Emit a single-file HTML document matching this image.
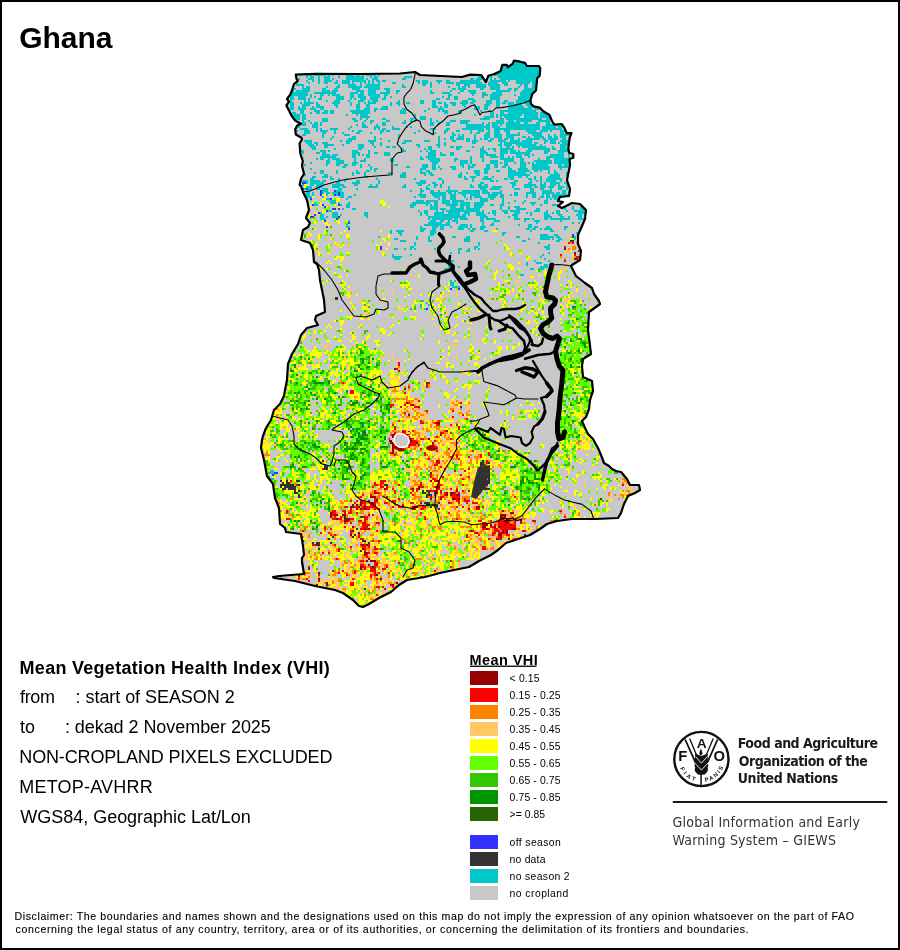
<!DOCTYPE html>
<html><head><meta charset="utf-8"><title>Ghana - Mean VHI</title>
<style>
html,body{margin:0;padding:0;background:#fff;}
body{width:900px;height:950px;overflow:hidden;position:relative;}
svg{display:block;position:absolute;left:0;top:0;}
</style></head>
<body>
<svg width="900" height="950" viewBox="0 0 900 950">
<defs>
<path id="motto" d="M678.1 759 A23.3 23.3 0 0 0 724.7 759"/>
</defs>
<rect x="0" y="0" width="900" height="950" fill="#fff"/>
<clipPath id="gclip"><path d="M295.8 74.5 L316 73.8 L360 74 L400 73.5 L415 72 L420 75 L462 77 L470 74.6 L481 75 L485.9 82 L488.3 75.8 L494.4 74 L500.6 70.9 L502.4 64.8 L506.7 64.8 L507.9 67.2 L512.8 63.6 L514 60.5 L520 61.7 L525 62.9 L526.8 66 L533.6 66 L539 66 L540.3 68.4 L539.7 75.8 L537.2 78.2 L536.6 84.3 L536 90.5 L532.3 94 L530.5 100.2 L531 103.9 L533.6 106.3 L539.7 107.6 L543.3 111.2 L549.5 115 L552 121 L554.4 124.7 L561.7 124 L564.7 128.3 L566.6 133.2 L571.5 133.2 L569.6 138 L568.4 148 L569 152.8 L573.3 154 L573.3 157.7 L569.6 159 L570 165 L567 180 L570 189 L569 196 L560 197 L558 201 L563 202 L558 206 L562 208 L572 203 L580 204 L586 210 L585 219 L582 226 L578 235 L578 244 L581 251 L580 260 L572 265 L571 266 L576 276 L585 283 L592 288 L594 294 L599 301 L600 304 L596 307 L589 312 L588 330 L589 338 L591 354 L583 359 L582 366 L583 377 L592 381 L593 391 L590 400 L589 409 L586 417 L582 421 L585 428 L588 434 L593 439 L598 448 L601 455 L604 463 L609 466 L612 469 L616 471 L621 472 L627 479 L630 485 L639 485 L640 490 L635 493 L628 496 L624 504 L621 513 L618 518 L596 519 L572 519 L557 521 L547 524 L540 529 L530 535 L518 539 L506 543 L498 550 L491 555 L479 561 L469 567 L454 570 L440 573 L425 577 L407 580 L399 585 L391 592 L379 598 L369 604 L363 607 L359 606 L353 600 L343 593 L335 590 L315 586 L295 581 L274 578 L273 577 L279 576 L291 575 L304 574 L303 568 L302 562 L302 558 L304 555 L303 546 L301 534 L286 532 L285 528 L280 524 L279 508 L275 498 L273 484 L267 476 L264 460 L261 448 L262 440 L263 436 L266 428 L271 420 L274 410 L280 404 L284 396 L285 390 L287 380 L288 364 L292 354 L298 344 L301 335 L307 328 L318 325 L315 320 L316 316 L325 312 L324 300 L322 290 L320 280 L319 270 L317 264 L314 262 L313 250 L310 243 L301 240 L303 230 L308 227 L310 223 L306 218 L309 210 L307 200 L303 192 L301 186 L299.6 185 L301 178.7 L304 173.7 L302 166 L302.8 161 L300.3 153.5 L299.6 143.3 L302 139.5 L301.5 137.7 L295.8 134.5 L295.2 129.4 L297 125.7 L300.9 123.8 L295.2 120.6 L291.4 115.5 L289 110.5 L286.4 105.4 L289 101.6 L287 99 L290.2 94.7 L292 90.3 L294 84 L297.7 80.8 L296.5 78.9 Z"/></clipPath>
<path d="M295.8 74.5 L316 73.8 L360 74 L400 73.5 L415 72 L420 75 L462 77 L470 74.6 L481 75 L485.9 82 L488.3 75.8 L494.4 74 L500.6 70.9 L502.4 64.8 L506.7 64.8 L507.9 67.2 L512.8 63.6 L514 60.5 L520 61.7 L525 62.9 L526.8 66 L533.6 66 L539 66 L540.3 68.4 L539.7 75.8 L537.2 78.2 L536.6 84.3 L536 90.5 L532.3 94 L530.5 100.2 L531 103.9 L533.6 106.3 L539.7 107.6 L543.3 111.2 L549.5 115 L552 121 L554.4 124.7 L561.7 124 L564.7 128.3 L566.6 133.2 L571.5 133.2 L569.6 138 L568.4 148 L569 152.8 L573.3 154 L573.3 157.7 L569.6 159 L570 165 L567 180 L570 189 L569 196 L560 197 L558 201 L563 202 L558 206 L562 208 L572 203 L580 204 L586 210 L585 219 L582 226 L578 235 L578 244 L581 251 L580 260 L572 265 L571 266 L576 276 L585 283 L592 288 L594 294 L599 301 L600 304 L596 307 L589 312 L588 330 L589 338 L591 354 L583 359 L582 366 L583 377 L592 381 L593 391 L590 400 L589 409 L586 417 L582 421 L585 428 L588 434 L593 439 L598 448 L601 455 L604 463 L609 466 L612 469 L616 471 L621 472 L627 479 L630 485 L639 485 L640 490 L635 493 L628 496 L624 504 L621 513 L618 518 L596 519 L572 519 L557 521 L547 524 L540 529 L530 535 L518 539 L506 543 L498 550 L491 555 L479 561 L469 567 L454 570 L440 573 L425 577 L407 580 L399 585 L391 592 L379 598 L369 604 L363 607 L359 606 L353 600 L343 593 L335 590 L315 586 L295 581 L274 578 L273 577 L279 576 L291 575 L304 574 L303 568 L302 562 L302 558 L304 555 L303 546 L301 534 L286 532 L285 528 L280 524 L279 508 L275 498 L273 484 L267 476 L264 460 L261 448 L262 440 L263 436 L266 428 L271 420 L274 410 L280 404 L284 396 L285 390 L287 380 L288 364 L292 354 L298 344 L301 335 L307 328 L318 325 L315 320 L316 316 L325 312 L324 300 L322 290 L320 280 L319 270 L317 264 L314 262 L313 250 L310 243 L301 240 L303 230 L308 227 L310 223 L306 218 L309 210 L307 200 L303 192 L301 186 L299.6 185 L301 178.7 L304 173.7 L302 166 L302.8 161 L300.3 153.5 L299.6 143.3 L302 139.5 L301.5 137.7 L295.8 134.5 L295.2 129.4 L297 125.7 L300.9 123.8 L295.2 120.6 L291.4 115.5 L289 110.5 L286.4 105.4 L289 101.6 L287 99 L290.2 94.7 L292 90.3 L294 84 L297.7 80.8 L296.5 78.9 Z" fill="#c8c8c8"/>
<defs>
<pattern id="p1" patternUnits="userSpaceOnUse" width="64" height="64">
<rect width="64" height="64" fill="#c8c8c8"/>
<path fill="#00c8c8" d="M34 2h2v2h-2zM30 4h2v2h-2zM14 6h2v2h-2zM14 8h2v2h-2zM20 12h8v2h-8zM18 14h4v2h-4zM0 16h2v2h-2zM32 16h4v2h-4zM62 16h2v2h-2zM8 18h4v2h-4zM34 18h4v2h-4zM18 20h2v2h-2zM36 20h4v2h-4zM44 20h4v2h-4zM54 20h2v2h-2zM18 22h4v2h-4zM44 22h4v2h-4zM0 24h6v2h-6zM46 24h2v2h-2zM54 24h4v2h-4zM0 26h6v2h-6zM6 30h4v2h-4zM6 32h4v2h-4zM10 36h4v2h-4zM36 36h4v2h-4zM22 38h4v2h-4zM36 38h4v2h-4zM46 38h6v2h-6zM46 40h6v2h-6zM54 40h4v2h-4zM46 42h4v2h-4zM54 42h2v2h-2zM4 44h4v2h-4zM18 44h4v2h-4zM44 44h2v2h-2zM16 46h6v2h-6zM44 46h2v2h-2zM16 48h6v2h-6zM44 48h4v2h-4zM30 50h2v2h-2zM56 50h2v2h-2zM30 52h2v2h-2zM58 52h2v2h-2zM26 54h4v2h-4zM58 54h2v2h-2zM10 56h4v2h-4zM20 56h2v2h-2zM26 56h2v2h-2zM30 56h2v2h-2zM50 56h2v2h-2zM56 56h2v2h-2zM0 58h2v2h-2zM10 58h2v2h-2zM18 58h4v2h-4zM48 58h10v2h-10zM0 60h4v2h-4zM10 60h2v2h-2zM22 62h2v2h-2zM26 62h2v2h-2z"/>
</pattern>
<pattern id="p2" patternUnits="userSpaceOnUse" width="64" height="64">
<rect width="64" height="64" fill="#c8c8c8"/>
<path fill="#00c8c8" d="M2 0h4v2h-4zM8 0h10v2h-10zM28 0h2v2h-2zM54 0h2v2h-2zM58 0h4v2h-4zM2 2h4v2h-4zM10 2h6v2h-6zM32 2h2v2h-2zM38 2h4v2h-4zM60 2h4v2h-4zM8 4h2v2h-2zM12 4h2v2h-2zM22 4h2v2h-2zM36 4h4v2h-4zM50 4h2v2h-2zM60 4h2v2h-2zM12 6h4v2h-4zM24 6h6v2h-6zM12 8h4v2h-4zM32 8h4v2h-4zM54 8h2v2h-2zM6 10h2v2h-2zM28 10h8v2h-8zM54 10h2v2h-2zM60 10h2v2h-2zM4 12h4v2h-4zM18 12h4v2h-4zM26 12h6v2h-6zM48 12h8v2h-8zM26 14h4v2h-4zM50 14h4v2h-4zM60 14h2v2h-2zM22 16h2v2h-2zM38 16h6v2h-6zM52 16h2v2h-2zM60 16h2v2h-2zM2 18h4v2h-4zM8 18h6v2h-6zM38 18h6v2h-6zM54 18h2v2h-2zM8 20h4v2h-4zM38 20h4v2h-4zM10 22h2v2h-2zM34 22h2v2h-2zM48 22h2v2h-2zM4 24h4v2h-4zM10 24h8v2h-8zM48 24h4v2h-4zM56 24h2v2h-2zM12 26h4v2h-4zM42 26h2v2h-2zM46 26h16v2h-16zM12 28h2v2h-2zM22 28h2v2h-2zM46 28h8v2h-8zM18 30h2v2h-2zM22 30h2v2h-2zM44 30h2v2h-2zM52 30h2v2h-2zM6 32h2v2h-2zM16 32h4v2h-4zM22 32h2v2h-2zM40 32h6v2h-6zM16 34h4v2h-4zM34 34h4v2h-4zM14 36h6v2h-6zM28 36h2v2h-2zM32 36h10v2h-10zM48 36h2v2h-2zM2 38h6v2h-6zM12 38h8v2h-8zM36 38h6v2h-6zM4 40h4v2h-4zM14 40h4v2h-4zM16 42h2v2h-2zM36 42h2v2h-2zM42 42h4v2h-4zM32 44h2v2h-2zM36 44h6v2h-6zM44 44h4v2h-4zM58 44h2v2h-2zM10 46h4v2h-4zM32 46h2v2h-2zM40 46h2v2h-2zM46 46h4v2h-4zM10 48h4v2h-4zM56 48h4v2h-4zM26 50h2v2h-2zM54 50h4v2h-4zM36 52h6v2h-6zM0 54h2v2h-2zM32 54h10v2h-10zM48 54h4v2h-4zM56 54h2v2h-2zM62 54h2v2h-2zM34 56h4v2h-4zM44 56h2v2h-2zM50 56h4v2h-4zM62 56h2v2h-2zM42 58h2v2h-2zM50 58h2v2h-2zM36 60h2v2h-2zM42 60h4v2h-4zM56 60h2v2h-2zM8 62h2v2h-2zM30 62h2v2h-2zM42 62h6v2h-6zM54 62h6v2h-6z"/>
</pattern>
<pattern id="p3" patternUnits="userSpaceOnUse" width="64" height="64">
<rect width="64" height="64" fill="#c8c8c8"/>
<path fill="#00c8c8" d="M0 0h2v2h-2zM14 0h10v2h-10zM30 0h8v2h-8zM50 0h4v2h-4zM62 0h2v2h-2zM0 2h8v2h-8zM14 2h2v2h-2zM20 2h4v2h-4zM30 2h2v2h-2zM34 2h8v2h-8zM48 2h8v2h-8zM2 4h4v2h-4zM14 4h2v2h-2zM20 4h4v2h-4zM28 4h4v2h-4zM34 4h8v2h-8zM48 4h8v2h-8zM2 6h2v2h-2zM26 6h2v2h-2zM34 6h2v2h-2zM46 6h4v2h-4zM54 6h2v2h-2zM2 8h2v2h-2zM12 8h2v2h-2zM26 8h2v2h-2zM32 8h4v2h-4zM10 10h2v2h-2zM26 10h2v2h-2zM32 10h4v2h-4zM24 12h6v2h-6zM40 12h6v2h-6zM54 12h2v2h-2zM2 14h6v2h-6zM24 14h4v2h-4zM54 14h2v2h-2zM58 14h4v2h-4zM4 16h10v2h-10zM52 16h6v2h-6zM60 16h2v2h-2zM4 18h4v2h-4zM24 18h2v2h-2zM34 18h2v2h-2zM44 18h4v2h-4zM54 18h6v2h-6zM14 20h2v2h-2zM32 20h4v2h-4zM40 20h2v2h-2zM44 20h4v2h-4zM56 20h4v2h-4zM6 22h2v2h-2zM32 22h6v2h-6zM46 22h2v2h-2zM2 24h4v2h-4zM32 24h8v2h-8zM60 24h4v2h-4zM2 26h2v2h-2zM12 26h6v2h-6zM32 26h4v2h-4zM38 26h10v2h-10zM10 28h6v2h-6zM32 28h4v2h-4zM42 28h8v2h-8zM2 30h2v2h-2zM12 30h8v2h-8zM34 30h2v2h-2zM60 30h2v2h-2zM6 32h4v2h-4zM16 32h8v2h-8zM34 32h2v2h-2zM6 34h4v2h-4zM16 34h8v2h-8zM32 34h6v2h-6zM52 34h4v2h-4zM6 36h2v2h-2zM16 36h4v2h-4zM24 36h4v2h-4zM32 36h4v2h-4zM42 36h4v2h-4zM52 36h2v2h-2zM22 38h4v2h-4zM42 38h4v2h-4zM52 38h2v2h-2zM42 40h4v2h-4zM52 40h4v2h-4zM0 42h4v2h-4zM16 42h2v2h-2zM26 42h10v2h-10zM42 42h4v2h-4zM50 42h2v2h-2zM56 42h4v2h-4zM62 42h2v2h-2zM0 44h4v2h-4zM16 44h2v2h-2zM26 44h12v2h-12zM42 44h2v2h-2zM56 44h8v2h-8zM4 46h4v2h-4zM28 46h16v2h-16zM58 46h6v2h-6zM2 48h6v2h-6zM10 48h2v2h-2zM20 48h8v2h-8zM32 48h8v2h-8zM42 48h4v2h-4zM54 48h2v2h-2zM60 48h4v2h-4zM10 50h4v2h-4zM18 50h2v2h-2zM24 50h2v2h-2zM36 50h2v2h-2zM42 50h4v2h-4zM48 50h2v2h-2zM18 52h2v2h-2zM24 52h2v2h-2zM42 52h4v2h-4zM48 52h2v2h-2zM2 54h6v2h-6zM16 54h4v2h-4zM32 54h4v2h-4zM2 56h6v2h-6zM12 56h12v2h-12zM30 56h4v2h-4zM36 56h4v2h-4zM0 58h2v2h-2zM12 58h8v2h-8zM22 58h4v2h-4zM30 58h10v2h-10zM44 58h10v2h-10zM62 58h2v2h-2zM0 60h2v2h-2zM18 60h4v2h-4zM32 60h6v2h-6zM42 60h10v2h-10zM62 60h2v2h-2zM18 62h4v2h-4zM30 62h10v2h-10zM50 62h4v2h-4z"/>
</pattern>
<pattern id="p4" patternUnits="userSpaceOnUse" width="64" height="64">
<rect width="64" height="64" fill="#c8c8c8"/>
<path fill="#00c8c8" d="M8 0h10v2h-10zM20 0h2v2h-2zM34 0h8v2h-8zM44 0h8v2h-8zM60 0h2v2h-2zM8 2h4v2h-4zM40 2h10v2h-10zM60 2h2v2h-2zM4 4h2v2h-2zM32 4h2v2h-2zM40 4h8v2h-8zM4 6h4v2h-4zM10 6h2v2h-2zM14 6h2v2h-2zM32 6h8v2h-8zM42 6h4v2h-4zM0 8h6v2h-6zM10 8h6v2h-6zM32 8h8v2h-8zM0 10h6v2h-6zM8 10h8v2h-8zM18 10h6v2h-6zM32 10h4v2h-4zM48 10h4v2h-4zM4 12h12v2h-12zM20 12h2v2h-2zM32 12h4v2h-4zM46 12h6v2h-6zM60 12h4v2h-4zM4 14h8v2h-8zM32 14h2v2h-2zM42 14h4v2h-4zM50 14h4v2h-4zM62 14h2v2h-2zM0 16h12v2h-12zM16 16h2v2h-2zM24 16h6v2h-6zM42 16h2v2h-2zM50 16h4v2h-4zM56 16h2v2h-2zM62 16h2v2h-2zM0 18h10v2h-10zM14 18h4v2h-4zM24 18h10v2h-10zM40 18h4v2h-4zM50 18h2v2h-2zM62 18h2v2h-2zM2 20h8v2h-8zM18 20h6v2h-6zM26 20h12v2h-12zM40 20h4v2h-4zM46 20h4v2h-4zM0 22h6v2h-6zM8 22h2v2h-2zM16 22h8v2h-8zM32 22h6v2h-6zM42 22h2v2h-2zM46 22h6v2h-6zM2 24h4v2h-4zM14 24h4v2h-4zM22 24h4v2h-4zM32 24h4v2h-4zM44 24h8v2h-8zM2 26h8v2h-8zM16 26h2v2h-2zM22 26h6v2h-6zM44 26h8v2h-8zM0 28h10v2h-10zM22 28h6v2h-6zM34 28h4v2h-4zM42 28h10v2h-10zM58 28h6v2h-6zM0 30h4v2h-4zM8 30h2v2h-2zM24 30h2v2h-2zM34 30h6v2h-6zM44 30h12v2h-12zM0 32h2v2h-2zM12 32h8v2h-8zM34 32h2v2h-2zM46 32h10v2h-10zM58 32h2v2h-2zM0 34h2v2h-2zM10 34h10v2h-10zM22 34h4v2h-4zM48 34h6v2h-6zM62 34h2v2h-2zM12 36h4v2h-4zM20 36h4v2h-4zM38 36h6v2h-6zM48 36h4v2h-4zM2 38h4v2h-4zM14 38h2v2h-2zM20 38h6v2h-6zM30 38h2v2h-2zM38 38h6v2h-6zM48 38h4v2h-4zM54 38h4v2h-4zM60 38h2v2h-2zM20 40h6v2h-6zM28 40h4v2h-4zM36 40h6v2h-6zM48 40h4v2h-4zM60 40h4v2h-4zM4 42h4v2h-4zM14 42h2v2h-2zM22 42h8v2h-8zM36 42h4v2h-4zM48 42h6v2h-6zM56 42h2v2h-2zM60 42h4v2h-4zM14 44h4v2h-4zM22 44h6v2h-6zM36 44h4v2h-4zM54 44h6v2h-6zM2 46h2v2h-2zM16 46h10v2h-10zM54 46h2v2h-2zM6 48h4v2h-4zM14 48h10v2h-10zM28 48h2v2h-2zM36 48h4v2h-4zM44 48h2v2h-2zM60 48h2v2h-2zM2 50h6v2h-6zM14 50h6v2h-6zM26 50h4v2h-4zM34 50h10v2h-10zM60 50h2v2h-2zM2 52h4v2h-4zM16 52h6v2h-6zM28 52h2v2h-2zM34 52h10v2h-10zM60 52h2v2h-2zM0 54h4v2h-4zM16 54h14v2h-14zM32 54h2v2h-2zM38 54h10v2h-10zM60 54h4v2h-4zM0 56h4v2h-4zM20 56h14v2h-14zM38 56h6v2h-6zM46 56h2v2h-2zM52 56h2v2h-2zM0 58h2v2h-2zM20 58h2v2h-2zM24 58h10v2h-10zM36 58h6v2h-6zM46 58h4v2h-4zM54 58h2v2h-2zM58 58h4v2h-4zM2 60h6v2h-6zM12 60h6v2h-6zM24 60h2v2h-2zM28 60h4v2h-4zM38 60h2v2h-2zM46 60h4v2h-4zM56 60h6v2h-6zM2 62h16v2h-16zM34 62h6v2h-6zM56 62h6v2h-6z"/>
</pattern>
<pattern id="p5" patternUnits="userSpaceOnUse" width="64" height="64">
<rect width="64" height="64" fill="#c8c8c8"/>
<path fill="#00c8c8" d="M0 0h6v2h-6zM10 0h2v2h-2zM14 0h26v2h-26zM46 0h18v2h-18zM0 2h6v2h-6zM10 2h2v2h-2zM16 2h16v2h-16zM34 2h6v2h-6zM48 2h16v2h-16zM2 4h6v2h-6zM14 4h10v2h-10zM26 4h6v2h-6zM36 4h2v2h-2zM50 4h10v2h-10zM2 6h6v2h-6zM12 6h4v2h-4zM20 6h4v2h-4zM42 6h2v2h-2zM54 6h6v2h-6zM0 8h8v2h-8zM12 8h4v2h-4zM32 8h8v2h-8zM42 8h4v2h-4zM50 8h14v2h-14zM0 10h10v2h-10zM12 10h2v2h-2zM18 10h2v2h-2zM26 10h20v2h-20zM50 10h6v2h-6zM58 10h6v2h-6zM0 12h10v2h-10zM18 12h2v2h-2zM26 12h10v2h-10zM42 12h2v2h-2zM50 12h2v2h-2zM54 12h4v2h-4zM62 12h2v2h-2zM0 14h10v2h-10zM12 14h2v2h-2zM26 14h10v2h-10zM52 14h6v2h-6zM62 14h2v2h-2zM4 16h12v2h-12zM22 16h10v2h-10zM50 16h2v2h-2zM54 16h10v2h-10zM0 18h2v2h-2zM6 18h4v2h-4zM22 18h12v2h-12zM52 18h2v2h-2zM56 18h2v2h-2zM0 20h2v2h-2zM16 20h4v2h-4zM28 20h6v2h-6zM44 20h4v2h-4zM54 20h4v2h-4zM62 20h2v2h-2zM0 22h4v2h-4zM6 22h2v2h-2zM16 22h4v2h-4zM28 22h4v2h-4zM46 22h2v2h-2zM50 22h8v2h-8zM62 22h2v2h-2zM0 24h18v2h-18zM46 24h10v2h-10zM62 24h2v2h-2zM4 26h12v2h-12zM20 26h2v2h-2zM38 26h16v2h-16zM56 26h4v2h-4zM0 28h2v2h-2zM4 28h6v2h-6zM30 28h4v2h-4zM38 28h14v2h-14zM56 28h4v2h-4zM0 30h2v2h-2zM8 30h2v2h-2zM26 30h2v2h-2zM42 30h10v2h-10zM56 30h2v2h-2zM62 30h2v2h-2zM0 32h2v2h-2zM22 32h18v2h-18zM42 32h8v2h-8zM56 32h8v2h-8zM2 34h2v2h-2zM10 34h2v2h-2zM20 34h2v2h-2zM24 34h16v2h-16zM42 34h8v2h-8zM52 34h2v2h-2zM56 34h4v2h-4zM10 36h6v2h-6zM20 36h16v2h-16zM46 36h4v2h-4zM56 36h4v2h-4zM10 38h6v2h-6zM20 38h18v2h-18zM46 38h4v2h-4zM54 38h4v2h-4zM60 38h2v2h-2zM6 40h6v2h-6zM20 40h18v2h-18zM60 40h4v2h-4zM0 42h4v2h-4zM6 42h6v2h-6zM22 42h4v2h-4zM30 42h8v2h-8zM42 42h2v2h-2zM60 42h4v2h-4zM0 44h8v2h-8zM10 44h4v2h-4zM18 44h2v2h-2zM32 44h6v2h-6zM42 44h4v2h-4zM48 44h4v2h-4zM60 44h4v2h-4zM0 46h8v2h-8zM10 46h4v2h-4zM30 46h2v2h-2zM36 46h16v2h-16zM60 46h4v2h-4zM0 48h2v2h-2zM6 48h8v2h-8zM16 48h2v2h-2zM22 48h2v2h-2zM36 48h14v2h-14zM60 48h4v2h-4zM0 50h2v2h-2zM8 50h4v2h-4zM16 50h4v2h-4zM22 50h2v2h-2zM36 50h12v2h-12zM56 50h4v2h-4zM62 50h2v2h-2zM16 52h2v2h-2zM22 52h2v2h-2zM28 52h2v2h-2zM38 52h12v2h-12zM54 52h10v2h-10zM14 54h4v2h-4zM22 54h4v2h-4zM34 54h2v2h-2zM40 54h2v2h-2zM46 54h2v2h-2zM52 54h12v2h-12zM4 56h4v2h-4zM14 56h6v2h-6zM40 56h8v2h-8zM54 56h4v2h-4zM60 56h4v2h-4zM32 58h4v2h-4zM40 58h12v2h-12zM54 58h2v2h-2zM60 58h4v2h-4zM0 60h2v2h-2zM12 60h2v2h-2zM22 60h18v2h-18zM42 60h8v2h-8zM54 60h2v2h-2zM60 60h4v2h-4zM0 62h4v2h-4zM8 62h6v2h-6zM20 62h24v2h-24zM46 62h4v2h-4zM54 62h10v2h-10z"/>
</pattern>
<pattern id="p6" patternUnits="userSpaceOnUse" width="64" height="64">
<rect width="64" height="64" fill="#c8c8c8"/>
<path fill="#00c8c8" d="M0 0h4v2h-4zM6 0h2v2h-2zM10 0h26v2h-26zM38 0h12v2h-12zM56 0h6v2h-6zM2 2h6v2h-6zM14 2h4v2h-4zM24 2h12v2h-12zM40 2h12v2h-12zM56 2h6v2h-6zM2 4h6v2h-6zM16 4h2v2h-2zM24 4h6v2h-6zM38 4h14v2h-14zM58 4h4v2h-4zM2 6h6v2h-6zM18 6h2v2h-2zM24 6h6v2h-6zM36 6h18v2h-18zM58 6h4v2h-4zM6 8h2v2h-2zM10 8h4v2h-4zM16 8h6v2h-6zM24 8h8v2h-8zM36 8h18v2h-18zM58 8h4v2h-4zM6 10h2v2h-2zM14 10h6v2h-6zM30 10h4v2h-4zM36 10h4v2h-4zM42 10h2v2h-2zM46 10h8v2h-8zM56 10h4v2h-4zM10 12h10v2h-10zM30 12h14v2h-14zM50 12h8v2h-8zM4 14h16v2h-16zM22 14h4v2h-4zM28 14h16v2h-16zM46 14h2v2h-2zM52 14h2v2h-2zM56 14h8v2h-8zM0 16h24v2h-24zM28 16h8v2h-8zM52 16h2v2h-2zM56 16h8v2h-8zM0 18h8v2h-8zM10 18h24v2h-24zM40 18h2v2h-2zM52 18h2v2h-2zM58 18h6v2h-6zM0 20h8v2h-8zM16 20h16v2h-16zM40 20h4v2h-4zM50 20h14v2h-14zM2 22h6v2h-6zM14 22h4v2h-4zM20 22h18v2h-18zM50 22h10v2h-10zM2 24h2v2h-2zM8 24h10v2h-10zM24 24h4v2h-4zM30 24h10v2h-10zM46 24h14v2h-14zM0 26h2v2h-2zM6 26h4v2h-4zM12 26h8v2h-8zM24 26h4v2h-4zM36 26h4v2h-4zM48 26h8v2h-8zM0 28h10v2h-10zM16 28h4v2h-4zM22 28h6v2h-6zM30 28h8v2h-8zM44 28h12v2h-12zM60 28h4v2h-4zM0 30h12v2h-12zM20 30h14v2h-14zM38 30h26v2h-26zM8 32h4v2h-4zM18 32h6v2h-6zM26 32h8v2h-8zM38 32h22v2h-22zM4 34h10v2h-10zM16 34h4v2h-4zM22 34h2v2h-2zM26 34h6v2h-6zM34 34h2v2h-2zM40 34h18v2h-18zM4 36h10v2h-10zM22 36h4v2h-4zM34 36h4v2h-4zM42 36h4v2h-4zM48 36h2v2h-2zM52 36h6v2h-6zM0 38h2v2h-2zM4 38h10v2h-10zM22 38h4v2h-4zM34 38h6v2h-6zM42 38h14v2h-14zM60 38h4v2h-4zM0 40h16v2h-16zM18 40h4v2h-4zM28 40h4v2h-4zM34 40h6v2h-6zM42 40h8v2h-8zM60 40h4v2h-4zM0 42h22v2h-22zM28 42h6v2h-6zM38 42h10v2h-10zM60 42h4v2h-4zM0 44h14v2h-14zM20 44h2v2h-2zM28 44h8v2h-8zM42 44h4v2h-4zM54 44h4v2h-4zM62 44h2v2h-2zM0 46h18v2h-18zM30 46h18v2h-18zM54 46h6v2h-6zM0 48h4v2h-4zM8 48h2v2h-2zM14 48h2v2h-2zM20 48h2v2h-2zM30 48h18v2h-18zM0 50h4v2h-4zM16 50h6v2h-6zM30 50h12v2h-12zM46 50h4v2h-4zM4 52h4v2h-4zM14 52h10v2h-10zM28 52h14v2h-14zM46 52h4v2h-4zM6 54h2v2h-2zM10 54h8v2h-8zM24 54h8v2h-8zM38 54h6v2h-6zM46 54h4v2h-4zM56 54h6v2h-6zM6 56h2v2h-2zM10 56h12v2h-12zM24 56h4v2h-4zM42 56h4v2h-4zM48 56h2v2h-2zM56 56h6v2h-6zM12 58h16v2h-16zM34 58h2v2h-2zM40 58h6v2h-6zM56 58h2v2h-2zM60 58h4v2h-4zM0 60h8v2h-8zM12 60h18v2h-18zM32 60h4v2h-4zM38 60h4v2h-4zM44 60h10v2h-10zM56 60h2v2h-2zM62 60h2v2h-2zM0 62h10v2h-10zM14 62h30v2h-30zM46 62h4v2h-4zM52 62h2v2h-2zM62 62h2v2h-2z"/>
</pattern>
<pattern id="p7" patternUnits="userSpaceOnUse" width="64" height="64">
<rect width="64" height="64" fill="#c8c8c8"/>
<path fill="#00c8c8" d="M2 0h2v2h-2zM6 0h6v2h-6zM16 0h12v2h-12zM30 0h10v2h-10zM46 0h16v2h-16zM14 2h10v2h-10zM30 2h12v2h-12zM46 2h16v2h-16zM6 4h2v2h-2zM14 4h14v2h-14zM32 4h10v2h-10zM46 4h6v2h-6zM54 4h4v2h-4zM60 4h2v2h-2zM0 6h8v2h-8zM10 6h8v2h-8zM20 6h10v2h-10zM32 6h4v2h-4zM38 6h2v2h-2zM46 6h18v2h-18zM0 8h2v2h-2zM12 8h4v2h-4zM22 8h18v2h-18zM46 8h8v2h-8zM58 8h6v2h-6zM0 10h2v2h-2zM6 10h4v2h-4zM12 10h20v2h-20zM34 10h4v2h-4zM42 10h4v2h-4zM50 10h4v2h-4zM58 10h6v2h-6zM0 12h2v2h-2zM4 12h44v2h-44zM50 12h4v2h-4zM62 12h2v2h-2zM8 14h8v2h-8zM18 14h36v2h-36zM8 16h8v2h-8zM18 16h12v2h-12zM32 16h22v2h-22zM56 16h6v2h-6zM0 18h16v2h-16zM18 18h8v2h-8zM28 18h2v2h-2zM32 18h2v2h-2zM42 18h8v2h-8zM52 18h2v2h-2zM58 18h2v2h-2zM62 18h2v2h-2zM0 20h26v2h-26zM28 20h8v2h-8zM42 20h18v2h-18zM0 22h20v2h-20zM22 22h42v2h-42zM0 24h20v2h-20zM24 24h4v2h-4zM32 24h20v2h-20zM56 24h8v2h-8zM0 26h4v2h-4zM6 26h4v2h-4zM12 26h16v2h-16zM32 26h6v2h-6zM40 26h6v2h-6zM48 26h4v2h-4zM56 26h8v2h-8zM0 28h28v2h-28zM32 28h20v2h-20zM56 28h8v2h-8zM0 30h26v2h-26zM30 30h34v2h-34zM0 32h8v2h-8zM10 32h16v2h-16zM30 32h8v2h-8zM42 32h4v2h-4zM48 32h4v2h-4zM54 32h10v2h-10zM0 34h6v2h-6zM10 34h4v2h-4zM16 34h12v2h-12zM34 34h4v2h-4zM42 34h10v2h-10zM56 34h4v2h-4zM0 36h8v2h-8zM18 36h14v2h-14zM34 36h4v2h-4zM40 36h4v2h-4zM48 36h2v2h-2zM52 36h12v2h-12zM20 38h2v2h-2zM24 38h12v2h-12zM44 38h2v2h-2zM48 38h8v2h-8zM58 38h6v2h-6zM2 40h2v2h-2zM10 40h12v2h-12zM28 40h2v2h-2zM32 40h6v2h-6zM46 40h10v2h-10zM58 40h6v2h-6zM2 42h4v2h-4zM10 42h12v2h-12zM24 42h4v2h-4zM32 42h6v2h-6zM46 42h4v2h-4zM58 42h6v2h-6zM8 44h12v2h-12zM22 44h14v2h-14zM44 44h6v2h-6zM54 44h2v2h-2zM58 44h4v2h-4zM0 46h6v2h-6zM8 46h8v2h-8zM20 46h4v2h-4zM28 46h4v2h-4zM38 46h2v2h-2zM46 46h16v2h-16zM0 48h4v2h-4zM6 48h18v2h-18zM28 48h6v2h-6zM38 48h4v2h-4zM46 48h18v2h-18zM0 50h2v2h-2zM6 50h20v2h-20zM38 50h26v2h-26zM0 52h4v2h-4zM6 52h14v2h-14zM22 52h4v2h-4zM38 52h6v2h-6zM46 52h10v2h-10zM60 52h4v2h-4zM0 54h2v2h-2zM4 54h6v2h-6zM14 54h6v2h-6zM26 54h8v2h-8zM38 54h4v2h-4zM46 54h10v2h-10zM60 54h4v2h-4zM4 56h6v2h-6zM16 56h4v2h-4zM26 56h14v2h-14zM48 56h16v2h-16zM6 58h4v2h-4zM16 58h2v2h-2zM24 58h4v2h-4zM34 58h4v2h-4zM44 58h20v2h-20zM0 60h10v2h-10zM16 60h12v2h-12zM34 60h4v2h-4zM44 60h6v2h-6zM52 60h12v2h-12zM0 62h4v2h-4zM6 62h6v2h-6zM18 62h10v2h-10zM30 62h10v2h-10zM44 62h20v2h-20z"/>
</pattern>
<pattern id="p8" patternUnits="userSpaceOnUse" width="64" height="64">
<rect width="64" height="64" fill="#c8c8c8"/>
<path fill="#00c8c8" d="M0 0h50v2h-50zM52 0h12v2h-12zM0 2h10v2h-10zM14 2h20v2h-20zM38 2h26v2h-26zM0 4h6v2h-6zM10 4h22v2h-22zM40 4h24v2h-24zM0 6h2v2h-2zM10 6h4v2h-4zM20 6h12v2h-12zM34 6h8v2h-8zM44 6h4v2h-4zM52 6h12v2h-12zM4 8h10v2h-10zM24 8h8v2h-8zM34 8h12v2h-12zM52 8h12v2h-12zM4 10h6v2h-6zM12 10h20v2h-20zM38 10h8v2h-8zM48 10h14v2h-14zM2 12h8v2h-8zM16 12h12v2h-12zM30 12h4v2h-4zM38 12h24v2h-24zM0 14h8v2h-8zM16 14h12v2h-12zM30 14h4v2h-4zM38 14h8v2h-8zM50 14h6v2h-6zM58 14h6v2h-6zM0 16h12v2h-12zM18 16h8v2h-8zM30 16h6v2h-6zM38 16h8v2h-8zM48 16h8v2h-8zM60 16h4v2h-4zM0 18h42v2h-42zM44 18h2v2h-2zM48 18h6v2h-6zM58 18h2v2h-2zM0 20h8v2h-8zM10 20h22v2h-22zM36 20h6v2h-6zM46 20h14v2h-14zM0 22h42v2h-42zM44 22h20v2h-20zM0 24h2v2h-2zM4 24h36v2h-36zM48 24h16v2h-16zM0 26h10v2h-10zM16 26h22v2h-22zM40 26h4v2h-4zM48 26h16v2h-16zM0 28h10v2h-10zM14 28h2v2h-2zM20 28h8v2h-8zM30 28h14v2h-14zM48 28h16v2h-16zM0 30h8v2h-8zM12 30h4v2h-4zM22 30h14v2h-14zM38 30h6v2h-6zM48 30h2v2h-2zM54 30h10v2h-10zM0 32h4v2h-4zM6 32h2v2h-2zM12 32h4v2h-4zM20 32h26v2h-26zM54 32h10v2h-10zM0 34h4v2h-4zM6 34h2v2h-2zM12 34h12v2h-12zM26 34h20v2h-20zM52 34h12v2h-12zM0 36h4v2h-4zM6 36h18v2h-18zM28 36h36v2h-36zM0 38h10v2h-10zM12 38h12v2h-12zM28 38h32v2h-32zM62 38h2v2h-2zM0 40h10v2h-10zM14 40h10v2h-10zM30 40h2v2h-2zM34 40h20v2h-20zM60 40h4v2h-4zM0 42h2v2h-2zM6 42h6v2h-6zM16 42h2v2h-2zM20 42h6v2h-6zM30 42h26v2h-26zM58 42h6v2h-6zM0 44h2v2h-2zM6 44h12v2h-12zM20 44h6v2h-6zM30 44h34v2h-34zM0 46h24v2h-24zM30 46h34v2h-34zM0 48h26v2h-26zM28 48h28v2h-28zM60 48h4v2h-4zM0 50h10v2h-10zM12 50h14v2h-14zM28 50h16v2h-16zM46 50h18v2h-18zM0 52h8v2h-8zM12 52h14v2h-14zM28 52h14v2h-14zM46 52h8v2h-8zM56 52h8v2h-8zM0 54h30v2h-30zM34 54h22v2h-22zM58 54h6v2h-6zM0 56h2v2h-2zM4 56h14v2h-14zM20 56h6v2h-6zM34 56h22v2h-22zM60 56h4v2h-4zM0 58h2v2h-2zM12 58h4v2h-4zM20 58h6v2h-6zM30 58h26v2h-26zM58 58h6v2h-6zM0 60h2v2h-2zM8 60h14v2h-14zM24 60h2v2h-2zM28 60h18v2h-18zM50 60h4v2h-4zM58 60h6v2h-6zM0 62h20v2h-20zM24 62h28v2h-28zM58 62h6v2h-6z"/>
</pattern>
<pattern id="p9" patternUnits="userSpaceOnUse" width="64" height="64">
<rect width="64" height="64" fill="#c8c8c8"/>
<path fill="#00c8c8" d="M0 0h64v2h-64zM0 2h64v2h-64zM0 4h64v2h-64zM0 6h44v2h-44zM46 6h18v2h-18zM0 8h30v2h-30zM32 8h32v2h-32zM0 10h64v2h-64zM0 12h36v2h-36zM38 12h26v2h-26zM0 14h64v2h-64zM0 16h64v2h-64zM0 18h18v2h-18zM20 18h44v2h-44zM0 20h10v2h-10zM12 20h4v2h-4zM20 20h44v2h-44zM0 22h8v2h-8zM12 22h4v2h-4zM20 22h44v2h-44zM0 24h8v2h-8zM12 24h52v2h-52zM0 26h8v2h-8zM10 26h54v2h-54zM0 28h60v2h-60zM0 30h64v2h-64zM0 32h64v2h-64zM0 34h64v2h-64zM0 36h20v2h-20zM22 36h42v2h-42zM0 38h18v2h-18zM24 38h4v2h-4zM30 38h34v2h-34zM0 40h16v2h-16zM22 40h8v2h-8zM32 40h32v2h-32zM0 42h8v2h-8zM12 42h4v2h-4zM18 42h20v2h-20zM42 42h18v2h-18zM62 42h2v2h-2zM0 44h38v2h-38zM40 44h24v2h-24zM0 46h64v2h-64zM0 48h28v2h-28zM30 48h34v2h-34zM2 50h62v2h-62zM0 52h2v2h-2zM6 52h58v2h-58zM0 54h2v2h-2zM6 54h46v2h-46zM54 54h10v2h-10zM0 56h2v2h-2zM4 56h60v2h-60zM0 58h64v2h-64zM0 60h64v2h-64zM0 62h34v2h-34zM36 62h28v2h-28z"/>
</pattern>
<pattern id="pUK" patternUnits="userSpaceOnUse" width="64" height="64">
<rect width="64" height="64" fill="#c8c8c8"/>
<path fill="#323232" d="M0 0h6v2h-6zM8 0h2v2h-2zM12 0h4v2h-4zM20 0h10v2h-10zM34 0h4v2h-4zM40 0h4v2h-4zM48 0h6v2h-6zM56 0h8v2h-8zM0 2h2v2h-2zM4 2h6v2h-6zM12 2h2v2h-2zM18 2h2v2h-2zM24 2h4v2h-4zM32 2h4v2h-4zM40 2h4v2h-4zM48 2h6v2h-6zM56 2h8v2h-8zM2 4h10v2h-10zM16 4h6v2h-6zM26 4h2v2h-2zM30 4h6v2h-6zM40 4h6v2h-6zM52 4h12v2h-12zM0 6h8v2h-8zM10 6h4v2h-4zM16 6h8v2h-8zM26 6h2v2h-2zM30 6h26v2h-26zM58 6h6v2h-6zM2 8h4v2h-4zM14 8h8v2h-8zM24 8h18v2h-18zM46 8h6v2h-6zM58 8h4v2h-4zM0 10h22v2h-22zM28 10h16v2h-16zM52 10h6v2h-6zM60 10h4v2h-4zM0 12h34v2h-34zM36 12h22v2h-22zM60 12h4v2h-4zM0 14h32v2h-32zM34 14h30v2h-30zM0 16h6v2h-6zM8 16h2v2h-2zM12 16h22v2h-22zM40 16h8v2h-8zM50 16h14v2h-14zM0 18h10v2h-10zM12 18h18v2h-18zM32 18h18v2h-18zM54 18h10v2h-10zM0 20h4v2h-4zM8 20h8v2h-8zM18 20h4v2h-4zM24 20h8v2h-8zM34 20h6v2h-6zM42 20h18v2h-18zM0 22h4v2h-4zM6 22h4v2h-4zM12 22h10v2h-10zM24 22h40v2h-40zM0 24h8v2h-8zM10 24h12v2h-12zM26 24h4v2h-4zM32 24h12v2h-12zM46 24h18v2h-18zM0 26h8v2h-8zM10 26h22v2h-22zM34 26h4v2h-4zM40 26h18v2h-18zM60 26h4v2h-4zM0 28h14v2h-14zM18 28h6v2h-6zM26 28h12v2h-12zM40 28h12v2h-12zM54 28h10v2h-10zM0 30h14v2h-14zM16 30h8v2h-8zM26 30h6v2h-6zM40 30h4v2h-4zM46 30h6v2h-6zM54 30h10v2h-10zM0 32h4v2h-4zM6 32h6v2h-6zM18 32h2v2h-2zM22 32h24v2h-24zM50 32h14v2h-14zM2 34h6v2h-6zM10 34h4v2h-4zM18 34h28v2h-28zM54 34h10v2h-10zM2 36h14v2h-14zM18 36h6v2h-6zM30 36h4v2h-4zM36 36h4v2h-4zM44 36h20v2h-20zM0 38h14v2h-14zM18 38h6v2h-6zM26 38h12v2h-12zM42 38h2v2h-2zM46 38h10v2h-10zM58 38h6v2h-6zM0 40h14v2h-14zM16 40h30v2h-30zM48 40h8v2h-8zM58 40h4v2h-4zM0 42h4v2h-4zM6 42h6v2h-6zM16 42h4v2h-4zM22 42h4v2h-4zM30 42h10v2h-10zM44 42h20v2h-20zM0 44h2v2h-2zM6 44h6v2h-6zM14 44h6v2h-6zM22 44h6v2h-6zM32 44h32v2h-32zM0 46h12v2h-12zM14 46h16v2h-16zM34 46h30v2h-30zM0 48h12v2h-12zM18 48h2v2h-2zM24 48h16v2h-16zM42 48h4v2h-4zM48 48h2v2h-2zM54 48h2v2h-2zM60 48h4v2h-4zM0 50h12v2h-12zM14 50h6v2h-6zM24 50h4v2h-4zM32 50h18v2h-18zM52 50h4v2h-4zM62 50h2v2h-2zM0 52h28v2h-28zM32 52h16v2h-16zM50 52h14v2h-14zM2 54h26v2h-26zM32 54h10v2h-10zM46 54h2v2h-2zM50 54h14v2h-14zM0 56h22v2h-22zM26 56h2v2h-2zM30 56h2v2h-2zM34 56h8v2h-8zM46 56h18v2h-18zM0 58h2v2h-2zM4 58h42v2h-42zM48 58h6v2h-6zM58 58h6v2h-6zM0 60h2v2h-2zM4 60h22v2h-22zM28 60h4v2h-4zM34 60h20v2h-20zM56 60h8v2h-8zM0 62h14v2h-14zM20 62h10v2h-10zM34 62h30v2h-30z"/>
<path fill="#ffc864" d="M10 0h2v2h-2zM16 0h4v2h-4zM30 0h2v2h-2zM38 0h2v2h-2zM44 0h4v2h-4zM2 2h2v2h-2zM10 2h2v2h-2zM14 2h4v2h-4zM20 2h4v2h-4zM28 2h2v2h-2zM36 2h4v2h-4zM46 2h2v2h-2zM54 2h2v2h-2zM14 4h2v2h-2zM22 4h4v2h-4zM28 4h2v2h-2zM38 4h2v2h-2zM50 4h2v2h-2zM8 6h2v2h-2zM56 6h2v2h-2zM0 8h2v2h-2zM6 8h2v2h-2zM12 8h2v2h-2zM22 8h2v2h-2zM56 8h2v2h-2zM26 10h2v2h-2zM46 10h2v2h-2zM50 10h2v2h-2zM6 16h2v2h-2zM10 16h2v2h-2zM36 16h2v2h-2zM48 16h2v2h-2zM10 18h2v2h-2zM30 18h2v2h-2zM52 18h2v2h-2zM6 20h2v2h-2zM16 20h2v2h-2zM62 20h2v2h-2zM22 22h2v2h-2zM24 24h2v2h-2zM30 24h2v2h-2zM44 24h2v2h-2zM32 26h2v2h-2zM14 28h4v2h-4zM24 28h2v2h-2zM52 28h2v2h-2zM24 30h2v2h-2zM36 30h4v2h-4zM52 30h2v2h-2zM12 32h2v2h-2zM16 32h2v2h-2zM46 32h4v2h-4zM0 34h2v2h-2zM14 34h4v2h-4zM52 34h2v2h-2zM0 36h2v2h-2zM24 36h4v2h-4zM56 38h2v2h-2zM46 40h2v2h-2zM56 40h2v2h-2zM62 40h2v2h-2zM4 42h2v2h-2zM12 42h2v2h-2zM26 42h2v2h-2zM40 42h4v2h-4zM2 44h4v2h-4zM28 44h4v2h-4zM32 46h2v2h-2zM12 48h2v2h-2zM16 48h2v2h-2zM46 48h2v2h-2zM52 48h2v2h-2zM12 50h2v2h-2zM28 50h2v2h-2zM56 50h6v2h-6zM48 52h2v2h-2zM0 54h2v2h-2zM30 54h2v2h-2zM42 54h4v2h-4zM32 56h2v2h-2zM46 58h2v2h-2zM54 58h4v2h-4zM2 60h2v2h-2zM30 62h2v2h-2z"/>
<path fill="#ff8200" d="M32 0h2v2h-2zM54 0h2v2h-2zM30 2h2v2h-2zM44 2h2v2h-2zM36 4h2v2h-2zM46 4h4v2h-4zM24 6h2v2h-2zM8 8h4v2h-4zM52 8h4v2h-4zM62 8h2v2h-2zM22 10h4v2h-4zM48 10h2v2h-2zM38 16h2v2h-2zM50 18h2v2h-2zM4 20h2v2h-2zM22 20h2v2h-2zM32 20h2v2h-2zM40 20h2v2h-2zM60 20h2v2h-2zM4 22h2v2h-2zM22 24h2v2h-2zM38 26h2v2h-2zM58 26h2v2h-2zM38 28h2v2h-2zM14 30h2v2h-2zM4 32h2v2h-2zM14 32h2v2h-2zM28 36h2v2h-2zM24 38h2v2h-2zM38 38h2v2h-2zM44 38h2v2h-2zM28 42h2v2h-2zM30 46h2v2h-2zM14 48h2v2h-2zM50 48h2v2h-2zM56 48h2v2h-2zM50 50h2v2h-2zM48 54h2v2h-2zM42 56h4v2h-4zM2 58h2v2h-2zM26 60h2v2h-2zM32 60h2v2h-2zM14 62h6v2h-6zM32 62h2v2h-2z"/>
</pattern>
<pattern id="pUR" patternUnits="userSpaceOnUse" width="64" height="64">
<rect width="64" height="64" fill="#c8c8c8"/>
<path fill="#960000" d="M0 0h2v2h-2zM10 0h10v2h-10zM24 0h10v2h-10zM36 0h4v2h-4zM42 0h14v2h-14zM58 0h6v2h-6zM0 2h2v2h-2zM4 2h4v2h-4zM14 2h6v2h-6zM24 2h14v2h-14zM40 2h6v2h-6zM54 2h10v2h-10zM0 4h2v2h-2zM14 4h2v2h-2zM20 4h10v2h-10zM32 4h6v2h-6zM40 4h6v2h-6zM48 4h2v2h-2zM58 4h6v2h-6zM0 6h2v2h-2zM12 6h2v2h-2zM18 6h8v2h-8zM32 6h6v2h-6zM42 6h2v2h-2zM46 6h2v2h-2zM56 6h8v2h-8zM0 8h4v2h-4zM6 8h8v2h-8zM22 8h4v2h-4zM34 8h4v2h-4zM40 8h4v2h-4zM48 8h2v2h-2zM56 8h6v2h-6zM0 10h10v2h-10zM20 10h4v2h-4zM28 10h4v2h-4zM34 10h2v2h-2zM38 10h6v2h-6zM52 10h2v2h-2zM56 10h6v2h-6zM0 12h2v2h-2zM8 12h8v2h-8zM18 12h4v2h-4zM28 12h4v2h-4zM38 12h4v2h-4zM44 12h4v2h-4zM50 12h2v2h-2zM56 12h4v2h-4zM2 14h16v2h-16zM24 14h6v2h-6zM32 14h6v2h-6zM40 14h4v2h-4zM46 14h6v2h-6zM58 14h4v2h-4zM2 16h18v2h-18zM24 16h4v2h-4zM32 16h2v2h-2zM36 16h8v2h-8zM46 16h8v2h-8zM58 16h6v2h-6zM0 18h2v2h-2zM4 18h10v2h-10zM16 18h4v2h-4zM24 18h6v2h-6zM32 18h2v2h-2zM50 18h14v2h-14zM4 20h4v2h-4zM18 20h16v2h-16zM38 20h2v2h-2zM42 20h2v2h-2zM46 20h8v2h-8zM58 20h2v2h-2zM62 20h2v2h-2zM12 22h14v2h-14zM28 22h4v2h-4zM34 22h2v2h-2zM42 22h2v2h-2zM46 22h10v2h-10zM58 22h2v2h-2zM14 24h12v2h-12zM28 24h22v2h-22zM54 24h2v2h-2zM58 24h4v2h-4zM4 26h2v2h-2zM14 26h4v2h-4zM20 26h4v2h-4zM28 26h6v2h-6zM36 26h4v2h-4zM42 26h12v2h-12zM62 26h2v2h-2zM0 28h2v2h-2zM4 28h2v2h-2zM12 28h10v2h-10zM24 28h10v2h-10zM38 28h4v2h-4zM44 28h6v2h-6zM54 28h6v2h-6zM0 30h4v2h-4zM6 30h28v2h-28zM36 30h6v2h-6zM44 30h4v2h-4zM60 30h2v2h-2zM0 32h2v2h-2zM8 32h4v2h-4zM14 32h8v2h-8zM30 32h2v2h-2zM38 32h8v2h-8zM50 32h2v2h-2zM58 32h6v2h-6zM0 34h4v2h-4zM14 34h8v2h-8zM28 34h2v2h-2zM34 34h8v2h-8zM58 34h6v2h-6zM0 36h2v2h-2zM14 36h8v2h-8zM26 36h2v2h-2zM34 36h8v2h-8zM50 36h4v2h-4zM56 36h8v2h-8zM4 38h6v2h-6zM14 38h8v2h-8zM26 38h4v2h-4zM32 38h6v2h-6zM40 38h6v2h-6zM56 38h6v2h-6zM0 40h4v2h-4zM6 40h2v2h-2zM10 40h2v2h-2zM18 40h4v2h-4zM26 40h2v2h-2zM40 40h4v2h-4zM54 40h2v2h-2zM58 40h6v2h-6zM2 42h2v2h-2zM10 42h6v2h-6zM20 42h6v2h-6zM30 42h20v2h-20zM52 42h4v2h-4zM60 42h2v2h-2zM6 44h6v2h-6zM24 44h20v2h-20zM46 44h2v2h-2zM50 44h6v2h-6zM58 44h4v2h-4zM4 46h4v2h-4zM20 46h4v2h-4zM30 46h18v2h-18zM50 46h8v2h-8zM0 48h2v2h-2zM6 48h2v2h-2zM18 48h6v2h-6zM30 48h2v2h-2zM34 48h6v2h-6zM50 48h8v2h-8zM8 50h2v2h-2zM16 50h8v2h-8zM28 50h4v2h-4zM36 50h8v2h-8zM48 50h6v2h-6zM58 50h4v2h-4zM0 52h6v2h-6zM8 52h4v2h-4zM16 52h12v2h-12zM30 52h6v2h-6zM38 52h14v2h-14zM58 52h6v2h-6zM0 54h4v2h-4zM16 54h4v2h-4zM24 54h8v2h-8zM36 54h6v2h-6zM48 54h4v2h-4zM54 54h6v2h-6zM4 56h4v2h-4zM12 56h6v2h-6zM24 56h2v2h-2zM28 56h4v2h-4zM38 56h2v2h-2zM58 56h4v2h-4zM6 58h4v2h-4zM12 58h4v2h-4zM20 58h2v2h-2zM44 58h10v2h-10zM60 58h4v2h-4zM8 60h2v2h-2zM14 60h8v2h-8zM28 60h2v2h-2zM34 60h2v2h-2zM38 60h4v2h-4zM44 60h6v2h-6zM54 60h2v2h-2zM0 62h2v2h-2zM8 62h6v2h-6zM16 62h4v2h-4zM32 62h8v2h-8zM42 62h8v2h-8zM52 62h4v2h-4zM62 62h2v2h-2z"/>
<path fill="#ff0000" d="M2 0h8v2h-8zM20 0h2v2h-2zM34 0h2v2h-2zM40 0h2v2h-2zM56 0h2v2h-2zM2 2h2v2h-2zM8 2h2v2h-2zM20 2h2v2h-2zM38 2h2v2h-2zM46 2h8v2h-8zM2 4h4v2h-4zM30 4h2v2h-2zM38 4h2v2h-2zM46 4h2v2h-2zM50 4h4v2h-4zM56 4h2v2h-2zM4 6h2v2h-2zM26 6h2v2h-2zM38 6h4v2h-4zM44 6h2v2h-2zM48 6h8v2h-8zM4 8h2v2h-2zM18 8h4v2h-4zM28 8h6v2h-6zM38 8h2v2h-2zM44 8h2v2h-2zM50 8h6v2h-6zM62 8h2v2h-2zM10 10h6v2h-6zM18 10h2v2h-2zM32 10h2v2h-2zM36 10h2v2h-2zM48 10h4v2h-4zM54 10h2v2h-2zM62 10h2v2h-2zM2 12h2v2h-2zM6 12h2v2h-2zM22 12h2v2h-2zM32 12h6v2h-6zM42 12h2v2h-2zM48 12h2v2h-2zM52 12h2v2h-2zM60 12h4v2h-4zM0 14h2v2h-2zM18 14h6v2h-6zM38 14h2v2h-2zM44 14h2v2h-2zM62 14h2v2h-2zM0 16h2v2h-2zM22 16h2v2h-2zM34 16h2v2h-2zM54 16h2v2h-2zM2 18h2v2h-2zM14 18h2v2h-2zM20 18h4v2h-4zM34 18h10v2h-10zM46 18h4v2h-4zM0 20h2v2h-2zM8 20h10v2h-10zM34 20h2v2h-2zM40 20h2v2h-2zM44 20h2v2h-2zM54 20h4v2h-4zM60 20h2v2h-2zM0 22h2v2h-2zM4 22h2v2h-2zM32 22h2v2h-2zM36 22h2v2h-2zM40 22h2v2h-2zM44 22h2v2h-2zM56 22h2v2h-2zM60 22h4v2h-4zM4 24h4v2h-4zM10 24h4v2h-4zM50 24h4v2h-4zM56 24h2v2h-2zM62 24h2v2h-2zM0 26h4v2h-4zM8 26h6v2h-6zM18 26h2v2h-2zM24 26h4v2h-4zM34 26h2v2h-2zM40 26h2v2h-2zM54 26h2v2h-2zM2 28h2v2h-2zM6 28h6v2h-6zM34 28h4v2h-4zM42 28h2v2h-2zM60 28h2v2h-2zM4 30h2v2h-2zM34 30h2v2h-2zM42 30h2v2h-2zM58 30h2v2h-2zM2 32h2v2h-2zM12 32h2v2h-2zM22 32h8v2h-8zM32 32h6v2h-6zM4 34h10v2h-10zM24 34h2v2h-2zM30 34h4v2h-4zM44 34h4v2h-4zM50 34h8v2h-8zM2 36h4v2h-4zM8 36h2v2h-2zM12 36h2v2h-2zM28 36h2v2h-2zM46 36h4v2h-4zM54 36h2v2h-2zM0 38h4v2h-4zM10 38h4v2h-4zM24 38h2v2h-2zM30 38h2v2h-2zM38 38h2v2h-2zM50 38h6v2h-6zM62 38h2v2h-2zM4 40h2v2h-2zM8 40h2v2h-2zM12 40h6v2h-6zM22 40h4v2h-4zM28 40h6v2h-6zM36 40h4v2h-4zM52 40h2v2h-2zM56 40h2v2h-2zM0 42h2v2h-2zM8 42h2v2h-2zM16 42h4v2h-4zM26 42h4v2h-4zM50 42h2v2h-2zM56 42h4v2h-4zM62 42h2v2h-2zM2 44h2v2h-2zM12 44h2v2h-2zM16 44h8v2h-8zM44 44h2v2h-2zM48 44h2v2h-2zM56 44h2v2h-2zM0 46h4v2h-4zM18 46h2v2h-2zM24 46h6v2h-6zM48 46h2v2h-2zM60 46h4v2h-4zM4 48h2v2h-2zM10 48h2v2h-2zM16 48h2v2h-2zM24 48h2v2h-2zM28 48h2v2h-2zM32 48h2v2h-2zM40 48h6v2h-6zM48 48h2v2h-2zM58 48h6v2h-6zM0 50h8v2h-8zM10 50h6v2h-6zM26 50h2v2h-2zM32 50h2v2h-2zM44 50h4v2h-4zM54 50h4v2h-4zM62 50h2v2h-2zM12 52h4v2h-4zM36 52h2v2h-2zM56 52h2v2h-2zM4 54h2v2h-2zM10 54h6v2h-6zM20 54h4v2h-4zM34 54h2v2h-2zM44 54h4v2h-4zM52 54h2v2h-2zM60 54h4v2h-4zM2 56h2v2h-2zM20 56h2v2h-2zM26 56h2v2h-2zM40 56h14v2h-14zM62 56h2v2h-2zM0 58h2v2h-2zM30 58h6v2h-6zM38 58h6v2h-6zM54 58h2v2h-2zM58 58h2v2h-2zM0 60h2v2h-2zM10 60h4v2h-4zM22 60h6v2h-6zM32 60h2v2h-2zM36 60h2v2h-2zM42 60h2v2h-2zM50 60h4v2h-4zM60 60h4v2h-4zM14 62h2v2h-2zM20 62h2v2h-2zM24 62h8v2h-8zM40 62h2v2h-2zM50 62h2v2h-2zM58 62h4v2h-4z"/>
<path fill="#ff8200" d="M22 0h2v2h-2zM22 2h2v2h-2zM6 4h2v2h-2zM54 4h2v2h-2zM2 6h2v2h-2zM28 6h4v2h-4zM26 8h2v2h-2zM24 10h4v2h-4zM4 12h2v2h-2zM24 12h4v2h-4zM54 12h2v2h-2zM52 14h4v2h-4zM20 16h2v2h-2zM44 16h2v2h-2zM56 16h2v2h-2zM44 18h2v2h-2zM2 20h2v2h-2zM2 22h2v2h-2zM6 22h6v2h-6zM26 22h2v2h-2zM38 22h2v2h-2zM0 24h4v2h-4zM8 24h2v2h-2zM26 24h2v2h-2zM6 26h2v2h-2zM56 26h2v2h-2zM4 32h4v2h-4zM22 34h2v2h-2zM42 34h2v2h-2zM48 34h2v2h-2zM6 36h2v2h-2zM10 36h2v2h-2zM22 36h4v2h-4zM30 36h4v2h-4zM42 36h4v2h-4zM22 38h2v2h-2zM46 38h4v2h-4zM50 40h2v2h-2zM4 42h4v2h-4zM0 44h2v2h-2zM4 44h2v2h-2zM14 44h2v2h-2zM62 44h2v2h-2zM12 46h6v2h-6zM2 48h2v2h-2zM12 48h4v2h-4zM26 48h2v2h-2zM46 48h2v2h-2zM24 50h2v2h-2zM34 50h2v2h-2zM54 52h2v2h-2zM32 54h2v2h-2zM42 54h2v2h-2zM22 56h2v2h-2zM34 56h4v2h-4zM22 58h8v2h-8zM36 58h2v2h-2zM56 58h2v2h-2zM30 60h2v2h-2zM56 60h4v2h-4zM2 62h4v2h-4zM22 62h2v2h-2zM56 62h2v2h-2z"/>
</pattern>
<pattern id="pa" patternUnits="userSpaceOnUse" width="64" height="64">
<rect width="64" height="64" fill="#c8c8c8"/>
<path fill="#64ff00" d="M14 0h2v2h-2zM40 6h2v2h-2zM56 6h2v2h-2zM20 10h2v2h-2zM36 10h4v2h-4zM8 12h2v2h-2zM20 12h2v2h-2zM38 12h2v2h-2zM60 12h2v2h-2zM16 14h2v2h-2zM20 16h2v2h-2zM38 18h2v2h-2zM36 20h2v2h-2zM62 20h2v2h-2zM2 24h2v2h-2zM8 24h2v2h-2zM22 30h2v2h-2zM58 30h2v2h-2zM24 32h2v2h-2zM60 32h2v2h-2zM62 34h2v2h-2zM24 36h2v2h-2zM30 36h2v2h-2zM44 36h2v2h-2zM12 42h2v2h-2zM0 44h2v2h-2zM12 44h2v2h-2zM20 44h2v2h-2zM28 46h2v2h-2zM4 48h2v2h-2zM34 48h2v2h-2zM52 48h2v2h-2zM22 50h2v2h-2zM28 50h2v2h-2zM48 50h2v2h-2zM10 52h2v2h-2zM20 52h2v2h-2zM32 52h2v2h-2zM56 54h2v2h-2zM56 56h2v2h-2zM6 58h4v2h-4zM20 60h2v2h-2zM0 62h2v2h-2zM20 62h4v2h-4zM26 62h4v2h-4z"/>
<path fill="#ffc864" d="M50 4h2v2h-2zM22 10h2v2h-2zM18 16h2v2h-2zM26 18h2v2h-2zM8 22h2v2h-2zM0 34h2v2h-2zM8 34h2v2h-2zM60 34h2v2h-2zM8 36h2v2h-2zM62 36h2v2h-2zM8 38h2v2h-2zM30 38h2v2h-2zM30 44h2v2h-2zM32 48h2v2h-2zM16 50h2v2h-2zM14 52h4v2h-4zM28 52h4v2h-4zM10 58h2v2h-2zM60 58h4v2h-4zM0 60h2v2h-2zM6 60h2v2h-2zM32 60h2v2h-2z"/>
<path fill="#ffff00" d="M16 0h8v2h-8zM14 2h4v2h-4zM20 2h4v2h-4zM8 4h2v2h-2zM20 4h2v2h-2zM40 4h2v2h-2zM6 6h2v2h-2zM38 6h2v2h-2zM20 8h2v2h-2zM60 8h4v2h-4zM0 10h2v2h-2zM60 10h4v2h-4zM0 12h2v2h-2zM6 12h2v2h-2zM62 12h2v2h-2zM4 14h2v2h-2zM20 14h2v2h-2zM38 14h2v2h-2zM16 16h2v2h-2zM34 18h4v2h-4zM34 20h2v2h-2zM54 20h2v2h-2zM6 22h2v2h-2zM36 22h2v2h-2zM54 22h2v2h-2zM6 24h2v2h-2zM0 26h4v2h-4zM0 28h2v2h-2zM20 30h2v2h-2zM60 30h2v2h-2zM26 32h2v2h-2zM62 32h2v2h-2zM46 36h2v2h-2zM24 38h2v2h-2zM36 38h2v2h-2zM44 38h6v2h-6zM20 40h2v2h-2zM0 42h2v2h-2zM26 42h4v2h-4zM52 42h4v2h-4zM62 42h2v2h-2zM4 44h2v2h-2zM26 44h4v2h-4zM62 44h2v2h-2zM2 46h4v2h-4zM30 46h2v2h-2zM62 46h2v2h-2zM14 50h2v2h-2zM32 50h2v2h-2zM18 52h2v2h-2zM22 52h2v2h-2zM34 52h2v2h-2zM56 52h2v2h-2zM20 54h2v2h-2zM30 54h2v2h-2zM58 54h2v2h-2zM58 56h4v2h-4zM8 60h2v2h-2zM26 60h6v2h-6zM62 60h2v2h-2zM30 62h2v2h-2zM62 62h2v2h-2z"/>
</pattern>
<pattern id="pb" patternUnits="userSpaceOnUse" width="64" height="64">
<rect width="64" height="64" fill="#c8c8c8"/>
<path fill="#64ff00" d="M24 0h2v2h-2zM32 0h4v2h-4zM40 0h4v2h-4zM48 0h2v2h-2zM56 0h2v2h-2zM34 2h6v2h-6zM60 2h4v2h-4zM28 4h4v2h-4zM34 4h2v2h-2zM60 4h2v2h-2zM22 6h2v2h-2zM28 6h2v2h-2zM42 6h2v2h-2zM46 6h2v2h-2zM60 6h4v2h-4zM54 8h2v2h-2zM60 8h2v2h-2zM0 10h2v2h-2zM16 10h2v2h-2zM52 10h4v2h-4zM62 10h2v2h-2zM22 12h2v2h-2zM62 12h2v2h-2zM4 14h2v2h-2zM28 14h2v2h-2zM42 14h2v2h-2zM54 14h2v2h-2zM4 16h2v2h-2zM6 18h2v2h-2zM14 18h4v2h-4zM32 20h2v2h-2zM42 20h2v2h-2zM54 20h2v2h-2zM60 20h2v2h-2zM32 22h6v2h-6zM62 22h2v2h-2zM32 24h4v2h-4zM18 26h2v2h-2zM22 26h2v2h-2zM14 28h2v2h-2zM60 28h2v2h-2zM0 30h2v2h-2zM8 30h2v2h-2zM24 30h2v2h-2zM48 30h2v2h-2zM56 30h2v2h-2zM6 32h2v2h-2zM22 32h2v2h-2zM32 32h2v2h-2zM42 32h2v2h-2zM24 34h2v2h-2zM32 34h2v2h-2zM46 34h4v2h-4zM24 36h2v2h-2zM30 38h2v2h-2zM6 40h2v2h-2zM36 40h2v2h-2zM50 40h2v2h-2zM54 40h2v2h-2zM0 42h2v2h-2zM4 42h4v2h-4zM32 42h6v2h-6zM40 42h4v2h-4zM60 42h2v2h-2zM0 44h2v2h-2zM22 44h2v2h-2zM32 44h4v2h-4zM42 44h4v2h-4zM58 44h2v2h-2zM12 46h2v2h-2zM46 46h2v2h-2zM30 48h2v2h-2zM56 48h2v2h-2zM10 50h2v2h-2zM22 50h2v2h-2zM58 50h2v2h-2zM24 52h2v2h-2zM6 54h2v2h-2zM14 54h2v2h-2zM46 54h2v2h-2zM50 54h2v2h-2zM56 54h2v2h-2zM6 56h2v2h-2zM14 56h2v2h-2zM38 56h2v2h-2zM48 56h2v2h-2zM0 60h2v2h-2zM26 60h4v2h-4zM44 60h2v2h-2zM56 60h2v2h-2zM10 62h2v2h-2zM26 62h2v2h-2zM30 62h2v2h-2z"/>
<path fill="#ffc864" d="M18 0h2v2h-2zM20 2h2v2h-2zM44 2h2v2h-2zM38 4h2v2h-2zM42 4h6v2h-6zM30 6h2v2h-2zM0 8h2v2h-2zM34 12h2v2h-2zM18 18h2v2h-2zM58 18h2v2h-2zM4 24h4v2h-4zM4 26h4v2h-4zM6 30h2v2h-2zM40 32h2v2h-2zM22 34h2v2h-2zM26 34h4v2h-4zM34 38h6v2h-6zM62 38h2v2h-2zM26 40h2v2h-2zM60 40h2v2h-2zM12 42h2v2h-2zM46 42h2v2h-2zM50 42h10v2h-10zM38 44h4v2h-4zM46 44h2v2h-2zM50 44h6v2h-6zM38 46h4v2h-4zM46 48h2v2h-2zM24 50h2v2h-2zM46 50h2v2h-2zM56 50h2v2h-2zM48 52h4v2h-4zM20 54h2v2h-2zM28 54h2v2h-2zM20 56h2v2h-2zM44 56h4v2h-4zM62 56h2v2h-2zM42 58h4v2h-4zM62 58h2v2h-2zM32 62h2v2h-2zM46 62h2v2h-2z"/>
<path fill="#ffff00" d="M8 0h2v2h-2zM14 0h2v2h-2zM22 0h2v2h-2zM38 0h2v2h-2zM60 0h4v2h-4zM24 2h2v2h-2zM30 2h4v2h-4zM40 2h4v2h-4zM32 4h2v2h-2zM56 4h2v2h-2zM62 4h2v2h-2zM10 6h2v2h-2zM24 6h4v2h-4zM52 6h8v2h-8zM20 8h4v2h-4zM44 8h4v2h-4zM52 8h2v2h-2zM56 8h4v2h-4zM4 10h2v2h-2zM20 10h2v2h-2zM28 10h2v2h-2zM58 10h2v2h-2zM0 12h2v2h-2zM20 12h2v2h-2zM28 12h4v2h-4zM52 12h2v2h-2zM58 12h2v2h-2zM24 14h2v2h-2zM32 14h2v2h-2zM48 14h2v2h-2zM14 16h2v2h-2zM32 16h4v2h-4zM46 16h4v2h-4zM26 18h2v2h-2zM32 18h4v2h-4zM46 18h2v2h-2zM6 20h4v2h-4zM18 20h4v2h-4zM34 20h6v2h-6zM46 20h2v2h-2zM46 22h2v2h-2zM22 24h2v2h-2zM24 26h2v2h-2zM50 26h4v2h-4zM58 26h2v2h-2zM16 28h10v2h-10zM50 28h4v2h-4zM58 28h2v2h-2zM18 30h2v2h-2zM22 30h2v2h-2zM28 30h2v2h-2zM38 30h2v2h-2zM50 30h2v2h-2zM58 30h2v2h-2zM0 32h2v2h-2zM8 32h2v2h-2zM24 32h2v2h-2zM30 32h2v2h-2zM46 32h6v2h-6zM0 34h2v2h-2zM6 34h4v2h-4zM28 36h4v2h-4zM42 36h2v2h-2zM58 36h2v2h-2zM4 38h2v2h-2zM26 38h4v2h-4zM56 38h2v2h-2zM4 40h2v2h-2zM28 40h2v2h-2zM34 40h2v2h-2zM38 40h2v2h-2zM52 40h2v2h-2zM56 40h2v2h-2zM38 42h2v2h-2zM30 44h2v2h-2zM56 44h2v2h-2zM10 46h2v2h-2zM30 46h4v2h-4zM42 46h4v2h-4zM56 46h2v2h-2zM10 48h4v2h-4zM28 48h2v2h-2zM48 48h2v2h-2zM54 48h2v2h-2zM12 50h2v2h-2zM28 50h2v2h-2zM42 50h4v2h-4zM50 50h2v2h-2zM54 50h2v2h-2zM60 50h2v2h-2zM8 52h4v2h-4zM42 52h6v2h-6zM58 52h4v2h-4zM8 54h2v2h-2zM24 54h4v2h-4zM30 54h2v2h-2zM48 54h2v2h-2zM58 54h2v2h-2zM16 56h2v2h-2zM24 56h2v2h-2zM30 56h2v2h-2zM50 56h2v2h-2zM58 56h2v2h-2zM50 58h2v2h-2zM30 60h4v2h-4zM40 60h4v2h-4zM58 60h2v2h-2zM22 62h2v2h-2zM40 62h4v2h-4zM48 62h2v2h-2zM60 62h4v2h-4z"/>
<path fill="#32c800" d="M16 0h2v2h-2zM56 2h2v2h-2zM36 4h2v2h-2zM40 4h2v2h-2zM36 6h2v2h-2zM44 6h2v2h-2zM62 8h2v2h-2zM18 10h2v2h-2zM44 10h4v2h-4zM32 12h2v2h-2zM44 12h2v2h-2zM26 14h2v2h-2zM60 18h2v2h-2zM38 24h4v2h-4zM16 26h2v2h-2zM20 26h2v2h-2zM30 30h4v2h-4zM40 30h2v2h-2zM34 32h2v2h-2zM44 32h2v2h-2zM10 34h2v2h-2zM20 36h4v2h-4zM56 36h2v2h-2zM6 38h2v2h-2zM22 38h2v2h-2zM10 42h2v2h-2zM44 42h2v2h-2zM48 42h2v2h-2zM36 44h2v2h-2zM48 44h2v2h-2zM44 48h2v2h-2zM30 50h2v2h-2zM48 50h2v2h-2zM22 52h2v2h-2zM26 52h2v2h-2zM30 52h2v2h-2zM56 52h2v2h-2zM22 54h2v2h-2zM44 54h2v2h-2zM18 56h2v2h-2zM22 56h2v2h-2zM60 56h2v2h-2zM40 58h2v2h-2zM56 58h2v2h-2zM20 60h2v2h-2zM62 60h2v2h-2zM8 62h2v2h-2zM24 62h2v2h-2zM28 62h2v2h-2zM34 62h2v2h-2z"/>
</pattern>
<pattern id="pd" patternUnits="userSpaceOnUse" width="64" height="64">
<rect width="64" height="64" fill="#c8c8c8"/>
<path fill="#64ff00" d="M4 0h2v2h-2zM54 0h2v2h-2zM4 2h2v2h-2zM32 2h4v2h-4zM56 2h2v2h-2zM2 4h4v2h-4zM8 4h2v2h-2zM14 4h2v2h-2zM18 4h2v2h-2zM42 4h2v2h-2zM46 4h2v2h-2zM54 4h2v2h-2zM58 4h2v2h-2zM4 6h2v2h-2zM10 6h2v2h-2zM42 6h2v2h-2zM52 6h2v2h-2zM56 6h2v2h-2zM60 6h2v2h-2zM10 8h4v2h-4zM34 8h2v2h-2zM38 8h2v2h-2zM48 8h4v2h-4zM60 8h4v2h-4zM10 10h2v2h-2zM30 10h2v2h-2zM38 10h2v2h-2zM48 10h2v2h-2zM60 10h2v2h-2zM34 12h2v2h-2zM40 12h2v2h-2zM44 12h2v2h-2zM52 12h4v2h-4zM0 14h2v2h-2zM12 14h2v2h-2zM52 14h4v2h-4zM58 14h2v2h-2zM62 14h2v2h-2zM0 16h2v2h-2zM10 16h2v2h-2zM14 16h2v2h-2zM18 16h2v2h-2zM38 16h2v2h-2zM42 16h2v2h-2zM50 16h2v2h-2zM8 18h2v2h-2zM12 18h2v2h-2zM18 18h2v2h-2zM22 18h2v2h-2zM26 18h2v2h-2zM38 18h2v2h-2zM46 18h2v2h-2zM54 18h2v2h-2zM2 20h4v2h-4zM8 20h2v2h-2zM14 20h2v2h-2zM18 20h2v2h-2zM26 20h4v2h-4zM44 20h2v2h-2zM4 22h2v2h-2zM14 22h2v2h-2zM26 22h2v2h-2zM58 22h2v2h-2zM0 24h2v2h-2zM6 24h2v2h-2zM12 24h2v2h-2zM28 24h2v2h-2zM38 24h6v2h-6zM62 24h2v2h-2zM8 26h4v2h-4zM22 26h2v2h-2zM32 26h2v2h-2zM42 26h2v2h-2zM46 26h2v2h-2zM10 28h2v2h-2zM18 28h2v2h-2zM24 28h2v2h-2zM30 28h4v2h-4zM44 28h4v2h-4zM0 30h2v2h-2zM4 30h2v2h-2zM20 30h2v2h-2zM24 30h2v2h-2zM36 30h4v2h-4zM42 30h2v2h-2zM46 30h4v2h-4zM8 32h2v2h-2zM12 32h2v2h-2zM20 32h6v2h-6zM46 32h2v2h-2zM52 32h6v2h-6zM60 32h4v2h-4zM6 34h2v2h-2zM26 34h2v2h-2zM32 34h4v2h-4zM46 34h2v2h-2zM52 34h2v2h-2zM18 36h4v2h-4zM36 36h4v2h-4zM42 36h2v2h-2zM48 36h2v2h-2zM56 36h2v2h-2zM18 38h2v2h-2zM24 38h4v2h-4zM40 38h4v2h-4zM50 38h2v2h-2zM10 40h2v2h-2zM16 40h2v2h-2zM28 40h2v2h-2zM40 40h4v2h-4zM48 40h4v2h-4zM0 42h2v2h-2zM6 42h2v2h-2zM12 42h2v2h-2zM18 42h4v2h-4zM24 42h2v2h-2zM36 42h2v2h-2zM56 42h2v2h-2zM10 44h2v2h-2zM14 44h2v2h-2zM18 44h4v2h-4zM46 44h4v2h-4zM52 44h2v2h-2zM58 44h2v2h-2zM2 46h2v2h-2zM16 46h2v2h-2zM26 46h2v2h-2zM36 46h2v2h-2zM44 46h2v2h-2zM26 48h2v2h-2zM46 48h2v2h-2zM58 48h2v2h-2zM26 50h2v2h-2zM34 50h2v2h-2zM44 50h2v2h-2zM58 50h2v2h-2zM18 52h2v2h-2zM4 54h2v2h-2zM8 54h2v2h-2zM22 54h2v2h-2zM50 54h2v2h-2zM8 56h2v2h-2zM14 56h2v2h-2zM50 56h4v2h-4zM0 58h2v2h-2zM42 58h2v2h-2zM46 58h2v2h-2zM50 58h2v2h-2zM54 58h4v2h-4zM62 58h2v2h-2zM2 60h2v2h-2zM16 60h2v2h-2zM22 60h2v2h-2zM36 60h4v2h-4zM52 60h4v2h-4zM62 60h2v2h-2zM0 62h2v2h-2zM6 62h2v2h-2zM16 62h2v2h-2zM36 62h2v2h-2zM42 62h2v2h-2zM50 62h2v2h-2z"/>
<path fill="#ffc864" d="M28 0h2v2h-2zM52 0h2v2h-2zM26 4h2v2h-2zM6 6h2v2h-2zM2 8h4v2h-4zM8 8h2v2h-2zM14 8h2v2h-2zM56 8h2v2h-2zM2 10h2v2h-2zM34 10h2v2h-2zM42 10h2v2h-2zM50 10h2v2h-2zM18 12h2v2h-2zM58 12h2v2h-2zM44 18h2v2h-2zM56 18h4v2h-4zM6 22h2v2h-2zM34 24h2v2h-2zM44 24h4v2h-4zM34 26h2v2h-2zM62 26h2v2h-2zM34 28h4v2h-4zM60 28h2v2h-2zM8 30h2v2h-2zM32 30h4v2h-4zM30 32h4v2h-4zM48 32h2v2h-2zM54 34h2v2h-2zM24 36h2v2h-2zM50 36h2v2h-2zM28 38h2v2h-2zM36 44h2v2h-2zM54 44h4v2h-4zM0 46h2v2h-2zM62 46h2v2h-2zM40 52h2v2h-2zM2 54h2v2h-2zM24 54h2v2h-2zM40 54h2v2h-2zM52 58h2v2h-2zM20 60h2v2h-2zM44 62h2v2h-2z"/>
<path fill="#ffff00" d="M16 0h2v2h-2zM26 0h2v2h-2zM30 0h2v2h-2zM36 0h4v2h-4zM6 2h2v2h-2zM16 2h4v2h-4zM28 2h4v2h-4zM36 2h2v2h-2zM22 4h2v2h-2zM30 4h2v2h-2zM40 4h2v2h-2zM44 4h2v2h-2zM52 4h2v2h-2zM56 4h2v2h-2zM12 6h4v2h-4zM18 6h6v2h-6zM30 6h2v2h-2zM46 6h6v2h-6zM62 6h2v2h-2zM28 8h6v2h-6zM52 8h2v2h-2zM0 10h2v2h-2zM12 10h2v2h-2zM44 10h2v2h-2zM52 10h4v2h-4zM0 12h4v2h-4zM10 12h4v2h-4zM30 12h2v2h-2zM38 12h2v2h-2zM2 14h2v2h-2zM10 14h2v2h-2zM16 14h2v2h-2zM20 14h2v2h-2zM36 14h6v2h-6zM60 14h2v2h-2zM2 16h4v2h-4zM16 16h2v2h-2zM40 16h2v2h-2zM60 16h4v2h-4zM2 18h4v2h-4zM10 18h2v2h-2zM14 18h4v2h-4zM40 18h4v2h-4zM48 18h4v2h-4zM62 18h2v2h-2zM30 20h2v2h-2zM42 20h2v2h-2zM54 20h6v2h-6zM62 20h2v2h-2zM2 22h2v2h-2zM28 22h2v2h-2zM36 22h2v2h-2zM42 22h2v2h-2zM56 22h2v2h-2zM62 22h2v2h-2zM2 24h4v2h-4zM14 24h2v2h-2zM24 24h2v2h-2zM56 24h6v2h-6zM2 26h6v2h-6zM12 26h10v2h-10zM24 26h2v2h-2zM38 26h4v2h-4zM4 28h2v2h-2zM12 28h2v2h-2zM20 28h2v2h-2zM42 28h2v2h-2zM48 28h2v2h-2zM6 30h2v2h-2zM16 30h4v2h-4zM22 30h2v2h-2zM26 30h4v2h-4zM54 30h2v2h-2zM0 32h2v2h-2zM4 32h4v2h-4zM16 32h4v2h-4zM36 32h2v2h-2zM58 32h2v2h-2zM0 34h2v2h-2zM8 34h6v2h-6zM36 34h4v2h-4zM42 34h2v2h-2zM58 34h6v2h-6zM12 36h6v2h-6zM28 36h4v2h-4zM40 36h2v2h-2zM46 36h2v2h-2zM54 36h2v2h-2zM58 36h6v2h-6zM8 38h4v2h-4zM14 38h4v2h-4zM20 38h4v2h-4zM44 38h6v2h-6zM52 38h2v2h-2zM2 40h4v2h-4zM8 40h2v2h-2zM18 40h8v2h-8zM44 40h4v2h-4zM4 42h2v2h-2zM22 42h2v2h-2zM26 42h6v2h-6zM34 42h2v2h-2zM40 42h16v2h-16zM62 42h2v2h-2zM0 44h6v2h-6zM8 44h2v2h-2zM12 44h2v2h-2zM16 44h2v2h-2zM26 44h4v2h-4zM40 44h2v2h-2zM50 44h2v2h-2zM60 44h4v2h-4zM10 46h6v2h-6zM40 46h4v2h-4zM50 46h4v2h-4zM58 46h2v2h-2zM10 48h4v2h-4zM36 48h2v2h-2zM42 48h4v2h-4zM12 50h2v2h-2zM16 50h2v2h-2zM20 50h2v2h-2zM28 50h4v2h-4zM42 50h2v2h-2zM46 50h4v2h-4zM54 50h4v2h-4zM60 50h2v2h-2zM10 52h8v2h-8zM26 52h10v2h-10zM42 52h2v2h-2zM50 52h2v2h-2zM54 52h8v2h-8zM10 54h2v2h-2zM14 54h8v2h-8zM30 54h2v2h-2zM58 54h2v2h-2zM16 56h2v2h-2zM22 56h4v2h-4zM56 56h2v2h-2zM24 58h2v2h-2zM30 58h4v2h-4zM40 58h2v2h-2zM48 58h2v2h-2zM58 58h2v2h-2zM0 60h2v2h-2zM4 60h8v2h-8zM32 60h2v2h-2zM42 60h2v2h-2zM46 60h6v2h-6zM56 60h4v2h-4zM2 62h4v2h-4zM8 62h4v2h-4zM38 62h4v2h-4zM48 62h2v2h-2zM54 62h4v2h-4z"/>
<path fill="#32c800" d="M0 0h4v2h-4zM6 0h2v2h-2zM2 2h2v2h-2zM24 2h4v2h-4zM52 2h4v2h-4zM6 4h2v2h-2zM12 4h2v2h-2zM16 4h2v2h-2zM24 4h2v2h-2zM8 6h2v2h-2zM44 6h2v2h-2zM54 6h2v2h-2zM58 6h2v2h-2zM0 8h2v2h-2zM6 8h2v2h-2zM36 8h2v2h-2zM40 8h2v2h-2zM54 8h2v2h-2zM58 8h2v2h-2zM8 10h2v2h-2zM14 10h2v2h-2zM26 10h4v2h-4zM32 10h2v2h-2zM36 10h2v2h-2zM40 10h2v2h-2zM56 10h4v2h-4zM36 12h2v2h-2zM4 14h2v2h-2zM18 14h2v2h-2zM56 14h2v2h-2zM6 16h4v2h-4zM12 16h2v2h-2zM20 16h2v2h-2zM44 16h2v2h-2zM52 16h8v2h-8zM6 18h2v2h-2zM20 18h2v2h-2zM28 18h6v2h-6zM6 20h2v2h-2zM16 20h2v2h-2zM20 20h2v2h-2zM44 22h2v2h-2zM10 24h2v2h-2zM16 24h2v2h-2zM26 24h2v2h-2zM36 24h2v2h-2zM0 26h2v2h-2zM26 26h2v2h-2zM36 26h2v2h-2zM44 26h2v2h-2zM60 26h2v2h-2zM0 28h2v2h-2zM8 28h2v2h-2zM22 28h2v2h-2zM38 28h4v2h-4zM54 28h2v2h-2zM62 28h2v2h-2zM30 30h2v2h-2zM62 30h2v2h-2zM10 32h2v2h-2zM34 32h2v2h-2zM24 34h2v2h-2zM28 34h4v2h-4zM48 34h4v2h-4zM56 34h2v2h-2zM26 36h2v2h-2zM38 38h2v2h-2zM54 38h4v2h-4zM0 40h2v2h-2zM52 40h4v2h-4zM2 42h2v2h-2zM14 42h4v2h-4zM38 44h2v2h-2zM56 46h2v2h-2zM0 48h2v2h-2zM34 48h2v2h-2zM48 48h2v2h-2zM56 48h2v2h-2zM62 48h2v2h-2zM20 52h2v2h-2zM28 54h2v2h-2zM34 54h2v2h-2zM30 56h2v2h-2zM42 56h2v2h-2zM26 58h2v2h-2zM44 58h2v2h-2zM24 60h4v2h-4zM40 60h2v2h-2zM44 60h2v2h-2zM46 62h2v2h-2zM52 62h2v2h-2z"/>
</pattern>
<pattern id="pe" patternUnits="userSpaceOnUse" width="64" height="64">
<rect width="64" height="64" fill="#c8c8c8"/>
<path fill="#009600" d="M50 2h2v2h-2zM22 4h2v2h-2zM52 4h2v2h-2zM26 6h2v2h-2zM14 8h2v2h-2zM38 8h2v2h-2zM42 8h2v2h-2zM54 8h2v2h-2zM48 10h2v2h-2zM58 10h2v2h-2zM18 12h2v2h-2zM22 12h2v2h-2zM4 14h2v2h-2zM60 14h2v2h-2zM22 16h2v2h-2zM30 16h2v2h-2zM36 16h2v2h-2zM56 16h2v2h-2zM0 18h4v2h-4zM24 18h2v2h-2zM32 18h6v2h-6zM46 18h4v2h-4zM62 18h2v2h-2zM18 20h2v2h-2zM30 20h4v2h-4zM42 20h2v2h-2zM14 28h2v2h-2zM44 36h2v2h-2zM60 36h2v2h-2zM4 38h2v2h-2zM52 38h2v2h-2zM4 40h2v2h-2zM38 44h2v2h-2zM56 44h2v2h-2zM38 46h2v2h-2zM2 50h2v2h-2zM14 50h2v2h-2zM34 50h4v2h-4zM0 52h2v2h-2zM54 52h2v2h-2zM40 54h2v2h-2zM60 56h2v2h-2zM6 60h2v2h-2zM24 60h2v2h-2zM40 62h2v2h-2z"/>
<path fill="#64ff00" d="M14 0h6v2h-6zM24 0h2v2h-2zM32 0h6v2h-6zM42 0h2v2h-2zM52 0h4v2h-4zM2 2h2v2h-2zM14 2h6v2h-6zM24 2h2v2h-2zM28 2h2v2h-2zM34 2h14v2h-14zM2 4h2v2h-2zM8 4h2v2h-2zM12 4h2v2h-2zM28 4h2v2h-2zM34 4h12v2h-12zM54 4h2v2h-2zM62 4h2v2h-2zM2 6h2v2h-2zM14 6h2v2h-2zM22 6h2v2h-2zM32 6h2v2h-2zM36 6h6v2h-6zM46 6h2v2h-2zM52 6h10v2h-10zM0 8h4v2h-4zM10 8h2v2h-2zM24 8h2v2h-2zM30 8h2v2h-2zM36 8h2v2h-2zM46 8h2v2h-2zM52 8h2v2h-2zM2 10h2v2h-2zM14 10h2v2h-2zM24 10h4v2h-4zM32 10h6v2h-6zM52 10h2v2h-2zM60 10h4v2h-4zM2 12h6v2h-6zM26 12h4v2h-4zM32 12h2v2h-2zM36 12h4v2h-4zM46 12h2v2h-2zM50 12h2v2h-2zM0 14h2v2h-2zM8 14h2v2h-2zM12 14h2v2h-2zM16 14h4v2h-4zM30 14h6v2h-6zM40 14h2v2h-2zM48 14h4v2h-4zM58 14h2v2h-2zM8 16h2v2h-2zM14 16h2v2h-2zM20 16h2v2h-2zM24 16h2v2h-2zM32 16h2v2h-2zM44 16h10v2h-10zM4 18h8v2h-8zM14 18h2v2h-2zM26 18h4v2h-4zM44 18h2v2h-2zM52 18h6v2h-6zM0 20h2v2h-2zM8 20h6v2h-6zM16 20h2v2h-2zM26 20h4v2h-4zM58 20h2v2h-2zM62 20h2v2h-2zM8 22h4v2h-4zM16 22h2v2h-2zM28 22h2v2h-2zM34 22h2v2h-2zM38 22h2v2h-2zM42 22h2v2h-2zM54 22h4v2h-4zM62 22h2v2h-2zM6 24h2v2h-2zM14 24h2v2h-2zM18 24h2v2h-2zM34 24h2v2h-2zM44 24h4v2h-4zM56 24h2v2h-2zM0 26h2v2h-2zM8 26h2v2h-2zM18 26h2v2h-2zM22 26h2v2h-2zM28 26h2v2h-2zM34 26h2v2h-2zM40 26h4v2h-4zM48 26h2v2h-2zM8 28h4v2h-4zM16 28h6v2h-6zM28 28h10v2h-10zM44 28h2v2h-2zM48 28h2v2h-2zM12 30h4v2h-4zM18 30h4v2h-4zM30 30h2v2h-2zM36 30h2v2h-2zM40 30h10v2h-10zM58 30h2v2h-2zM4 32h2v2h-2zM12 32h2v2h-2zM16 32h2v2h-2zM20 32h2v2h-2zM32 32h2v2h-2zM40 32h6v2h-6zM48 32h2v2h-2zM52 32h2v2h-2zM56 32h4v2h-4zM62 32h2v2h-2zM0 34h2v2h-2zM8 34h6v2h-6zM28 34h4v2h-4zM34 34h2v2h-2zM42 34h2v2h-2zM48 34h2v2h-2zM52 34h4v2h-4zM58 34h2v2h-2zM62 34h2v2h-2zM0 36h2v2h-2zM4 36h4v2h-4zM10 36h10v2h-10zM26 36h8v2h-8zM36 36h4v2h-4zM42 36h2v2h-2zM46 36h4v2h-4zM52 36h2v2h-2zM58 36h2v2h-2zM14 38h4v2h-4zM26 38h2v2h-2zM36 38h4v2h-4zM42 38h2v2h-2zM56 38h2v2h-2zM2 40h2v2h-2zM18 40h2v2h-2zM22 40h2v2h-2zM26 40h2v2h-2zM36 40h2v2h-2zM40 40h2v2h-2zM52 40h2v2h-2zM56 40h2v2h-2zM4 42h4v2h-4zM12 42h4v2h-4zM18 42h8v2h-8zM40 42h2v2h-2zM46 42h6v2h-6zM16 44h2v2h-2zM22 44h6v2h-6zM34 44h2v2h-2zM52 44h2v2h-2zM0 46h8v2h-8zM24 46h2v2h-2zM32 46h4v2h-4zM44 46h4v2h-4zM50 46h4v2h-4zM58 46h4v2h-4zM6 48h10v2h-10zM22 48h4v2h-4zM28 48h2v2h-2zM40 48h2v2h-2zM50 48h4v2h-4zM56 48h6v2h-6zM0 50h2v2h-2zM4 50h2v2h-2zM10 50h2v2h-2zM16 50h2v2h-2zM22 50h2v2h-2zM30 50h4v2h-4zM42 50h2v2h-2zM46 50h4v2h-4zM52 50h4v2h-4zM4 52h2v2h-2zM8 52h2v2h-2zM14 52h2v2h-2zM20 52h2v2h-2zM26 52h2v2h-2zM32 52h2v2h-2zM36 52h6v2h-6zM44 52h2v2h-2zM48 52h2v2h-2zM56 52h4v2h-4zM62 52h2v2h-2zM0 54h4v2h-4zM8 54h6v2h-6zM16 54h2v2h-2zM20 54h2v2h-2zM24 54h2v2h-2zM34 54h2v2h-2zM38 54h2v2h-2zM46 54h2v2h-2zM52 54h6v2h-6zM6 56h2v2h-2zM14 56h4v2h-4zM28 56h4v2h-4zM38 56h2v2h-2zM46 56h2v2h-2zM52 56h2v2h-2zM62 56h2v2h-2zM10 58h4v2h-4zM20 58h2v2h-2zM24 58h2v2h-2zM30 58h4v2h-4zM38 58h2v2h-2zM42 58h8v2h-8zM52 58h2v2h-2zM56 58h6v2h-6zM10 60h2v2h-2zM32 60h2v2h-2zM40 60h8v2h-8zM52 60h2v2h-2zM60 60h2v2h-2zM4 62h6v2h-6zM22 62h2v2h-2zM30 62h2v2h-2zM36 62h2v2h-2zM42 62h4v2h-4z"/>
<path fill="#ffc864" d="M8 0h4v2h-4zM8 2h2v2h-2zM12 2h2v2h-2zM48 4h4v2h-4zM24 6h2v2h-2zM56 8h4v2h-4zM42 10h4v2h-4zM20 12h2v2h-2zM42 12h2v2h-2zM22 14h2v2h-2zM38 14h2v2h-2zM62 14h2v2h-2zM20 18h2v2h-2zM30 18h2v2h-2zM20 20h6v2h-6zM46 20h4v2h-4zM12 22h2v2h-2zM22 22h4v2h-4zM30 22h4v2h-4zM30 24h2v2h-2zM12 26h2v2h-2zM32 26h2v2h-2zM26 28h2v2h-2zM34 32h2v2h-2zM2 36h2v2h-2zM50 36h2v2h-2zM8 38h6v2h-6zM46 38h2v2h-2zM50 38h2v2h-2zM8 40h4v2h-4zM50 40h2v2h-2zM8 42h2v2h-2zM14 44h2v2h-2zM40 44h6v2h-6zM36 46h2v2h-2zM40 46h4v2h-4zM36 48h2v2h-2zM20 50h2v2h-2zM42 54h4v2h-4zM12 56h2v2h-2zM40 56h4v2h-4zM4 60h2v2h-2zM18 60h2v2h-2zM10 62h2v2h-2zM20 62h2v2h-2zM28 62h2v2h-2zM50 62h2v2h-2z"/>
<path fill="#ffff00" d="M2 0h2v2h-2zM22 0h2v2h-2zM48 0h2v2h-2zM56 0h2v2h-2zM0 2h2v2h-2zM26 2h2v2h-2zM30 2h4v2h-4zM54 2h4v2h-4zM60 2h4v2h-4zM0 4h2v2h-2zM14 4h6v2h-6zM26 4h2v2h-2zM32 4h2v2h-2zM56 4h6v2h-6zM4 6h2v2h-2zM16 6h2v2h-2zM20 6h2v2h-2zM62 6h2v2h-2zM4 8h2v2h-2zM20 8h2v2h-2zM62 8h2v2h-2zM0 10h2v2h-2zM4 10h4v2h-4zM10 10h4v2h-4zM28 10h4v2h-4zM38 10h2v2h-2zM0 12h2v2h-2zM12 12h6v2h-6zM34 12h2v2h-2zM52 12h4v2h-4zM2 14h2v2h-2zM14 14h2v2h-2zM44 14h4v2h-4zM6 16h2v2h-2zM26 16h2v2h-2zM42 16h2v2h-2zM12 18h2v2h-2zM4 20h2v2h-2zM36 20h2v2h-2zM54 20h2v2h-2zM0 22h6v2h-6zM26 22h2v2h-2zM36 22h2v2h-2zM58 22h4v2h-4zM0 24h6v2h-6zM8 24h4v2h-4zM20 24h2v2h-2zM36 24h8v2h-8zM52 24h4v2h-4zM58 24h6v2h-6zM4 26h4v2h-4zM10 26h2v2h-2zM16 26h2v2h-2zM20 26h2v2h-2zM36 26h4v2h-4zM50 26h14v2h-14zM0 28h8v2h-8zM22 28h2v2h-2zM38 28h4v2h-4zM50 28h8v2h-8zM62 28h2v2h-2zM0 30h4v2h-4zM6 30h4v2h-4zM16 30h2v2h-2zM22 30h2v2h-2zM32 30h4v2h-4zM38 30h2v2h-2zM50 30h8v2h-8zM60 30h4v2h-4zM0 32h4v2h-4zM6 32h6v2h-6zM14 32h2v2h-2zM26 32h4v2h-4zM38 32h2v2h-2zM50 32h2v2h-2zM54 32h2v2h-2zM6 34h2v2h-2zM14 34h4v2h-4zM26 34h2v2h-2zM32 34h2v2h-2zM46 34h2v2h-2zM0 38h2v2h-2zM18 38h4v2h-4zM28 38h6v2h-6zM58 38h2v2h-2zM62 38h2v2h-2zM0 40h2v2h-2zM14 40h4v2h-4zM24 40h2v2h-2zM28 40h6v2h-6zM38 40h2v2h-2zM46 40h4v2h-4zM54 40h2v2h-2zM2 42h2v2h-2zM28 42h12v2h-12zM4 44h10v2h-10zM28 44h6v2h-6zM48 44h4v2h-4zM8 46h4v2h-4zM2 48h4v2h-4zM16 48h4v2h-4zM38 48h2v2h-2zM42 48h8v2h-8zM54 48h2v2h-2zM6 50h2v2h-2zM12 50h2v2h-2zM38 50h4v2h-4zM44 50h2v2h-2zM62 50h2v2h-2zM10 52h4v2h-4zM22 52h2v2h-2zM28 52h2v2h-2zM34 52h2v2h-2zM50 52h2v2h-2zM4 54h2v2h-2zM22 54h2v2h-2zM26 54h4v2h-4zM48 54h4v2h-4zM0 56h2v2h-2zM8 56h2v2h-2zM22 56h4v2h-4zM48 56h4v2h-4zM54 56h2v2h-2zM0 58h2v2h-2zM8 58h2v2h-2zM14 58h4v2h-4zM22 58h2v2h-2zM28 58h2v2h-2zM34 58h4v2h-4zM50 58h2v2h-2zM54 58h2v2h-2zM62 58h2v2h-2zM8 60h2v2h-2zM12 60h4v2h-4zM30 60h2v2h-2zM36 60h2v2h-2zM48 60h2v2h-2zM54 60h6v2h-6zM62 60h2v2h-2zM12 62h2v2h-2zM46 62h4v2h-4zM54 62h6v2h-6z"/>
<path fill="#32c800" d="M12 0h2v2h-2zM26 0h6v2h-6zM38 0h4v2h-4zM44 0h2v2h-2zM50 0h2v2h-2zM58 0h2v2h-2zM10 2h2v2h-2zM20 2h4v2h-4zM48 2h2v2h-2zM58 2h2v2h-2zM10 4h2v2h-2zM20 4h2v2h-2zM24 4h2v2h-2zM46 4h2v2h-2zM0 6h2v2h-2zM8 6h6v2h-6zM34 6h2v2h-2zM42 6h4v2h-4zM48 6h4v2h-4zM6 8h4v2h-4zM12 8h2v2h-2zM16 8h2v2h-2zM26 8h2v2h-2zM32 8h4v2h-4zM40 8h2v2h-2zM44 8h2v2h-2zM48 8h4v2h-4zM60 8h2v2h-2zM8 10h2v2h-2zM40 10h2v2h-2zM46 10h2v2h-2zM50 10h2v2h-2zM54 10h4v2h-4zM8 12h4v2h-4zM24 12h2v2h-2zM30 12h2v2h-2zM40 12h2v2h-2zM44 12h2v2h-2zM48 12h2v2h-2zM60 12h4v2h-4zM6 14h2v2h-2zM10 14h2v2h-2zM20 14h2v2h-2zM36 14h2v2h-2zM42 14h2v2h-2zM56 14h2v2h-2zM2 16h4v2h-4zM10 16h4v2h-4zM34 16h2v2h-2zM58 16h4v2h-4zM22 18h2v2h-2zM38 18h2v2h-2zM50 18h2v2h-2zM58 18h4v2h-4zM14 20h2v2h-2zM34 20h2v2h-2zM38 20h2v2h-2zM44 20h2v2h-2zM60 20h2v2h-2zM14 22h2v2h-2zM40 22h2v2h-2zM44 22h4v2h-4zM12 24h2v2h-2zM16 24h2v2h-2zM22 24h4v2h-4zM28 24h2v2h-2zM32 24h2v2h-2zM48 24h2v2h-2zM2 26h2v2h-2zM14 26h2v2h-2zM24 26h4v2h-4zM30 26h2v2h-2zM44 26h4v2h-4zM12 28h2v2h-2zM46 28h2v2h-2zM58 28h4v2h-4zM24 30h6v2h-6zM18 32h2v2h-2zM30 32h2v2h-2zM36 32h2v2h-2zM18 34h2v2h-2zM38 34h4v2h-4zM50 34h2v2h-2zM8 36h2v2h-2zM34 36h2v2h-2zM40 36h2v2h-2zM62 36h2v2h-2zM2 38h2v2h-2zM6 38h2v2h-2zM34 38h2v2h-2zM40 38h2v2h-2zM44 38h2v2h-2zM48 38h2v2h-2zM60 38h2v2h-2zM6 40h2v2h-2zM12 40h2v2h-2zM20 40h2v2h-2zM34 40h2v2h-2zM42 40h4v2h-4zM58 40h2v2h-2zM10 42h2v2h-2zM16 42h2v2h-2zM26 42h2v2h-2zM42 42h4v2h-4zM56 42h4v2h-4zM20 44h2v2h-2zM36 44h2v2h-2zM46 44h2v2h-2zM58 44h2v2h-2zM62 44h2v2h-2zM12 46h6v2h-6zM20 46h4v2h-4zM26 46h6v2h-6zM48 46h2v2h-2zM54 46h4v2h-4zM62 46h2v2h-2zM0 48h2v2h-2zM20 48h2v2h-2zM30 48h2v2h-2zM34 48h2v2h-2zM62 48h2v2h-2zM8 50h2v2h-2zM18 50h2v2h-2zM56 50h6v2h-6zM2 52h2v2h-2zM6 52h2v2h-2zM16 52h4v2h-4zM30 52h2v2h-2zM46 52h2v2h-2zM52 52h2v2h-2zM60 52h2v2h-2zM6 54h2v2h-2zM30 54h4v2h-4zM36 54h2v2h-2zM10 56h2v2h-2zM20 56h2v2h-2zM26 56h2v2h-2zM32 56h6v2h-6zM44 56h2v2h-2zM56 56h2v2h-2zM4 58h4v2h-4zM18 58h2v2h-2zM26 58h2v2h-2zM40 58h2v2h-2zM20 60h4v2h-4zM26 60h4v2h-4zM34 60h2v2h-2zM50 60h2v2h-2zM18 62h2v2h-2zM24 62h4v2h-4zM34 62h2v2h-2zM38 62h2v2h-2zM52 62h2v2h-2zM60 62h2v2h-2z"/>
</pattern>
<pattern id="pf" patternUnits="userSpaceOnUse" width="64" height="64">
<rect width="64" height="64" fill="#c8c8c8"/>
<path fill="#009600" d="M24 0h6v2h-6zM40 0h6v2h-6zM16 2h2v2h-2zM26 2h2v2h-2zM46 2h2v2h-2zM10 4h2v2h-2zM14 4h4v2h-4zM32 4h2v2h-2zM40 4h4v2h-4zM2 6h2v2h-2zM8 6h8v2h-8zM30 6h4v2h-4zM54 6h4v2h-4zM0 8h6v2h-6zM12 8h2v2h-2zM30 8h2v2h-2zM34 8h2v2h-2zM54 8h6v2h-6zM30 10h4v2h-4zM36 10h2v2h-2zM42 10h2v2h-2zM18 12h2v2h-2zM26 12h6v2h-6zM36 12h2v2h-2zM42 12h2v2h-2zM58 12h2v2h-2zM20 14h2v2h-2zM24 14h4v2h-4zM36 14h2v2h-2zM42 14h2v2h-2zM58 14h2v2h-2zM18 16h2v2h-2zM32 16h4v2h-4zM40 16h2v2h-2zM52 16h4v2h-4zM4 18h2v2h-2zM10 18h2v2h-2zM24 18h2v2h-2zM28 18h2v2h-2zM48 18h2v2h-2zM54 18h2v2h-2zM2 20h4v2h-4zM8 20h2v2h-2zM26 20h4v2h-4zM52 20h2v2h-2zM2 22h2v2h-2zM6 22h2v2h-2zM12 22h4v2h-4zM26 22h2v2h-2zM60 22h2v2h-2zM2 24h6v2h-6zM36 24h2v2h-2zM44 24h2v2h-2zM50 24h2v2h-2zM4 26h2v2h-2zM22 26h2v2h-2zM38 26h2v2h-2zM42 26h4v2h-4zM50 26h4v2h-4zM60 26h2v2h-2zM6 28h2v2h-2zM10 28h2v2h-2zM22 28h2v2h-2zM34 28h2v2h-2zM40 28h2v2h-2zM52 28h2v2h-2zM62 28h2v2h-2zM10 30h2v2h-2zM14 30h2v2h-2zM22 30h6v2h-6zM40 30h2v2h-2zM6 32h6v2h-6zM16 32h2v2h-2zM40 32h4v2h-4zM54 32h2v2h-2zM58 32h2v2h-2zM4 34h8v2h-8zM16 34h6v2h-6zM24 34h2v2h-2zM38 34h2v2h-2zM8 36h2v2h-2zM26 36h2v2h-2zM30 36h2v2h-2zM48 36h2v2h-2zM54 36h2v2h-2zM26 38h2v2h-2zM40 38h4v2h-4zM16 40h2v2h-2zM26 40h6v2h-6zM34 40h2v2h-2zM42 40h2v2h-2zM8 42h2v2h-2zM42 42h2v2h-2zM48 42h2v2h-2zM62 42h2v2h-2zM28 44h2v2h-2zM32 44h4v2h-4zM58 44h2v2h-2zM2 46h2v2h-2zM24 46h8v2h-8zM36 46h2v2h-2zM46 46h4v2h-4zM60 46h2v2h-2zM6 48h2v2h-2zM18 48h4v2h-4zM28 48h2v2h-2zM38 48h4v2h-4zM58 48h4v2h-4zM6 50h2v2h-2zM12 50h2v2h-2zM16 50h2v2h-2zM20 50h4v2h-4zM28 50h2v2h-2zM34 50h2v2h-2zM38 50h4v2h-4zM0 52h2v2h-2zM8 52h4v2h-4zM14 52h4v2h-4zM20 52h2v2h-2zM30 52h4v2h-4zM38 52h2v2h-2zM46 52h6v2h-6zM58 52h4v2h-4zM0 54h2v2h-2zM36 54h2v2h-2zM46 54h2v2h-2zM50 54h4v2h-4zM56 54h2v2h-2zM10 56h2v2h-2zM14 56h2v2h-2zM8 58h4v2h-4zM24 58h4v2h-4zM40 58h2v2h-2zM48 58h2v2h-2zM8 60h6v2h-6zM24 60h2v2h-2zM30 60h2v2h-2zM40 60h2v2h-2zM56 60h4v2h-4zM0 62h4v2h-4zM8 62h2v2h-2zM16 62h4v2h-4zM26 62h2v2h-2zM30 62h2v2h-2zM58 62h6v2h-6z"/>
<path fill="#64ff00" d="M4 0h2v2h-2zM12 0h4v2h-4zM22 0h2v2h-2zM46 0h6v2h-6zM56 0h2v2h-2zM62 0h2v2h-2zM0 2h4v2h-4zM6 2h6v2h-6zM18 2h4v2h-4zM30 2h4v2h-4zM54 2h2v2h-2zM60 2h4v2h-4zM0 4h2v2h-2zM18 4h12v2h-12zM34 4h4v2h-4zM44 4h2v2h-2zM50 4h4v2h-4zM60 4h4v2h-4zM26 6h4v2h-4zM36 6h2v2h-2zM44 6h4v2h-4zM52 6h2v2h-2zM60 6h2v2h-2zM10 8h2v2h-2zM16 8h2v2h-2zM38 8h10v2h-10zM50 8h4v2h-4zM2 10h6v2h-6zM38 10h4v2h-4zM46 10h4v2h-4zM52 10h2v2h-2zM10 12h2v2h-2zM20 12h4v2h-4zM38 12h4v2h-4zM46 12h4v2h-4zM56 12h2v2h-2zM2 14h6v2h-6zM12 14h2v2h-2zM38 14h2v2h-2zM46 14h2v2h-2zM50 14h4v2h-4zM56 14h2v2h-2zM60 14h2v2h-2zM0 16h8v2h-8zM14 16h4v2h-4zM44 16h4v2h-4zM0 18h4v2h-4zM6 18h2v2h-2zM16 18h6v2h-6zM30 18h4v2h-4zM40 18h2v2h-2zM56 18h2v2h-2zM62 18h2v2h-2zM12 20h2v2h-2zM16 20h6v2h-6zM32 20h2v2h-2zM38 20h2v2h-2zM42 20h4v2h-4zM20 22h2v2h-2zM32 22h4v2h-4zM38 22h2v2h-2zM44 22h6v2h-6zM8 24h2v2h-2zM32 24h4v2h-4zM62 24h2v2h-2zM0 26h4v2h-4zM8 26h14v2h-14zM26 26h10v2h-10zM62 26h2v2h-2zM2 28h2v2h-2zM16 28h6v2h-6zM26 28h8v2h-8zM44 28h6v2h-6zM16 30h6v2h-6zM30 30h4v2h-4zM44 30h6v2h-6zM2 32h2v2h-2zM26 32h2v2h-2zM32 32h6v2h-6zM44 32h6v2h-6zM14 34h2v2h-2zM26 34h4v2h-4zM34 34h2v2h-2zM42 34h12v2h-12zM56 34h6v2h-6zM4 36h2v2h-2zM10 36h10v2h-10zM22 36h2v2h-2zM32 36h2v2h-2zM40 36h6v2h-6zM52 36h2v2h-2zM58 36h4v2h-4zM2 38h4v2h-4zM10 38h4v2h-4zM18 38h6v2h-6zM30 38h10v2h-10zM54 38h2v2h-2zM60 38h4v2h-4zM2 40h6v2h-6zM10 40h4v2h-4zM22 40h4v2h-4zM36 40h4v2h-4zM46 40h2v2h-2zM52 40h4v2h-4zM2 42h6v2h-6zM22 42h4v2h-4zM30 42h2v2h-2zM36 42h4v2h-4zM44 42h4v2h-4zM50 42h4v2h-4zM58 42h2v2h-2zM0 44h2v2h-2zM4 44h2v2h-2zM10 44h2v2h-2zM30 44h2v2h-2zM42 44h2v2h-2zM46 44h2v2h-2zM10 46h8v2h-8zM38 46h8v2h-8zM2 48h2v2h-2zM32 48h2v2h-2zM44 48h2v2h-2zM56 48h2v2h-2zM0 50h2v2h-2zM36 50h2v2h-2zM44 50h4v2h-4zM58 50h6v2h-6zM26 52h4v2h-4zM34 52h4v2h-4zM52 52h2v2h-2zM62 52h2v2h-2zM12 54h2v2h-2zM18 54h8v2h-8zM32 54h4v2h-4zM40 54h2v2h-2zM58 54h6v2h-6zM0 56h2v2h-2zM6 56h2v2h-2zM20 56h4v2h-4zM34 56h2v2h-2zM38 56h6v2h-6zM50 56h6v2h-6zM58 56h2v2h-2zM6 58h2v2h-2zM12 58h12v2h-12zM42 58h6v2h-6zM14 60h2v2h-2zM22 60h2v2h-2zM32 60h2v2h-2zM42 60h2v2h-2zM48 60h4v2h-4zM54 60h2v2h-2zM60 60h4v2h-4zM14 62h2v2h-2zM42 62h4v2h-4zM48 62h2v2h-2z"/>
<path fill="#ffff00" d="M28 2h2v2h-2zM42 2h2v2h-2zM0 6h2v2h-2zM40 6h2v2h-2zM26 10h2v2h-2zM0 12h2v2h-2zM32 12h2v2h-2zM18 14h2v2h-2zM32 14h4v2h-4zM24 16h4v2h-4zM34 18h4v2h-4zM50 18h4v2h-4zM50 20h2v2h-2zM52 22h8v2h-8zM12 24h2v2h-2zM38 24h2v2h-2zM42 24h2v2h-2zM24 26h2v2h-2zM36 26h2v2h-2zM24 28h2v2h-2zM36 28h2v2h-2zM58 28h2v2h-2zM12 30h2v2h-2zM12 32h2v2h-2zM22 32h4v2h-4zM56 32h2v2h-2zM2 34h2v2h-2zM0 36h4v2h-4zM24 44h4v2h-4zM48 44h2v2h-2zM58 46h2v2h-2zM30 50h2v2h-2zM6 52h2v2h-2zM44 52h2v2h-2zM56 52h2v2h-2zM44 54h2v2h-2zM54 54h2v2h-2zM28 58h2v2h-2zM38 58h2v2h-2zM28 60h2v2h-2zM10 62h2v2h-2zM24 62h2v2h-2zM40 62h2v2h-2z"/>
<path fill="#32c800" d="M0 0h4v2h-4zM6 0h4v2h-4zM16 0h6v2h-6zM30 0h4v2h-4zM52 0h4v2h-4zM58 0h4v2h-4zM12 2h4v2h-4zM22 2h4v2h-4zM34 2h2v2h-2zM40 2h2v2h-2zM44 2h2v2h-2zM48 2h2v2h-2zM52 2h2v2h-2zM56 2h4v2h-4zM2 4h2v2h-2zM8 4h2v2h-2zM12 4h2v2h-2zM30 4h2v2h-2zM38 4h2v2h-2zM46 4h4v2h-4zM54 4h6v2h-6zM16 6h2v2h-2zM24 6h2v2h-2zM34 6h2v2h-2zM38 6h2v2h-2zM42 6h2v2h-2zM48 6h4v2h-4zM58 6h2v2h-2zM62 6h2v2h-2zM6 8h4v2h-4zM14 8h2v2h-2zM24 8h6v2h-6zM32 8h2v2h-2zM36 8h2v2h-2zM48 8h2v2h-2zM8 10h12v2h-12zM28 10h2v2h-2zM34 10h2v2h-2zM44 10h2v2h-2zM50 10h2v2h-2zM54 10h6v2h-6zM2 12h8v2h-8zM12 12h6v2h-6zM24 12h2v2h-2zM34 12h2v2h-2zM44 12h2v2h-2zM50 12h6v2h-6zM0 14h2v2h-2zM8 14h4v2h-4zM14 14h4v2h-4zM22 14h2v2h-2zM28 14h4v2h-4zM40 14h2v2h-2zM44 14h2v2h-2zM54 14h2v2h-2zM8 16h6v2h-6zM20 16h4v2h-4zM28 16h4v2h-4zM36 16h4v2h-4zM42 16h2v2h-2zM48 16h4v2h-4zM56 16h6v2h-6zM8 18h2v2h-2zM12 18h2v2h-2zM22 18h2v2h-2zM26 18h2v2h-2zM38 18h2v2h-2zM42 18h6v2h-6zM58 18h4v2h-4zM0 20h2v2h-2zM6 20h2v2h-2zM10 20h2v2h-2zM22 20h4v2h-4zM30 20h2v2h-2zM34 20h4v2h-4zM40 20h2v2h-2zM46 20h4v2h-4zM54 20h10v2h-10zM0 22h2v2h-2zM4 22h2v2h-2zM8 22h4v2h-4zM16 22h4v2h-4zM22 22h4v2h-4zM36 22h2v2h-2zM40 22h4v2h-4zM50 22h2v2h-2zM0 24h2v2h-2zM10 24h2v2h-2zM14 24h18v2h-18zM40 24h2v2h-2zM46 24h4v2h-4zM52 24h10v2h-10zM46 26h4v2h-4zM54 26h6v2h-6zM0 28h2v2h-2zM4 28h2v2h-2zM8 28h2v2h-2zM12 28h4v2h-4zM38 28h2v2h-2zM42 28h2v2h-2zM50 28h2v2h-2zM54 28h4v2h-4zM0 30h2v2h-2zM6 30h4v2h-4zM28 30h2v2h-2zM42 30h2v2h-2zM50 30h6v2h-6zM62 30h2v2h-2zM4 32h2v2h-2zM14 32h2v2h-2zM18 32h4v2h-4zM28 32h2v2h-2zM38 32h2v2h-2zM50 32h4v2h-4zM60 32h4v2h-4zM12 34h2v2h-2zM22 34h2v2h-2zM36 34h2v2h-2zM40 34h2v2h-2zM54 34h2v2h-2zM62 34h2v2h-2zM6 36h2v2h-2zM20 36h2v2h-2zM24 36h2v2h-2zM28 36h2v2h-2zM34 36h6v2h-6zM46 36h2v2h-2zM50 36h2v2h-2zM56 36h2v2h-2zM62 36h2v2h-2zM0 38h2v2h-2zM6 38h4v2h-4zM14 38h4v2h-4zM24 38h2v2h-2zM28 38h2v2h-2zM44 38h10v2h-10zM56 38h2v2h-2zM8 40h2v2h-2zM14 40h2v2h-2zM18 40h2v2h-2zM32 40h2v2h-2zM40 40h2v2h-2zM48 40h4v2h-4zM60 40h2v2h-2zM10 42h10v2h-10zM26 42h4v2h-4zM32 42h4v2h-4zM40 42h2v2h-2zM60 42h2v2h-2zM2 44h2v2h-2zM6 44h4v2h-4zM12 44h8v2h-8zM22 44h2v2h-2zM36 44h6v2h-6zM44 44h2v2h-2zM50 44h2v2h-2zM56 44h2v2h-2zM60 44h4v2h-4zM0 46h2v2h-2zM4 46h6v2h-6zM18 46h2v2h-2zM32 46h4v2h-4zM56 46h2v2h-2zM62 46h2v2h-2zM0 48h2v2h-2zM8 48h4v2h-4zM14 48h4v2h-4zM22 48h6v2h-6zM30 48h2v2h-2zM34 48h4v2h-4zM42 48h2v2h-2zM46 48h8v2h-8zM62 48h2v2h-2zM8 50h4v2h-4zM14 50h2v2h-2zM18 50h2v2h-2zM24 50h4v2h-4zM32 50h2v2h-2zM42 50h2v2h-2zM48 50h10v2h-10zM12 52h2v2h-2zM18 52h2v2h-2zM24 52h2v2h-2zM40 52h2v2h-2zM54 52h2v2h-2zM4 54h8v2h-8zM14 54h4v2h-4zM38 54h2v2h-2zM42 54h2v2h-2zM48 54h2v2h-2zM8 56h2v2h-2zM16 56h4v2h-4zM24 56h2v2h-2zM32 56h2v2h-2zM36 56h2v2h-2zM44 56h6v2h-6zM56 56h2v2h-2zM60 56h4v2h-4zM0 58h2v2h-2zM4 58h2v2h-2zM30 58h8v2h-8zM50 58h10v2h-10zM62 58h2v2h-2zM4 60h4v2h-4zM16 60h6v2h-6zM26 60h2v2h-2zM44 60h4v2h-4zM52 60h2v2h-2zM4 62h4v2h-4zM12 62h2v2h-2zM20 62h4v2h-4zM28 62h2v2h-2zM46 62h2v2h-2zM50 62h2v2h-2zM54 62h4v2h-4z"/>
</pattern>
<pattern id="pg" patternUnits="userSpaceOnUse" width="64" height="64">
<rect width="64" height="64" fill="#c8c8c8"/>
<path fill="#009600" d="M44 0h2v2h-2zM0 12h2v2h-2zM24 16h2v2h-2zM46 20h6v2h-6zM4 22h2v2h-2zM16 28h4v2h-4zM28 44h2v2h-2zM28 46h2v2h-2zM60 50h4v2h-4zM22 52h2v2h-2zM0 62h2v2h-2zM34 62h2v2h-2z"/>
<path fill="#64ff00" d="M0 0h4v2h-4zM12 0h2v2h-2zM16 0h2v2h-2zM22 0h2v2h-2zM42 0h2v2h-2zM52 0h4v2h-4zM36 2h2v2h-2zM52 2h2v2h-2zM60 2h4v2h-4zM16 4h2v2h-2zM36 4h4v2h-4zM48 4h12v2h-12zM22 6h2v2h-2zM26 6h2v2h-2zM36 6h2v2h-2zM52 6h8v2h-8zM0 8h2v2h-2zM12 8h2v2h-2zM30 8h2v2h-2zM34 8h2v2h-2zM40 8h2v2h-2zM52 8h6v2h-6zM12 10h6v2h-6zM34 10h2v2h-2zM54 10h4v2h-4zM6 12h2v2h-2zM10 12h8v2h-8zM24 12h8v2h-8zM34 12h2v2h-2zM40 12h2v2h-2zM14 14h2v2h-2zM28 14h6v2h-6zM0 16h2v2h-2zM6 16h2v2h-2zM12 16h2v2h-2zM22 16h2v2h-2zM28 16h6v2h-6zM46 16h4v2h-4zM52 16h6v2h-6zM0 18h8v2h-8zM14 18h2v2h-2zM26 18h2v2h-2zM40 18h2v2h-2zM46 18h4v2h-4zM54 18h2v2h-2zM58 18h6v2h-6zM0 20h10v2h-10zM16 20h6v2h-6zM24 20h8v2h-8zM60 20h4v2h-4zM6 22h4v2h-4zM20 22h2v2h-2zM24 22h8v2h-8zM50 22h6v2h-6zM62 22h2v2h-2zM14 24h4v2h-4zM26 24h4v2h-4zM36 24h2v2h-2zM56 24h2v2h-2zM60 24h4v2h-4zM0 26h2v2h-2zM8 26h2v2h-2zM12 26h2v2h-2zM26 26h4v2h-4zM40 26h2v2h-2zM48 26h2v2h-2zM54 26h2v2h-2zM60 26h4v2h-4zM0 28h2v2h-2zM6 28h6v2h-6zM26 28h2v2h-2zM40 28h2v2h-2zM48 28h4v2h-4zM58 28h2v2h-2zM62 28h2v2h-2zM4 30h4v2h-4zM32 30h2v2h-2zM36 30h2v2h-2zM48 30h4v2h-4zM56 30h4v2h-4zM4 32h4v2h-4zM16 32h2v2h-2zM30 32h4v2h-4zM36 32h2v2h-2zM58 32h2v2h-2zM0 34h6v2h-6zM12 34h6v2h-6zM36 34h2v2h-2zM40 34h4v2h-4zM50 34h2v2h-2zM2 36h8v2h-8zM12 36h4v2h-4zM20 36h6v2h-6zM34 36h6v2h-6zM50 36h6v2h-6zM58 36h2v2h-2zM0 38h4v2h-4zM18 38h8v2h-8zM46 38h14v2h-14zM0 40h2v2h-2zM28 40h2v2h-2zM44 40h6v2h-6zM52 40h2v2h-2zM0 42h4v2h-4zM18 42h6v2h-6zM28 42h2v2h-2zM42 42h6v2h-6zM54 42h2v2h-2zM62 42h2v2h-2zM0 44h4v2h-4zM14 44h2v2h-2zM20 44h2v2h-2zM40 44h2v2h-2zM52 44h4v2h-4zM0 46h2v2h-2zM14 46h2v2h-2zM20 46h2v2h-2zM26 46h2v2h-2zM30 46h6v2h-6zM38 46h4v2h-4zM50 46h8v2h-8zM0 48h4v2h-4zM22 48h2v2h-2zM34 48h8v2h-8zM0 50h6v2h-6zM18 50h2v2h-2zM40 50h4v2h-4zM0 52h2v2h-2zM4 52h4v2h-4zM32 52h2v2h-2zM42 52h2v2h-2zM48 52h2v2h-2zM0 54h2v2h-2zM6 54h6v2h-6zM32 54h2v2h-2zM42 54h2v2h-2zM48 54h12v2h-12zM62 54h2v2h-2zM0 56h10v2h-10zM18 56h2v2h-2zM30 56h4v2h-4zM40 56h4v2h-4zM50 56h4v2h-4zM58 56h2v2h-2zM62 56h2v2h-2zM0 58h4v2h-4zM6 58h2v2h-2zM18 58h2v2h-2zM28 58h4v2h-4zM38 58h2v2h-2zM50 58h2v2h-2zM54 58h2v2h-2zM0 60h4v2h-4zM6 60h4v2h-4zM12 60h2v2h-2zM28 60h4v2h-4zM36 60h2v2h-2zM40 60h2v2h-2zM52 60h8v2h-8zM62 60h2v2h-2zM4 62h2v2h-2zM8 62h2v2h-2zM12 62h6v2h-6zM54 62h4v2h-4z"/>
<path fill="#ffff00" d="M62 0h2v2h-2zM0 2h2v2h-2zM12 2h4v2h-4zM20 2h4v2h-4zM42 2h2v2h-2zM46 2h4v2h-4zM0 4h2v2h-2zM20 4h2v2h-2zM42 4h2v2h-2zM62 6h2v2h-2zM28 8h2v2h-2zM58 8h4v2h-4zM20 10h2v2h-2zM28 10h2v2h-2zM40 10h2v2h-2zM52 10h2v2h-2zM36 12h2v2h-2zM0 14h2v2h-2zM12 14h2v2h-2zM60 14h4v2h-4zM2 16h4v2h-4zM8 16h2v2h-2zM16 16h4v2h-4zM26 16h2v2h-2zM34 16h2v2h-2zM38 16h2v2h-2zM18 18h4v2h-4zM38 18h2v2h-2zM22 20h2v2h-2zM52 20h4v2h-4zM0 22h4v2h-4zM22 22h2v2h-2zM42 22h2v2h-2zM42 24h2v2h-2zM52 24h2v2h-2zM16 26h2v2h-2zM36 26h2v2h-2zM42 26h2v2h-2zM52 26h2v2h-2zM2 28h2v2h-2zM36 28h2v2h-2zM2 30h2v2h-2zM18 30h2v2h-2zM24 30h4v2h-4zM54 30h2v2h-2zM0 32h2v2h-2zM18 32h2v2h-2zM24 32h4v2h-4zM18 34h2v2h-2zM24 34h2v2h-2zM62 34h2v2h-2zM16 36h4v2h-4zM6 38h6v2h-6zM26 38h2v2h-2zM2 40h2v2h-2zM18 40h2v2h-2zM24 40h2v2h-2zM32 42h2v2h-2zM52 42h2v2h-2zM4 44h2v2h-2zM30 44h2v2h-2zM38 44h2v2h-2zM50 44h2v2h-2zM4 46h2v2h-2zM18 46h2v2h-2zM24 46h2v2h-2zM58 46h4v2h-4zM20 50h2v2h-2zM14 52h4v2h-4zM20 52h2v2h-2zM50 52h2v2h-2zM44 54h2v2h-2zM60 54h2v2h-2zM34 56h2v2h-2zM44 56h4v2h-4zM14 58h2v2h-2zM42 58h2v2h-2zM52 58h2v2h-2zM34 60h2v2h-2zM50 60h2v2h-2zM32 62h2v2h-2zM58 62h6v2h-6z"/>
<path fill="#32c800" d="M14 0h2v2h-2zM56 0h2v2h-2zM60 0h2v2h-2zM6 2h4v2h-4zM44 2h2v2h-2zM54 2h4v2h-4zM8 4h2v2h-2zM14 4h2v2h-2zM18 4h2v2h-2zM0 6h4v2h-4zM10 6h4v2h-4zM18 6h4v2h-4zM42 6h2v2h-2zM60 6h2v2h-2zM26 8h2v2h-2zM0 10h2v2h-2zM18 10h2v2h-2zM26 10h2v2h-2zM30 10h4v2h-4zM42 10h2v2h-2zM48 10h2v2h-2zM62 10h2v2h-2zM18 12h2v2h-2zM22 12h2v2h-2zM32 12h2v2h-2zM42 12h2v2h-2zM6 14h2v2h-2zM24 14h2v2h-2zM34 14h4v2h-4zM14 16h2v2h-2zM36 16h2v2h-2zM60 16h4v2h-4zM8 18h2v2h-2zM16 18h2v2h-2zM22 18h4v2h-4zM36 18h2v2h-2zM42 18h2v2h-2zM50 18h4v2h-4zM38 20h4v2h-4zM38 22h4v2h-4zM8 24h2v2h-2zM38 24h4v2h-4zM54 24h2v2h-2zM18 26h2v2h-2zM38 26h2v2h-2zM44 26h4v2h-4zM50 26h2v2h-2zM56 26h2v2h-2zM4 28h2v2h-2zM12 28h4v2h-4zM24 28h2v2h-2zM38 28h2v2h-2zM42 28h6v2h-6zM52 28h6v2h-6zM0 30h2v2h-2zM8 30h2v2h-2zM16 30h2v2h-2zM38 30h2v2h-2zM2 32h2v2h-2zM38 32h2v2h-2zM38 34h2v2h-2zM52 34h2v2h-2zM10 36h2v2h-2zM48 36h2v2h-2zM56 36h2v2h-2zM60 36h4v2h-4zM4 38h2v2h-2zM16 38h2v2h-2zM4 40h2v2h-2zM20 40h4v2h-4zM26 40h2v2h-2zM42 40h2v2h-2zM24 42h4v2h-4zM30 42h2v2h-2zM40 42h2v2h-2zM56 42h2v2h-2zM6 44h2v2h-2zM18 44h2v2h-2zM26 44h2v2h-2zM32 44h4v2h-4zM42 44h4v2h-4zM56 44h8v2h-8zM62 46h2v2h-2zM4 48h2v2h-2zM8 48h2v2h-2zM24 48h6v2h-6zM54 48h2v2h-2zM24 50h4v2h-4zM8 52h2v2h-2zM18 52h2v2h-2zM60 52h4v2h-4zM4 54h2v2h-2zM16 54h2v2h-2zM10 56h2v2h-2zM16 56h2v2h-2zM28 56h2v2h-2zM60 56h2v2h-2zM12 58h2v2h-2zM16 58h2v2h-2zM32 58h2v2h-2zM40 58h2v2h-2zM44 58h6v2h-6zM58 58h2v2h-2zM4 60h2v2h-2zM14 60h4v2h-4zM38 60h2v2h-2zM48 60h2v2h-2zM2 62h2v2h-2zM40 62h2v2h-2z"/>
</pattern>
<pattern id="ph" patternUnits="userSpaceOnUse" width="64" height="64">
<rect width="64" height="64" fill="#c8c8c8"/>
<path fill="#009600" d="M0 0h4v2h-4zM18 0h2v2h-2zM22 0h4v2h-4zM28 0h4v2h-4zM34 0h4v2h-4zM42 0h10v2h-10zM56 0h2v2h-2zM60 0h4v2h-4zM0 2h4v2h-4zM8 2h4v2h-4zM14 2h6v2h-6zM24 2h2v2h-2zM30 2h4v2h-4zM42 2h4v2h-4zM48 2h2v2h-2zM58 2h4v2h-4zM0 4h2v2h-2zM8 4h2v2h-2zM12 4h6v2h-6zM22 4h2v2h-2zM30 4h4v2h-4zM48 4h2v2h-2zM52 4h4v2h-4zM62 4h2v2h-2zM0 6h2v2h-2zM4 6h6v2h-6zM16 6h4v2h-4zM22 6h2v2h-2zM28 6h6v2h-6zM38 6h4v2h-4zM46 6h4v2h-4zM52 6h10v2h-10zM0 8h12v2h-12zM20 8h4v2h-4zM28 8h4v2h-4zM36 8h8v2h-8zM48 8h10v2h-10zM0 10h2v2h-2zM4 10h4v2h-4zM12 10h2v2h-2zM18 10h6v2h-6zM28 10h2v2h-2zM40 10h18v2h-18zM60 10h2v2h-2zM10 12h2v2h-2zM18 12h2v2h-2zM22 12h4v2h-4zM28 12h2v2h-2zM34 12h6v2h-6zM42 12h2v2h-2zM48 12h4v2h-4zM54 12h4v2h-4zM60 12h4v2h-4zM4 14h2v2h-2zM12 14h6v2h-6zM20 14h2v2h-2zM28 14h8v2h-8zM38 14h6v2h-6zM50 14h2v2h-2zM54 14h2v2h-2zM58 14h2v2h-2zM62 14h2v2h-2zM2 16h10v2h-10zM14 16h2v2h-2zM20 16h2v2h-2zM24 16h4v2h-4zM32 16h4v2h-4zM38 16h2v2h-2zM44 16h16v2h-16zM62 16h2v2h-2zM0 18h4v2h-4zM10 18h6v2h-6zM20 18h4v2h-4zM34 18h2v2h-2zM44 18h6v2h-6zM58 18h6v2h-6zM10 20h2v2h-2zM20 20h4v2h-4zM34 20h4v2h-4zM40 20h2v2h-2zM44 20h6v2h-6zM52 20h12v2h-12zM0 22h2v2h-2zM10 22h2v2h-2zM26 22h2v2h-2zM30 22h4v2h-4zM36 22h2v2h-2zM44 22h4v2h-4zM50 22h2v2h-2zM56 22h4v2h-4zM0 24h2v2h-2zM16 24h2v2h-2zM34 24h4v2h-4zM42 24h2v2h-2zM48 24h2v2h-2zM52 24h2v2h-2zM62 24h2v2h-2zM0 26h2v2h-2zM4 26h2v2h-2zM10 26h2v2h-2zM18 26h2v2h-2zM54 26h2v2h-2zM58 26h6v2h-6zM0 28h6v2h-6zM8 28h8v2h-8zM18 28h2v2h-2zM36 28h2v2h-2zM54 28h2v2h-2zM60 28h4v2h-4zM12 30h6v2h-6zM20 30h6v2h-6zM38 30h2v2h-2zM48 30h2v2h-2zM56 30h2v2h-2zM60 30h4v2h-4zM4 32h6v2h-6zM22 32h10v2h-10zM34 32h2v2h-2zM38 32h6v2h-6zM46 32h2v2h-2zM50 32h2v2h-2zM54 32h2v2h-2zM60 32h4v2h-4zM10 34h4v2h-4zM20 34h2v2h-2zM24 34h2v2h-2zM28 34h4v2h-4zM44 34h2v2h-2zM48 34h2v2h-2zM58 34h4v2h-4zM0 36h2v2h-2zM20 36h2v2h-2zM24 36h2v2h-2zM46 36h2v2h-2zM60 36h2v2h-2zM10 38h2v2h-2zM24 38h2v2h-2zM44 38h4v2h-4zM56 38h6v2h-6zM6 40h6v2h-6zM16 40h2v2h-2zM20 40h4v2h-4zM26 40h2v2h-2zM42 40h2v2h-2zM46 40h4v2h-4zM58 40h4v2h-4zM6 42h6v2h-6zM14 42h2v2h-2zM20 42h2v2h-2zM26 42h2v2h-2zM44 42h2v2h-2zM2 44h2v2h-2zM14 44h2v2h-2zM26 44h4v2h-4zM32 44h2v2h-2zM36 44h4v2h-4zM42 44h2v2h-2zM60 44h4v2h-4zM0 46h2v2h-2zM10 46h2v2h-2zM14 46h2v2h-2zM42 46h4v2h-4zM60 46h4v2h-4zM2 48h8v2h-8zM12 48h10v2h-10zM24 48h2v2h-2zM28 48h2v2h-2zM32 48h4v2h-4zM42 48h2v2h-2zM0 50h2v2h-2zM4 50h2v2h-2zM12 50h2v2h-2zM16 50h4v2h-4zM22 50h4v2h-4zM42 50h6v2h-6zM52 50h4v2h-4zM58 50h6v2h-6zM0 52h14v2h-14zM18 52h2v2h-2zM24 52h4v2h-4zM34 52h2v2h-2zM38 52h6v2h-6zM54 52h2v2h-2zM8 54h2v2h-2zM12 54h4v2h-4zM36 54h6v2h-6zM44 54h4v2h-4zM54 54h6v2h-6zM8 56h4v2h-4zM14 56h4v2h-4zM26 56h2v2h-2zM36 56h6v2h-6zM52 56h2v2h-2zM56 56h2v2h-2zM62 56h2v2h-2zM10 58h4v2h-4zM18 58h6v2h-6zM28 58h2v2h-2zM34 58h6v2h-6zM42 58h4v2h-4zM48 58h2v2h-2zM54 58h8v2h-8zM10 60h8v2h-8zM22 60h2v2h-2zM26 60h2v2h-2zM34 60h2v2h-2zM46 60h4v2h-4zM56 60h6v2h-6zM0 62h2v2h-2zM6 62h8v2h-8zM32 62h2v2h-2zM46 62h2v2h-2zM50 62h4v2h-4zM56 62h4v2h-4zM62 62h2v2h-2z"/>
<path fill="#64ff00" d="M6 0h2v2h-2zM38 0h2v2h-2zM4 2h2v2h-2zM38 2h4v2h-4zM6 4h2v2h-2zM20 4h2v2h-2zM24 4h4v2h-4zM36 4h2v2h-2zM44 4h2v2h-2zM12 6h2v2h-2zM20 6h2v2h-2zM36 6h2v2h-2zM44 6h2v2h-2zM24 8h2v2h-2zM14 10h4v2h-4zM14 12h4v2h-4zM6 14h4v2h-4zM36 14h2v2h-2zM44 14h4v2h-4zM56 14h2v2h-2zM28 18h2v2h-2zM8 20h2v2h-2zM18 20h2v2h-2zM28 20h4v2h-4zM4 22h4v2h-4zM52 22h2v2h-2zM62 22h2v2h-2zM6 24h4v2h-4zM12 24h2v2h-2zM20 24h2v2h-2zM26 24h2v2h-2zM30 24h2v2h-2zM38 24h2v2h-2zM6 26h2v2h-2zM14 26h2v2h-2zM20 26h4v2h-4zM26 26h2v2h-2zM30 26h4v2h-4zM48 26h4v2h-4zM56 26h2v2h-2zM16 28h2v2h-2zM26 28h6v2h-6zM40 28h2v2h-2zM56 28h4v2h-4zM28 30h6v2h-6zM14 32h2v2h-2zM32 32h2v2h-2zM14 34h2v2h-2zM36 34h2v2h-2zM52 34h2v2h-2zM4 36h2v2h-2zM10 36h10v2h-10zM40 36h4v2h-4zM54 36h2v2h-2zM14 38h2v2h-2zM28 38h4v2h-4zM34 38h4v2h-4zM40 38h4v2h-4zM50 38h2v2h-2zM54 38h2v2h-2zM0 40h2v2h-2zM12 40h2v2h-2zM32 40h10v2h-10zM52 40h2v2h-2zM0 42h2v2h-2zM34 42h8v2h-8zM52 42h4v2h-4zM60 42h2v2h-2zM16 44h2v2h-2zM58 44h2v2h-2zM16 46h2v2h-2zM22 46h2v2h-2zM26 46h2v2h-2zM56 46h2v2h-2zM50 48h8v2h-8zM36 50h4v2h-4zM48 50h4v2h-4zM56 50h2v2h-2zM48 52h6v2h-6zM62 52h2v2h-2zM2 54h2v2h-2zM22 54h2v2h-2zM50 54h2v2h-2zM60 54h4v2h-4zM2 56h6v2h-6zM20 56h4v2h-4zM30 56h4v2h-4zM50 56h2v2h-2zM2 58h6v2h-6zM50 58h2v2h-2zM62 58h2v2h-2zM0 60h6v2h-6zM24 60h2v2h-2zM32 60h2v2h-2zM52 60h2v2h-2zM4 62h2v2h-2zM22 62h6v2h-6zM38 62h6v2h-6zM48 62h2v2h-2z"/>
<path fill="#286400" d="M10 0h8v2h-8zM26 0h2v2h-2zM32 0h2v2h-2zM58 0h2v2h-2zM26 2h4v2h-4zM62 2h2v2h-2zM2 4h2v2h-2zM40 4h2v2h-2zM2 6h2v2h-2zM2 10h2v2h-2zM30 10h8v2h-8zM2 12h4v2h-4zM20 12h2v2h-2zM26 12h2v2h-2zM30 12h4v2h-4zM44 12h2v2h-2zM52 12h2v2h-2zM58 12h2v2h-2zM10 14h2v2h-2zM18 14h2v2h-2zM26 14h2v2h-2zM52 14h2v2h-2zM60 14h2v2h-2zM12 16h2v2h-2zM16 16h4v2h-4zM40 16h2v2h-2zM60 16h2v2h-2zM16 18h4v2h-4zM24 18h2v2h-2zM52 18h6v2h-6zM38 20h2v2h-2zM24 22h2v2h-2zM34 22h2v2h-2zM44 24h4v2h-4zM58 24h2v2h-2zM44 26h4v2h-4zM52 26h2v2h-2zM44 28h4v2h-4zM18 30h2v2h-2zM36 30h2v2h-2zM44 30h4v2h-4zM50 30h2v2h-2zM58 30h2v2h-2zM10 32h4v2h-4zM56 32h4v2h-4zM8 34h2v2h-2zM22 34h2v2h-2zM48 36h2v2h-2zM58 36h2v2h-2zM24 40h2v2h-2zM44 40h2v2h-2zM22 42h4v2h-4zM30 42h2v2h-2zM46 42h4v2h-4zM54 44h2v2h-2zM2 46h4v2h-4zM28 46h8v2h-8zM22 48h2v2h-2zM30 48h2v2h-2zM44 48h2v2h-2zM2 50h2v2h-2zM28 52h2v2h-2zM42 54h2v2h-2zM42 56h6v2h-6zM8 58h2v2h-2zM40 58h2v2h-2zM46 58h2v2h-2zM8 60h2v2h-2zM18 60h4v2h-4zM28 60h2v2h-2zM14 62h6v2h-6z"/>
<path fill="#32c800" d="M4 0h2v2h-2zM8 0h2v2h-2zM40 0h2v2h-2zM52 0h4v2h-4zM12 2h2v2h-2zM20 2h4v2h-4zM34 2h4v2h-4zM46 2h2v2h-2zM52 2h6v2h-6zM4 4h2v2h-2zM10 4h2v2h-2zM18 4h2v2h-2zM28 4h2v2h-2zM34 4h2v2h-2zM38 4h2v2h-2zM42 4h2v2h-2zM46 4h2v2h-2zM50 4h2v2h-2zM56 4h6v2h-6zM10 6h2v2h-2zM14 6h2v2h-2zM24 6h4v2h-4zM34 6h2v2h-2zM42 6h2v2h-2zM50 6h2v2h-2zM62 6h2v2h-2zM12 8h8v2h-8zM26 8h2v2h-2zM32 8h4v2h-4zM46 8h2v2h-2zM58 8h6v2h-6zM8 10h4v2h-4zM24 10h4v2h-4zM58 10h2v2h-2zM62 10h2v2h-2zM0 12h2v2h-2zM6 12h4v2h-4zM12 12h2v2h-2zM40 12h2v2h-2zM22 14h4v2h-4zM48 14h2v2h-2zM0 16h2v2h-2zM22 16h2v2h-2zM28 16h4v2h-4zM36 16h2v2h-2zM42 16h2v2h-2zM4 18h6v2h-6zM32 18h2v2h-2zM36 18h8v2h-8zM50 18h2v2h-2zM0 20h8v2h-8zM12 20h6v2h-6zM32 20h2v2h-2zM42 20h2v2h-2zM50 20h2v2h-2zM2 22h2v2h-2zM8 22h2v2h-2zM12 22h10v2h-10zM28 22h2v2h-2zM38 22h6v2h-6zM48 22h2v2h-2zM54 22h2v2h-2zM60 22h2v2h-2zM2 24h4v2h-4zM10 24h2v2h-2zM14 24h2v2h-2zM18 24h2v2h-2zM22 24h4v2h-4zM28 24h2v2h-2zM40 24h2v2h-2zM50 24h2v2h-2zM54 24h4v2h-4zM60 24h2v2h-2zM2 26h2v2h-2zM8 26h2v2h-2zM12 26h2v2h-2zM16 26h2v2h-2zM28 26h2v2h-2zM34 26h2v2h-2zM6 28h2v2h-2zM20 28h4v2h-4zM32 28h4v2h-4zM38 28h2v2h-2zM48 28h6v2h-6zM0 30h12v2h-12zM26 30h2v2h-2zM34 30h2v2h-2zM52 30h4v2h-4zM0 32h4v2h-4zM16 32h6v2h-6zM36 32h2v2h-2zM44 32h2v2h-2zM48 32h2v2h-2zM52 32h2v2h-2zM0 34h6v2h-6zM16 34h4v2h-4zM26 34h2v2h-2zM32 34h4v2h-4zM38 34h6v2h-6zM46 34h2v2h-2zM50 34h2v2h-2zM54 34h4v2h-4zM62 34h2v2h-2zM2 36h2v2h-2zM8 36h2v2h-2zM22 36h2v2h-2zM26 36h14v2h-14zM44 36h2v2h-2zM50 36h4v2h-4zM56 36h2v2h-2zM62 36h2v2h-2zM0 38h2v2h-2zM8 38h2v2h-2zM12 38h2v2h-2zM16 38h8v2h-8zM26 38h2v2h-2zM32 38h2v2h-2zM38 38h2v2h-2zM48 38h2v2h-2zM52 38h2v2h-2zM62 38h2v2h-2zM2 40h2v2h-2zM14 40h2v2h-2zM18 40h2v2h-2zM28 40h4v2h-4zM54 40h4v2h-4zM62 40h2v2h-2zM2 42h4v2h-4zM12 42h2v2h-2zM16 42h4v2h-4zM28 42h2v2h-2zM42 42h2v2h-2zM56 42h4v2h-4zM62 42h2v2h-2zM0 44h2v2h-2zM4 44h10v2h-10zM18 44h2v2h-2zM22 44h4v2h-4zM34 44h2v2h-2zM40 44h2v2h-2zM44 44h2v2h-2zM48 44h6v2h-6zM56 44h2v2h-2zM6 46h4v2h-4zM12 46h2v2h-2zM18 46h2v2h-2zM24 46h2v2h-2zM36 46h2v2h-2zM40 46h2v2h-2zM48 46h4v2h-4zM54 46h2v2h-2zM58 46h2v2h-2zM0 48h2v2h-2zM10 48h2v2h-2zM26 48h2v2h-2zM48 48h2v2h-2zM58 48h6v2h-6zM6 50h6v2h-6zM14 50h2v2h-2zM20 50h2v2h-2zM26 50h10v2h-10zM40 50h2v2h-2zM14 52h4v2h-4zM22 52h2v2h-2zM30 52h2v2h-2zM36 52h2v2h-2zM44 52h4v2h-4zM56 52h6v2h-6zM0 54h2v2h-2zM4 54h4v2h-4zM16 54h2v2h-2zM20 54h2v2h-2zM24 54h8v2h-8zM48 54h2v2h-2zM52 54h2v2h-2zM0 56h2v2h-2zM12 56h2v2h-2zM18 56h2v2h-2zM24 56h2v2h-2zM28 56h2v2h-2zM48 56h2v2h-2zM58 56h4v2h-4zM0 58h2v2h-2zM14 58h4v2h-4zM24 58h4v2h-4zM30 58h4v2h-4zM52 58h2v2h-2zM6 60h2v2h-2zM30 60h2v2h-2zM36 60h10v2h-10zM50 60h2v2h-2zM54 60h2v2h-2zM62 60h2v2h-2zM2 62h2v2h-2zM20 62h2v2h-2zM28 62h4v2h-4zM34 62h4v2h-4zM44 62h2v2h-2zM54 62h2v2h-2zM60 62h2v2h-2z"/>
</pattern>
<pattern id="pj" patternUnits="userSpaceOnUse" width="64" height="64">
<rect width="64" height="64" fill="#c8c8c8"/>
<path fill="#009600" d="M32 2h2v2h-2zM26 4h2v2h-2zM10 6h2v2h-2zM14 6h2v2h-2zM40 6h2v2h-2zM40 8h2v2h-2zM62 8h2v2h-2zM2 18h4v2h-4zM24 20h2v2h-2zM58 20h2v2h-2zM6 22h4v2h-4zM38 22h2v2h-2zM8 24h2v2h-2zM22 24h2v2h-2zM8 26h2v2h-2zM22 26h2v2h-2zM52 26h2v2h-2zM2 30h2v2h-2zM44 32h2v2h-2zM56 32h2v2h-2zM20 34h2v2h-2zM48 34h2v2h-2zM8 36h2v2h-2zM20 36h4v2h-4zM4 38h4v2h-4zM58 38h2v2h-2zM6 40h2v2h-2zM32 40h4v2h-4zM34 42h4v2h-4zM32 44h2v2h-2zM44 44h2v2h-2zM58 44h2v2h-2zM2 46h2v2h-2zM24 46h2v2h-2zM58 46h2v2h-2zM14 48h2v2h-2zM38 48h2v2h-2zM4 50h2v2h-2zM40 50h2v2h-2zM44 50h6v2h-6zM4 52h2v2h-2zM22 52h2v2h-2zM62 52h2v2h-2zM38 54h2v2h-2zM10 60h2v2h-2z"/>
<path fill="#64ff00" d="M2 0h12v2h-12zM16 0h2v2h-2zM22 0h2v2h-2zM26 0h4v2h-4zM32 0h8v2h-8zM44 0h6v2h-6zM56 0h6v2h-6zM12 2h2v2h-2zM20 2h4v2h-4zM34 2h6v2h-6zM44 2h4v2h-4zM56 2h2v2h-2zM0 4h6v2h-6zM12 4h4v2h-4zM18 4h8v2h-8zM34 4h2v2h-2zM38 4h2v2h-2zM42 4h8v2h-8zM56 4h2v2h-2zM62 4h2v2h-2zM4 6h4v2h-4zM18 6h10v2h-10zM50 6h12v2h-12zM0 8h14v2h-14zM22 8h6v2h-6zM30 8h6v2h-6zM52 8h8v2h-8zM4 10h2v2h-2zM10 10h10v2h-10zM24 10h4v2h-4zM38 10h2v2h-2zM42 10h4v2h-4zM48 10h4v2h-4zM56 10h4v2h-4zM6 12h2v2h-2zM10 12h6v2h-6zM18 12h4v2h-4zM26 12h2v2h-2zM38 12h2v2h-2zM42 12h2v2h-2zM48 12h4v2h-4zM56 12h2v2h-2zM10 14h14v2h-14zM26 14h2v2h-2zM34 14h2v2h-2zM48 14h4v2h-4zM8 16h10v2h-10zM22 16h4v2h-4zM32 16h4v2h-4zM42 16h8v2h-8zM56 16h6v2h-6zM8 18h6v2h-6zM16 18h8v2h-8zM32 18h4v2h-4zM40 18h6v2h-6zM48 18h6v2h-6zM60 18h4v2h-4zM10 20h6v2h-6zM18 20h6v2h-6zM28 20h24v2h-24zM62 20h2v2h-2zM0 22h4v2h-4zM12 22h2v2h-2zM18 22h8v2h-8zM28 22h4v2h-4zM34 22h2v2h-2zM40 22h10v2h-10zM52 22h2v2h-2zM60 22h4v2h-4zM0 24h6v2h-6zM12 24h8v2h-8zM28 24h2v2h-2zM32 24h6v2h-6zM54 24h6v2h-6zM62 24h2v2h-2zM0 26h8v2h-8zM12 26h6v2h-6zM32 26h6v2h-6zM44 26h2v2h-2zM48 26h4v2h-4zM56 26h8v2h-8zM0 28h2v2h-2zM6 28h8v2h-8zM22 28h4v2h-4zM34 28h2v2h-2zM38 28h4v2h-4zM44 28h2v2h-2zM52 28h2v2h-2zM58 28h6v2h-6zM8 30h8v2h-8zM22 30h4v2h-4zM32 30h8v2h-8zM44 30h2v2h-2zM60 30h2v2h-2zM0 32h2v2h-2zM12 32h4v2h-4zM22 32h4v2h-4zM28 32h2v2h-2zM32 32h8v2h-8zM50 32h4v2h-4zM60 32h2v2h-2zM0 34h4v2h-4zM12 34h4v2h-4zM32 34h4v2h-4zM38 34h4v2h-4zM44 34h2v2h-2zM50 34h2v2h-2zM54 34h6v2h-6zM0 36h6v2h-6zM12 36h4v2h-4zM32 36h20v2h-20zM54 36h4v2h-4zM60 36h4v2h-4zM0 38h4v2h-4zM16 38h6v2h-6zM28 38h2v2h-2zM32 38h2v2h-2zM36 38h4v2h-4zM42 38h4v2h-4zM48 38h4v2h-4zM54 38h2v2h-2zM62 38h2v2h-2zM2 40h2v2h-2zM16 40h6v2h-6zM28 40h2v2h-2zM40 40h4v2h-4zM48 40h6v2h-6zM60 40h4v2h-4zM0 42h2v2h-2zM10 42h4v2h-4zM16 42h14v2h-14zM40 42h4v2h-4zM46 42h2v2h-2zM52 42h8v2h-8zM62 42h2v2h-2zM10 44h4v2h-4zM18 44h4v2h-4zM24 44h2v2h-2zM28 44h2v2h-2zM34 44h10v2h-10zM46 44h4v2h-4zM54 44h4v2h-4zM62 44h2v2h-2zM6 46h2v2h-2zM12 46h2v2h-2zM16 46h6v2h-6zM36 46h10v2h-10zM48 46h2v2h-2zM52 46h6v2h-6zM62 46h2v2h-2zM0 48h2v2h-2zM18 48h2v2h-2zM32 48h4v2h-4zM42 48h12v2h-12zM62 48h2v2h-2zM0 50h2v2h-2zM18 50h4v2h-4zM24 50h4v2h-4zM36 50h2v2h-2zM52 50h4v2h-4zM8 52h4v2h-4zM16 52h6v2h-6zM30 52h4v2h-4zM36 52h2v2h-2zM52 52h4v2h-4zM58 52h2v2h-2zM2 54h2v2h-2zM8 54h2v2h-2zM12 54h2v2h-2zM18 54h2v2h-2zM26 54h2v2h-2zM54 54h4v2h-4zM2 56h4v2h-4zM10 56h2v2h-2zM18 56h2v2h-2zM24 56h4v2h-4zM36 56h2v2h-2zM44 56h8v2h-8zM54 56h8v2h-8zM4 58h6v2h-6zM18 58h6v2h-6zM30 58h2v2h-2zM36 58h2v2h-2zM52 58h4v2h-4zM2 60h6v2h-6zM14 60h2v2h-2zM18 60h4v2h-4zM30 60h2v2h-2zM36 60h2v2h-2zM46 60h6v2h-6zM54 60h10v2h-10zM4 62h12v2h-12zM20 62h2v2h-2zM32 62h2v2h-2zM36 62h2v2h-2zM44 62h6v2h-6zM58 62h6v2h-6z"/>
<path fill="#ffff00" d="M20 0h2v2h-2zM40 0h4v2h-4zM50 0h2v2h-2zM62 0h2v2h-2zM0 2h2v2h-2zM26 2h6v2h-6zM40 2h4v2h-4zM50 2h4v2h-4zM62 2h2v2h-2zM8 4h4v2h-4zM16 4h2v2h-2zM28 4h2v2h-2zM32 4h2v2h-2zM58 4h2v2h-2zM0 6h4v2h-4zM12 6h2v2h-2zM16 6h2v2h-2zM36 6h4v2h-4zM42 6h2v2h-2zM62 6h2v2h-2zM14 8h2v2h-2zM28 8h2v2h-2zM36 8h2v2h-2zM42 8h2v2h-2zM50 8h2v2h-2zM20 10h4v2h-4zM28 10h2v2h-2zM34 10h2v2h-2zM40 10h2v2h-2zM46 10h2v2h-2zM8 12h2v2h-2zM22 12h4v2h-4zM30 12h2v2h-2zM46 12h2v2h-2zM2 14h2v2h-2zM32 14h2v2h-2zM2 16h2v2h-2zM26 16h2v2h-2zM6 18h2v2h-2zM24 18h2v2h-2zM2 20h2v2h-2zM56 22h4v2h-4zM10 24h2v2h-2zM24 24h2v2h-2zM38 24h2v2h-2zM42 24h2v2h-2zM52 24h2v2h-2zM20 26h2v2h-2zM24 26h2v2h-2zM4 28h2v2h-2zM18 28h2v2h-2zM50 28h2v2h-2zM4 30h2v2h-2zM18 30h2v2h-2zM40 30h2v2h-2zM50 30h4v2h-4zM56 30h2v2h-2zM62 30h2v2h-2zM20 32h2v2h-2zM30 32h2v2h-2zM42 32h2v2h-2zM30 34h2v2h-2zM46 34h2v2h-2zM62 34h2v2h-2zM6 36h2v2h-2zM18 36h2v2h-2zM24 36h2v2h-2zM30 36h2v2h-2zM8 38h4v2h-4zM22 38h2v2h-2zM30 38h2v2h-2zM40 38h2v2h-2zM60 38h2v2h-2zM8 40h2v2h-2zM24 40h2v2h-2zM36 40h2v2h-2zM46 40h2v2h-2zM54 40h2v2h-2zM4 42h6v2h-6zM32 42h2v2h-2zM0 44h4v2h-4zM8 44h2v2h-2zM22 44h2v2h-2zM26 44h2v2h-2zM50 44h2v2h-2zM60 44h2v2h-2zM4 46h2v2h-2zM26 46h8v2h-8zM2 48h4v2h-4zM12 48h2v2h-2zM24 48h2v2h-2zM56 48h6v2h-6zM2 50h2v2h-2zM6 50h2v2h-2zM14 50h2v2h-2zM30 50h4v2h-4zM42 50h2v2h-2zM50 50h2v2h-2zM58 50h6v2h-6zM2 52h2v2h-2zM6 52h2v2h-2zM14 52h2v2h-2zM24 52h2v2h-2zM38 52h4v2h-4zM44 52h8v2h-8zM60 52h2v2h-2zM14 54h4v2h-4zM24 54h2v2h-2zM40 54h2v2h-2zM44 54h4v2h-4zM60 54h2v2h-2zM14 56h4v2h-4zM32 56h2v2h-2zM38 56h2v2h-2zM42 56h2v2h-2zM0 58h4v2h-4zM14 58h2v2h-2zM34 58h2v2h-2zM46 58h4v2h-4zM62 58h2v2h-2zM0 60h2v2h-2zM28 60h2v2h-2zM34 60h2v2h-2zM0 62h2v2h-2zM28 62h2v2h-2zM38 62h4v2h-4z"/>
<path fill="#32c800" d="M0 0h2v2h-2zM14 0h2v2h-2zM18 0h2v2h-2zM24 0h2v2h-2zM30 0h2v2h-2zM6 2h6v2h-6zM14 2h4v2h-4zM24 2h2v2h-2zM54 2h2v2h-2zM58 2h2v2h-2zM6 4h2v2h-2zM30 4h2v2h-2zM36 4h2v2h-2zM40 4h2v2h-2zM50 4h6v2h-6zM60 4h2v2h-2zM8 6h2v2h-2zM32 6h4v2h-4zM16 8h6v2h-6zM38 8h2v2h-2zM60 8h2v2h-2zM6 10h4v2h-4zM30 10h4v2h-4zM36 10h2v2h-2zM52 10h4v2h-4zM0 12h2v2h-2zM16 12h2v2h-2zM28 12h2v2h-2zM34 12h4v2h-4zM40 12h2v2h-2zM44 12h2v2h-2zM54 12h2v2h-2zM0 14h2v2h-2zM24 14h2v2h-2zM28 14h2v2h-2zM36 14h2v2h-2zM40 14h8v2h-8zM56 14h2v2h-2zM60 14h2v2h-2zM0 16h2v2h-2zM18 16h4v2h-4zM30 16h2v2h-2zM36 16h2v2h-2zM40 16h2v2h-2zM50 16h4v2h-4zM62 16h2v2h-2zM0 18h2v2h-2zM14 18h2v2h-2zM26 18h6v2h-6zM46 18h2v2h-2zM58 18h2v2h-2zM4 20h6v2h-6zM16 20h2v2h-2zM26 20h2v2h-2zM52 20h2v2h-2zM60 20h2v2h-2zM4 22h2v2h-2zM10 22h2v2h-2zM14 22h4v2h-4zM26 22h2v2h-2zM32 22h2v2h-2zM36 22h2v2h-2zM54 22h2v2h-2zM6 24h2v2h-2zM20 24h2v2h-2zM26 24h2v2h-2zM30 24h2v2h-2zM40 24h2v2h-2zM44 24h6v2h-6zM10 26h2v2h-2zM18 26h2v2h-2zM26 26h6v2h-6zM38 26h6v2h-6zM2 28h2v2h-2zM14 28h4v2h-4zM20 28h2v2h-2zM26 28h8v2h-8zM42 28h2v2h-2zM0 30h2v2h-2zM6 30h2v2h-2zM16 30h2v2h-2zM26 30h6v2h-6zM42 30h2v2h-2zM54 30h2v2h-2zM58 30h2v2h-2zM2 32h4v2h-4zM10 32h2v2h-2zM16 32h4v2h-4zM26 32h2v2h-2zM40 32h2v2h-2zM46 32h4v2h-4zM54 32h2v2h-2zM58 32h2v2h-2zM62 32h2v2h-2zM10 34h2v2h-2zM22 34h4v2h-4zM36 34h2v2h-2zM42 34h2v2h-2zM52 34h2v2h-2zM60 34h2v2h-2zM10 36h2v2h-2zM16 36h2v2h-2zM52 36h2v2h-2zM58 36h2v2h-2zM14 38h2v2h-2zM24 38h2v2h-2zM34 38h2v2h-2zM46 38h2v2h-2zM52 38h2v2h-2zM56 38h2v2h-2zM0 40h2v2h-2zM4 40h2v2h-2zM10 40h2v2h-2zM22 40h2v2h-2zM26 40h2v2h-2zM30 40h2v2h-2zM44 40h2v2h-2zM56 40h4v2h-4zM2 42h2v2h-2zM14 42h2v2h-2zM38 42h2v2h-2zM44 42h2v2h-2zM48 42h4v2h-4zM60 42h2v2h-2zM14 44h2v2h-2zM30 44h2v2h-2zM52 44h2v2h-2zM0 46h2v2h-2zM8 46h4v2h-4zM14 46h2v2h-2zM22 46h2v2h-2zM50 46h2v2h-2zM60 46h2v2h-2zM6 48h6v2h-6zM16 48h2v2h-2zM20 48h4v2h-4zM36 48h2v2h-2zM40 48h2v2h-2zM54 48h2v2h-2zM8 50h6v2h-6zM16 50h2v2h-2zM22 50h2v2h-2zM34 50h2v2h-2zM38 50h2v2h-2zM56 50h2v2h-2zM0 52h2v2h-2zM12 52h2v2h-2zM26 52h2v2h-2zM42 52h2v2h-2zM56 52h2v2h-2zM4 54h4v2h-4zM10 54h2v2h-2zM36 54h2v2h-2zM42 54h2v2h-2zM48 54h6v2h-6zM58 54h2v2h-2zM0 56h2v2h-2zM6 56h4v2h-4zM12 56h2v2h-2zM52 56h2v2h-2zM16 58h2v2h-2zM32 58h2v2h-2zM44 58h2v2h-2zM50 58h2v2h-2zM56 58h6v2h-6zM8 60h2v2h-2zM16 60h2v2h-2zM32 60h2v2h-2zM52 60h2v2h-2zM2 62h2v2h-2zM16 62h4v2h-4zM26 62h2v2h-2zM30 62h2v2h-2zM34 62h2v2h-2zM42 62h2v2h-2zM50 62h4v2h-4z"/>
</pattern>
<pattern id="pk" patternUnits="userSpaceOnUse" width="64" height="64">
<rect width="64" height="64" fill="#c8c8c8"/>
<path fill="#64ff00" d="M20 0h4v2h-4zM44 0h2v2h-2zM54 0h2v2h-2zM8 2h2v2h-2zM18 2h4v2h-4zM32 2h2v2h-2zM36 2h2v2h-2zM10 4h2v2h-2zM20 4h4v2h-4zM0 6h2v2h-2zM4 6h2v2h-2zM10 6h2v2h-2zM20 6h2v2h-2zM40 6h2v2h-2zM36 8h2v2h-2zM46 8h2v2h-2zM50 8h2v2h-2zM0 10h2v2h-2zM4 10h4v2h-4zM16 10h2v2h-2zM26 10h2v2h-2zM14 12h2v2h-2zM32 12h2v2h-2zM36 12h2v2h-2zM44 12h4v2h-4zM2 14h2v2h-2zM26 14h2v2h-2zM48 14h2v2h-2zM60 14h2v2h-2zM38 16h2v2h-2zM0 18h2v2h-2zM36 18h2v2h-2zM44 18h2v2h-2zM18 20h2v2h-2zM36 20h2v2h-2zM42 20h2v2h-2zM50 20h2v2h-2zM60 20h2v2h-2zM32 24h2v2h-2zM48 24h2v2h-2zM58 24h2v2h-2zM20 26h2v2h-2zM34 26h2v2h-2zM52 26h6v2h-6zM4 28h2v2h-2zM8 28h4v2h-4zM18 28h2v2h-2zM52 28h2v2h-2zM8 30h2v2h-2zM22 30h2v2h-2zM36 32h2v2h-2zM48 32h2v2h-2zM6 34h2v2h-2zM36 34h2v2h-2zM40 34h2v2h-2zM44 34h2v2h-2zM62 34h2v2h-2zM8 36h2v2h-2zM18 38h2v2h-2zM40 38h4v2h-4zM0 40h2v2h-2zM20 40h2v2h-2zM12 42h2v2h-2zM52 42h2v2h-2zM36 44h2v2h-2zM42 44h2v2h-2zM20 46h2v2h-2zM36 46h2v2h-2zM10 48h2v2h-2zM30 48h6v2h-6zM0 50h2v2h-2zM36 50h2v2h-2zM54 50h2v2h-2zM0 52h2v2h-2zM8 52h2v2h-2zM34 52h2v2h-2zM48 52h2v2h-2zM4 54h2v2h-2zM46 54h2v2h-2zM62 54h2v2h-2zM4 56h2v2h-2zM12 56h2v2h-2zM46 56h2v2h-2zM10 58h6v2h-6zM34 58h2v2h-2zM44 58h2v2h-2zM0 60h2v2h-2zM6 60h2v2h-2zM14 60h2v2h-2zM2 62h4v2h-4zM14 62h2v2h-2zM18 62h2v2h-2zM26 62h2v2h-2zM50 62h2v2h-2zM56 62h2v2h-2zM62 62h2v2h-2z"/>
<path fill="#ff8200" d="M34 0h2v2h-2zM48 0h4v2h-4zM56 0h2v2h-2zM10 2h4v2h-4zM48 2h4v2h-4zM54 2h2v2h-2zM46 4h2v2h-2zM56 4h2v2h-2zM62 6h2v2h-2zM10 8h2v2h-2zM26 8h4v2h-4zM48 8h2v2h-2zM60 8h4v2h-4zM18 10h2v2h-2zM28 10h2v2h-2zM42 10h2v2h-2zM48 10h6v2h-6zM60 10h2v2h-2zM6 12h2v2h-2zM16 12h2v2h-2zM22 12h2v2h-2zM40 12h2v2h-2zM48 12h2v2h-2zM62 12h2v2h-2zM14 14h2v2h-2zM28 14h2v2h-2zM36 14h2v2h-2zM44 14h2v2h-2zM14 16h2v2h-2zM48 16h2v2h-2zM42 18h2v2h-2zM50 18h2v2h-2zM62 18h2v2h-2zM14 20h2v2h-2zM44 20h2v2h-2zM48 20h2v2h-2zM10 22h2v2h-2zM34 22h2v2h-2zM38 22h2v2h-2zM52 22h2v2h-2zM20 24h2v2h-2zM34 24h6v2h-6zM60 24h4v2h-4zM54 28h2v2h-2zM10 30h2v2h-2zM24 30h2v2h-2zM8 32h2v2h-2zM12 32h2v2h-2zM18 32h2v2h-2zM44 32h4v2h-4zM0 34h2v2h-2zM34 34h2v2h-2zM38 34h2v2h-2zM38 36h2v2h-2zM52 36h2v2h-2zM62 36h2v2h-2zM22 40h2v2h-2zM42 40h2v2h-2zM20 42h2v2h-2zM32 44h2v2h-2zM48 44h2v2h-2zM10 46h2v2h-2zM22 46h2v2h-2zM32 46h2v2h-2zM22 48h2v2h-2zM36 48h2v2h-2zM44 48h2v2h-2zM22 50h2v2h-2zM34 50h2v2h-2zM46 50h4v2h-4zM32 52h2v2h-2zM36 52h4v2h-4zM46 52h2v2h-2zM52 52h4v2h-4zM16 54h2v2h-2zM28 54h2v2h-2zM48 54h2v2h-2zM52 54h2v2h-2zM16 56h2v2h-2zM36 56h2v2h-2zM62 56h2v2h-2zM0 58h2v2h-2zM36 58h2v2h-2zM42 58h2v2h-2zM50 58h2v2h-2zM62 58h2v2h-2zM20 60h4v2h-4zM26 60h2v2h-2zM40 60h2v2h-2zM52 60h2v2h-2zM56 60h2v2h-2zM60 60h2v2h-2zM12 62h2v2h-2zM52 62h2v2h-2zM58 62h2v2h-2z"/>
<path fill="#ff0000" d="M28 0h2v2h-2zM36 0h2v2h-2zM52 0h2v2h-2zM58 0h2v2h-2zM56 2h4v2h-4zM48 4h4v2h-4zM30 6h2v2h-2zM38 6h2v2h-2zM46 6h6v2h-6zM14 8h2v2h-2zM20 8h2v2h-2zM38 8h4v2h-4zM20 10h2v2h-2zM38 10h4v2h-4zM62 10h2v2h-2zM38 12h2v2h-2zM42 12h2v2h-2zM0 14h2v2h-2zM38 14h2v2h-2zM46 14h2v2h-2zM26 16h6v2h-6zM36 16h2v2h-2zM46 16h2v2h-2zM14 18h4v2h-4zM28 18h4v2h-4zM48 18h2v2h-2zM2 20h2v2h-2zM16 20h2v2h-2zM0 22h6v2h-6zM36 22h2v2h-2zM48 22h4v2h-4zM12 24h2v2h-2zM18 24h2v2h-2zM58 26h4v2h-4zM18 30h2v2h-2zM4 32h2v2h-2zM10 32h2v2h-2zM34 32h2v2h-2zM40 36h2v2h-2zM0 38h2v2h-2zM2 40h2v2h-2zM16 40h4v2h-4zM8 46h2v2h-2zM12 50h2v2h-2zM32 50h2v2h-2zM52 50h2v2h-2zM14 54h2v2h-2zM30 54h2v2h-2zM6 56h2v2h-2zM14 56h2v2h-2zM2 58h6v2h-6zM38 58h4v2h-4zM60 58h2v2h-2zM4 60h2v2h-2zM10 60h2v2h-2zM36 60h4v2h-4zM58 60h2v2h-2zM62 60h2v2h-2zM20 62h4v2h-4zM36 62h2v2h-2zM44 62h4v2h-4z"/>
<path fill="#ffff00" d="M2 0h2v2h-2zM30 0h2v2h-2zM22 2h2v2h-2zM28 2h2v2h-2zM0 4h2v2h-2zM12 4h2v2h-2zM32 4h2v2h-2zM58 4h2v2h-2zM28 6h2v2h-2zM36 6h2v2h-2zM56 6h2v2h-2zM60 6h2v2h-2zM0 8h4v2h-4zM22 8h2v2h-2zM2 10h2v2h-2zM10 10h2v2h-2zM22 10h2v2h-2zM0 12h2v2h-2zM4 12h2v2h-2zM54 12h2v2h-2zM4 14h2v2h-2zM54 14h2v2h-2zM0 16h4v2h-4zM12 16h2v2h-2zM40 16h2v2h-2zM44 16h2v2h-2zM62 16h2v2h-2zM2 18h2v2h-2zM18 18h4v2h-4zM34 18h2v2h-2zM0 20h2v2h-2zM8 20h2v2h-2zM20 20h4v2h-4zM38 20h2v2h-2zM52 20h2v2h-2zM8 22h2v2h-2zM12 22h2v2h-2zM32 22h2v2h-2zM44 22h2v2h-2zM60 22h2v2h-2zM2 24h6v2h-6zM10 24h2v2h-2zM4 26h4v2h-4zM10 26h4v2h-4zM32 26h2v2h-2zM16 28h2v2h-2zM32 28h6v2h-6zM56 28h2v2h-2zM20 30h2v2h-2zM26 30h2v2h-2zM54 30h2v2h-2zM58 30h2v2h-2zM2 32h2v2h-2zM26 32h4v2h-4zM32 32h2v2h-2zM38 32h2v2h-2zM56 32h2v2h-2zM2 34h4v2h-4zM8 34h2v2h-2zM14 34h2v2h-2zM28 34h2v2h-2zM42 34h2v2h-2zM46 34h2v2h-2zM50 34h2v2h-2zM6 36h2v2h-2zM18 36h2v2h-2zM44 36h2v2h-2zM50 36h2v2h-2zM12 38h2v2h-2zM16 38h2v2h-2zM26 38h2v2h-2zM44 38h4v2h-4zM24 40h2v2h-2zM40 40h2v2h-2zM46 40h2v2h-2zM34 42h4v2h-4zM40 42h2v2h-2zM50 42h2v2h-2zM4 44h2v2h-2zM10 44h6v2h-6zM18 44h2v2h-2zM34 44h2v2h-2zM54 44h2v2h-2zM58 44h4v2h-4zM18 46h2v2h-2zM30 46h2v2h-2zM34 46h2v2h-2zM38 46h4v2h-4zM48 46h2v2h-2zM56 46h2v2h-2zM0 48h2v2h-2zM12 48h2v2h-2zM16 48h2v2h-2zM20 48h2v2h-2zM50 48h2v2h-2zM54 48h2v2h-2zM58 48h6v2h-6zM4 50h4v2h-4zM38 50h6v2h-6zM62 50h2v2h-2zM10 52h2v2h-2zM30 52h2v2h-2zM62 52h2v2h-2zM22 54h2v2h-2zM26 54h2v2h-2zM58 54h2v2h-2zM22 56h2v2h-2zM40 56h2v2h-2zM22 58h2v2h-2zM48 58h2v2h-2zM2 60h2v2h-2zM8 60h2v2h-2zM12 60h2v2h-2zM28 60h2v2h-2zM44 60h8v2h-8zM0 62h2v2h-2zM8 62h2v2h-2zM16 62h2v2h-2zM24 62h2v2h-2zM48 62h2v2h-2zM60 62h2v2h-2z"/>
<path fill="#323232" d="M0 0h2v2h-2zM4 0h16v2h-16zM24 0h4v2h-4zM32 0h2v2h-2zM38 0h2v2h-2zM42 0h2v2h-2zM60 0h4v2h-4zM0 2h8v2h-8zM14 2h4v2h-4zM24 2h4v2h-4zM30 2h2v2h-2zM34 2h2v2h-2zM38 2h8v2h-8zM60 2h2v2h-2zM2 4h8v2h-8zM14 4h6v2h-6zM24 4h8v2h-8zM34 4h12v2h-12zM2 6h2v2h-2zM6 6h4v2h-4zM12 6h2v2h-2zM16 6h4v2h-4zM24 6h4v2h-4zM32 6h4v2h-4zM42 6h4v2h-4zM52 6h2v2h-2zM58 6h2v2h-2zM4 8h2v2h-2zM16 8h4v2h-4zM24 8h2v2h-2zM34 8h2v2h-2zM42 8h4v2h-4zM52 8h2v2h-2zM58 8h2v2h-2zM8 10h2v2h-2zM14 10h2v2h-2zM24 10h2v2h-2zM34 10h4v2h-4zM44 10h4v2h-4zM54 10h6v2h-6zM2 12h2v2h-2zM18 12h4v2h-4zM24 12h6v2h-6zM34 12h2v2h-2zM50 12h4v2h-4zM56 12h6v2h-6zM16 14h8v2h-8zM32 14h4v2h-4zM40 14h4v2h-4zM50 14h4v2h-4zM62 14h2v2h-2zM4 16h2v2h-2zM16 16h6v2h-6zM32 16h4v2h-4zM42 16h2v2h-2zM4 18h4v2h-4zM10 18h4v2h-4zM32 18h2v2h-2zM38 18h4v2h-4zM46 18h2v2h-2zM56 18h4v2h-4zM4 20h4v2h-4zM10 20h4v2h-4zM30 20h6v2h-6zM40 20h2v2h-2zM46 20h2v2h-2zM56 20h4v2h-4zM62 20h2v2h-2zM6 22h2v2h-2zM16 22h10v2h-10zM40 22h4v2h-4zM54 22h6v2h-6zM62 22h2v2h-2zM8 24h2v2h-2zM22 24h8v2h-8zM44 24h2v2h-2zM50 24h2v2h-2zM56 24h2v2h-2zM8 26h2v2h-2zM22 26h8v2h-8zM36 26h10v2h-10zM6 28h2v2h-2zM12 28h4v2h-4zM20 28h12v2h-12zM38 28h14v2h-14zM58 28h2v2h-2zM2 30h6v2h-6zM12 30h6v2h-6zM28 30h2v2h-2zM32 30h22v2h-22zM56 30h2v2h-2zM0 32h2v2h-2zM6 32h2v2h-2zM14 32h4v2h-4zM20 32h6v2h-6zM30 32h2v2h-2zM40 32h4v2h-4zM50 32h6v2h-6zM62 32h2v2h-2zM10 34h4v2h-4zM16 34h2v2h-2zM20 34h2v2h-2zM26 34h2v2h-2zM30 34h4v2h-4zM48 34h2v2h-2zM52 34h2v2h-2zM60 34h2v2h-2zM2 36h4v2h-4zM10 36h8v2h-8zM20 36h18v2h-18zM42 36h2v2h-2zM46 36h4v2h-4zM60 36h2v2h-2zM2 38h10v2h-10zM14 38h2v2h-2zM20 38h6v2h-6zM28 38h12v2h-12zM50 38h8v2h-8zM4 40h12v2h-12zM26 40h4v2h-4zM32 40h8v2h-8zM44 40h2v2h-2zM50 40h10v2h-10zM62 40h2v2h-2zM0 42h12v2h-12zM14 42h6v2h-6zM22 42h8v2h-8zM32 42h2v2h-2zM38 42h2v2h-2zM42 42h8v2h-8zM54 42h10v2h-10zM0 44h4v2h-4zM6 44h4v2h-4zM16 44h2v2h-2zM20 44h12v2h-12zM38 44h4v2h-4zM44 44h4v2h-4zM50 44h4v2h-4zM56 44h2v2h-2zM62 44h2v2h-2zM0 46h8v2h-8zM12 46h6v2h-6zM24 46h6v2h-6zM42 46h6v2h-6zM50 46h6v2h-6zM58 46h2v2h-2zM2 48h8v2h-8zM14 48h2v2h-2zM18 48h2v2h-2zM24 48h4v2h-4zM42 48h2v2h-2zM48 48h2v2h-2zM52 48h2v2h-2zM56 48h2v2h-2zM2 50h2v2h-2zM8 50h4v2h-4zM14 50h8v2h-8zM26 50h6v2h-6zM56 50h6v2h-6zM4 52h2v2h-2zM14 52h6v2h-6zM24 52h6v2h-6zM60 52h2v2h-2zM10 54h4v2h-4zM18 54h4v2h-4zM24 54h2v2h-2zM34 54h4v2h-4zM40 54h6v2h-6zM54 54h4v2h-4zM60 54h2v2h-2zM0 56h4v2h-4zM10 56h2v2h-2zM18 56h4v2h-4zM28 56h8v2h-8zM42 56h4v2h-4zM48 56h6v2h-6zM56 56h6v2h-6zM8 58h2v2h-2zM16 58h6v2h-6zM30 58h4v2h-4zM46 58h2v2h-2zM52 58h2v2h-2zM18 60h2v2h-2zM24 60h2v2h-2zM30 60h6v2h-6zM54 60h2v2h-2zM6 62h2v2h-2zM32 62h4v2h-4zM54 62h2v2h-2z"/>
</pattern>
<pattern id="pl" patternUnits="userSpaceOnUse" width="64" height="64">
<rect width="64" height="64" fill="#c8c8c8"/>
<path fill="#009600" d="M0 0h2v2h-2zM6 0h2v2h-2zM0 6h2v2h-2zM8 6h2v2h-2zM18 6h2v2h-2zM20 8h2v2h-2zM20 12h2v2h-2zM60 12h2v2h-2zM26 14h2v2h-2zM10 16h2v2h-2zM22 16h2v2h-2zM44 16h2v2h-2zM52 16h2v2h-2zM2 18h2v2h-2zM18 18h2v2h-2zM46 18h2v2h-2zM2 20h2v2h-2zM8 20h2v2h-2zM14 20h2v2h-2zM0 22h2v2h-2zM62 22h2v2h-2zM18 24h2v2h-2zM8 26h2v2h-2zM14 26h4v2h-4zM32 28h2v2h-2zM40 28h2v2h-2zM2 30h2v2h-2zM2 34h2v2h-2zM60 34h2v2h-2zM0 36h2v2h-2zM60 36h2v2h-2zM50 38h2v2h-2zM4 40h2v2h-2zM36 40h2v2h-2zM22 46h2v2h-2zM36 48h2v2h-2zM40 48h2v2h-2zM54 48h2v2h-2zM60 48h2v2h-2zM44 50h4v2h-4zM60 50h2v2h-2zM16 52h2v2h-2zM36 56h2v2h-2zM62 56h2v2h-2zM18 58h4v2h-4zM48 58h2v2h-2zM38 60h2v2h-2zM34 62h2v2h-2zM38 62h4v2h-4z"/>
<path fill="#64ff00" d="M2 0h4v2h-4zM10 0h2v2h-2zM14 0h12v2h-12zM30 0h6v2h-6zM44 0h2v2h-2zM62 0h2v2h-2zM12 2h10v2h-10zM24 2h2v2h-2zM30 2h6v2h-6zM40 2h6v2h-6zM50 2h4v2h-4zM18 4h4v2h-4zM42 4h2v2h-2zM52 4h2v2h-2zM4 6h4v2h-4zM36 6h2v2h-2zM40 6h4v2h-4zM52 6h2v2h-2zM0 8h2v2h-2zM30 8h4v2h-4zM36 8h2v2h-2zM40 8h4v2h-4zM36 10h4v2h-4zM42 10h2v2h-2zM56 10h2v2h-2zM14 12h2v2h-2zM26 12h2v2h-2zM42 12h4v2h-4zM56 12h2v2h-2zM62 12h2v2h-2zM10 14h2v2h-2zM14 14h2v2h-2zM32 14h2v2h-2zM36 14h2v2h-2zM40 14h2v2h-2zM48 14h2v2h-2zM54 14h2v2h-2zM26 16h4v2h-4zM32 16h6v2h-6zM40 16h2v2h-2zM48 16h2v2h-2zM54 16h2v2h-2zM62 16h2v2h-2zM0 18h2v2h-2zM16 18h2v2h-2zM24 18h4v2h-4zM30 18h4v2h-4zM36 18h2v2h-2zM42 18h4v2h-4zM60 18h4v2h-4zM12 20h2v2h-2zM16 20h4v2h-4zM22 20h2v2h-2zM28 20h6v2h-6zM36 20h6v2h-6zM60 20h4v2h-4zM4 22h2v2h-2zM28 22h6v2h-6zM36 22h4v2h-4zM56 22h4v2h-4zM4 24h2v2h-2zM10 24h2v2h-2zM14 24h2v2h-2zM28 24h2v2h-2zM38 24h2v2h-2zM52 24h2v2h-2zM56 24h2v2h-2zM0 26h4v2h-4zM10 26h4v2h-4zM26 26h4v2h-4zM42 26h2v2h-2zM48 26h2v2h-2zM60 26h2v2h-2zM12 28h4v2h-4zM60 28h2v2h-2zM22 30h2v2h-2zM48 30h2v2h-2zM0 32h2v2h-2zM4 32h2v2h-2zM10 32h2v2h-2zM46 32h2v2h-2zM12 34h6v2h-6zM28 34h2v2h-2zM52 34h2v2h-2zM62 34h2v2h-2zM2 36h4v2h-4zM20 36h2v2h-2zM28 36h2v2h-2zM36 36h2v2h-2zM54 36h2v2h-2zM2 38h4v2h-4zM8 38h2v2h-2zM44 38h4v2h-4zM54 38h2v2h-2zM60 38h2v2h-2zM0 40h2v2h-2zM18 40h4v2h-4zM30 40h2v2h-2zM42 40h2v2h-2zM10 42h2v2h-2zM18 42h4v2h-4zM32 42h4v2h-4zM0 44h4v2h-4zM14 44h2v2h-2zM20 44h6v2h-6zM28 44h4v2h-4zM34 44h2v2h-2zM40 44h4v2h-4zM0 46h6v2h-6zM12 46h4v2h-4zM20 46h2v2h-2zM30 46h10v2h-10zM44 46h2v2h-2zM58 46h2v2h-2zM62 46h2v2h-2zM0 48h2v2h-2zM6 48h2v2h-2zM20 48h2v2h-2zM34 48h2v2h-2zM56 48h4v2h-4zM2 50h2v2h-2zM8 50h4v2h-4zM20 50h6v2h-6zM34 50h2v2h-2zM56 50h4v2h-4zM6 52h8v2h-8zM20 52h2v2h-2zM32 52h4v2h-4zM42 52h4v2h-4zM60 52h2v2h-2zM0 54h2v2h-2zM6 54h2v2h-2zM14 54h6v2h-6zM32 54h2v2h-2zM60 54h4v2h-4zM6 56h2v2h-2zM18 56h4v2h-4zM48 56h4v2h-4zM0 58h4v2h-4zM12 58h6v2h-6zM24 58h2v2h-2zM28 58h2v2h-2zM50 58h2v2h-2zM62 58h2v2h-2zM12 60h6v2h-6zM24 60h10v2h-10zM42 60h4v2h-4zM2 62h4v2h-4zM8 62h2v2h-2zM14 62h10v2h-10zM28 62h6v2h-6zM42 62h4v2h-4z"/>
<path fill="#ffff00" d="M36 0h4v2h-4zM0 4h2v2h-2zM8 4h2v2h-2zM34 4h2v2h-2zM58 4h6v2h-6zM62 6h2v2h-2zM18 8h2v2h-2zM22 10h2v2h-2zM52 12h2v2h-2zM24 14h2v2h-2zM44 14h2v2h-2zM52 14h2v2h-2zM24 16h2v2h-2zM40 18h2v2h-2zM56 18h2v2h-2zM56 20h2v2h-2zM2 22h2v2h-2zM12 22h4v2h-4zM50 22h2v2h-2zM60 22h2v2h-2zM34 24h2v2h-2zM6 26h2v2h-2zM34 26h2v2h-2zM16 28h2v2h-2zM38 28h2v2h-2zM28 30h2v2h-2zM2 32h2v2h-2zM16 32h2v2h-2zM48 34h2v2h-2zM10 36h6v2h-6zM46 36h4v2h-4zM52 36h2v2h-2zM12 38h8v2h-8zM6 40h2v2h-2zM4 44h2v2h-2zM16 44h4v2h-4zM52 46h4v2h-4zM42 48h2v2h-2zM62 48h2v2h-2zM62 50h2v2h-2zM22 52h2v2h-2zM58 56h4v2h-4zM36 60h2v2h-2zM36 62h2v2h-2zM52 62h2v2h-2z"/>
<path fill="#32c800" d="M8 0h2v2h-2zM12 0h2v2h-2zM42 0h2v2h-2zM50 0h4v2h-4zM0 2h4v2h-4zM8 2h2v2h-2zM22 2h2v2h-2zM36 2h4v2h-4zM54 2h4v2h-4zM60 2h4v2h-4zM14 4h2v2h-2zM32 4h2v2h-2zM36 4h2v2h-2zM40 4h2v2h-2zM44 4h2v2h-2zM54 4h4v2h-4zM2 6h2v2h-2zM20 6h6v2h-6zM32 6h4v2h-4zM38 6h2v2h-2zM50 6h2v2h-2zM22 8h4v2h-4zM34 8h2v2h-2zM52 8h4v2h-4zM62 8h2v2h-2zM12 10h2v2h-2zM20 10h2v2h-2zM24 10h2v2h-2zM34 10h2v2h-2zM40 10h2v2h-2zM52 10h4v2h-4zM10 12h4v2h-4zM22 12h4v2h-4zM34 12h2v2h-2zM38 12h4v2h-4zM46 12h2v2h-2zM50 12h2v2h-2zM54 12h2v2h-2zM58 12h2v2h-2zM8 14h2v2h-2zM12 14h2v2h-2zM16 14h2v2h-2zM22 14h2v2h-2zM34 14h2v2h-2zM38 14h2v2h-2zM42 14h2v2h-2zM46 14h2v2h-2zM50 14h2v2h-2zM56 14h2v2h-2zM60 14h4v2h-4zM42 16h2v2h-2zM46 16h2v2h-2zM20 18h4v2h-4zM28 18h2v2h-2zM34 18h2v2h-2zM54 18h2v2h-2zM0 20h2v2h-2zM4 20h2v2h-2zM10 20h2v2h-2zM34 20h2v2h-2zM58 20h2v2h-2zM10 22h2v2h-2zM34 22h2v2h-2zM52 22h2v2h-2zM0 24h4v2h-4zM12 24h2v2h-2zM16 24h2v2h-2zM20 24h2v2h-2zM26 24h2v2h-2zM36 24h2v2h-2zM50 24h2v2h-2zM58 24h6v2h-6zM18 26h2v2h-2zM36 26h6v2h-6zM50 26h2v2h-2zM0 28h4v2h-4zM6 28h2v2h-2zM20 28h4v2h-4zM26 28h6v2h-6zM34 28h2v2h-2zM42 28h2v2h-2zM12 30h2v2h-2zM16 30h2v2h-2zM20 30h2v2h-2zM30 30h4v2h-4zM12 32h2v2h-2zM26 32h4v2h-4zM48 32h4v2h-4zM0 34h2v2h-2zM4 34h4v2h-4zM22 34h2v2h-2zM46 34h2v2h-2zM50 34h2v2h-2zM58 34h2v2h-2zM6 36h4v2h-4zM16 36h4v2h-4zM44 36h2v2h-2zM50 36h2v2h-2zM62 36h2v2h-2zM0 38h2v2h-2zM6 38h2v2h-2zM10 38h2v2h-2zM20 38h2v2h-2zM58 38h2v2h-2zM62 38h2v2h-2zM2 40h2v2h-2zM8 40h8v2h-8zM32 40h4v2h-4zM8 42h2v2h-2zM30 42h2v2h-2zM36 42h2v2h-2zM42 42h2v2h-2zM32 44h2v2h-2zM36 44h4v2h-4zM44 44h2v2h-2zM6 46h2v2h-2zM40 46h4v2h-4zM46 46h2v2h-2zM56 46h2v2h-2zM2 48h4v2h-4zM12 48h2v2h-2zM38 48h2v2h-2zM44 48h2v2h-2zM50 48h4v2h-4zM0 50h2v2h-2zM6 50h2v2h-2zM12 50h2v2h-2zM26 50h2v2h-2zM40 50h4v2h-4zM24 52h4v2h-4zM58 52h2v2h-2zM62 52h2v2h-2zM4 54h2v2h-2zM22 54h4v2h-4zM0 56h4v2h-4zM16 56h2v2h-2zM34 56h2v2h-2zM38 56h4v2h-4zM22 58h2v2h-2zM34 58h8v2h-8zM58 58h4v2h-4zM2 60h2v2h-2zM8 60h4v2h-4zM18 60h6v2h-6zM40 60h2v2h-2zM48 60h4v2h-4zM6 62h2v2h-2zM10 62h4v2h-4z"/>
</pattern>
<pattern id="pm" patternUnits="userSpaceOnUse" width="64" height="64">
<rect width="64" height="64" fill="#c8c8c8"/>
<path fill="#323232" d="M26 0h4v2h-4zM26 2h2v2h-2zM34 2h2v2h-2zM22 6h4v2h-4zM38 6h2v2h-2zM42 6h2v2h-2zM48 12h2v2h-2zM42 14h2v2h-2zM30 24h2v2h-2zM34 26h2v2h-2zM12 28h4v2h-4zM34 28h2v2h-2zM18 34h4v2h-4zM16 36h4v2h-4zM28 40h4v2h-4zM26 42h2v2h-2zM50 44h2v2h-2zM46 46h2v2h-2zM6 48h2v2h-2zM38 48h2v2h-2zM0 50h4v2h-4zM10 50h2v2h-2zM44 50h4v2h-4zM0 52h2v2h-2zM6 54h2v2h-2zM52 54h2v2h-2zM34 56h2v2h-2zM18 58h2v2h-2zM42 60h4v2h-4z"/>
<path fill="#ffc864" d="M0 0h2v2h-2zM16 0h6v2h-6zM30 0h2v2h-2zM44 0h2v2h-2zM62 0h2v2h-2zM2 2h2v2h-2zM22 2h2v2h-2zM44 2h2v2h-2zM6 4h2v2h-2zM24 4h2v2h-2zM36 4h2v2h-2zM48 4h4v2h-4zM56 4h2v2h-2zM8 6h2v2h-2zM16 6h2v2h-2zM52 6h4v2h-4zM4 8h2v2h-2zM10 8h2v2h-2zM18 8h2v2h-2zM32 8h4v2h-4zM2 10h2v2h-2zM6 10h2v2h-2zM14 10h2v2h-2zM22 10h2v2h-2zM28 10h2v2h-2zM36 10h2v2h-2zM12 12h2v2h-2zM24 12h2v2h-2zM58 12h4v2h-4zM16 14h4v2h-4zM22 14h2v2h-2zM28 14h2v2h-2zM50 14h2v2h-2zM58 14h2v2h-2zM0 16h2v2h-2zM24 16h2v2h-2zM28 16h2v2h-2zM32 16h2v2h-2zM56 16h4v2h-4zM16 18h2v2h-2zM24 18h2v2h-2zM40 18h2v2h-2zM54 18h2v2h-2zM58 18h4v2h-4zM4 20h6v2h-6zM14 20h4v2h-4zM22 20h4v2h-4zM42 20h4v2h-4zM62 20h2v2h-2zM22 22h4v2h-4zM34 22h2v2h-2zM40 22h4v2h-4zM54 22h2v2h-2zM0 24h2v2h-2zM14 24h2v2h-2zM24 24h2v2h-2zM34 24h2v2h-2zM40 24h2v2h-2zM46 24h4v2h-4zM52 24h2v2h-2zM6 26h2v2h-2zM18 26h2v2h-2zM38 26h2v2h-2zM42 26h2v2h-2zM46 26h2v2h-2zM60 26h2v2h-2zM0 28h4v2h-4zM6 28h2v2h-2zM20 28h2v2h-2zM26 28h2v2h-2zM36 28h4v2h-4zM42 28h2v2h-2zM46 28h2v2h-2zM54 28h2v2h-2zM58 28h2v2h-2zM6 30h2v2h-2zM10 30h2v2h-2zM26 30h2v2h-2zM32 30h2v2h-2zM36 30h2v2h-2zM46 30h2v2h-2zM50 30h8v2h-8zM46 32h4v2h-4zM52 32h4v2h-4zM62 32h2v2h-2zM8 34h2v2h-2zM26 34h2v2h-2zM42 34h2v2h-2zM48 34h2v2h-2zM0 36h2v2h-2zM52 36h2v2h-2zM56 36h2v2h-2zM2 38h2v2h-2zM14 38h2v2h-2zM38 38h2v2h-2zM48 38h2v2h-2zM58 38h2v2h-2zM6 40h2v2h-2zM24 40h2v2h-2zM34 40h4v2h-4zM46 40h4v2h-4zM52 40h2v2h-2zM4 42h2v2h-2zM44 42h2v2h-2zM62 42h2v2h-2zM28 44h4v2h-4zM42 44h2v2h-2zM60 44h4v2h-4zM10 46h2v2h-2zM52 46h2v2h-2zM62 46h2v2h-2zM2 48h4v2h-4zM14 48h2v2h-2zM24 48h2v2h-2zM52 48h2v2h-2zM56 48h2v2h-2zM4 50h2v2h-2zM12 50h2v2h-2zM20 50h2v2h-2zM28 50h2v2h-2zM56 50h4v2h-4zM62 50h2v2h-2zM10 52h2v2h-2zM26 52h2v2h-2zM34 52h2v2h-2zM46 52h2v2h-2zM58 52h2v2h-2zM16 54h2v2h-2zM24 54h2v2h-2zM58 54h2v2h-2zM10 56h8v2h-8zM28 56h4v2h-4zM52 56h2v2h-2zM62 56h2v2h-2zM0 58h2v2h-2zM20 58h4v2h-4zM28 58h2v2h-2zM38 58h6v2h-6zM62 58h2v2h-2zM4 60h2v2h-2zM8 60h2v2h-2zM24 60h2v2h-2zM28 60h2v2h-2zM62 60h2v2h-2zM8 62h2v2h-2zM26 62h2v2h-2zM40 62h6v2h-6zM50 62h2v2h-2zM58 62h2v2h-2z"/>
<path fill="#960000" d="M14 0h2v2h-2zM18 2h2v2h-2zM12 6h2v2h-2zM20 6h2v2h-2zM8 8h2v2h-2zM24 8h4v2h-4zM8 22h2v2h-2zM0 30h2v2h-2zM12 30h2v2h-2zM0 32h2v2h-2zM20 32h2v2h-2zM2 34h2v2h-2zM16 34h2v2h-2zM58 36h2v2h-2zM18 40h2v2h-2zM28 42h2v2h-2zM32 42h2v2h-2zM0 44h2v2h-2zM6 44h2v2h-2zM24 44h2v2h-2zM52 44h2v2h-2zM6 46h2v2h-2zM12 46h2v2h-2zM44 46h2v2h-2zM0 48h2v2h-2zM8 48h2v2h-2zM28 48h2v2h-2zM36 48h2v2h-2zM6 52h4v2h-4zM44 52h2v2h-2zM32 54h2v2h-2zM12 58h2v2h-2zM34 58h2v2h-2zM46 60h2v2h-2z"/>
<path fill="#ff8200" d="M2 0h4v2h-4zM24 0h2v2h-2zM52 0h2v2h-2zM24 2h2v2h-2zM46 2h4v2h-4zM16 4h2v2h-2zM20 4h2v2h-2zM26 4h6v2h-6zM6 6h2v2h-2zM10 6h2v2h-2zM18 6h2v2h-2zM30 6h2v2h-2zM44 6h2v2h-2zM48 6h4v2h-4zM56 6h2v2h-2zM20 8h4v2h-4zM44 8h2v2h-2zM48 8h4v2h-4zM56 8h4v2h-4zM0 10h2v2h-2zM10 10h4v2h-4zM20 10h2v2h-2zM26 10h2v2h-2zM32 10h2v2h-2zM60 10h2v2h-2zM30 12h4v2h-4zM38 12h2v2h-2zM46 12h2v2h-2zM30 14h4v2h-4zM38 14h4v2h-4zM56 14h2v2h-2zM2 16h2v2h-2zM16 16h4v2h-4zM34 16h6v2h-6zM36 18h2v2h-2zM10 20h2v2h-2zM30 20h2v2h-2zM0 22h2v2h-2zM14 22h2v2h-2zM18 22h2v2h-2zM30 22h2v2h-2zM36 22h2v2h-2zM46 22h4v2h-4zM28 24h2v2h-2zM32 24h2v2h-2zM0 26h2v2h-2zM20 26h2v2h-2zM40 26h2v2h-2zM44 26h2v2h-2zM48 26h2v2h-2zM58 26h2v2h-2zM4 28h2v2h-2zM24 28h2v2h-2zM32 28h2v2h-2zM40 28h2v2h-2zM44 28h2v2h-2zM34 30h2v2h-2zM60 30h2v2h-2zM10 32h2v2h-2zM26 32h2v2h-2zM34 32h2v2h-2zM40 32h2v2h-2zM6 34h2v2h-2zM10 34h2v2h-2zM30 34h4v2h-4zM38 34h4v2h-4zM44 34h2v2h-2zM54 34h4v2h-4zM2 36h2v2h-2zM14 36h2v2h-2zM26 36h2v2h-2zM38 36h2v2h-2zM42 36h4v2h-4zM30 38h6v2h-6zM50 40h2v2h-2zM6 42h2v2h-2zM38 44h2v2h-2zM44 44h2v2h-2zM8 46h2v2h-2zM14 46h2v2h-2zM22 46h2v2h-2zM48 48h4v2h-4zM54 48h2v2h-2zM30 50h2v2h-2zM54 50h2v2h-2zM2 52h2v2h-2zM14 52h2v2h-2zM24 52h2v2h-2zM30 52h4v2h-4zM52 52h2v2h-2zM60 52h4v2h-4zM2 54h2v2h-2zM18 54h2v2h-2zM30 54h2v2h-2zM36 54h2v2h-2zM46 54h6v2h-6zM56 54h2v2h-2zM62 54h2v2h-2zM26 56h2v2h-2zM32 56h2v2h-2zM56 56h2v2h-2zM10 58h2v2h-2zM14 58h2v2h-2zM30 58h2v2h-2zM20 60h2v2h-2zM26 60h2v2h-2zM30 60h6v2h-6zM50 60h4v2h-4zM32 62h2v2h-2zM48 62h2v2h-2z"/>
<path fill="#ff0000" d="M12 0h2v2h-2zM32 0h6v2h-6zM16 2h2v2h-2zM36 2h2v2h-2zM50 2h2v2h-2zM18 4h2v2h-2zM38 4h2v2h-2zM58 4h2v2h-2zM26 6h4v2h-4zM32 6h2v2h-2zM40 6h2v2h-2zM2 8h2v2h-2zM6 8h2v2h-2zM28 8h4v2h-4zM42 8h2v2h-2zM8 10h2v2h-2zM24 10h2v2h-2zM30 10h2v2h-2zM36 12h2v2h-2zM6 14h2v2h-2zM24 14h2v2h-2zM34 14h4v2h-4zM46 14h2v2h-2zM6 16h2v2h-2zM36 20h2v2h-2zM46 20h2v2h-2zM16 22h2v2h-2zM28 22h2v2h-2zM18 24h2v2h-2zM2 26h2v2h-2zM32 26h2v2h-2zM10 28h2v2h-2zM28 28h2v2h-2zM2 30h2v2h-2zM14 30h2v2h-2zM2 32h6v2h-6zM4 34h2v2h-2zM24 36h2v2h-2zM28 36h2v2h-2zM40 36h2v2h-2zM50 36h2v2h-2zM60 36h2v2h-2zM4 38h4v2h-4zM28 38h2v2h-2zM40 38h2v2h-2zM50 38h2v2h-2zM0 40h2v2h-2zM8 40h2v2h-2zM26 40h2v2h-2zM32 40h2v2h-2zM18 42h2v2h-2zM24 42h2v2h-2zM30 42h2v2h-2zM38 42h2v2h-2zM46 42h8v2h-8zM22 44h2v2h-2zM0 46h2v2h-2zM24 46h2v2h-2zM30 46h4v2h-4zM50 46h2v2h-2zM10 48h4v2h-4zM22 48h2v2h-2zM30 48h2v2h-2zM44 48h4v2h-4zM12 52h2v2h-2zM54 52h2v2h-2zM0 54h2v2h-2zM4 54h2v2h-2zM26 54h2v2h-2zM34 54h2v2h-2zM60 54h2v2h-2zM18 56h2v2h-2zM54 56h2v2h-2zM16 58h2v2h-2zM32 58h2v2h-2zM36 60h2v2h-2zM48 60h2v2h-2zM2 62h2v2h-2zM20 62h2v2h-2zM28 62h2v2h-2z"/>
<path fill="#ffff00" d="M6 0h2v2h-2zM22 0h2v2h-2zM42 0h2v2h-2zM46 0h6v2h-6zM56 0h4v2h-4zM0 2h2v2h-2zM4 2h4v2h-4zM12 2h2v2h-2zM20 2h2v2h-2zM56 2h4v2h-4zM0 4h2v2h-2zM8 4h2v2h-2zM40 4h2v2h-2zM54 4h2v2h-2zM34 6h4v2h-4zM36 8h2v2h-2zM46 8h2v2h-2zM52 8h4v2h-4zM4 10h2v2h-2zM34 10h2v2h-2zM42 10h8v2h-8zM54 10h6v2h-6zM6 12h6v2h-6zM14 12h10v2h-10zM40 12h4v2h-4zM52 12h6v2h-6zM8 14h2v2h-2zM14 14h2v2h-2zM20 14h2v2h-2zM26 14h2v2h-2zM52 14h4v2h-4zM8 16h4v2h-4zM14 16h2v2h-2zM20 16h4v2h-4zM26 16h2v2h-2zM30 16h2v2h-2zM50 16h2v2h-2zM54 16h2v2h-2zM60 16h2v2h-2zM4 18h2v2h-2zM8 18h8v2h-8zM18 18h6v2h-6zM26 18h10v2h-10zM38 18h2v2h-2zM56 18h2v2h-2zM2 20h2v2h-2zM12 20h2v2h-2zM18 20h4v2h-4zM26 20h4v2h-4zM38 20h4v2h-4zM54 20h8v2h-8zM4 22h4v2h-4zM20 22h2v2h-2zM26 22h2v2h-2zM38 22h2v2h-2zM52 22h2v2h-2zM58 22h6v2h-6zM6 24h2v2h-2zM16 24h2v2h-2zM22 24h2v2h-2zM26 24h2v2h-2zM36 24h4v2h-4zM42 24h2v2h-2zM54 24h2v2h-2zM58 24h6v2h-6zM4 26h2v2h-2zM16 26h2v2h-2zM22 26h6v2h-6zM36 26h2v2h-2zM54 26h4v2h-4zM62 26h2v2h-2zM16 28h4v2h-4zM48 28h2v2h-2zM56 28h2v2h-2zM60 28h4v2h-4zM8 30h2v2h-2zM16 30h4v2h-4zM24 30h2v2h-2zM28 30h2v2h-2zM38 30h4v2h-4zM48 30h2v2h-2zM62 30h2v2h-2zM8 32h2v2h-2zM16 32h4v2h-4zM24 32h2v2h-2zM36 32h4v2h-4zM50 32h2v2h-2zM22 34h4v2h-4zM36 34h2v2h-2zM50 34h4v2h-4zM60 34h4v2h-4zM4 36h4v2h-4zM12 36h2v2h-2zM30 36h4v2h-4zM36 36h2v2h-2zM54 36h2v2h-2zM12 38h2v2h-2zM36 38h2v2h-2zM42 38h2v2h-2zM46 38h2v2h-2zM52 38h2v2h-2zM2 40h4v2h-4zM40 40h2v2h-2zM0 42h4v2h-4zM12 42h2v2h-2zM42 42h2v2h-2zM54 42h2v2h-2zM2 44h4v2h-4zM12 44h4v2h-4zM32 44h2v2h-2zM54 44h2v2h-2zM2 46h4v2h-4zM54 46h4v2h-4zM16 48h4v2h-4zM32 48h4v2h-4zM14 50h2v2h-2zM26 50h2v2h-2zM32 50h6v2h-6zM52 50h2v2h-2zM20 52h2v2h-2zM28 52h2v2h-2zM36 52h2v2h-2zM50 52h2v2h-2zM8 54h4v2h-4zM14 54h2v2h-2zM20 54h4v2h-4zM28 54h2v2h-2zM40 54h2v2h-2zM0 56h8v2h-8zM20 56h6v2h-6zM40 56h2v2h-2zM50 56h2v2h-2zM58 56h4v2h-4zM2 58h4v2h-4zM24 58h4v2h-4zM50 58h12v2h-12zM0 60h4v2h-4zM10 60h6v2h-6zM22 60h2v2h-2zM38 60h4v2h-4zM54 60h2v2h-2zM0 62h2v2h-2zM6 62h2v2h-2zM10 62h6v2h-6zM18 62h2v2h-2zM22 62h4v2h-4zM30 62h2v2h-2zM34 62h2v2h-2zM46 62h2v2h-2zM56 62h2v2h-2z"/>
</pattern>
<pattern id="pn" patternUnits="userSpaceOnUse" width="64" height="64">
<rect width="64" height="64" fill="#c8c8c8"/>
<path fill="#ffc864" d="M4 0h4v2h-4zM32 0h2v2h-2zM60 0h2v2h-2zM4 2h4v2h-4zM36 2h4v2h-4zM54 2h2v2h-2zM60 2h2v2h-2zM4 4h2v2h-2zM18 4h2v2h-2zM38 4h2v2h-2zM6 6h2v2h-2zM18 6h2v2h-2zM24 6h4v2h-4zM42 6h2v2h-2zM58 6h6v2h-6zM56 8h2v2h-2zM8 10h2v2h-2zM20 10h2v2h-2zM42 10h4v2h-4zM58 10h2v2h-2zM38 12h2v2h-2zM48 12h8v2h-8zM58 12h6v2h-6zM10 14h2v2h-2zM46 14h10v2h-10zM62 14h2v2h-2zM0 16h4v2h-4zM12 16h2v2h-2zM30 16h4v2h-4zM42 16h4v2h-4zM48 16h2v2h-2zM54 16h2v2h-2zM14 18h2v2h-2zM42 18h4v2h-4zM54 18h6v2h-6zM18 20h4v2h-4zM44 20h2v2h-2zM48 20h4v2h-4zM54 20h4v2h-4zM8 22h2v2h-2zM18 22h8v2h-8zM44 22h6v2h-6zM58 22h2v2h-2zM6 24h6v2h-6zM18 24h4v2h-4zM36 24h2v2h-2zM44 24h2v2h-2zM52 24h2v2h-2zM56 24h2v2h-2zM2 26h2v2h-2zM6 26h6v2h-6zM30 26h2v2h-2zM2 28h2v2h-2zM8 28h2v2h-2zM20 28h2v2h-2zM30 28h4v2h-4zM36 28h6v2h-6zM50 28h4v2h-4zM28 30h8v2h-8zM40 30h4v2h-4zM50 30h4v2h-4zM60 30h4v2h-4zM0 32h4v2h-4zM18 32h2v2h-2zM34 32h14v2h-14zM58 32h6v2h-6zM2 34h4v2h-4zM10 34h2v2h-2zM28 34h2v2h-2zM36 34h2v2h-2zM42 34h2v2h-2zM48 34h2v2h-2zM30 36h4v2h-4zM48 36h6v2h-6zM14 38h4v2h-4zM24 38h4v2h-4zM34 38h8v2h-8zM52 38h4v2h-4zM14 40h4v2h-4zM24 40h4v2h-4zM52 40h4v2h-4zM46 42h2v2h-2zM52 42h6v2h-6zM18 44h6v2h-6zM10 46h4v2h-4zM34 46h2v2h-2zM14 48h4v2h-4zM24 48h2v2h-2zM30 48h2v2h-2zM2 50h2v2h-2zM10 50h2v2h-2zM14 50h4v2h-4zM32 50h6v2h-6zM52 50h4v2h-4zM6 52h6v2h-6zM18 52h2v2h-2zM32 52h2v2h-2zM44 52h2v2h-2zM52 52h2v2h-2zM60 52h2v2h-2zM6 54h4v2h-4zM18 54h4v2h-4zM26 54h2v2h-2zM44 54h2v2h-2zM58 54h2v2h-2zM16 56h2v2h-2zM26 56h2v2h-2zM44 56h2v2h-2zM54 56h2v2h-2zM22 58h6v2h-6zM52 58h2v2h-2zM56 58h2v2h-2zM52 60h4v2h-4zM14 62h4v2h-4z"/>
<path fill="#ff8200" d="M24 0h2v2h-2zM44 0h2v2h-2zM48 0h2v2h-2zM62 0h2v2h-2zM2 2h2v2h-2zM20 2h2v2h-2zM44 2h2v2h-2zM52 2h2v2h-2zM24 4h2v2h-2zM22 6h2v2h-2zM28 6h2v2h-2zM38 8h4v2h-4zM58 8h2v2h-2zM22 10h2v2h-2zM46 12h2v2h-2zM24 14h2v2h-2zM30 14h4v2h-4zM56 14h6v2h-6zM10 16h2v2h-2zM24 16h2v2h-2zM40 16h2v2h-2zM50 16h4v2h-4zM60 16h2v2h-2zM20 18h2v2h-2zM40 18h2v2h-2zM46 20h2v2h-2zM52 20h2v2h-2zM0 22h2v2h-2zM26 22h2v2h-2zM42 22h2v2h-2zM2 24h4v2h-4zM12 24h2v2h-2zM38 24h2v2h-2zM58 24h2v2h-2zM20 26h2v2h-2zM40 26h2v2h-2zM10 28h4v2h-4zM18 28h2v2h-2zM42 28h2v2h-2zM48 28h2v2h-2zM54 28h2v2h-2zM60 28h2v2h-2zM18 30h4v2h-4zM36 30h4v2h-4zM46 30h4v2h-4zM54 30h6v2h-6zM28 32h6v2h-6zM48 32h6v2h-6zM16 34h2v2h-2zM30 34h4v2h-4zM46 34h2v2h-2zM50 34h2v2h-2zM2 36h4v2h-4zM12 38h2v2h-2zM28 38h2v2h-2zM32 38h2v2h-2zM28 40h2v2h-2zM32 44h2v2h-2zM44 44h2v2h-2zM14 46h6v2h-6zM32 46h2v2h-2zM38 46h2v2h-2zM0 50h2v2h-2zM42 50h2v2h-2zM58 50h2v2h-2zM2 52h2v2h-2zM34 52h2v2h-2zM46 52h2v2h-2zM60 54h4v2h-4zM22 56h2v2h-2zM28 56h2v2h-2zM46 56h2v2h-2zM56 56h2v2h-2zM60 56h4v2h-4zM42 58h2v2h-2zM40 60h2v2h-2z"/>
<path fill="#ff0000" d="M0 0h4v2h-4zM42 0h2v2h-2zM8 2h2v2h-2zM24 2h2v2h-2zM42 2h2v2h-2zM52 4h2v2h-2zM62 4h2v2h-2zM6 8h2v2h-2zM20 8h4v2h-4zM42 8h2v2h-2zM6 10h2v2h-2zM38 10h2v2h-2zM0 14h6v2h-6zM8 14h2v2h-2zM10 18h4v2h-4zM34 18h2v2h-2zM48 18h2v2h-2zM30 20h2v2h-2zM52 22h6v2h-6zM4 26h2v2h-2zM42 26h2v2h-2zM56 26h2v2h-2zM56 28h2v2h-2zM14 30h2v2h-2zM4 32h2v2h-2zM18 34h2v2h-2zM42 36h2v2h-2zM46 36h2v2h-2zM14 42h2v2h-2zM14 44h2v2h-2zM46 44h2v2h-2zM12 48h2v2h-2zM56 50h2v2h-2zM60 50h2v2h-2zM46 54h2v2h-2zM52 54h2v2h-2zM24 56h2v2h-2zM2 58h2v2h-2zM40 58h2v2h-2zM44 62h2v2h-2zM48 62h2v2h-2zM62 62h2v2h-2z"/>
<path fill="#ffff00" d="M40 0h2v2h-2zM26 4h4v2h-4zM20 6h2v2h-2zM40 6h2v2h-2zM62 8h2v2h-2zM40 10h2v2h-2zM62 10h2v2h-2zM0 12h2v2h-2zM26 14h4v2h-4zM18 16h2v2h-2zM62 16h2v2h-2zM16 18h4v2h-4zM30 18h2v2h-2zM46 18h2v2h-2zM2 22h4v2h-4zM40 22h2v2h-2zM50 22h2v2h-2zM40 24h4v2h-4zM58 26h2v2h-2zM58 28h2v2h-2zM12 30h2v2h-2zM16 30h2v2h-2zM20 32h2v2h-2zM0 34h2v2h-2zM52 34h2v2h-2zM16 44h2v2h-2zM18 48h2v2h-2zM28 54h2v2h-2zM42 56h2v2h-2zM28 58h2v2h-2zM58 58h2v2h-2zM42 60h2v2h-2zM40 62h2v2h-2zM46 62h2v2h-2zM60 62h2v2h-2z"/>
<path fill="#323232" d="M8 0h2v2h-2zM0 2h2v2h-2zM62 2h2v2h-2zM20 4h2v2h-2zM60 8h2v2h-2zM60 10h2v2h-2zM2 12h2v2h-2zM8 16h2v2h-2zM0 18h2v2h-2zM0 20h2v2h-2zM58 20h2v2h-2zM12 22h2v2h-2zM26 32h2v2h-2zM16 36h2v2h-2zM22 36h2v2h-2zM16 42h2v2h-2zM10 48h2v2h-2zM58 48h4v2h-4zM24 50h2v2h-2zM4 52h2v2h-2zM52 56h2v2h-2zM62 60h2v2h-2zM42 62h2v2h-2z"/>
</pattern>
<pattern id="po" patternUnits="userSpaceOnUse" width="64" height="64">
<rect width="64" height="64" fill="#c8c8c8"/>
<path fill="#960000" d="M0 0h2v2h-2zM62 0h2v2h-2zM50 2h2v2h-2zM48 8h4v2h-4zM48 10h2v2h-2zM36 12h4v2h-4zM52 12h2v2h-2zM34 14h4v2h-4zM38 16h2v2h-2zM22 18h2v2h-2zM28 20h2v2h-2zM34 22h2v2h-2zM46 24h2v2h-2zM24 30h2v2h-2zM46 32h2v2h-2zM52 32h2v2h-2zM0 34h2v2h-2zM12 34h2v2h-2zM0 36h2v2h-2zM14 36h2v2h-2zM18 38h2v2h-2zM34 38h2v2h-2zM52 38h4v2h-4zM58 38h2v2h-2zM10 40h2v2h-2zM28 40h2v2h-2zM34 40h2v2h-2zM62 44h2v2h-2zM62 46h2v2h-2zM56 50h2v2h-2zM44 54h2v2h-2zM28 58h6v2h-6zM48 58h2v2h-2zM20 60h2v2h-2zM28 60h2v2h-2z"/>
<path fill="#ffc864" d="M4 0h2v2h-2zM10 0h2v2h-2zM32 0h6v2h-6zM52 0h4v2h-4zM58 0h4v2h-4zM0 2h2v2h-2zM4 2h2v2h-2zM12 2h6v2h-6zM28 2h6v2h-6zM46 2h2v2h-2zM54 2h8v2h-8zM2 4h4v2h-4zM14 4h2v2h-2zM24 4h2v2h-2zM28 4h4v2h-4zM36 4h4v2h-4zM58 4h2v2h-2zM20 6h2v2h-2zM26 6h4v2h-4zM40 6h4v2h-4zM56 6h4v2h-4zM12 8h10v2h-10zM38 8h2v2h-2zM54 8h4v2h-4zM62 8h2v2h-2zM0 10h2v2h-2zM14 10h2v2h-2zM26 10h2v2h-2zM30 10h2v2h-2zM38 10h2v2h-2zM60 10h4v2h-4zM0 12h4v2h-4zM20 12h2v2h-2zM26 12h2v2h-2zM30 12h2v2h-2zM56 12h8v2h-8zM0 14h6v2h-6zM14 14h2v2h-2zM18 14h2v2h-2zM56 14h4v2h-4zM0 16h8v2h-8zM10 16h2v2h-2zM30 16h4v2h-4zM46 16h2v2h-2zM0 18h4v2h-4zM6 18h4v2h-4zM28 18h10v2h-10zM0 20h6v2h-6zM18 20h2v2h-2zM32 20h10v2h-10zM52 20h2v2h-2zM58 20h6v2h-6zM0 22h8v2h-8zM12 22h4v2h-4zM24 22h4v2h-4zM44 22h4v2h-4zM54 22h2v2h-2zM58 22h6v2h-6zM6 24h2v2h-2zM22 24h6v2h-6zM32 24h2v2h-2zM42 24h2v2h-2zM50 24h8v2h-8zM60 24h4v2h-4zM2 26h4v2h-4zM10 26h2v2h-2zM16 26h6v2h-6zM24 26h6v2h-6zM32 26h4v2h-4zM38 26h2v2h-2zM50 26h2v2h-2zM54 26h4v2h-4zM0 28h4v2h-4zM8 28h2v2h-2zM12 28h6v2h-6zM38 28h4v2h-4zM50 28h2v2h-2zM0 30h4v2h-4zM6 30h2v2h-2zM36 30h2v2h-2zM44 30h2v2h-2zM2 32h4v2h-4zM16 32h2v2h-2zM26 32h2v2h-2zM32 32h2v2h-2zM36 32h4v2h-4zM58 32h4v2h-4zM20 34h8v2h-8zM38 34h2v2h-2zM60 34h4v2h-4zM4 36h2v2h-2zM8 36h2v2h-2zM24 36h6v2h-6zM38 36h2v2h-2zM44 36h4v2h-4zM12 38h4v2h-4zM24 38h2v2h-2zM38 38h2v2h-2zM42 38h6v2h-6zM6 40h2v2h-2zM14 40h2v2h-2zM24 40h2v2h-2zM42 40h4v2h-4zM6 42h4v2h-4zM22 42h4v2h-4zM34 42h2v2h-2zM40 42h2v2h-2zM48 42h2v2h-2zM62 42h2v2h-2zM0 44h8v2h-8zM20 44h2v2h-2zM38 44h2v2h-2zM44 44h2v2h-2zM48 44h2v2h-2zM58 44h2v2h-2zM4 46h4v2h-4zM16 46h6v2h-6zM32 46h4v2h-4zM38 46h4v2h-4zM48 46h2v2h-2zM8 48h6v2h-6zM26 48h2v2h-2zM36 48h6v2h-6zM50 48h4v2h-4zM0 50h2v2h-2zM12 50h2v2h-2zM32 50h2v2h-2zM36 50h6v2h-6zM50 50h4v2h-4zM62 50h2v2h-2zM6 52h2v2h-2zM32 52h2v2h-2zM36 52h2v2h-2zM50 52h6v2h-6zM62 52h2v2h-2zM6 54h2v2h-2zM48 54h4v2h-4zM56 54h6v2h-6zM0 56h2v2h-2zM4 56h4v2h-4zM22 56h6v2h-6zM38 56h4v2h-4zM58 56h6v2h-6zM0 58h2v2h-2zM18 58h2v2h-2zM22 58h4v2h-4zM42 58h4v2h-4zM50 58h4v2h-4zM56 58h2v2h-2zM0 60h6v2h-6zM16 60h4v2h-4zM24 60h2v2h-2zM34 60h2v2h-2zM42 60h4v2h-4zM52 60h4v2h-4zM2 62h8v2h-8zM16 62h4v2h-4zM24 62h4v2h-4zM32 62h2v2h-2zM44 62h4v2h-4zM52 62h4v2h-4zM60 62h2v2h-2z"/>
<path fill="#ff8200" d="M8 0h2v2h-2zM16 0h16v2h-16zM48 0h2v2h-2zM56 0h2v2h-2zM2 2h2v2h-2zM8 2h4v2h-4zM18 2h6v2h-6zM36 2h2v2h-2zM42 2h2v2h-2zM52 2h2v2h-2zM62 2h2v2h-2zM0 4h2v2h-2zM8 4h6v2h-6zM16 4h2v2h-2zM42 4h2v2h-2zM46 4h2v2h-2zM60 4h4v2h-4zM0 6h2v2h-2zM4 6h4v2h-4zM10 6h2v2h-2zM14 6h2v2h-2zM18 6h2v2h-2zM22 6h2v2h-2zM30 6h6v2h-6zM62 6h2v2h-2zM0 8h2v2h-2zM4 8h2v2h-2zM26 8h6v2h-6zM40 8h2v2h-2zM58 8h2v2h-2zM2 10h8v2h-8zM12 10h2v2h-2zM16 10h2v2h-2zM22 10h2v2h-2zM28 10h2v2h-2zM40 10h2v2h-2zM54 10h2v2h-2zM8 12h6v2h-6zM22 12h4v2h-4zM28 12h2v2h-2zM32 12h2v2h-2zM46 12h4v2h-4zM6 14h2v2h-2zM10 14h4v2h-4zM20 14h4v2h-4zM26 14h2v2h-2zM30 14h4v2h-4zM48 14h4v2h-4zM60 14h4v2h-4zM8 16h2v2h-2zM12 16h2v2h-2zM22 16h8v2h-8zM48 16h2v2h-2zM60 16h4v2h-4zM4 18h2v2h-2zM10 18h2v2h-2zM20 18h2v2h-2zM26 18h2v2h-2zM46 18h2v2h-2zM50 18h2v2h-2zM54 18h2v2h-2zM62 18h2v2h-2zM6 20h4v2h-4zM12 20h4v2h-4zM30 20h2v2h-2zM42 20h6v2h-6zM50 20h2v2h-2zM54 20h4v2h-4zM22 22h2v2h-2zM36 22h8v2h-8zM48 22h6v2h-6zM0 24h6v2h-6zM20 24h2v2h-2zM28 24h2v2h-2zM34 24h2v2h-2zM0 26h2v2h-2zM22 26h2v2h-2zM30 26h2v2h-2zM36 26h2v2h-2zM42 26h2v2h-2zM48 26h2v2h-2zM52 26h2v2h-2zM62 26h2v2h-2zM6 28h2v2h-2zM18 28h2v2h-2zM24 28h2v2h-2zM32 28h4v2h-4zM42 28h4v2h-4zM48 28h2v2h-2zM52 28h2v2h-2zM4 30h2v2h-2zM12 30h2v2h-2zM16 30h2v2h-2zM20 30h2v2h-2zM32 30h2v2h-2zM38 30h2v2h-2zM42 30h2v2h-2zM52 30h2v2h-2zM60 30h2v2h-2zM14 32h2v2h-2zM18 32h2v2h-2zM22 32h4v2h-4zM28 32h4v2h-4zM34 32h2v2h-2zM56 32h2v2h-2zM2 34h4v2h-4zM8 34h2v2h-2zM30 34h4v2h-4zM44 34h2v2h-2zM48 34h2v2h-2zM56 34h4v2h-4zM10 36h2v2h-2zM20 36h2v2h-2zM30 36h6v2h-6zM40 36h4v2h-4zM48 36h2v2h-2zM52 36h2v2h-2zM60 36h4v2h-4zM4 38h2v2h-2zM8 38h4v2h-4zM22 38h2v2h-2zM26 38h4v2h-4zM48 38h2v2h-2zM8 40h2v2h-2zM12 40h2v2h-2zM16 40h2v2h-2zM22 40h2v2h-2zM38 40h4v2h-4zM46 40h2v2h-2zM56 40h4v2h-4zM4 42h2v2h-2zM16 42h2v2h-2zM36 42h4v2h-4zM42 42h2v2h-2zM46 42h2v2h-2zM50 42h6v2h-6zM8 44h2v2h-2zM14 44h4v2h-4zM30 44h2v2h-2zM36 44h2v2h-2zM42 44h2v2h-2zM52 44h4v2h-4zM8 46h4v2h-4zM22 46h4v2h-4zM30 46h2v2h-2zM42 46h6v2h-6zM50 46h10v2h-10zM2 48h2v2h-2zM6 48h2v2h-2zM14 48h12v2h-12zM30 48h6v2h-6zM46 48h2v2h-2zM54 48h2v2h-2zM60 48h4v2h-4zM2 50h6v2h-6zM10 50h2v2h-2zM14 50h2v2h-2zM18 50h4v2h-4zM24 50h2v2h-2zM28 50h4v2h-4zM34 50h2v2h-2zM54 50h2v2h-2zM60 50h2v2h-2zM0 52h2v2h-2zM4 52h2v2h-2zM14 52h2v2h-2zM24 52h2v2h-2zM34 52h2v2h-2zM40 52h2v2h-2zM46 52h4v2h-4zM60 52h2v2h-2zM0 54h2v2h-2zM4 54h2v2h-2zM32 54h2v2h-2zM40 54h4v2h-4zM46 54h2v2h-2zM52 54h2v2h-2zM62 54h2v2h-2zM10 56h4v2h-4zM20 56h2v2h-2zM30 56h2v2h-2zM34 56h4v2h-4zM42 56h2v2h-2zM46 56h2v2h-2zM52 56h2v2h-2zM2 58h6v2h-6zM20 58h2v2h-2zM26 58h2v2h-2zM34 58h8v2h-8zM54 58h2v2h-2zM6 60h2v2h-2zM26 60h2v2h-2zM36 60h2v2h-2zM40 60h2v2h-2zM50 60h2v2h-2zM56 60h2v2h-2zM0 62h2v2h-2zM10 62h2v2h-2zM30 62h2v2h-2zM36 62h4v2h-4zM42 62h2v2h-2zM48 62h4v2h-4zM58 62h2v2h-2z"/>
<path fill="#ff0000" d="M40 0h2v2h-2zM50 0h2v2h-2zM24 2h2v2h-2zM38 2h2v2h-2zM20 4h2v2h-2zM8 6h2v2h-2zM12 6h2v2h-2zM46 6h4v2h-4zM2 8h2v2h-2zM8 8h2v2h-2zM32 8h2v2h-2zM46 8h2v2h-2zM10 10h2v2h-2zM34 10h4v2h-4zM50 10h4v2h-4zM6 12h2v2h-2zM34 12h2v2h-2zM44 12h2v2h-2zM54 12h2v2h-2zM8 14h2v2h-2zM52 14h4v2h-4zM34 16h4v2h-4zM40 16h2v2h-2zM50 16h4v2h-4zM24 18h2v2h-2zM38 18h2v2h-2zM44 18h2v2h-2zM56 18h2v2h-2zM20 20h2v2h-2zM26 20h2v2h-2zM16 22h2v2h-2zM30 22h4v2h-4zM38 24h2v2h-2zM44 24h2v2h-2zM12 26h2v2h-2zM44 26h4v2h-4zM20 28h2v2h-2zM46 28h2v2h-2zM56 28h2v2h-2zM60 28h2v2h-2zM10 30h2v2h-2zM14 30h2v2h-2zM48 30h4v2h-4zM10 32h4v2h-4zM40 32h2v2h-2zM50 32h2v2h-2zM54 32h2v2h-2zM6 34h2v2h-2zM10 34h2v2h-2zM42 34h2v2h-2zM54 34h2v2h-2zM6 36h2v2h-2zM12 36h2v2h-2zM18 36h2v2h-2zM36 36h2v2h-2zM54 36h2v2h-2zM6 38h2v2h-2zM16 38h2v2h-2zM20 38h2v2h-2zM36 38h2v2h-2zM50 38h2v2h-2zM56 38h2v2h-2zM60 38h4v2h-4zM0 40h6v2h-6zM20 40h2v2h-2zM26 40h2v2h-2zM32 40h2v2h-2zM52 40h4v2h-4zM2 42h2v2h-2zM10 42h2v2h-2zM14 42h2v2h-2zM20 42h2v2h-2zM28 42h2v2h-2zM32 42h2v2h-2zM56 42h2v2h-2zM10 44h2v2h-2zM26 44h2v2h-2zM56 44h2v2h-2zM60 44h2v2h-2zM28 46h2v2h-2zM60 46h2v2h-2zM56 48h4v2h-4zM16 50h2v2h-2zM8 52h4v2h-4zM16 52h6v2h-6zM2 54h2v2h-2zM10 54h2v2h-2zM18 54h2v2h-2zM24 54h6v2h-6zM36 54h4v2h-4zM50 56h2v2h-2zM8 58h2v2h-2zM14 58h2v2h-2zM30 60h2v2h-2zM38 60h2v2h-2zM48 60h2v2h-2zM20 62h4v2h-4zM28 62h2v2h-2zM40 62h2v2h-2zM56 62h2v2h-2z"/>
<path fill="#ffff00" d="M2 0h2v2h-2zM6 0h2v2h-2zM14 0h2v2h-2zM38 0h2v2h-2zM42 0h2v2h-2zM6 2h2v2h-2zM26 2h2v2h-2zM34 2h2v2h-2zM40 2h2v2h-2zM44 2h2v2h-2zM6 4h2v2h-2zM18 4h2v2h-2zM22 4h2v2h-2zM26 4h2v2h-2zM32 4h2v2h-2zM40 4h2v2h-2zM44 4h2v2h-2zM48 4h2v2h-2zM52 4h6v2h-6zM2 6h2v2h-2zM16 6h2v2h-2zM36 6h4v2h-4zM44 6h2v2h-2zM54 6h2v2h-2zM60 6h2v2h-2zM6 8h2v2h-2zM10 8h2v2h-2zM34 8h4v2h-4zM42 8h4v2h-4zM60 8h2v2h-2zM18 10h4v2h-4zM32 10h2v2h-2zM42 10h6v2h-6zM56 10h4v2h-4zM4 12h2v2h-2zM14 12h4v2h-4zM40 12h4v2h-4zM50 12h2v2h-2zM16 14h2v2h-2zM24 14h2v2h-2zM28 14h2v2h-2zM38 14h8v2h-8zM14 16h8v2h-8zM42 16h4v2h-4zM54 16h6v2h-6zM12 18h8v2h-8zM40 18h4v2h-4zM52 18h2v2h-2zM58 18h4v2h-4zM10 20h2v2h-2zM16 20h2v2h-2zM22 20h4v2h-4zM10 22h2v2h-2zM18 22h4v2h-4zM28 22h2v2h-2zM56 22h2v2h-2zM16 24h4v2h-4zM36 24h2v2h-2zM40 24h2v2h-2zM48 24h2v2h-2zM58 24h2v2h-2zM6 26h2v2h-2zM14 26h2v2h-2zM40 26h2v2h-2zM58 26h4v2h-4zM4 28h2v2h-2zM10 28h2v2h-2zM30 28h2v2h-2zM36 28h2v2h-2zM54 28h2v2h-2zM58 28h2v2h-2zM62 28h2v2h-2zM8 30h2v2h-2zM18 30h2v2h-2zM30 30h2v2h-2zM34 30h2v2h-2zM40 30h2v2h-2zM46 30h2v2h-2zM54 30h2v2h-2zM0 32h2v2h-2zM6 32h4v2h-4zM42 32h4v2h-4zM48 32h2v2h-2zM14 34h6v2h-6zM28 34h2v2h-2zM34 34h4v2h-4zM40 34h2v2h-2zM46 34h2v2h-2zM50 34h4v2h-4zM2 36h2v2h-2zM50 36h2v2h-2zM56 36h4v2h-4zM0 38h4v2h-4zM30 38h4v2h-4zM40 38h2v2h-2zM18 40h2v2h-2zM36 40h2v2h-2zM50 40h2v2h-2zM62 40h2v2h-2zM0 42h2v2h-2zM26 42h2v2h-2zM30 42h2v2h-2zM44 42h2v2h-2zM24 44h2v2h-2zM28 44h2v2h-2zM32 44h2v2h-2zM40 44h2v2h-2zM46 44h2v2h-2zM50 44h2v2h-2zM0 46h2v2h-2zM26 46h2v2h-2zM36 46h2v2h-2zM0 48h2v2h-2zM4 48h2v2h-2zM28 48h2v2h-2zM48 48h2v2h-2zM8 50h2v2h-2zM22 50h2v2h-2zM26 50h2v2h-2zM48 50h2v2h-2zM58 50h2v2h-2zM2 52h2v2h-2zM12 52h2v2h-2zM26 52h6v2h-6zM38 52h2v2h-2zM56 52h2v2h-2zM8 54h2v2h-2zM12 54h2v2h-2zM30 54h2v2h-2zM34 54h2v2h-2zM2 56h2v2h-2zM8 56h2v2h-2zM32 56h2v2h-2zM44 56h2v2h-2zM54 56h2v2h-2zM12 58h2v2h-2zM16 58h2v2h-2zM46 58h2v2h-2zM8 60h2v2h-2zM14 60h2v2h-2zM22 60h2v2h-2zM32 60h2v2h-2zM46 60h2v2h-2zM14 62h2v2h-2zM62 62h2v2h-2z"/>
</pattern>
<pattern id="pp" patternUnits="userSpaceOnUse" width="64" height="64">
<rect width="64" height="64" fill="#c8c8c8"/>
<path fill="#64ff00" d="M26 0h2v2h-2zM12 2h2v2h-2zM46 2h2v2h-2zM24 4h2v2h-2zM14 6h2v2h-2zM38 8h2v2h-2zM54 8h2v2h-2zM28 10h2v2h-2zM60 10h4v2h-4zM12 12h2v2h-2zM60 16h2v2h-2zM22 18h2v2h-2zM26 20h2v2h-2zM44 20h2v2h-2zM52 20h2v2h-2zM18 26h2v2h-2zM42 28h2v2h-2zM52 28h4v2h-4zM24 30h4v2h-4zM8 32h2v2h-2zM42 32h2v2h-2zM4 36h2v2h-2zM4 38h2v2h-2zM12 42h2v2h-2zM38 42h2v2h-2zM44 44h4v2h-4zM58 44h2v2h-2zM32 46h2v2h-2zM18 48h4v2h-4zM36 52h2v2h-2zM36 56h2v2h-2zM30 58h2v2h-2zM62 58h2v2h-2zM30 60h2v2h-2zM50 62h2v2h-2z"/>
<path fill="#00c8c8" d="M2 0h2v2h-2zM6 0h4v2h-4zM12 0h6v2h-6zM20 0h2v2h-2zM34 0h2v2h-2zM56 0h2v2h-2zM6 2h2v2h-2zM16 2h2v2h-2zM20 2h4v2h-4zM26 2h4v2h-4zM34 2h2v2h-2zM42 2h2v2h-2zM56 2h2v2h-2zM2 4h2v2h-2zM20 4h4v2h-4zM26 4h2v2h-2zM40 4h4v2h-4zM46 4h2v2h-2zM54 4h2v2h-2zM6 6h4v2h-4zM20 6h4v2h-4zM26 6h2v2h-2zM40 6h2v2h-2zM44 6h2v2h-2zM50 6h4v2h-4zM2 8h14v2h-14zM20 8h4v2h-4zM4 10h2v2h-2zM10 10h6v2h-6zM18 10h6v2h-6zM30 10h4v2h-4zM38 10h4v2h-4zM50 10h2v2h-2zM58 10h2v2h-2zM4 12h2v2h-2zM40 12h2v2h-2zM46 12h2v2h-2zM52 12h2v2h-2zM58 12h4v2h-4zM4 14h2v2h-2zM40 14h2v2h-2zM8 16h2v2h-2zM22 16h4v2h-4zM40 16h6v2h-6zM52 16h2v2h-2zM8 18h4v2h-4zM24 18h2v2h-2zM32 18h2v2h-2zM42 18h2v2h-2zM46 18h2v2h-2zM54 18h2v2h-2zM0 20h2v2h-2zM12 20h6v2h-6zM24 20h2v2h-2zM30 20h2v2h-2zM54 20h2v2h-2zM0 22h4v2h-4zM12 22h6v2h-6zM24 22h2v2h-2zM32 22h2v2h-2zM36 22h2v2h-2zM0 24h4v2h-4zM6 24h2v2h-2zM12 24h6v2h-6zM26 24h8v2h-8zM50 24h2v2h-2zM62 24h2v2h-2zM0 26h6v2h-6zM30 26h2v2h-2zM36 26h4v2h-4zM44 26h2v2h-2zM48 26h6v2h-6zM60 26h4v2h-4zM2 28h4v2h-4zM28 28h12v2h-12zM44 28h8v2h-8zM58 28h4v2h-4zM4 30h14v2h-14zM36 30h4v2h-4zM44 30h18v2h-18zM12 32h2v2h-2zM26 32h2v2h-2zM46 32h16v2h-16zM16 34h4v2h-4zM26 34h6v2h-6zM48 34h4v2h-4zM56 34h6v2h-6zM16 36h4v2h-4zM30 36h4v2h-4zM50 36h2v2h-2zM56 36h4v2h-4zM6 38h2v2h-2zM16 38h6v2h-6zM28 38h2v2h-2zM0 40h10v2h-10zM14 40h4v2h-4zM20 40h4v2h-4zM20 42h4v2h-4zM30 42h2v2h-2zM56 42h2v2h-2zM20 44h2v2h-2zM30 44h4v2h-4zM36 44h4v2h-4zM52 44h2v2h-2zM56 44h2v2h-2zM62 44h2v2h-2zM6 46h4v2h-4zM14 46h4v2h-4zM20 46h2v2h-2zM24 46h2v2h-2zM30 46h2v2h-2zM42 46h2v2h-2zM52 46h6v2h-6zM62 46h2v2h-2zM6 48h2v2h-2zM16 48h2v2h-2zM30 48h4v2h-4zM36 48h2v2h-2zM44 48h2v2h-2zM50 48h10v2h-10zM34 50h4v2h-4zM56 50h2v2h-2zM26 52h4v2h-4zM40 52h2v2h-2zM46 52h6v2h-6zM26 54h2v2h-2zM40 54h4v2h-4zM50 54h2v2h-2zM2 56h2v2h-2zM14 56h4v2h-4zM32 56h2v2h-2zM38 56h4v2h-4zM46 56h2v2h-2zM58 56h4v2h-4zM0 58h4v2h-4zM16 58h2v2h-2zM22 58h2v2h-2zM32 58h2v2h-2zM40 58h2v2h-2zM50 58h10v2h-10zM2 60h4v2h-4zM18 60h10v2h-10zM40 60h4v2h-4zM48 60h2v2h-2zM52 60h2v2h-2zM2 62h6v2h-6zM16 62h4v2h-4zM22 62h4v2h-4zM52 62h2v2h-2z"/>
<path fill="#3232ff" d="M0 0h2v2h-2zM18 0h2v2h-2zM22 0h2v2h-2zM28 0h2v2h-2zM0 2h2v2h-2zM14 2h2v2h-2zM18 2h2v2h-2zM44 4h2v2h-2zM10 6h2v2h-2zM28 6h4v2h-4zM54 6h2v2h-2zM44 8h2v2h-2zM48 8h2v2h-2zM48 10h2v2h-2zM18 12h2v2h-2zM28 12h4v2h-4zM42 12h2v2h-2zM48 12h4v2h-4zM56 12h2v2h-2zM2 14h2v2h-2zM30 14h2v2h-2zM38 14h2v2h-2zM48 14h2v2h-2zM12 16h4v2h-4zM18 16h2v2h-2zM46 16h4v2h-4zM6 18h2v2h-2zM40 18h2v2h-2zM44 18h2v2h-2zM52 18h2v2h-2zM28 20h2v2h-2zM26 22h6v2h-6zM18 24h4v2h-4zM34 24h6v2h-6zM16 26h2v2h-2zM28 26h2v2h-2zM32 26h4v2h-4zM46 26h2v2h-2zM56 26h4v2h-4zM56 28h2v2h-2zM28 30h2v2h-2zM42 30h2v2h-2zM2 32h2v2h-2zM10 32h2v2h-2zM2 34h2v2h-2zM10 34h2v2h-2zM28 36h2v2h-2zM42 36h2v2h-2zM22 38h2v2h-2zM40 38h2v2h-2zM18 40h2v2h-2zM6 42h2v2h-2zM32 42h4v2h-4zM60 42h2v2h-2zM60 44h2v2h-2zM34 46h2v2h-2zM8 48h2v2h-2zM34 48h2v2h-2zM18 50h2v2h-2zM26 50h2v2h-2zM18 52h2v2h-2zM42 52h2v2h-2zM46 54h4v2h-4zM16 60h2v2h-2zM38 60h2v2h-2zM46 60h2v2h-2zM50 60h2v2h-2zM60 60h2v2h-2zM0 62h2v2h-2zM14 62h2v2h-2zM30 62h2v2h-2zM38 62h2v2h-2zM48 62h2v2h-2z"/>
<path fill="#ffff00" d="M24 0h2v2h-2zM36 0h4v2h-4zM48 0h6v2h-6zM2 2h4v2h-4zM24 2h2v2h-2zM36 2h2v2h-2zM48 2h4v2h-4zM4 4h2v2h-2zM56 4h2v2h-2zM2 6h4v2h-4zM12 6h2v2h-2zM16 6h4v2h-4zM42 6h2v2h-2zM16 8h4v2h-4zM28 8h2v2h-2zM6 10h2v2h-2zM44 10h4v2h-4zM56 10h2v2h-2zM14 12h2v2h-2zM18 14h6v2h-6zM46 14h2v2h-2zM54 14h2v2h-2zM2 16h4v2h-4zM20 16h2v2h-2zM2 18h4v2h-4zM12 18h2v2h-2zM2 20h2v2h-2zM32 20h2v2h-2zM42 26h2v2h-2zM54 26h2v2h-2zM6 28h2v2h-2zM16 28h4v2h-4zM26 28h2v2h-2zM40 30h2v2h-2zM8 34h2v2h-2zM42 34h2v2h-2zM2 36h2v2h-2zM6 36h4v2h-4zM26 36h2v2h-2zM26 38h2v2h-2zM36 38h2v2h-2zM40 40h2v2h-2zM56 40h2v2h-2zM14 42h2v2h-2zM42 44h2v2h-2zM54 44h2v2h-2zM0 46h2v2h-2zM18 46h2v2h-2zM36 46h4v2h-4zM44 46h4v2h-4zM58 46h4v2h-4zM26 48h2v2h-2zM38 48h2v2h-2zM38 50h4v2h-4zM0 56h2v2h-2zM34 56h2v2h-2zM42 56h2v2h-2zM48 56h4v2h-4zM62 56h2v2h-2zM34 58h2v2h-2zM42 58h2v2h-2zM48 58h2v2h-2zM60 58h2v2h-2zM28 60h2v2h-2zM58 60h2v2h-2zM34 62h4v2h-4z"/>
</pattern>
<pattern id="pq" patternUnits="userSpaceOnUse" width="64" height="64">
<rect width="64" height="64" fill="#c8c8c8"/>
<path fill="#64ff00" d="M40 0h2v2h-2zM60 2h2v2h-2zM2 4h2v2h-2zM14 4h2v2h-2zM50 4h2v2h-2zM60 4h2v2h-2zM10 6h4v2h-4zM16 6h2v2h-2zM30 6h2v2h-2zM50 6h2v2h-2zM8 8h2v2h-2zM12 8h2v2h-2zM18 8h2v2h-2zM58 8h2v2h-2zM58 10h2v2h-2zM18 12h2v2h-2zM8 14h2v2h-2zM32 14h2v2h-2zM4 16h6v2h-6zM42 16h2v2h-2zM0 20h4v2h-4zM16 20h2v2h-2zM24 20h2v2h-2zM42 20h2v2h-2zM46 20h2v2h-2zM2 22h2v2h-2zM10 22h2v2h-2zM46 22h2v2h-2zM0 24h2v2h-2zM32 24h2v2h-2zM48 24h2v2h-2zM58 24h2v2h-2zM4 26h4v2h-4zM54 26h2v2h-2zM58 26h2v2h-2zM38 28h2v2h-2zM58 28h2v2h-2zM34 32h2v2h-2zM32 34h2v2h-2zM54 34h2v2h-2zM14 36h2v2h-2zM20 36h6v2h-6zM28 36h4v2h-4zM34 36h6v2h-6zM56 36h2v2h-2zM60 36h2v2h-2zM24 38h2v2h-2zM34 38h2v2h-2zM40 38h6v2h-6zM56 38h4v2h-4zM6 40h2v2h-2zM14 40h2v2h-2zM26 40h2v2h-2zM34 40h2v2h-2zM54 42h2v2h-2zM6 44h2v2h-2zM28 44h2v2h-2zM2 46h2v2h-2zM24 46h2v2h-2zM36 46h2v2h-2zM42 46h2v2h-2zM48 46h2v2h-2zM14 48h2v2h-2zM26 48h2v2h-2zM46 48h2v2h-2zM26 50h6v2h-6zM6 52h2v2h-2zM48 52h2v2h-2zM54 52h2v2h-2zM58 52h2v2h-2zM6 54h2v2h-2zM10 54h2v2h-2zM18 54h4v2h-4zM26 54h2v2h-2zM8 56h2v2h-2zM14 56h2v2h-2zM4 58h2v2h-2zM22 58h2v2h-2zM54 58h2v2h-2zM20 60h2v2h-2zM50 60h2v2h-2zM2 62h2v2h-2zM22 62h2v2h-2z"/>
<path fill="#ffc864" d="M6 0h2v2h-2zM0 2h2v2h-2zM62 2h2v2h-2zM18 4h2v2h-2zM46 4h2v2h-2zM52 4h2v2h-2zM18 6h4v2h-4zM34 6h2v2h-2zM44 6h2v2h-2zM14 8h4v2h-4zM52 8h2v2h-2zM18 10h4v2h-4zM38 12h2v2h-2zM6 14h2v2h-2zM14 14h2v2h-2zM18 14h2v2h-2zM42 14h2v2h-2zM40 18h2v2h-2zM8 20h2v2h-2zM36 20h2v2h-2zM40 20h2v2h-2zM60 20h2v2h-2zM8 22h2v2h-2zM32 26h2v2h-2zM56 26h2v2h-2zM12 28h2v2h-2zM50 28h2v2h-2zM38 30h2v2h-2zM60 30h2v2h-2zM24 32h2v2h-2zM32 32h2v2h-2zM56 32h2v2h-2zM24 34h2v2h-2zM30 34h2v2h-2zM56 34h2v2h-2zM16 36h2v2h-2zM26 36h2v2h-2zM44 36h2v2h-2zM54 36h2v2h-2zM16 38h4v2h-4zM54 38h2v2h-2zM16 40h2v2h-2zM10 44h2v2h-2zM4 46h4v2h-4zM10 46h4v2h-4zM12 52h2v2h-2zM20 52h2v2h-2zM46 52h2v2h-2zM60 52h2v2h-2zM8 54h2v2h-2zM14 54h2v2h-2zM20 58h2v2h-2zM2 60h2v2h-2zM34 60h2v2h-2zM52 60h2v2h-2zM20 62h2v2h-2z"/>
<path fill="#3232ff" d="M14 0h2v2h-2zM46 0h2v2h-2zM14 2h4v2h-4zM22 2h2v2h-2zM46 2h2v2h-2zM62 4h2v2h-2zM26 6h4v2h-4zM36 10h2v2h-2zM2 12h2v2h-2zM4 14h2v2h-2zM28 16h2v2h-2zM50 16h2v2h-2zM24 18h2v2h-2zM4 20h2v2h-2zM20 20h2v2h-2zM62 20h2v2h-2zM0 22h2v2h-2zM26 22h2v2h-2zM38 22h2v2h-2zM50 22h2v2h-2zM58 22h2v2h-2zM2 24h2v2h-2zM36 24h2v2h-2zM46 24h2v2h-2zM54 24h4v2h-4zM26 26h2v2h-2zM48 26h2v2h-2zM4 28h2v2h-2zM30 30h2v2h-2zM48 30h2v2h-2zM60 32h2v2h-2zM6 34h2v2h-2zM34 34h2v2h-2zM12 36h2v2h-2zM18 36h2v2h-2zM14 38h2v2h-2zM20 38h2v2h-2zM46 38h2v2h-2zM38 40h2v2h-2zM8 44h2v2h-2zM26 44h2v2h-2zM26 46h4v2h-4zM34 46h2v2h-2zM44 48h2v2h-2zM46 50h2v2h-2zM52 50h2v2h-2zM10 52h2v2h-2zM30 52h2v2h-2zM36 52h2v2h-2zM12 54h2v2h-2zM56 54h6v2h-6zM12 56h2v2h-2zM60 56h2v2h-2zM2 58h2v2h-2zM36 58h2v2h-2zM10 60h2v2h-2zM22 60h2v2h-2zM32 62h2v2h-2z"/>
<path fill="#ffff00" d="M0 0h4v2h-4zM16 0h4v2h-4zM34 0h2v2h-2zM48 0h4v2h-4zM12 2h2v2h-2zM18 2h4v2h-4zM34 2h2v2h-2zM42 2h4v2h-4zM50 2h4v2h-4zM58 2h2v2h-2zM0 4h2v2h-2zM10 4h4v2h-4zM16 4h2v2h-2zM34 4h2v2h-2zM44 4h2v2h-2zM48 4h2v2h-2zM58 4h2v2h-2zM0 6h2v2h-2zM14 6h2v2h-2zM46 6h4v2h-4zM58 6h2v2h-2zM62 6h2v2h-2zM10 8h2v2h-2zM20 8h2v2h-2zM30 8h4v2h-4zM50 8h2v2h-2zM0 10h2v2h-2zM32 10h2v2h-2zM50 10h4v2h-4zM62 10h2v2h-2zM0 12h2v2h-2zM32 12h4v2h-4zM58 12h2v2h-2zM62 12h2v2h-2zM38 14h2v2h-2zM52 14h4v2h-4zM58 14h4v2h-4zM40 16h2v2h-2zM52 16h2v2h-2zM2 18h14v2h-14zM22 18h2v2h-2zM28 18h2v2h-2zM42 18h2v2h-2zM10 20h6v2h-6zM18 20h2v2h-2zM22 20h2v2h-2zM44 20h2v2h-2zM58 20h2v2h-2zM4 22h2v2h-2zM12 22h2v2h-2zM18 22h2v2h-2zM36 22h2v2h-2zM44 22h2v2h-2zM52 22h2v2h-2zM4 24h2v2h-2zM24 24h8v2h-8zM50 24h4v2h-4zM2 26h2v2h-2zM28 26h4v2h-4zM46 26h2v2h-2zM50 26h2v2h-2zM2 28h2v2h-2zM30 28h4v2h-4zM44 28h6v2h-6zM56 28h2v2h-2zM4 30h4v2h-4zM36 30h2v2h-2zM56 30h4v2h-4zM6 32h4v2h-4zM48 32h2v2h-2zM54 32h2v2h-2zM58 32h2v2h-2zM58 34h6v2h-6zM46 36h2v2h-2zM58 36h2v2h-2zM12 38h2v2h-2zM22 38h2v2h-2zM26 38h4v2h-4zM36 38h4v2h-4zM60 38h2v2h-2zM22 40h4v2h-4zM36 40h2v2h-2zM42 40h4v2h-4zM48 40h2v2h-2zM56 40h2v2h-2zM4 42h8v2h-8zM24 42h4v2h-4zM42 42h4v2h-4zM48 42h2v2h-2zM4 44h2v2h-2zM24 44h2v2h-2zM36 44h2v2h-2zM42 44h6v2h-6zM54 44h6v2h-6zM0 46h2v2h-2zM8 46h2v2h-2zM38 46h2v2h-2zM44 46h4v2h-4zM62 46h2v2h-2zM0 48h2v2h-2zM20 48h4v2h-4zM34 48h4v2h-4zM4 50h2v2h-2zM14 50h2v2h-2zM20 50h2v2h-2zM34 50h8v2h-8zM60 50h2v2h-2zM4 52h2v2h-2zM8 52h2v2h-2zM26 52h4v2h-4zM56 52h2v2h-2zM22 54h4v2h-4zM28 54h4v2h-4zM40 54h4v2h-4zM2 56h2v2h-2zM10 56h2v2h-2zM18 56h12v2h-12zM56 56h4v2h-4zM8 58h8v2h-8zM18 58h2v2h-2zM24 58h4v2h-4zM34 58h2v2h-2zM56 58h2v2h-2zM12 60h8v2h-8zM24 60h2v2h-2zM32 60h2v2h-2zM58 60h4v2h-4zM0 62h2v2h-2zM12 62h8v2h-8zM58 62h4v2h-4z"/>
</pattern>
<pattern id="pr" patternUnits="userSpaceOnUse" width="64" height="64">
<rect width="64" height="64" fill="#c8c8c8"/>
<path fill="#960000" d="M0 0h2v2h-2zM8 0h2v2h-2zM16 0h2v2h-2zM24 0h2v2h-2zM30 0h2v2h-2zM36 0h2v2h-2zM50 0h2v2h-2zM8 2h2v2h-2zM16 2h2v2h-2zM24 2h6v2h-6zM44 2h2v2h-2zM52 2h6v2h-6zM2 4h2v2h-2zM8 4h2v2h-2zM22 4h6v2h-6zM30 4h4v2h-4zM36 4h2v2h-2zM50 4h4v2h-4zM56 4h2v2h-2zM10 6h2v2h-2zM50 6h6v2h-6zM58 6h2v2h-2zM62 6h2v2h-2zM30 8h2v2h-2zM38 8h2v2h-2zM50 8h2v2h-2zM58 8h2v2h-2zM8 10h2v2h-2zM30 10h2v2h-2zM38 10h2v2h-2zM58 10h2v2h-2zM10 12h2v2h-2zM28 12h4v2h-4zM42 12h2v2h-2zM56 12h2v2h-2zM62 12h2v2h-2zM12 14h2v2h-2zM18 14h4v2h-4zM24 14h4v2h-4zM36 14h4v2h-4zM46 14h2v2h-2zM50 14h2v2h-2zM0 16h4v2h-4zM8 16h4v2h-4zM18 16h2v2h-2zM22 16h2v2h-2zM30 16h4v2h-4zM40 18h2v2h-2zM54 18h2v2h-2zM58 18h2v2h-2zM62 18h2v2h-2zM8 20h2v2h-2zM12 20h2v2h-2zM20 20h2v2h-2zM26 20h2v2h-2zM40 20h2v2h-2zM52 20h4v2h-4zM58 20h2v2h-2zM8 22h4v2h-4zM50 22h4v2h-4zM6 24h2v2h-2zM10 24h10v2h-10zM52 24h2v2h-2zM2 26h2v2h-2zM10 26h2v2h-2zM14 26h2v2h-2zM28 26h2v2h-2zM34 26h4v2h-4zM48 26h2v2h-2zM60 26h2v2h-2zM4 28h2v2h-2zM14 28h4v2h-4zM20 28h8v2h-8zM34 28h2v2h-2zM38 28h2v2h-2zM42 28h4v2h-4zM50 28h6v2h-6zM4 30h2v2h-2zM10 30h6v2h-6zM20 30h2v2h-2zM26 30h2v2h-2zM24 32h2v2h-2zM46 32h2v2h-2zM24 34h4v2h-4zM34 34h2v2h-2zM44 34h2v2h-2zM56 34h2v2h-2zM62 34h2v2h-2zM0 36h2v2h-2zM8 36h2v2h-2zM14 36h2v2h-2zM44 36h2v2h-2zM48 36h2v2h-2zM50 38h2v2h-2zM4 40h2v2h-2zM30 40h2v2h-2zM40 40h2v2h-2zM44 40h2v2h-2zM52 40h2v2h-2zM8 42h2v2h-2zM20 42h2v2h-2zM26 42h2v2h-2zM32 42h4v2h-4zM50 42h2v2h-2zM0 44h6v2h-6zM22 44h2v2h-2zM48 44h4v2h-4zM54 44h2v2h-2zM0 46h4v2h-4zM8 46h4v2h-4zM18 46h2v2h-2zM24 46h2v2h-2zM40 46h4v2h-4zM52 46h2v2h-2zM62 46h2v2h-2zM30 48h2v2h-2zM34 48h2v2h-2zM48 48h2v2h-2zM58 48h2v2h-2zM62 48h2v2h-2zM4 50h4v2h-4zM10 50h2v2h-2zM22 50h2v2h-2zM34 50h4v2h-4zM46 50h2v2h-2zM54 50h2v2h-2zM60 50h2v2h-2zM0 52h2v2h-2zM14 52h6v2h-6zM22 52h2v2h-2zM26 52h4v2h-4zM32 52h4v2h-4zM40 52h8v2h-8zM62 52h2v2h-2zM14 54h2v2h-2zM22 54h2v2h-2zM40 54h4v2h-4zM46 54h2v2h-2zM56 54h2v2h-2zM4 56h2v2h-2zM26 56h2v2h-2zM42 56h2v2h-2zM8 58h2v2h-2zM12 58h2v2h-2zM16 58h2v2h-2zM20 58h2v2h-2zM32 58h2v2h-2zM44 58h2v2h-2zM54 58h2v2h-2zM14 60h2v2h-2zM18 60h4v2h-4zM24 60h2v2h-2zM34 60h4v2h-4zM40 60h2v2h-2zM44 60h2v2h-2zM48 60h2v2h-2zM4 62h4v2h-4zM10 62h2v2h-2zM14 62h6v2h-6zM36 62h2v2h-2zM54 62h2v2h-2zM62 62h2v2h-2z"/>
<path fill="#ffc864" d="M4 0h4v2h-4zM26 0h4v2h-4zM44 0h2v2h-2zM54 0h8v2h-8zM6 2h2v2h-2zM20 2h2v2h-2zM38 2h2v2h-2zM60 2h2v2h-2zM58 4h4v2h-4zM12 12h2v2h-2zM4 14h8v2h-8zM48 14h2v2h-2zM14 16h4v2h-4zM42 16h2v2h-2zM20 18h2v2h-2zM36 18h2v2h-2zM42 18h2v2h-2zM22 20h2v2h-2zM42 20h2v2h-2zM26 22h2v2h-2zM48 22h2v2h-2zM28 24h2v2h-2zM46 24h2v2h-2zM56 24h4v2h-4zM44 26h4v2h-4zM6 28h4v2h-4zM32 28h2v2h-2zM62 28h2v2h-2zM6 30h4v2h-4zM32 30h2v2h-2zM48 30h6v2h-6zM58 30h2v2h-2zM8 32h6v2h-6zM22 32h2v2h-2zM26 32h4v2h-4zM34 32h2v2h-2zM56 32h4v2h-4zM2 34h2v2h-2zM8 34h2v2h-2zM12 34h2v2h-2zM28 34h2v2h-2zM46 34h2v2h-2zM58 34h2v2h-2zM2 36h2v2h-2zM16 36h4v2h-4zM28 36h4v2h-4zM40 36h2v2h-2zM46 36h2v2h-2zM38 38h4v2h-4zM46 38h2v2h-2zM8 40h2v2h-2zM12 40h4v2h-4zM34 40h2v2h-2zM4 42h2v2h-2zM12 42h4v2h-4zM30 42h2v2h-2zM36 42h4v2h-4zM60 42h2v2h-2zM26 44h2v2h-2zM30 44h2v2h-2zM44 44h2v2h-2zM58 44h4v2h-4zM16 46h2v2h-2zM22 46h2v2h-2zM26 46h4v2h-4zM44 46h4v2h-4zM54 46h2v2h-2zM58 46h2v2h-2zM12 48h4v2h-4zM22 48h4v2h-4zM2 50h2v2h-2zM14 50h2v2h-2zM48 50h2v2h-2zM36 52h2v2h-2zM60 52h2v2h-2zM38 54h2v2h-2zM52 54h2v2h-2zM60 54h2v2h-2zM6 56h2v2h-2zM24 56h2v2h-2zM38 56h2v2h-2zM50 56h4v2h-4zM0 58h2v2h-2zM6 58h2v2h-2zM22 58h2v2h-2zM50 58h4v2h-4zM22 60h2v2h-2zM42 60h2v2h-2zM50 60h4v2h-4zM26 62h4v2h-4zM50 62h2v2h-2zM58 62h2v2h-2z"/>
<path fill="#ff8200" d="M10 0h2v2h-2zM18 0h4v2h-4zM38 0h2v2h-2zM42 0h2v2h-2zM52 0h2v2h-2zM62 0h2v2h-2zM4 2h2v2h-2zM30 2h2v2h-2zM34 2h4v2h-4zM58 2h2v2h-2zM62 2h2v2h-2zM0 4h2v2h-2zM4 4h2v2h-2zM10 4h2v2h-2zM20 4h2v2h-2zM34 4h2v2h-2zM38 4h2v2h-2zM48 4h2v2h-2zM62 4h2v2h-2zM0 6h2v2h-2zM4 6h6v2h-6zM20 6h4v2h-4zM48 6h2v2h-2zM56 6h2v2h-2zM0 8h2v2h-2zM20 8h2v2h-2zM32 8h2v2h-2zM40 8h2v2h-2zM48 8h2v2h-2zM62 8h2v2h-2zM0 10h2v2h-2zM46 10h4v2h-4zM62 10h2v2h-2zM8 12h2v2h-2zM26 12h2v2h-2zM40 12h2v2h-2zM48 12h2v2h-2zM4 16h4v2h-4zM20 16h2v2h-2zM36 16h2v2h-2zM40 16h2v2h-2zM44 16h2v2h-2zM50 16h2v2h-2zM2 18h2v2h-2zM6 18h4v2h-4zM16 18h4v2h-4zM22 18h6v2h-6zM32 18h2v2h-2zM44 18h2v2h-2zM52 18h2v2h-2zM24 20h2v2h-2zM36 20h2v2h-2zM12 22h2v2h-2zM28 22h2v2h-2zM42 22h2v2h-2zM46 22h2v2h-2zM54 22h4v2h-4zM8 24h2v2h-2zM48 24h2v2h-2zM54 24h2v2h-2zM60 24h2v2h-2zM8 26h2v2h-2zM16 26h4v2h-4zM42 26h2v2h-2zM46 28h2v2h-2zM2 30h2v2h-2zM22 30h4v2h-4zM46 30h2v2h-2zM60 30h4v2h-4zM2 32h6v2h-6zM14 32h2v2h-2zM32 32h2v2h-2zM36 32h2v2h-2zM60 32h2v2h-2zM0 34h2v2h-2zM4 34h4v2h-4zM10 34h2v2h-2zM14 34h6v2h-6zM22 34h2v2h-2zM30 34h2v2h-2zM36 34h2v2h-2zM42 34h2v2h-2zM48 34h2v2h-2zM60 34h2v2h-2zM20 36h2v2h-2zM26 36h2v2h-2zM38 36h2v2h-2zM58 36h6v2h-6zM6 38h2v2h-2zM20 38h2v2h-2zM42 38h4v2h-4zM48 38h2v2h-2zM62 38h2v2h-2zM6 40h2v2h-2zM20 40h4v2h-4zM32 40h2v2h-2zM36 40h4v2h-4zM42 40h2v2h-2zM48 40h2v2h-2zM62 40h2v2h-2zM6 42h2v2h-2zM24 42h2v2h-2zM42 42h4v2h-4zM52 42h2v2h-2zM62 42h2v2h-2zM8 44h2v2h-2zM12 44h6v2h-6zM24 44h2v2h-2zM28 44h2v2h-2zM32 44h2v2h-2zM38 44h6v2h-6zM46 44h2v2h-2zM52 44h2v2h-2zM62 44h2v2h-2zM12 46h4v2h-4zM30 46h2v2h-2zM38 46h2v2h-2zM48 46h4v2h-4zM56 46h2v2h-2zM60 46h2v2h-2zM0 48h4v2h-4zM16 48h2v2h-2zM26 48h2v2h-2zM44 48h4v2h-4zM50 48h4v2h-4zM60 48h2v2h-2zM0 50h2v2h-2zM12 50h2v2h-2zM16 50h2v2h-2zM30 50h2v2h-2zM50 50h2v2h-2zM56 50h2v2h-2zM2 52h2v2h-2zM6 52h2v2h-2zM30 52h2v2h-2zM38 52h2v2h-2zM56 52h4v2h-4zM6 54h2v2h-2zM24 54h2v2h-2zM28 54h2v2h-2zM32 54h6v2h-6zM44 54h2v2h-2zM54 54h2v2h-2zM8 56h2v2h-2zM14 56h4v2h-4zM34 56h2v2h-2zM40 56h2v2h-2zM44 56h2v2h-2zM48 56h2v2h-2zM2 58h2v2h-2zM14 58h2v2h-2zM24 58h2v2h-2zM34 58h2v2h-2zM40 58h2v2h-2zM12 60h2v2h-2zM16 60h2v2h-2zM32 60h2v2h-2zM12 62h2v2h-2zM20 62h2v2h-2zM30 62h4v2h-4zM38 62h6v2h-6zM48 62h2v2h-2zM52 62h2v2h-2zM56 62h2v2h-2zM60 62h2v2h-2z"/>
<path fill="#ff0000" d="M2 0h2v2h-2zM14 0h2v2h-2zM22 0h2v2h-2zM32 0h4v2h-4zM40 0h2v2h-2zM46 0h4v2h-4zM0 2h4v2h-4zM22 2h2v2h-2zM32 2h2v2h-2zM40 2h4v2h-4zM46 2h6v2h-6zM6 4h2v2h-2zM12 4h4v2h-4zM28 4h2v2h-2zM40 4h8v2h-8zM54 4h2v2h-2zM2 6h2v2h-2zM12 6h4v2h-4zM18 6h2v2h-2zM24 6h8v2h-8zM38 6h10v2h-10zM60 6h2v2h-2zM2 8h2v2h-2zM8 8h12v2h-12zM22 8h8v2h-8zM34 8h4v2h-4zM42 8h2v2h-2zM52 8h6v2h-6zM60 8h2v2h-2zM2 10h2v2h-2zM10 10h20v2h-20zM32 10h6v2h-6zM40 10h2v2h-2zM50 10h8v2h-8zM60 10h2v2h-2zM0 12h4v2h-4zM14 12h12v2h-12zM32 12h8v2h-8zM46 12h2v2h-2zM50 12h6v2h-6zM58 12h4v2h-4zM0 14h4v2h-4zM14 14h4v2h-4zM22 14h2v2h-2zM28 14h8v2h-8zM42 14h4v2h-4zM52 14h12v2h-12zM12 16h2v2h-2zM24 16h6v2h-6zM34 16h2v2h-2zM38 16h2v2h-2zM46 16h4v2h-4zM52 16h12v2h-12zM0 18h2v2h-2zM4 18h2v2h-2zM10 18h6v2h-6zM34 18h2v2h-2zM38 18h2v2h-2zM46 18h6v2h-6zM56 18h2v2h-2zM0 20h8v2h-8zM10 20h2v2h-2zM14 20h6v2h-6zM28 20h2v2h-2zM32 20h4v2h-4zM38 20h2v2h-2zM44 20h4v2h-4zM50 20h2v2h-2zM56 20h2v2h-2zM0 22h2v2h-2zM4 22h4v2h-4zM14 22h10v2h-10zM30 22h12v2h-12zM44 22h2v2h-2zM58 22h6v2h-6zM0 24h6v2h-6zM20 24h4v2h-4zM26 24h2v2h-2zM30 24h12v2h-12zM50 24h2v2h-2zM62 24h2v2h-2zM4 26h4v2h-4zM12 26h2v2h-2zM20 26h8v2h-8zM30 26h4v2h-4zM38 26h4v2h-4zM50 26h4v2h-4zM62 26h2v2h-2zM10 28h4v2h-4zM28 28h4v2h-4zM40 28h2v2h-2zM56 28h2v2h-2zM60 28h2v2h-2zM28 30h4v2h-4zM34 30h2v2h-2zM40 30h6v2h-6zM54 30h4v2h-4zM0 32h2v2h-2zM16 32h6v2h-6zM30 32h2v2h-2zM42 32h4v2h-4zM48 32h2v2h-2zM52 32h4v2h-4zM62 32h2v2h-2zM20 34h2v2h-2zM32 34h2v2h-2zM50 34h6v2h-6zM4 36h4v2h-4zM10 36h4v2h-4zM22 36h4v2h-4zM32 36h6v2h-6zM42 36h2v2h-2zM50 36h8v2h-8zM0 38h6v2h-6zM10 38h8v2h-8zM22 38h16v2h-16zM52 38h10v2h-10zM0 40h4v2h-4zM16 40h4v2h-4zM24 40h6v2h-6zM46 40h2v2h-2zM50 40h2v2h-2zM58 40h4v2h-4zM16 42h4v2h-4zM22 42h2v2h-2zM28 42h2v2h-2zM40 42h2v2h-2zM46 42h4v2h-4zM54 42h2v2h-2zM58 42h2v2h-2zM6 44h2v2h-2zM10 44h2v2h-2zM18 44h4v2h-4zM34 44h4v2h-4zM56 44h2v2h-2zM4 46h4v2h-4zM20 46h2v2h-2zM32 46h6v2h-6zM4 48h8v2h-8zM18 48h4v2h-4zM28 48h2v2h-2zM32 48h2v2h-2zM36 48h8v2h-8zM8 50h2v2h-2zM18 50h4v2h-4zM24 50h6v2h-6zM38 50h8v2h-8zM52 50h2v2h-2zM58 50h2v2h-2zM62 50h2v2h-2zM4 52h2v2h-2zM8 52h6v2h-6zM20 52h2v2h-2zM48 52h8v2h-8zM4 54h2v2h-2zM8 54h6v2h-6zM16 54h6v2h-6zM26 54h2v2h-2zM48 54h4v2h-4zM62 54h2v2h-2zM10 56h4v2h-4zM18 56h6v2h-6zM28 56h6v2h-6zM36 56h2v2h-2zM46 56h2v2h-2zM54 56h2v2h-2zM60 56h2v2h-2zM4 58h2v2h-2zM10 58h2v2h-2zM26 58h6v2h-6zM36 58h4v2h-4zM42 58h2v2h-2zM46 58h4v2h-4zM56 58h8v2h-8zM0 60h2v2h-2zM4 60h8v2h-8zM26 60h6v2h-6zM38 60h2v2h-2zM54 60h4v2h-4zM60 60h4v2h-4zM0 62h4v2h-4zM22 62h4v2h-4zM34 62h2v2h-2zM44 62h4v2h-4z"/>
</pattern>
<pattern id="pu" patternUnits="userSpaceOnUse" width="64" height="64">
<rect width="64" height="64" fill="#c8c8c8"/>
<path fill="#64ff00" d="M16 0h2v2h-2zM22 0h2v2h-2zM28 0h2v2h-2zM34 0h2v2h-2zM38 0h2v2h-2zM62 0h2v2h-2zM4 2h2v2h-2zM10 2h2v2h-2zM32 2h2v2h-2zM4 4h2v2h-2zM38 4h2v2h-2zM20 6h2v2h-2zM36 6h4v2h-4zM60 6h4v2h-4zM18 8h2v2h-2zM26 8h2v2h-2zM0 10h2v2h-2zM46 10h2v2h-2zM60 10h2v2h-2zM6 14h2v2h-2zM10 14h2v2h-2zM16 14h2v2h-2zM54 14h2v2h-2zM22 16h4v2h-4zM52 16h4v2h-4zM0 18h8v2h-8zM28 18h2v2h-2zM0 20h4v2h-4zM30 20h2v2h-2zM8 22h2v2h-2zM16 22h2v2h-2zM36 22h4v2h-4zM16 24h2v2h-2zM40 24h2v2h-2zM10 26h2v2h-2zM46 26h2v2h-2zM12 28h2v2h-2zM34 28h2v2h-2zM2 30h2v2h-2zM12 30h2v2h-2zM44 30h2v2h-2zM60 30h2v2h-2zM2 32h2v2h-2zM12 32h2v2h-2zM20 32h2v2h-2zM24 32h2v2h-2zM36 32h2v2h-2zM60 32h2v2h-2zM4 34h4v2h-4zM10 36h4v2h-4zM16 36h2v2h-2zM40 38h2v2h-2zM48 38h4v2h-4zM54 38h2v2h-2zM62 38h2v2h-2zM18 40h4v2h-4zM60 40h2v2h-2zM8 42h2v2h-2zM12 42h2v2h-2zM18 42h2v2h-2zM52 42h4v2h-4zM8 46h4v2h-4zM4 48h2v2h-2zM8 48h2v2h-2zM14 48h2v2h-2zM46 48h2v2h-2zM46 50h2v2h-2zM52 50h2v2h-2zM4 52h2v2h-2zM14 52h2v2h-2zM28 52h2v2h-2zM42 52h2v2h-2zM12 54h2v2h-2zM18 54h2v2h-2zM32 56h4v2h-4zM22 58h2v2h-2zM32 58h2v2h-2zM42 58h2v2h-2zM46 58h4v2h-4zM22 60h4v2h-4zM34 60h2v2h-2zM40 60h2v2h-2zM52 60h2v2h-2zM40 62h2v2h-2zM62 62h2v2h-2z"/>
<path fill="#ffc864" d="M4 0h4v2h-4zM14 0h2v2h-2zM20 0h2v2h-2zM44 0h2v2h-2zM0 2h2v2h-2zM6 2h2v2h-2zM18 2h2v2h-2zM38 2h2v2h-2zM50 2h2v2h-2zM56 2h4v2h-4zM0 4h2v2h-2zM6 4h4v2h-4zM20 4h4v2h-4zM30 4h4v2h-4zM36 4h2v2h-2zM48 4h2v2h-2zM52 4h4v2h-4zM58 4h2v2h-2zM0 6h2v2h-2zM6 6h2v2h-2zM14 6h4v2h-4zM22 6h6v2h-6zM44 6h2v2h-2zM48 6h2v2h-2zM58 6h2v2h-2zM0 8h2v2h-2zM8 8h2v2h-2zM16 8h2v2h-2zM28 8h2v2h-2zM38 8h2v2h-2zM46 8h2v2h-2zM54 8h10v2h-10zM20 10h2v2h-2zM40 10h2v2h-2zM48 10h2v2h-2zM52 10h2v2h-2zM0 12h2v2h-2zM6 12h2v2h-2zM10 12h4v2h-4zM16 12h2v2h-2zM20 12h2v2h-2zM36 12h2v2h-2zM42 12h4v2h-4zM52 12h2v2h-2zM60 12h2v2h-2zM34 14h2v2h-2zM40 14h2v2h-2zM44 14h4v2h-4zM56 14h4v2h-4zM0 16h4v2h-4zM18 16h4v2h-4zM32 16h4v2h-4zM44 16h2v2h-2zM56 16h8v2h-8zM10 18h2v2h-2zM16 18h4v2h-4zM22 18h2v2h-2zM26 18h2v2h-2zM30 18h2v2h-2zM36 18h2v2h-2zM40 18h2v2h-2zM46 18h6v2h-6zM54 18h2v2h-2zM58 18h2v2h-2zM12 20h2v2h-2zM16 20h2v2h-2zM24 20h2v2h-2zM34 20h2v2h-2zM38 20h4v2h-4zM50 20h6v2h-6zM58 20h2v2h-2zM62 20h2v2h-2zM20 22h2v2h-2zM24 22h4v2h-4zM34 22h2v2h-2zM56 22h2v2h-2zM6 24h2v2h-2zM22 24h6v2h-6zM30 24h4v2h-4zM36 24h2v2h-2zM46 24h2v2h-2zM54 24h2v2h-2zM2 26h2v2h-2zM6 26h4v2h-4zM14 26h2v2h-2zM22 26h2v2h-2zM44 26h2v2h-2zM14 28h2v2h-2zM26 28h6v2h-6zM40 28h2v2h-2zM44 28h2v2h-2zM48 28h2v2h-2zM60 28h2v2h-2zM8 30h4v2h-4zM14 30h2v2h-2zM22 30h10v2h-10zM54 30h2v2h-2zM0 32h2v2h-2zM6 32h4v2h-4zM22 32h2v2h-2zM30 32h2v2h-2zM50 32h2v2h-2zM54 32h2v2h-2zM62 32h2v2h-2zM0 34h2v2h-2zM20 34h4v2h-4zM32 34h2v2h-2zM38 34h2v2h-2zM42 34h2v2h-2zM48 34h4v2h-4zM60 34h2v2h-2zM8 36h2v2h-2zM20 36h2v2h-2zM26 36h2v2h-2zM32 36h2v2h-2zM40 36h4v2h-4zM48 36h4v2h-4zM2 38h4v2h-4zM10 38h2v2h-2zM16 38h4v2h-4zM26 38h6v2h-6zM46 38h2v2h-2zM56 38h2v2h-2zM60 38h2v2h-2zM4 40h2v2h-2zM16 40h2v2h-2zM24 40h4v2h-4zM38 40h2v2h-2zM42 40h2v2h-2zM46 40h12v2h-12zM6 42h2v2h-2zM24 42h2v2h-2zM28 42h2v2h-2zM42 42h2v2h-2zM56 42h2v2h-2zM60 42h2v2h-2zM0 44h2v2h-2zM4 44h2v2h-2zM12 44h4v2h-4zM24 44h2v2h-2zM44 44h8v2h-8zM58 44h2v2h-2zM2 46h2v2h-2zM12 46h4v2h-4zM28 46h2v2h-2zM44 46h4v2h-4zM54 46h2v2h-2zM0 48h2v2h-2zM6 48h2v2h-2zM12 48h2v2h-2zM18 48h2v2h-2zM36 48h2v2h-2zM42 48h4v2h-4zM54 48h2v2h-2zM16 50h2v2h-2zM20 50h4v2h-4zM26 50h2v2h-2zM38 50h6v2h-6zM62 50h2v2h-2zM6 52h2v2h-2zM10 52h2v2h-2zM22 52h2v2h-2zM36 52h2v2h-2zM40 52h2v2h-2zM56 52h2v2h-2zM10 54h2v2h-2zM14 54h4v2h-4zM28 54h2v2h-2zM34 54h2v2h-2zM44 54h2v2h-2zM50 54h2v2h-2zM62 54h2v2h-2zM10 56h4v2h-4zM20 56h4v2h-4zM48 56h2v2h-2zM54 56h2v2h-2zM58 56h6v2h-6zM4 58h6v2h-6zM12 58h2v2h-2zM40 58h2v2h-2zM52 58h10v2h-10zM2 60h4v2h-4zM14 60h4v2h-4zM30 60h2v2h-2zM36 60h2v2h-2zM42 60h2v2h-2zM46 60h2v2h-2zM50 60h2v2h-2zM54 60h2v2h-2zM60 60h2v2h-2zM0 62h2v2h-2zM14 62h6v2h-6zM28 62h2v2h-2zM34 62h2v2h-2zM54 62h2v2h-2z"/>
<path fill="#ff8200" d="M2 0h2v2h-2zM32 0h2v2h-2zM2 2h2v2h-2zM36 2h2v2h-2zM2 4h2v2h-2zM10 4h2v2h-2zM56 4h2v2h-2zM60 4h4v2h-4zM4 6h2v2h-2zM8 6h6v2h-6zM18 6h2v2h-2zM42 6h2v2h-2zM56 6h2v2h-2zM44 8h2v2h-2zM48 8h2v2h-2zM42 10h2v2h-2zM54 10h2v2h-2zM62 10h2v2h-2zM22 12h2v2h-2zM28 12h2v2h-2zM34 12h2v2h-2zM54 12h2v2h-2zM58 12h2v2h-2zM62 12h2v2h-2zM8 14h2v2h-2zM12 14h4v2h-4zM18 14h6v2h-6zM28 14h2v2h-2zM52 14h2v2h-2zM60 14h2v2h-2zM6 16h2v2h-2zM10 16h2v2h-2zM40 16h2v2h-2zM50 16h2v2h-2zM20 18h2v2h-2zM24 18h2v2h-2zM32 18h4v2h-4zM44 18h2v2h-2zM62 18h2v2h-2zM32 20h2v2h-2zM36 20h2v2h-2zM42 20h2v2h-2zM30 22h2v2h-2zM40 22h2v2h-2zM50 22h4v2h-4zM60 22h2v2h-2zM20 24h2v2h-2zM0 26h2v2h-2zM30 26h4v2h-4zM52 26h2v2h-2zM32 28h2v2h-2zM36 28h2v2h-2zM42 28h2v2h-2zM50 28h2v2h-2zM54 28h4v2h-4zM20 30h2v2h-2zM36 30h2v2h-2zM48 30h2v2h-2zM58 30h2v2h-2zM62 30h2v2h-2zM10 32h2v2h-2zM32 32h2v2h-2zM48 32h2v2h-2zM10 34h4v2h-4zM24 34h4v2h-4zM18 36h2v2h-2zM28 36h2v2h-2zM38 36h2v2h-2zM52 36h2v2h-2zM58 36h2v2h-2zM8 38h2v2h-2zM34 38h2v2h-2zM42 38h2v2h-2zM58 40h2v2h-2zM62 40h2v2h-2zM0 42h2v2h-2zM58 42h2v2h-2zM38 44h2v2h-2zM42 44h2v2h-2zM52 44h4v2h-4zM60 44h2v2h-2zM0 46h2v2h-2zM58 46h4v2h-4zM10 48h2v2h-2zM38 48h2v2h-2zM62 48h2v2h-2zM4 50h2v2h-2zM30 50h2v2h-2zM44 50h2v2h-2zM0 52h2v2h-2zM20 52h2v2h-2zM24 52h4v2h-4zM34 52h2v2h-2zM50 52h2v2h-2zM54 52h2v2h-2zM4 54h2v2h-2zM20 54h4v2h-4zM30 54h4v2h-4zM4 56h2v2h-2zM50 56h2v2h-2zM56 56h2v2h-2zM20 58h2v2h-2zM20 60h2v2h-2zM58 60h2v2h-2zM20 62h2v2h-2zM24 62h2v2h-2zM32 62h2v2h-2z"/>
<path fill="#ff0000" d="M0 0h2v2h-2zM30 0h2v2h-2zM36 0h2v2h-2zM52 2h2v2h-2zM40 4h2v2h-2zM30 6h4v2h-4zM40 6h2v2h-2zM20 8h2v2h-2zM30 8h4v2h-4zM44 10h2v2h-2zM56 10h4v2h-4zM4 14h2v2h-2zM4 16h2v2h-2zM56 18h2v2h-2zM6 20h4v2h-4zM60 20h2v2h-2zM6 22h2v2h-2zM18 22h2v2h-2zM18 24h2v2h-2zM40 26h4v2h-4zM52 28h2v2h-2zM58 28h2v2h-2zM34 34h4v2h-4zM54 34h2v2h-2zM14 36h2v2h-2zM34 36h4v2h-4zM54 36h4v2h-4zM36 38h4v2h-4zM52 38h2v2h-2zM2 40h2v2h-2zM8 40h2v2h-2zM10 42h2v2h-2zM10 44h2v2h-2zM42 46h2v2h-2zM2 48h2v2h-2zM16 48h2v2h-2zM26 48h4v2h-4zM40 48h2v2h-2zM14 50h2v2h-2zM52 52h2v2h-2zM0 54h4v2h-4zM24 58h4v2h-4zM34 58h2v2h-2zM50 58h2v2h-2zM22 62h2v2h-2zM30 62h2v2h-2z"/>
<path fill="#ffff00" d="M8 0h6v2h-6zM18 0h2v2h-2zM24 0h4v2h-4zM40 0h4v2h-4zM46 0h8v2h-8zM58 0h4v2h-4zM8 2h2v2h-2zM12 2h6v2h-6zM20 2h8v2h-8zM30 2h2v2h-2zM40 2h10v2h-10zM60 2h4v2h-4zM12 4h6v2h-6zM24 4h6v2h-6zM34 4h2v2h-2zM42 4h6v2h-6zM28 6h2v2h-2zM34 6h2v2h-2zM46 6h2v2h-2zM52 6h4v2h-4zM12 8h4v2h-4zM24 8h2v2h-2zM34 8h4v2h-4zM42 8h2v2h-2zM50 8h4v2h-4zM8 10h12v2h-12zM22 10h18v2h-18zM2 12h2v2h-2zM8 12h2v2h-2zM14 12h2v2h-2zM18 12h2v2h-2zM24 12h4v2h-4zM30 12h4v2h-4zM38 12h4v2h-4zM46 12h6v2h-6zM0 14h4v2h-4zM24 14h4v2h-4zM30 14h4v2h-4zM36 14h4v2h-4zM42 14h2v2h-2zM48 14h4v2h-4zM62 14h2v2h-2zM12 16h6v2h-6zM26 16h6v2h-6zM36 16h4v2h-4zM42 16h2v2h-2zM46 16h4v2h-4zM12 18h4v2h-4zM38 18h2v2h-2zM42 18h2v2h-2zM52 18h2v2h-2zM60 18h2v2h-2zM14 20h2v2h-2zM18 20h6v2h-6zM26 20h4v2h-4zM56 20h2v2h-2zM12 22h4v2h-4zM22 22h2v2h-2zM28 22h2v2h-2zM32 22h2v2h-2zM54 22h2v2h-2zM58 22h2v2h-2zM8 24h2v2h-2zM28 24h2v2h-2zM34 24h2v2h-2zM42 24h4v2h-4zM48 24h6v2h-6zM58 24h4v2h-4zM4 26h2v2h-2zM16 26h6v2h-6zM24 26h6v2h-6zM34 26h6v2h-6zM48 26h4v2h-4zM58 26h4v2h-4zM0 28h12v2h-12zM16 28h10v2h-10zM38 28h2v2h-2zM46 28h2v2h-2zM62 28h2v2h-2zM0 30h2v2h-2zM4 30h4v2h-4zM16 30h4v2h-4zM38 30h6v2h-6zM46 30h2v2h-2zM50 30h4v2h-4zM56 30h2v2h-2zM14 32h6v2h-6zM26 32h4v2h-4zM38 32h6v2h-6zM46 32h2v2h-2zM52 32h2v2h-2zM56 32h4v2h-4zM2 34h2v2h-2zM8 34h2v2h-2zM14 34h6v2h-6zM28 34h4v2h-4zM40 34h2v2h-2zM44 34h4v2h-4zM56 34h4v2h-4zM62 34h2v2h-2zM0 36h6v2h-6zM22 36h4v2h-4zM30 36h2v2h-2zM44 36h4v2h-4zM60 36h4v2h-4zM0 38h2v2h-2zM14 38h2v2h-2zM20 38h6v2h-6zM32 38h2v2h-2zM44 38h2v2h-2zM58 38h2v2h-2zM6 40h2v2h-2zM10 40h2v2h-2zM14 40h2v2h-2zM22 40h2v2h-2zM28 40h8v2h-8zM40 40h2v2h-2zM44 40h2v2h-2zM16 42h2v2h-2zM20 42h4v2h-4zM26 42h2v2h-2zM30 42h4v2h-4zM40 42h2v2h-2zM44 42h8v2h-8zM62 42h2v2h-2zM2 44h2v2h-2zM6 44h4v2h-4zM16 44h2v2h-2zM20 44h4v2h-4zM26 44h8v2h-8zM40 44h2v2h-2zM56 44h2v2h-2zM62 44h2v2h-2zM4 46h4v2h-4zM16 46h2v2h-2zM20 46h6v2h-6zM30 46h12v2h-12zM48 46h2v2h-2zM56 46h2v2h-2zM62 46h2v2h-2zM20 48h2v2h-2zM24 48h2v2h-2zM30 48h4v2h-4zM48 48h2v2h-2zM56 48h4v2h-4zM0 50h4v2h-4zM6 50h4v2h-4zM18 50h2v2h-2zM24 50h2v2h-2zM32 50h2v2h-2zM36 50h2v2h-2zM54 50h6v2h-6zM2 52h2v2h-2zM8 52h2v2h-2zM16 52h4v2h-4zM30 52h4v2h-4zM38 52h2v2h-2zM48 52h2v2h-2zM58 52h4v2h-4zM6 54h4v2h-4zM24 54h4v2h-4zM36 54h8v2h-8zM46 54h4v2h-4zM52 54h4v2h-4zM58 54h4v2h-4zM6 56h4v2h-4zM14 56h6v2h-6zM24 56h4v2h-4zM30 56h2v2h-2zM36 56h2v2h-2zM40 56h8v2h-8zM52 56h2v2h-2zM0 58h2v2h-2zM10 58h2v2h-2zM14 58h6v2h-6zM36 58h2v2h-2zM44 58h2v2h-2zM62 58h2v2h-2zM0 60h2v2h-2zM6 60h8v2h-8zM18 60h2v2h-2zM28 60h2v2h-2zM32 60h2v2h-2zM44 60h2v2h-2zM48 60h2v2h-2zM56 60h2v2h-2zM62 60h2v2h-2zM2 62h12v2h-12zM26 62h2v2h-2zM36 62h4v2h-4zM42 62h12v2h-12zM56 62h6v2h-6z"/>
</pattern>
<pattern id="pv" patternUnits="userSpaceOnUse" width="64" height="64">
<rect width="64" height="64" fill="#c8c8c8"/>
<path fill="#64ff00" d="M20 2h2v2h-2zM22 4h2v2h-2zM20 6h2v2h-2zM24 6h2v2h-2zM60 10h2v2h-2zM42 12h2v2h-2zM52 12h2v2h-2zM10 14h2v2h-2zM20 14h2v2h-2zM44 14h2v2h-2zM4 16h2v2h-2zM44 16h2v2h-2zM10 18h2v2h-2zM58 20h2v2h-2zM36 22h4v2h-4zM14 24h2v2h-2zM24 24h2v2h-2zM44 24h2v2h-2zM42 26h2v2h-2zM42 28h2v2h-2zM48 28h2v2h-2zM12 30h2v2h-2zM18 34h4v2h-4zM42 36h2v2h-2zM60 38h2v2h-2zM28 42h2v2h-2zM60 46h4v2h-4zM12 48h2v2h-2zM26 48h2v2h-2zM30 52h4v2h-4zM18 54h2v2h-2zM40 54h2v2h-2zM40 56h2v2h-2zM38 58h2v2h-2zM54 58h2v2h-2zM2 60h2v2h-2z"/>
<path fill="#ffc864" d="M12 0h2v2h-2zM24 0h2v2h-2zM30 0h2v2h-2zM34 0h6v2h-6zM42 0h4v2h-4zM56 0h4v2h-4zM0 2h4v2h-4zM10 2h2v2h-2zM14 2h4v2h-4zM40 2h2v2h-2zM44 2h6v2h-6zM62 2h2v2h-2zM0 4h10v2h-10zM14 4h4v2h-4zM36 4h2v2h-2zM54 4h6v2h-6zM0 6h4v2h-4zM14 6h6v2h-6zM44 6h4v2h-4zM50 6h10v2h-10zM62 6h2v2h-2zM10 8h2v2h-2zM16 8h4v2h-4zM44 8h4v2h-4zM58 8h2v2h-2zM62 8h2v2h-2zM8 10h2v2h-2zM12 10h12v2h-12zM32 10h6v2h-6zM40 10h2v2h-2zM54 10h4v2h-4zM6 12h2v2h-2zM14 12h4v2h-4zM20 12h4v2h-4zM40 12h2v2h-2zM46 12h4v2h-4zM62 12h2v2h-2zM4 14h4v2h-4zM12 14h2v2h-2zM22 14h4v2h-4zM30 14h2v2h-2zM60 14h2v2h-2zM0 16h2v2h-2zM28 16h4v2h-4zM36 16h2v2h-2zM56 16h8v2h-8zM8 18h2v2h-2zM12 18h8v2h-8zM22 18h2v2h-2zM26 18h6v2h-6zM34 18h4v2h-4zM54 18h2v2h-2zM60 18h4v2h-4zM12 20h8v2h-8zM22 20h2v2h-2zM28 20h2v2h-2zM42 20h6v2h-6zM52 20h2v2h-2zM60 20h2v2h-2zM2 22h4v2h-4zM18 22h2v2h-2zM26 22h4v2h-4zM46 22h6v2h-6zM60 22h2v2h-2zM22 24h2v2h-2zM34 24h2v2h-2zM48 24h4v2h-4zM56 24h2v2h-2zM60 24h4v2h-4zM20 26h4v2h-4zM32 26h2v2h-2zM44 26h2v2h-2zM50 26h2v2h-2zM54 26h8v2h-8zM4 28h4v2h-4zM18 28h6v2h-6zM36 28h2v2h-2zM44 28h2v2h-2zM50 28h6v2h-6zM58 28h6v2h-6zM2 30h4v2h-4zM18 30h10v2h-10zM32 30h6v2h-6zM54 30h2v2h-2zM2 32h2v2h-2zM6 32h2v2h-2zM10 32h2v2h-2zM16 32h4v2h-4zM26 32h4v2h-4zM40 32h2v2h-2zM44 32h4v2h-4zM2 34h12v2h-12zM22 34h2v2h-2zM34 34h6v2h-6zM46 34h2v2h-2zM52 34h2v2h-2zM56 34h2v2h-2zM0 36h6v2h-6zM8 36h2v2h-2zM12 36h2v2h-2zM22 36h6v2h-6zM34 36h4v2h-4zM46 36h10v2h-10zM0 38h6v2h-6zM10 38h4v2h-4zM22 38h6v2h-6zM30 38h6v2h-6zM40 38h10v2h-10zM56 38h4v2h-4zM0 40h8v2h-8zM10 40h4v2h-4zM22 40h2v2h-2zM26 40h2v2h-2zM32 40h2v2h-2zM44 40h8v2h-8zM58 40h2v2h-2zM2 42h4v2h-4zM10 42h4v2h-4zM16 42h8v2h-8zM44 42h8v2h-8zM4 44h2v2h-2zM12 44h4v2h-4zM20 44h2v2h-2zM30 44h4v2h-4zM40 44h6v2h-6zM48 44h10v2h-10zM4 46h4v2h-4zM12 46h2v2h-2zM24 46h2v2h-2zM30 46h2v2h-2zM40 46h4v2h-4zM46 46h6v2h-6zM54 46h4v2h-4zM0 48h2v2h-2zM4 48h4v2h-4zM10 48h2v2h-2zM22 48h2v2h-2zM42 48h2v2h-2zM46 48h6v2h-6zM58 48h2v2h-2zM62 48h2v2h-2zM0 50h2v2h-2zM4 50h12v2h-12zM20 50h2v2h-2zM30 50h2v2h-2zM34 50h4v2h-4zM50 50h2v2h-2zM54 50h2v2h-2zM60 50h4v2h-4zM4 52h6v2h-6zM12 52h2v2h-2zM36 52h2v2h-2zM42 52h6v2h-6zM50 52h2v2h-2zM54 52h4v2h-4zM60 52h4v2h-4zM4 54h4v2h-4zM20 54h4v2h-4zM26 54h2v2h-2zM32 54h6v2h-6zM44 54h6v2h-6zM54 54h4v2h-4zM60 54h4v2h-4zM2 56h2v2h-2zM26 56h6v2h-6zM34 56h4v2h-4zM48 56h2v2h-2zM2 58h8v2h-8zM20 58h2v2h-2zM26 58h2v2h-2zM30 58h2v2h-2zM42 58h6v2h-6zM6 60h6v2h-6zM28 60h4v2h-4zM36 60h2v2h-2zM42 60h4v2h-4zM48 60h4v2h-4zM10 62h2v2h-2zM30 62h4v2h-4zM36 62h4v2h-4zM42 62h4v2h-4zM48 62h4v2h-4zM60 62h2v2h-2z"/>
<path fill="#323232" d="M60 2h2v2h-2zM6 6h2v2h-2zM22 6h2v2h-2zM6 8h2v2h-2zM44 12h2v2h-2zM58 12h2v2h-2zM52 14h4v2h-4zM46 16h8v2h-8zM12 24h2v2h-2zM40 24h4v2h-4zM8 26h2v2h-2zM24 26h2v2h-2zM24 28h2v2h-2zM46 28h2v2h-2zM8 30h4v2h-4zM56 30h2v2h-2zM60 30h4v2h-4zM60 32h4v2h-4zM28 34h2v2h-2zM28 36h2v2h-2zM62 36h2v2h-2zM20 38h2v2h-2zM28 46h2v2h-2zM34 46h2v2h-2zM18 48h2v2h-2zM12 56h2v2h-2zM18 56h2v2h-2z"/>
<path fill="#ff8200" d="M4 0h2v2h-2zM8 0h2v2h-2zM60 0h2v2h-2zM18 2h2v2h-2zM34 2h2v2h-2zM12 4h2v2h-2zM18 4h2v2h-2zM24 4h2v2h-2zM32 4h2v2h-2zM38 4h2v2h-2zM44 4h2v2h-2zM60 4h2v2h-2zM4 6h2v2h-2zM12 6h2v2h-2zM34 6h2v2h-2zM8 8h2v2h-2zM34 8h4v2h-4zM6 10h2v2h-2zM38 10h2v2h-2zM50 10h2v2h-2zM58 10h2v2h-2zM0 14h2v2h-2zM26 14h2v2h-2zM42 14h2v2h-2zM46 14h2v2h-2zM56 14h2v2h-2zM24 16h4v2h-4zM32 16h2v2h-2zM38 16h2v2h-2zM4 18h2v2h-2zM38 18h2v2h-2zM44 18h2v2h-2zM48 18h2v2h-2zM56 18h2v2h-2zM10 20h2v2h-2zM62 20h2v2h-2zM12 22h2v2h-2zM16 22h2v2h-2zM42 22h2v2h-2zM52 22h2v2h-2zM56 22h2v2h-2zM30 24h2v2h-2zM46 24h2v2h-2zM52 24h4v2h-4zM6 26h2v2h-2zM14 26h2v2h-2zM0 30h2v2h-2zM6 30h2v2h-2zM4 32h2v2h-2zM12 32h2v2h-2zM36 32h2v2h-2zM14 34h2v2h-2zM24 34h2v2h-2zM44 34h2v2h-2zM62 34h2v2h-2zM16 36h2v2h-2zM30 36h2v2h-2zM44 36h2v2h-2zM16 38h2v2h-2zM28 38h2v2h-2zM52 38h4v2h-4zM8 40h2v2h-2zM52 40h2v2h-2zM26 42h2v2h-2zM56 42h2v2h-2zM24 44h6v2h-6zM2 46h2v2h-2zM8 46h2v2h-2zM14 46h2v2h-2zM18 46h2v2h-2zM26 46h2v2h-2zM14 48h2v2h-2zM24 48h2v2h-2zM28 48h2v2h-2zM24 50h4v2h-4zM56 50h2v2h-2zM0 52h2v2h-2zM22 52h2v2h-2zM38 52h2v2h-2zM0 54h2v2h-2zM42 54h2v2h-2zM14 56h4v2h-4zM42 56h2v2h-2zM14 58h2v2h-2zM18 58h2v2h-2zM32 58h2v2h-2zM36 58h2v2h-2zM56 58h2v2h-2zM62 58h2v2h-2zM14 60h4v2h-4zM24 60h4v2h-4zM32 60h2v2h-2zM4 62h2v2h-2zM12 62h4v2h-4zM28 62h2v2h-2zM46 62h2v2h-2z"/>
<path fill="#ff0000" d="M32 2h2v2h-2zM30 6h2v2h-2zM26 8h4v2h-4zM52 10h2v2h-2zM62 10h2v2h-2zM0 12h2v2h-2zM54 12h2v2h-2zM38 14h2v2h-2zM50 14h2v2h-2zM10 16h2v2h-2zM20 16h2v2h-2zM46 18h2v2h-2zM0 20h2v2h-2zM8 20h2v2h-2zM56 20h2v2h-2zM10 22h2v2h-2zM14 22h2v2h-2zM36 24h2v2h-2zM14 32h2v2h-2zM20 32h2v2h-2zM56 32h4v2h-4zM30 34h2v2h-2zM42 34h2v2h-2zM18 36h4v2h-4zM18 38h2v2h-2zM36 38h2v2h-2zM54 40h4v2h-4zM16 46h2v2h-2zM44 48h2v2h-2zM2 52h2v2h-2zM34 52h2v2h-2zM2 54h2v2h-2zM12 54h2v2h-2zM0 56h2v2h-2zM62 56h2v2h-2zM12 58h2v2h-2zM22 58h2v2h-2zM34 58h2v2h-2zM4 60h2v2h-2zM18 60h2v2h-2zM34 60h2v2h-2zM6 62h2v2h-2zM26 62h2v2h-2z"/>
<path fill="#ffff00" d="M6 0h2v2h-2zM22 0h2v2h-2zM32 0h2v2h-2zM46 0h4v2h-4zM6 2h4v2h-4zM12 2h2v2h-2zM30 2h2v2h-2zM36 2h4v2h-4zM56 2h4v2h-4zM10 4h2v2h-2zM20 4h2v2h-2zM26 4h6v2h-6zM34 4h2v2h-2zM40 4h4v2h-4zM62 4h2v2h-2zM8 6h4v2h-4zM26 6h4v2h-4zM32 6h2v2h-2zM36 6h8v2h-8zM60 6h2v2h-2zM0 8h2v2h-2zM12 8h4v2h-4zM20 8h6v2h-6zM30 8h4v2h-4zM38 8h4v2h-4zM52 8h6v2h-6zM60 8h2v2h-2zM10 10h2v2h-2zM24 10h6v2h-6zM44 10h4v2h-4zM4 12h2v2h-2zM24 12h10v2h-10zM50 12h2v2h-2zM60 12h2v2h-2zM14 14h6v2h-6zM28 14h2v2h-2zM32 14h2v2h-2zM40 14h2v2h-2zM48 14h2v2h-2zM58 14h2v2h-2zM62 14h2v2h-2zM6 16h2v2h-2zM12 16h8v2h-8zM22 16h2v2h-2zM40 16h2v2h-2zM54 16h2v2h-2zM2 18h2v2h-2zM24 18h2v2h-2zM40 18h2v2h-2zM58 18h2v2h-2zM2 20h4v2h-4zM24 20h4v2h-4zM38 20h4v2h-4zM8 22h2v2h-2zM22 22h4v2h-4zM30 22h2v2h-2zM34 22h2v2h-2zM40 22h2v2h-2zM44 22h2v2h-2zM58 22h2v2h-2zM62 22h2v2h-2zM8 24h4v2h-4zM16 24h6v2h-6zM26 24h4v2h-4zM32 24h2v2h-2zM38 24h2v2h-2zM58 24h2v2h-2zM26 26h6v2h-6zM34 26h4v2h-4zM46 26h4v2h-4zM12 28h4v2h-4zM32 28h4v2h-4zM56 28h2v2h-2zM42 30h2v2h-2zM52 30h2v2h-2zM0 32h2v2h-2zM8 32h2v2h-2zM22 32h4v2h-4zM30 32h2v2h-2zM42 32h2v2h-2zM50 32h6v2h-6zM0 34h2v2h-2zM16 34h2v2h-2zM26 34h2v2h-2zM40 34h2v2h-2zM48 34h4v2h-4zM54 34h2v2h-2zM10 36h2v2h-2zM14 36h2v2h-2zM32 36h2v2h-2zM38 36h4v2h-4zM60 36h2v2h-2zM8 38h2v2h-2zM14 38h2v2h-2zM38 38h2v2h-2zM14 40h8v2h-8zM24 40h2v2h-2zM28 40h4v2h-4zM38 40h2v2h-2zM60 40h2v2h-2zM14 42h2v2h-2zM24 42h2v2h-2zM52 42h4v2h-4zM2 44h2v2h-2zM18 44h2v2h-2zM22 44h2v2h-2zM34 44h2v2h-2zM10 46h2v2h-2zM20 46h4v2h-4zM32 46h2v2h-2zM38 46h2v2h-2zM44 46h2v2h-2zM52 46h2v2h-2zM58 46h2v2h-2zM2 48h2v2h-2zM8 48h2v2h-2zM16 48h2v2h-2zM20 48h2v2h-2zM30 48h6v2h-6zM52 48h2v2h-2zM60 48h2v2h-2zM2 50h2v2h-2zM16 50h4v2h-4zM32 50h2v2h-2zM42 50h8v2h-8zM14 52h2v2h-2zM18 52h4v2h-4zM24 52h4v2h-4zM40 52h2v2h-2zM8 54h2v2h-2zM14 54h4v2h-4zM24 54h2v2h-2zM38 54h2v2h-2zM8 56h2v2h-2zM24 56h2v2h-2zM32 56h2v2h-2zM38 56h2v2h-2zM44 56h4v2h-4zM54 56h2v2h-2zM0 58h2v2h-2zM10 58h2v2h-2zM16 58h2v2h-2zM24 58h2v2h-2zM28 58h2v2h-2zM40 58h2v2h-2zM48 58h4v2h-4zM58 58h2v2h-2zM0 60h2v2h-2zM12 60h2v2h-2zM20 60h4v2h-4zM38 60h4v2h-4zM46 60h2v2h-2zM52 60h6v2h-6zM8 62h2v2h-2zM22 62h4v2h-4zM34 62h2v2h-2zM40 62h2v2h-2z"/>
</pattern>
<pattern id="pw" patternUnits="userSpaceOnUse" width="64" height="64">
<rect width="64" height="64" fill="#c8c8c8"/>
<path fill="#323232" d="M8 2h2v2h-2zM34 2h2v2h-2zM24 4h2v2h-2zM40 4h4v2h-4zM24 6h6v2h-6zM26 8h2v2h-2zM2 16h2v2h-2zM36 16h2v2h-2zM50 16h2v2h-2zM34 22h2v2h-2zM32 24h2v2h-2zM40 24h2v2h-2zM40 26h4v2h-4zM18 28h2v2h-2zM42 28h4v2h-4zM48 30h2v2h-2zM0 36h4v2h-4zM10 36h2v2h-2zM40 38h2v2h-2zM36 40h2v2h-2zM20 44h2v2h-2zM20 46h2v2h-2zM14 48h2v2h-2zM60 52h2v2h-2zM32 56h2v2h-2zM32 58h2v2h-2zM56 62h2v2h-2z"/>
<path fill="#960000" d="M6 0h2v2h-2zM10 0h2v2h-2zM34 0h4v2h-4zM2 2h2v2h-2zM10 2h2v2h-2zM14 2h4v2h-4zM22 2h4v2h-4zM48 2h2v2h-2zM10 4h2v2h-2zM56 4h4v2h-4zM0 6h2v2h-2zM16 6h2v2h-2zM32 6h4v2h-4zM16 8h2v2h-2zM22 8h2v2h-2zM56 8h2v2h-2zM6 10h2v2h-2zM44 10h2v2h-2zM58 10h2v2h-2zM22 12h2v2h-2zM50 12h2v2h-2zM60 12h2v2h-2zM12 14h2v2h-2zM32 14h2v2h-2zM56 14h2v2h-2zM18 16h2v2h-2zM44 16h2v2h-2zM48 16h2v2h-2zM8 18h2v2h-2zM24 18h2v2h-2zM32 18h2v2h-2zM62 18h2v2h-2zM0 20h2v2h-2zM8 20h2v2h-2zM20 20h2v2h-2zM24 20h2v2h-2zM38 20h2v2h-2zM46 20h2v2h-2zM62 20h2v2h-2zM30 22h2v2h-2zM40 22h2v2h-2zM46 22h2v2h-2zM54 22h4v2h-4zM10 24h2v2h-2zM20 24h2v2h-2zM50 24h2v2h-2zM58 24h2v2h-2zM6 26h2v2h-2zM18 26h4v2h-4zM26 26h2v2h-2zM14 28h2v2h-2zM24 28h2v2h-2zM62 28h2v2h-2zM30 30h2v2h-2zM10 32h4v2h-4zM24 32h2v2h-2zM32 32h2v2h-2zM38 32h2v2h-2zM42 32h2v2h-2zM46 32h2v2h-2zM50 32h2v2h-2zM6 34h2v2h-2zM16 34h2v2h-2zM24 34h2v2h-2zM38 34h2v2h-2zM54 34h2v2h-2zM14 36h2v2h-2zM42 36h2v2h-2zM58 36h2v2h-2zM6 38h2v2h-2zM34 38h2v2h-2zM52 38h4v2h-4zM58 38h2v2h-2zM0 40h2v2h-2zM12 40h2v2h-2zM18 40h2v2h-2zM44 40h4v2h-4zM50 40h4v2h-4zM8 42h2v2h-2zM14 42h2v2h-2zM18 42h4v2h-4zM36 42h2v2h-2zM44 42h2v2h-2zM4 44h2v2h-2zM10 44h2v2h-2zM14 44h2v2h-2zM54 44h2v2h-2zM0 46h4v2h-4zM6 46h2v2h-2zM22 46h6v2h-6zM36 46h2v2h-2zM48 46h2v2h-2zM4 48h2v2h-2zM24 48h2v2h-2zM28 48h4v2h-4zM34 48h2v2h-2zM46 48h2v2h-2zM50 48h6v2h-6zM16 50h2v2h-2zM28 50h2v2h-2zM2 52h4v2h-4zM14 52h2v2h-2zM18 52h2v2h-2zM48 52h2v2h-2zM56 52h2v2h-2zM4 54h2v2h-2zM14 54h2v2h-2zM22 54h2v2h-2zM40 54h2v2h-2zM52 54h2v2h-2zM4 56h4v2h-4zM16 56h2v2h-2zM36 56h2v2h-2zM40 56h2v2h-2zM60 56h2v2h-2zM8 58h2v2h-2zM16 58h4v2h-4zM30 58h2v2h-2zM38 58h2v2h-2zM44 58h2v2h-2zM60 58h2v2h-2zM0 60h2v2h-2zM6 60h2v2h-2zM14 60h2v2h-2zM36 60h2v2h-2zM40 60h2v2h-2zM44 60h2v2h-2zM6 62h2v2h-2zM30 62h2v2h-2z"/>
<path fill="#ffc864" d="M8 0h2v2h-2zM18 0h2v2h-2zM22 0h2v2h-2zM52 0h2v2h-2zM56 0h2v2h-2zM4 2h2v2h-2zM18 2h2v2h-2zM32 2h2v2h-2zM40 2h4v2h-4zM46 2h2v2h-2zM52 2h2v2h-2zM2 4h2v2h-2zM16 4h4v2h-4zM38 4h2v2h-2zM50 4h2v2h-2zM22 6h2v2h-2zM30 6h2v2h-2zM40 6h2v2h-2zM54 6h4v2h-4zM60 6h2v2h-2zM8 8h2v2h-2zM42 8h2v2h-2zM48 8h2v2h-2zM48 10h2v2h-2zM4 12h4v2h-4zM26 12h2v2h-2zM52 12h2v2h-2zM28 14h2v2h-2zM48 14h2v2h-2zM52 14h2v2h-2zM8 16h2v2h-2zM12 16h2v2h-2zM52 16h2v2h-2zM2 18h2v2h-2zM10 18h2v2h-2zM18 18h2v2h-2zM34 18h2v2h-2zM38 18h2v2h-2zM42 18h4v2h-4zM50 18h2v2h-2zM6 20h2v2h-2zM14 20h4v2h-4zM58 20h2v2h-2zM8 22h2v2h-2zM32 22h2v2h-2zM36 22h2v2h-2zM50 22h2v2h-2zM62 22h2v2h-2zM4 24h2v2h-2zM16 24h2v2h-2zM42 24h6v2h-6zM4 26h2v2h-2zM14 26h4v2h-4zM28 26h4v2h-4zM38 26h2v2h-2zM62 26h2v2h-2zM0 28h2v2h-2zM4 28h2v2h-2zM16 28h2v2h-2zM26 28h2v2h-2zM46 28h4v2h-4zM4 30h2v2h-2zM18 30h6v2h-6zM28 30h2v2h-2zM42 30h2v2h-2zM46 30h2v2h-2zM52 30h2v2h-2zM58 30h2v2h-2zM2 32h2v2h-2zM18 32h6v2h-6zM26 32h2v2h-2zM52 32h8v2h-8zM0 34h2v2h-2zM4 34h2v2h-2zM10 34h2v2h-2zM20 34h2v2h-2zM4 36h2v2h-2zM16 36h2v2h-2zM34 36h2v2h-2zM12 38h2v2h-2zM38 38h2v2h-2zM46 38h2v2h-2zM56 38h2v2h-2zM24 40h2v2h-2zM38 40h2v2h-2zM58 40h2v2h-2zM2 42h4v2h-4zM34 42h2v2h-2zM40 42h2v2h-2zM50 42h2v2h-2zM58 42h4v2h-4zM28 44h2v2h-2zM34 44h2v2h-2zM60 44h2v2h-2zM4 46h2v2h-2zM10 46h2v2h-2zM16 46h2v2h-2zM30 46h6v2h-6zM40 46h2v2h-2zM44 46h4v2h-4zM54 46h4v2h-4zM16 48h2v2h-2zM20 48h2v2h-2zM36 48h2v2h-2zM62 48h2v2h-2zM14 50h2v2h-2zM24 50h2v2h-2zM30 50h2v2h-2zM38 50h2v2h-2zM44 50h2v2h-2zM8 52h6v2h-6zM0 54h2v2h-2zM30 54h2v2h-2zM10 56h2v2h-2zM18 56h2v2h-2zM30 56h2v2h-2zM34 56h2v2h-2zM46 56h2v2h-2zM4 58h2v2h-2zM10 58h2v2h-2zM56 58h2v2h-2zM8 60h4v2h-4zM32 60h4v2h-4zM50 60h2v2h-2zM2 62h2v2h-2zM16 62h4v2h-4zM26 62h2v2h-2zM34 62h2v2h-2zM38 62h2v2h-2z"/>
<path fill="#ff8200" d="M16 0h2v2h-2zM40 0h4v2h-4zM48 0h2v2h-2zM54 0h2v2h-2zM6 2h2v2h-2zM26 2h2v2h-2zM30 2h2v2h-2zM44 2h2v2h-2zM50 2h2v2h-2zM54 2h2v2h-2zM58 2h2v2h-2zM12 4h2v2h-2zM22 4h2v2h-2zM26 4h2v2h-2zM48 4h2v2h-2zM52 4h2v2h-2zM60 4h2v2h-2zM38 6h2v2h-2zM50 6h2v2h-2zM58 6h2v2h-2zM2 8h6v2h-6zM24 8h2v2h-2zM30 8h4v2h-4zM46 8h2v2h-2zM50 8h2v2h-2zM54 8h2v2h-2zM60 8h2v2h-2zM2 10h4v2h-4zM16 10h2v2h-2zM22 10h2v2h-2zM28 10h2v2h-2zM38 10h4v2h-4zM46 10h2v2h-2zM50 10h2v2h-2zM16 12h4v2h-4zM24 12h2v2h-2zM38 12h2v2h-2zM58 12h2v2h-2zM0 14h2v2h-2zM14 14h4v2h-4zM20 14h2v2h-2zM26 14h2v2h-2zM34 14h2v2h-2zM40 14h2v2h-2zM58 14h2v2h-2zM14 16h2v2h-2zM20 16h2v2h-2zM30 16h4v2h-4zM6 18h2v2h-2zM48 18h2v2h-2zM32 20h2v2h-2zM40 20h4v2h-4zM50 20h4v2h-4zM60 20h2v2h-2zM0 22h2v2h-2zM6 22h2v2h-2zM14 22h6v2h-6zM24 22h2v2h-2zM42 22h2v2h-2zM58 22h2v2h-2zM2 24h2v2h-2zM22 24h6v2h-6zM30 24h2v2h-2zM36 24h2v2h-2zM48 24h2v2h-2zM62 24h2v2h-2zM2 26h2v2h-2zM36 26h2v2h-2zM46 26h2v2h-2zM52 26h2v2h-2zM60 26h2v2h-2zM2 28h2v2h-2zM20 28h2v2h-2zM38 28h2v2h-2zM58 28h4v2h-4zM0 30h4v2h-4zM24 30h4v2h-4zM38 30h4v2h-4zM44 30h2v2h-2zM54 30h2v2h-2zM60 30h4v2h-4zM4 32h2v2h-2zM12 34h2v2h-2zM22 34h2v2h-2zM30 34h2v2h-2zM40 34h2v2h-2zM46 34h2v2h-2zM56 34h2v2h-2zM8 36h2v2h-2zM12 36h2v2h-2zM24 36h4v2h-4zM46 36h4v2h-4zM62 36h2v2h-2zM4 38h2v2h-2zM8 38h2v2h-2zM16 38h6v2h-6zM24 38h2v2h-2zM28 38h2v2h-2zM48 38h4v2h-4zM22 40h2v2h-2zM26 40h2v2h-2zM30 40h2v2h-2zM34 40h2v2h-2zM56 40h2v2h-2zM60 40h2v2h-2zM0 42h2v2h-2zM6 42h2v2h-2zM22 42h2v2h-2zM26 42h4v2h-4zM42 42h2v2h-2zM52 42h2v2h-2zM56 42h2v2h-2zM2 44h2v2h-2zM6 44h4v2h-4zM16 44h2v2h-2zM30 44h2v2h-2zM42 44h4v2h-4zM48 44h6v2h-6zM8 46h2v2h-2zM14 46h2v2h-2zM28 46h2v2h-2zM38 46h2v2h-2zM42 46h2v2h-2zM52 46h2v2h-2zM58 46h2v2h-2zM0 48h4v2h-4zM8 48h4v2h-4zM26 48h2v2h-2zM38 48h2v2h-2zM44 48h2v2h-2zM56 48h4v2h-4zM2 50h4v2h-4zM8 50h2v2h-2zM26 50h2v2h-2zM36 50h2v2h-2zM40 50h4v2h-4zM58 50h4v2h-4zM22 52h2v2h-2zM44 52h2v2h-2zM6 54h2v2h-2zM18 54h4v2h-4zM24 54h4v2h-4zM46 54h4v2h-4zM56 54h4v2h-4zM0 56h2v2h-2zM8 56h2v2h-2zM26 56h2v2h-2zM38 56h2v2h-2zM42 56h2v2h-2zM58 56h2v2h-2zM62 56h2v2h-2zM6 58h2v2h-2zM40 58h2v2h-2zM16 60h2v2h-2zM24 60h6v2h-6zM38 60h2v2h-2zM52 60h2v2h-2zM56 60h2v2h-2zM8 62h4v2h-4zM28 62h2v2h-2zM36 62h2v2h-2zM40 62h4v2h-4zM52 62h2v2h-2zM60 62h2v2h-2z"/>
<path fill="#ff0000" d="M0 0h2v2h-2zM12 0h4v2h-4zM24 0h2v2h-2zM28 0h6v2h-6zM38 0h2v2h-2zM50 0h2v2h-2zM62 0h2v2h-2zM0 2h2v2h-2zM12 2h2v2h-2zM36 2h4v2h-4zM56 2h2v2h-2zM60 2h4v2h-4zM0 4h2v2h-2zM4 4h6v2h-6zM14 4h2v2h-2zM20 4h2v2h-2zM34 4h4v2h-4zM44 4h4v2h-4zM54 4h2v2h-2zM2 6h8v2h-8zM12 6h4v2h-4zM18 6h4v2h-4zM44 6h4v2h-4zM62 6h2v2h-2zM14 8h2v2h-2zM18 8h4v2h-4zM38 8h4v2h-4zM44 8h2v2h-2zM58 8h2v2h-2zM62 8h2v2h-2zM12 10h4v2h-4zM18 10h4v2h-4zM30 10h2v2h-2zM42 10h2v2h-2zM52 10h6v2h-6zM2 12h2v2h-2zM10 12h4v2h-4zM20 12h2v2h-2zM28 12h2v2h-2zM42 12h8v2h-8zM54 12h4v2h-4zM62 12h2v2h-2zM18 14h2v2h-2zM22 14h4v2h-4zM42 14h6v2h-6zM54 14h2v2h-2zM6 16h2v2h-2zM10 16h2v2h-2zM16 16h2v2h-2zM22 16h8v2h-8zM40 16h4v2h-4zM46 16h2v2h-2zM54 16h8v2h-8zM16 18h2v2h-2zM20 18h2v2h-2zM26 18h6v2h-6zM40 18h2v2h-2zM46 18h2v2h-2zM54 18h8v2h-8zM2 20h2v2h-2zM10 20h4v2h-4zM26 20h6v2h-6zM44 20h2v2h-2zM54 20h4v2h-4zM2 22h4v2h-4zM10 22h4v2h-4zM20 22h4v2h-4zM28 22h2v2h-2zM38 22h2v2h-2zM44 22h2v2h-2zM52 22h2v2h-2zM6 24h4v2h-4zM12 24h2v2h-2zM18 24h2v2h-2zM28 24h2v2h-2zM38 24h2v2h-2zM52 24h6v2h-6zM60 24h2v2h-2zM12 26h2v2h-2zM22 26h4v2h-4zM48 26h4v2h-4zM54 26h6v2h-6zM12 28h2v2h-2zM22 28h2v2h-2zM36 28h2v2h-2zM54 28h4v2h-4zM10 30h8v2h-8zM36 30h2v2h-2zM56 30h2v2h-2zM0 32h2v2h-2zM6 32h4v2h-4zM14 32h4v2h-4zM28 32h4v2h-4zM34 32h4v2h-4zM40 32h2v2h-2zM44 32h2v2h-2zM48 32h2v2h-2zM60 32h4v2h-4zM8 34h2v2h-2zM14 34h2v2h-2zM26 34h4v2h-4zM32 34h6v2h-6zM42 34h4v2h-4zM48 34h6v2h-6zM58 34h6v2h-6zM6 36h2v2h-2zM22 36h2v2h-2zM36 36h4v2h-4zM44 36h2v2h-2zM50 36h6v2h-6zM60 36h2v2h-2zM2 38h2v2h-2zM14 38h2v2h-2zM26 38h2v2h-2zM30 38h4v2h-4zM36 38h2v2h-2zM44 38h2v2h-2zM60 38h4v2h-4zM2 40h2v2h-2zM8 40h4v2h-4zM14 40h2v2h-2zM20 40h2v2h-2zM32 40h2v2h-2zM48 40h2v2h-2zM54 40h2v2h-2zM10 42h4v2h-4zM16 42h2v2h-2zM24 42h2v2h-2zM30 42h4v2h-4zM38 42h2v2h-2zM46 42h2v2h-2zM54 42h2v2h-2zM0 44h2v2h-2zM12 44h2v2h-2zM24 44h4v2h-4zM36 44h2v2h-2zM46 44h2v2h-2zM56 44h4v2h-4zM62 44h2v2h-2zM12 46h2v2h-2zM50 46h2v2h-2zM60 46h4v2h-4zM6 48h2v2h-2zM18 48h2v2h-2zM22 48h2v2h-2zM32 48h2v2h-2zM40 48h4v2h-4zM60 48h2v2h-2zM0 50h2v2h-2zM6 50h2v2h-2zM22 50h2v2h-2zM54 50h4v2h-4zM6 52h2v2h-2zM16 52h2v2h-2zM28 52h4v2h-4zM36 52h2v2h-2zM40 52h4v2h-4zM54 52h2v2h-2zM2 54h2v2h-2zM16 54h2v2h-2zM34 54h2v2h-2zM42 54h4v2h-4zM50 54h2v2h-2zM54 54h2v2h-2zM2 56h2v2h-2zM12 56h4v2h-4zM22 56h4v2h-4zM44 56h2v2h-2zM50 56h6v2h-6zM0 58h4v2h-4zM12 58h4v2h-4zM24 58h6v2h-6zM34 58h4v2h-4zM42 58h2v2h-2zM46 58h10v2h-10zM62 58h2v2h-2zM2 60h4v2h-4zM12 60h2v2h-2zM30 60h2v2h-2zM42 60h2v2h-2zM46 60h4v2h-4zM54 60h2v2h-2zM58 60h6v2h-6zM0 62h2v2h-2zM12 62h4v2h-4zM22 62h4v2h-4zM32 62h2v2h-2zM50 62h2v2h-2zM54 62h2v2h-2zM62 62h2v2h-2z"/>
<path fill="#ffff00" d="M4 0h2v2h-2zM26 0h2v2h-2zM58 0h2v2h-2zM20 2h2v2h-2zM62 4h2v2h-2zM42 6h2v2h-2zM52 6h2v2h-2zM28 8h2v2h-2zM52 8h2v2h-2zM26 10h2v2h-2zM40 12h2v2h-2zM2 14h6v2h-6zM10 14h2v2h-2zM30 14h2v2h-2zM50 14h2v2h-2zM60 14h2v2h-2zM0 16h2v2h-2zM4 16h2v2h-2zM34 16h2v2h-2zM0 18h2v2h-2zM12 18h4v2h-4zM36 18h2v2h-2zM52 18h2v2h-2zM18 20h2v2h-2zM34 20h2v2h-2zM48 20h2v2h-2zM26 22h2v2h-2zM48 22h2v2h-2zM60 22h2v2h-2zM0 24h2v2h-2zM14 24h2v2h-2zM34 24h2v2h-2zM0 26h2v2h-2zM32 26h4v2h-4zM44 26h2v2h-2zM28 28h4v2h-4zM40 28h2v2h-2zM50 28h4v2h-4zM50 30h2v2h-2zM2 34h2v2h-2zM18 34h2v2h-2zM40 36h2v2h-2zM56 36h2v2h-2zM0 38h2v2h-2zM10 38h2v2h-2zM22 38h2v2h-2zM42 38h2v2h-2zM4 40h4v2h-4zM28 40h2v2h-2zM40 40h4v2h-4zM18 44h2v2h-2zM22 44h2v2h-2zM18 46h2v2h-2zM12 48h2v2h-2zM10 50h2v2h-2zM20 52h2v2h-2zM24 52h2v2h-2zM58 52h2v2h-2zM8 54h6v2h-6zM32 54h2v2h-2zM38 54h2v2h-2zM60 54h2v2h-2zM48 56h2v2h-2zM56 56h2v2h-2zM58 58h2v2h-2zM44 62h2v2h-2z"/>
</pattern>
<pattern id="px" patternUnits="userSpaceOnUse" width="64" height="64">
<rect width="64" height="64" fill="#c8c8c8"/>
<path fill="#64ff00" d="M10 0h2v2h-2zM14 0h2v2h-2zM28 0h4v2h-4zM36 0h2v2h-2zM2 2h2v2h-2zM8 2h2v2h-2zM54 2h2v2h-2zM14 4h4v2h-4zM24 4h2v2h-2zM28 4h2v2h-2zM38 4h2v2h-2zM44 4h2v2h-2zM52 4h4v2h-4zM0 6h2v2h-2zM10 6h2v2h-2zM20 6h2v2h-2zM62 6h2v2h-2zM12 8h4v2h-4zM26 8h2v2h-2zM34 8h4v2h-4zM46 8h2v2h-2zM62 8h2v2h-2zM2 10h4v2h-4zM10 10h2v2h-2zM28 10h2v2h-2zM34 10h2v2h-2zM10 12h6v2h-6zM30 12h2v2h-2zM46 12h2v2h-2zM52 12h2v2h-2zM56 12h2v2h-2zM12 14h2v2h-2zM16 14h2v2h-2zM20 14h2v2h-2zM26 14h2v2h-2zM30 14h2v2h-2zM46 14h2v2h-2zM58 14h6v2h-6zM0 16h2v2h-2zM4 16h2v2h-2zM16 16h2v2h-2zM24 16h2v2h-2zM38 16h2v2h-2zM44 16h2v2h-2zM12 18h10v2h-10zM24 18h2v2h-2zM34 18h2v2h-2zM40 18h2v2h-2zM48 18h4v2h-4zM10 20h2v2h-2zM14 20h2v2h-2zM36 20h2v2h-2zM44 20h2v2h-2zM56 20h2v2h-2zM10 22h2v2h-2zM24 22h6v2h-6zM38 22h2v2h-2zM42 22h2v2h-2zM28 24h6v2h-6zM46 24h2v2h-2zM52 24h2v2h-2zM58 24h2v2h-2zM62 24h2v2h-2zM0 26h2v2h-2zM28 26h2v2h-2zM32 26h6v2h-6zM52 26h2v2h-2zM12 28h2v2h-2zM24 28h2v2h-2zM30 28h2v2h-2zM42 28h2v2h-2zM58 28h2v2h-2zM62 28h2v2h-2zM2 30h2v2h-2zM12 30h2v2h-2zM30 30h2v2h-2zM38 30h2v2h-2zM42 30h2v2h-2zM54 30h2v2h-2zM18 32h2v2h-2zM24 32h2v2h-2zM28 32h4v2h-4zM42 32h2v2h-2zM54 32h2v2h-2zM2 34h2v2h-2zM28 34h2v2h-2zM38 34h2v2h-2zM42 34h2v2h-2zM48 34h2v2h-2zM62 34h2v2h-2zM0 36h6v2h-6zM10 36h2v2h-2zM18 36h2v2h-2zM40 36h2v2h-2zM44 36h4v2h-4zM2 38h2v2h-2zM10 38h4v2h-4zM18 38h2v2h-2zM24 38h4v2h-4zM40 38h2v2h-2zM0 40h4v2h-4zM12 40h4v2h-4zM34 40h4v2h-4zM42 40h2v2h-2zM0 42h2v2h-2zM36 42h6v2h-6zM48 42h2v2h-2zM60 42h2v2h-2zM18 44h2v2h-2zM30 44h2v2h-2zM38 44h2v2h-2zM10 46h8v2h-8zM22 46h2v2h-2zM28 46h2v2h-2zM44 46h2v2h-2zM54 46h2v2h-2zM58 46h2v2h-2zM0 48h2v2h-2zM12 48h4v2h-4zM30 48h2v2h-2zM40 48h2v2h-2zM46 48h2v2h-2zM54 48h2v2h-2zM60 48h2v2h-2zM36 50h2v2h-2zM42 50h2v2h-2zM48 50h2v2h-2zM56 50h2v2h-2zM0 52h4v2h-4zM8 52h4v2h-4zM20 52h2v2h-2zM32 52h2v2h-2zM46 52h4v2h-4zM60 52h4v2h-4zM0 54h2v2h-2zM8 54h2v2h-2zM38 54h2v2h-2zM42 54h2v2h-2zM62 54h2v2h-2zM4 56h6v2h-6zM14 56h2v2h-2zM26 56h2v2h-2zM36 56h2v2h-2zM40 56h2v2h-2zM46 56h2v2h-2zM60 56h2v2h-2zM18 58h6v2h-6zM28 58h2v2h-2zM34 58h4v2h-4zM58 58h2v2h-2zM10 60h4v2h-4zM30 60h6v2h-6zM54 60h4v2h-4zM62 60h2v2h-2zM2 62h2v2h-2zM8 62h2v2h-2zM22 62h2v2h-2zM32 62h2v2h-2zM42 62h2v2h-2zM46 62h2v2h-2zM58 62h2v2h-2zM62 62h2v2h-2z"/>
<path fill="#ffc864" d="M4 0h4v2h-4zM20 0h2v2h-2zM42 0h2v2h-2zM56 0h2v2h-2zM6 2h2v2h-2zM10 2h6v2h-6zM24 2h10v2h-10zM38 2h2v2h-2zM44 2h2v2h-2zM48 2h2v2h-2zM62 2h2v2h-2zM26 4h2v2h-2zM30 4h2v2h-2zM34 4h2v2h-2zM60 4h4v2h-4zM4 6h2v2h-2zM12 6h2v2h-2zM16 6h2v2h-2zM30 6h2v2h-2zM36 6h2v2h-2zM60 6h2v2h-2zM28 8h2v2h-2zM22 10h6v2h-6zM36 10h2v2h-2zM46 10h2v2h-2zM20 12h10v2h-10zM42 12h2v2h-2zM14 14h2v2h-2zM28 14h2v2h-2zM42 14h4v2h-4zM52 14h2v2h-2zM40 16h4v2h-4zM46 16h2v2h-2zM50 16h2v2h-2zM58 16h4v2h-4zM6 18h2v2h-2zM22 18h2v2h-2zM38 18h2v2h-2zM46 18h2v2h-2zM56 18h2v2h-2zM62 18h2v2h-2zM18 20h2v2h-2zM30 20h2v2h-2zM48 20h4v2h-4zM12 22h2v2h-2zM18 22h2v2h-2zM22 22h2v2h-2zM32 22h4v2h-4zM18 24h2v2h-2zM26 24h2v2h-2zM34 24h2v2h-2zM38 24h2v2h-2zM44 24h2v2h-2zM54 24h2v2h-2zM2 26h2v2h-2zM8 26h4v2h-4zM16 26h2v2h-2zM26 26h2v2h-2zM30 26h2v2h-2zM46 26h6v2h-6zM0 28h4v2h-4zM8 28h2v2h-2zM22 28h2v2h-2zM46 28h2v2h-2zM60 28h2v2h-2zM14 30h2v2h-2zM26 30h4v2h-4zM32 30h6v2h-6zM46 30h2v2h-2zM50 30h2v2h-2zM62 30h2v2h-2zM2 32h4v2h-4zM14 32h2v2h-2zM26 32h2v2h-2zM62 32h2v2h-2zM0 34h2v2h-2zM4 34h2v2h-2zM8 34h4v2h-4zM26 34h2v2h-2zM32 34h2v2h-2zM50 34h4v2h-4zM8 36h2v2h-2zM26 36h4v2h-4zM36 36h4v2h-4zM48 36h4v2h-4zM8 38h2v2h-2zM14 38h4v2h-4zM20 38h4v2h-4zM34 38h2v2h-2zM50 38h2v2h-2zM62 38h2v2h-2zM6 40h6v2h-6zM16 40h4v2h-4zM24 40h2v2h-2zM40 40h2v2h-2zM60 40h2v2h-2zM6 42h2v2h-2zM12 42h2v2h-2zM22 42h2v2h-2zM52 42h2v2h-2zM0 44h2v2h-2zM16 44h2v2h-2zM20 44h2v2h-2zM26 44h2v2h-2zM36 44h2v2h-2zM44 44h6v2h-6zM52 44h4v2h-4zM6 46h2v2h-2zM30 46h2v2h-2zM38 46h2v2h-2zM46 46h2v2h-2zM60 46h4v2h-4zM6 48h2v2h-2zM20 48h4v2h-4zM32 48h2v2h-2zM38 48h2v2h-2zM48 48h4v2h-4zM62 48h2v2h-2zM0 50h4v2h-4zM44 50h4v2h-4zM42 52h4v2h-4zM2 54h2v2h-2zM16 54h2v2h-2zM22 54h2v2h-2zM40 54h2v2h-2zM46 54h2v2h-2zM2 56h2v2h-2zM10 56h4v2h-4zM20 56h2v2h-2zM24 56h2v2h-2zM38 56h2v2h-2zM54 56h2v2h-2zM10 58h2v2h-2zM38 58h4v2h-4zM50 58h4v2h-4zM2 60h2v2h-2zM8 60h2v2h-2zM18 60h6v2h-6zM28 60h2v2h-2zM38 60h2v2h-2zM6 62h2v2h-2zM16 62h6v2h-6zM48 62h4v2h-4zM54 62h2v2h-2zM60 62h2v2h-2z"/>
<path fill="#ff8200" d="M22 0h2v2h-2zM32 0h2v2h-2zM54 0h2v2h-2zM58 0h4v2h-4zM0 2h2v2h-2zM34 2h2v2h-2zM42 2h2v2h-2zM32 4h2v2h-2zM36 4h2v2h-2zM32 6h2v2h-2zM20 10h2v2h-2zM44 12h2v2h-2zM48 14h4v2h-4zM54 14h4v2h-4zM54 16h4v2h-4zM30 18h2v2h-2zM36 18h2v2h-2zM44 18h2v2h-2zM6 20h2v2h-2zM12 20h2v2h-2zM20 20h4v2h-4zM20 22h2v2h-2zM20 24h2v2h-2zM36 24h2v2h-2zM18 26h4v2h-4zM16 28h2v2h-2zM20 28h2v2h-2zM52 28h2v2h-2zM22 30h2v2h-2zM52 30h2v2h-2zM0 32h2v2h-2zM48 32h4v2h-4zM6 34h2v2h-2zM6 36h2v2h-2zM16 36h2v2h-2zM36 38h2v2h-2zM22 40h2v2h-2zM32 46h6v2h-6zM48 46h2v2h-2zM20 50h2v2h-2zM52 56h2v2h-2zM12 58h2v2h-2z"/>
<path fill="#ffff00" d="M0 0h2v2h-2zM8 0h2v2h-2zM16 0h4v2h-4zM38 0h4v2h-4zM44 0h10v2h-10zM62 0h2v2h-2zM4 2h2v2h-2zM16 2h6v2h-6zM46 2h2v2h-2zM50 2h4v2h-4zM56 2h2v2h-2zM2 4h12v2h-12zM18 4h6v2h-6zM40 4h4v2h-4zM46 4h6v2h-6zM2 6h2v2h-2zM6 6h4v2h-4zM18 6h2v2h-2zM22 6h8v2h-8zM38 6h8v2h-8zM50 6h6v2h-6zM58 6h2v2h-2zM0 8h4v2h-4zM6 8h6v2h-6zM16 8h2v2h-2zM22 8h4v2h-4zM38 8h4v2h-4zM48 8h10v2h-10zM60 8h2v2h-2zM0 10h2v2h-2zM8 10h2v2h-2zM12 10h6v2h-6zM30 10h4v2h-4zM38 10h4v2h-4zM48 10h16v2h-16zM0 12h4v2h-4zM6 12h4v2h-4zM18 12h2v2h-2zM32 12h10v2h-10zM48 12h4v2h-4zM54 12h2v2h-2zM58 12h6v2h-6zM0 14h12v2h-12zM22 14h4v2h-4zM32 14h2v2h-2zM36 14h6v2h-6zM2 16h2v2h-2zM6 16h10v2h-10zM22 16h2v2h-2zM26 16h2v2h-2zM30 16h4v2h-4zM52 16h2v2h-2zM62 16h2v2h-2zM8 18h2v2h-2zM28 18h2v2h-2zM32 18h2v2h-2zM42 18h2v2h-2zM52 18h4v2h-4zM58 18h4v2h-4zM8 20h2v2h-2zM24 20h2v2h-2zM28 20h2v2h-2zM32 20h4v2h-4zM38 20h6v2h-6zM46 20h2v2h-2zM52 20h4v2h-4zM58 20h6v2h-6zM0 22h10v2h-10zM14 22h4v2h-4zM30 22h2v2h-2zM40 22h2v2h-2zM44 22h20v2h-20zM0 24h18v2h-18zM22 24h4v2h-4zM40 24h4v2h-4zM48 24h4v2h-4zM56 24h2v2h-2zM60 24h2v2h-2zM4 26h4v2h-4zM12 26h4v2h-4zM22 26h4v2h-4zM38 26h6v2h-6zM54 26h10v2h-10zM4 28h4v2h-4zM10 28h2v2h-2zM14 28h2v2h-2zM36 28h6v2h-6zM44 28h2v2h-2zM48 28h2v2h-2zM54 28h2v2h-2zM10 30h2v2h-2zM40 30h2v2h-2zM44 30h2v2h-2zM56 30h6v2h-6zM16 32h2v2h-2zM20 32h4v2h-4zM34 32h8v2h-8zM44 32h4v2h-4zM56 32h2v2h-2zM60 32h2v2h-2zM14 34h2v2h-2zM20 34h4v2h-4zM34 34h4v2h-4zM40 34h2v2h-2zM44 34h4v2h-4zM54 34h4v2h-4zM20 36h6v2h-6zM30 36h6v2h-6zM42 36h2v2h-2zM54 36h4v2h-4zM62 36h2v2h-2zM4 38h4v2h-4zM28 38h6v2h-6zM42 38h2v2h-2zM48 38h2v2h-2zM52 38h8v2h-8zM4 40h2v2h-2zM30 40h4v2h-4zM38 40h2v2h-2zM44 40h2v2h-2zM48 40h2v2h-2zM52 40h8v2h-8zM62 40h2v2h-2zM2 42h4v2h-4zM8 42h4v2h-4zM14 42h4v2h-4zM24 42h2v2h-2zM30 42h6v2h-6zM44 42h4v2h-4zM54 42h6v2h-6zM62 42h2v2h-2zM2 44h6v2h-6zM10 44h4v2h-4zM22 44h4v2h-4zM32 44h4v2h-4zM40 44h2v2h-2zM56 44h8v2h-8zM0 46h6v2h-6zM18 46h4v2h-4zM24 46h4v2h-4zM40 46h2v2h-2zM52 46h2v2h-2zM56 46h2v2h-2zM2 48h4v2h-4zM10 48h2v2h-2zM16 48h4v2h-4zM24 48h2v2h-2zM42 48h4v2h-4zM52 48h2v2h-2zM56 48h4v2h-4zM4 50h2v2h-2zM8 50h8v2h-8zM22 50h4v2h-4zM30 50h6v2h-6zM40 50h2v2h-2zM52 50h4v2h-4zM58 50h6v2h-6zM4 52h2v2h-2zM12 52h6v2h-6zM22 52h4v2h-4zM30 52h2v2h-2zM34 52h4v2h-4zM50 52h10v2h-10zM4 54h2v2h-2zM10 54h6v2h-6zM18 54h4v2h-4zM24 54h6v2h-6zM34 54h4v2h-4zM44 54h2v2h-2zM48 54h4v2h-4zM58 54h4v2h-4zM0 56h2v2h-2zM16 56h4v2h-4zM28 56h4v2h-4zM34 56h2v2h-2zM42 56h4v2h-4zM56 56h4v2h-4zM62 56h2v2h-2zM4 58h6v2h-6zM14 58h4v2h-4zM24 58h4v2h-4zM30 58h4v2h-4zM42 58h6v2h-6zM54 58h4v2h-4zM62 58h2v2h-2zM4 60h4v2h-4zM14 60h4v2h-4zM24 60h2v2h-2zM40 60h2v2h-2zM44 60h10v2h-10zM0 62h2v2h-2zM4 62h2v2h-2zM10 62h6v2h-6zM24 62h2v2h-2zM28 62h4v2h-4zM36 62h2v2h-2zM40 62h2v2h-2zM44 62h2v2h-2zM52 62h2v2h-2z"/>
<path fill="#32c800" d="M2 0h2v2h-2zM12 0h2v2h-2zM24 0h2v2h-2zM36 2h2v2h-2zM40 2h2v2h-2zM34 6h2v2h-2zM4 8h2v2h-2zM36 16h2v2h-2zM48 16h2v2h-2zM36 22h2v2h-2zM26 28h4v2h-4zM50 28h2v2h-2zM0 30h2v2h-2zM20 30h2v2h-2zM24 30h2v2h-2zM48 30h2v2h-2zM32 32h2v2h-2zM52 32h2v2h-2zM18 34h2v2h-2zM52 36h2v2h-2zM0 38h2v2h-2zM38 38h2v2h-2zM60 38h2v2h-2zM14 44h2v2h-2zM28 44h2v2h-2zM50 46h2v2h-2zM22 56h2v2h-2zM2 58h2v2h-2zM60 58h2v2h-2z"/>
</pattern>
<pattern id="py" patternUnits="userSpaceOnUse" width="64" height="64">
<rect width="64" height="64" fill="#c8c8c8"/>
<path fill="#64ff00" d="M14 0h2v2h-2zM48 0h4v2h-4zM62 0h2v2h-2zM12 2h2v2h-2zM22 2h2v2h-2zM26 2h2v2h-2zM40 2h4v2h-4zM46 2h6v2h-6zM6 4h6v2h-6zM18 4h2v2h-2zM22 4h2v2h-2zM30 4h2v2h-2zM50 4h2v2h-2zM56 4h6v2h-6zM6 6h2v2h-2zM12 6h2v2h-2zM20 6h2v2h-2zM30 6h2v2h-2zM44 6h4v2h-4zM52 6h4v2h-4zM4 8h2v2h-2zM12 8h6v2h-6zM20 8h2v2h-2zM34 8h4v2h-4zM54 8h2v2h-2zM60 8h4v2h-4zM34 10h2v2h-2zM44 10h2v2h-2zM58 10h2v2h-2zM32 12h2v2h-2zM36 12h2v2h-2zM52 12h2v2h-2zM0 14h2v2h-2zM32 14h4v2h-4zM38 14h4v2h-4zM60 14h2v2h-2zM4 16h2v2h-2zM18 16h2v2h-2zM32 16h6v2h-6zM56 16h4v2h-4zM10 18h2v2h-2zM30 18h2v2h-2zM34 18h2v2h-2zM42 18h2v2h-2zM56 18h4v2h-4zM2 20h2v2h-2zM8 20h2v2h-2zM14 20h2v2h-2zM28 20h2v2h-2zM32 20h2v2h-2zM54 20h2v2h-2zM62 20h2v2h-2zM2 22h2v2h-2zM28 22h2v2h-2zM32 22h2v2h-2zM42 22h2v2h-2zM54 22h2v2h-2zM10 24h2v2h-2zM24 24h2v2h-2zM48 24h2v2h-2zM56 24h6v2h-6zM10 26h2v2h-2zM20 26h6v2h-6zM28 26h2v2h-2zM32 26h2v2h-2zM40 26h2v2h-2zM48 26h4v2h-4zM6 28h2v2h-2zM18 28h2v2h-2zM26 28h2v2h-2zM34 28h2v2h-2zM42 28h2v2h-2zM56 28h2v2h-2zM62 28h2v2h-2zM32 30h2v2h-2zM46 30h2v2h-2zM62 30h2v2h-2zM2 32h2v2h-2zM24 32h2v2h-2zM42 32h2v2h-2zM46 32h2v2h-2zM52 32h2v2h-2zM16 34h2v2h-2zM34 34h4v2h-4zM46 34h2v2h-2zM2 36h4v2h-4zM34 36h2v2h-2zM44 36h2v2h-2zM50 36h4v2h-4zM58 36h2v2h-2zM6 38h2v2h-2zM12 38h2v2h-2zM16 38h2v2h-2zM22 38h2v2h-2zM40 38h2v2h-2zM50 38h4v2h-4zM2 40h2v2h-2zM12 40h6v2h-6zM20 40h2v2h-2zM36 40h2v2h-2zM40 40h2v2h-2zM50 40h2v2h-2zM54 40h2v2h-2zM2 42h2v2h-2zM16 42h2v2h-2zM28 42h2v2h-2zM34 42h2v2h-2zM50 42h2v2h-2zM56 42h2v2h-2zM60 42h2v2h-2zM0 44h2v2h-2zM18 44h4v2h-4zM46 44h2v2h-2zM16 46h2v2h-2zM24 46h2v2h-2zM30 46h2v2h-2zM38 46h2v2h-2zM0 48h2v2h-2zM8 48h2v2h-2zM14 48h2v2h-2zM30 48h6v2h-6zM40 48h4v2h-4zM0 50h4v2h-4zM20 50h4v2h-4zM26 50h2v2h-2zM30 50h6v2h-6zM62 50h2v2h-2zM0 52h2v2h-2zM14 52h4v2h-4zM34 52h2v2h-2zM46 52h2v2h-2zM60 52h2v2h-2zM0 54h2v2h-2zM10 54h2v2h-2zM18 54h2v2h-2zM36 54h2v2h-2zM44 54h2v2h-2zM54 54h2v2h-2zM60 54h4v2h-4zM8 56h2v2h-2zM18 56h6v2h-6zM26 56h2v2h-2zM36 56h2v2h-2zM46 56h2v2h-2zM52 56h2v2h-2zM60 56h4v2h-4zM20 58h2v2h-2zM24 58h2v2h-2zM44 58h2v2h-2zM56 58h2v2h-2zM2 60h4v2h-4zM8 60h2v2h-2zM14 60h2v2h-2zM20 60h2v2h-2zM40 60h2v2h-2zM48 60h2v2h-2zM54 60h2v2h-2zM62 60h2v2h-2zM20 62h2v2h-2zM32 62h2v2h-2zM42 62h2v2h-2zM46 62h2v2h-2zM60 62h2v2h-2z"/>
<path fill="#ffc864" d="M54 0h2v2h-2zM0 2h2v2h-2zM16 2h2v2h-2zM20 2h2v2h-2zM24 2h2v2h-2zM36 2h2v2h-2zM58 2h2v2h-2zM12 4h2v2h-2zM16 4h2v2h-2zM26 6h2v2h-2zM42 6h2v2h-2zM56 6h6v2h-6zM6 8h2v2h-2zM38 8h2v2h-2zM42 8h2v2h-2zM8 10h2v2h-2zM14 10h2v2h-2zM20 10h2v2h-2zM0 12h2v2h-2zM8 12h2v2h-2zM26 12h6v2h-6zM34 12h2v2h-2zM40 12h4v2h-4zM2 14h2v2h-2zM22 14h4v2h-4zM30 14h2v2h-2zM0 16h2v2h-2zM38 16h2v2h-2zM16 18h2v2h-2zM32 18h2v2h-2zM36 18h2v2h-2zM44 18h2v2h-2zM50 18h2v2h-2zM42 20h4v2h-4zM0 22h2v2h-2zM6 24h4v2h-4zM28 24h4v2h-4zM46 24h2v2h-2zM62 24h2v2h-2zM6 26h2v2h-2zM8 30h2v2h-2zM22 30h2v2h-2zM40 32h2v2h-2zM44 32h2v2h-2zM6 34h2v2h-2zM22 34h6v2h-6zM6 36h6v2h-6zM20 36h2v2h-2zM24 36h2v2h-2zM36 36h2v2h-2zM42 36h2v2h-2zM26 38h2v2h-2zM38 38h2v2h-2zM56 38h2v2h-2zM4 40h6v2h-6zM38 40h2v2h-2zM44 40h2v2h-2zM56 40h2v2h-2zM62 40h2v2h-2zM0 42h2v2h-2zM8 42h6v2h-6zM18 42h2v2h-2zM26 42h2v2h-2zM42 42h2v2h-2zM62 42h2v2h-2zM2 44h2v2h-2zM26 44h4v2h-4zM50 44h2v2h-2zM54 44h2v2h-2zM18 46h2v2h-2zM32 46h2v2h-2zM40 46h2v2h-2zM16 48h2v2h-2zM26 48h2v2h-2zM4 50h4v2h-4zM18 50h2v2h-2zM28 50h2v2h-2zM40 50h2v2h-2zM44 50h2v2h-2zM8 52h2v2h-2zM32 52h2v2h-2zM44 52h2v2h-2zM2 54h2v2h-2zM8 54h2v2h-2zM24 54h2v2h-2zM28 54h4v2h-4zM52 54h2v2h-2zM0 56h2v2h-2zM6 56h2v2h-2zM24 56h2v2h-2zM54 56h2v2h-2zM14 58h2v2h-2zM34 58h2v2h-2zM0 60h2v2h-2zM10 60h4v2h-4zM24 60h4v2h-4zM34 60h2v2h-2zM50 60h2v2h-2zM58 60h2v2h-2zM10 62h2v2h-2zM14 62h2v2h-2zM24 62h6v2h-6zM44 62h2v2h-2z"/>
<path fill="#ff8200" d="M2 0h4v2h-4zM2 2h2v2h-2zM14 2h2v2h-2zM56 2h2v2h-2zM14 4h2v2h-2zM50 6h2v2h-2zM10 10h4v2h-4zM40 10h4v2h-4zM22 12h4v2h-4zM18 18h2v2h-2zM52 18h2v2h-2zM62 22h2v2h-2zM18 26h2v2h-2zM40 34h2v2h-2zM2 38h4v2h-4zM10 40h2v2h-2zM20 46h2v2h-2zM18 48h2v2h-2zM26 52h2v2h-2zM26 54h2v2h-2zM0 58h8v2h-8zM30 60h4v2h-4zM30 62h2v2h-2z"/>
<path fill="#ffff00" d="M0 0h2v2h-2zM6 0h2v2h-2zM12 0h2v2h-2zM16 0h6v2h-6zM24 0h12v2h-12zM38 0h10v2h-10zM52 0h2v2h-2zM6 2h2v2h-2zM18 2h2v2h-2zM28 2h8v2h-8zM44 2h2v2h-2zM52 2h2v2h-2zM62 2h2v2h-2zM0 4h6v2h-6zM24 4h6v2h-6zM32 4h6v2h-6zM40 4h10v2h-10zM52 4h4v2h-4zM62 4h2v2h-2zM0 6h6v2h-6zM14 6h6v2h-6zM22 6h2v2h-2zM28 6h2v2h-2zM32 6h4v2h-4zM40 6h2v2h-2zM48 6h2v2h-2zM62 6h2v2h-2zM0 8h4v2h-4zM18 8h2v2h-2zM24 8h6v2h-6zM32 8h2v2h-2zM44 8h10v2h-10zM0 10h8v2h-8zM16 10h4v2h-4zM28 10h6v2h-6zM36 10h4v2h-4zM46 10h10v2h-10zM60 10h4v2h-4zM2 12h6v2h-6zM12 12h10v2h-10zM38 12h2v2h-2zM44 12h4v2h-4zM60 12h4v2h-4zM4 14h12v2h-12zM20 14h2v2h-2zM26 14h4v2h-4zM36 14h2v2h-2zM42 14h4v2h-4zM56 14h4v2h-4zM2 16h2v2h-2zM6 16h12v2h-12zM20 16h12v2h-12zM40 16h8v2h-8zM50 16h6v2h-6zM60 16h2v2h-2zM0 18h4v2h-4zM6 18h4v2h-4zM12 18h4v2h-4zM20 18h10v2h-10zM38 18h4v2h-4zM46 18h4v2h-4zM54 18h2v2h-2zM60 18h4v2h-4zM0 20h2v2h-2zM6 20h2v2h-2zM12 20h2v2h-2zM18 20h6v2h-6zM26 20h2v2h-2zM30 20h2v2h-2zM34 20h8v2h-8zM46 20h6v2h-6zM56 20h6v2h-6zM6 22h10v2h-10zM18 22h10v2h-10zM38 22h4v2h-4zM44 22h10v2h-10zM56 22h6v2h-6zM0 24h6v2h-6zM12 24h12v2h-12zM34 24h2v2h-2zM38 24h6v2h-6zM50 24h4v2h-4zM0 26h6v2h-6zM12 26h6v2h-6zM30 26h2v2h-2zM38 26h2v2h-2zM42 26h4v2h-4zM58 26h6v2h-6zM2 28h4v2h-4zM10 28h6v2h-6zM20 28h2v2h-2zM28 28h6v2h-6zM36 28h6v2h-6zM44 28h6v2h-6zM58 28h4v2h-4zM4 30h4v2h-4zM10 30h12v2h-12zM28 30h4v2h-4zM34 30h12v2h-12zM48 30h6v2h-6zM56 30h6v2h-6zM0 32h2v2h-2zM4 32h2v2h-2zM8 32h14v2h-14zM28 32h10v2h-10zM48 32h4v2h-4zM54 32h10v2h-10zM0 34h6v2h-6zM8 34h8v2h-8zM18 34h4v2h-4zM28 34h6v2h-6zM38 34h2v2h-2zM42 34h4v2h-4zM54 34h10v2h-10zM0 36h2v2h-2zM12 36h8v2h-8zM28 36h6v2h-6zM38 36h2v2h-2zM46 36h4v2h-4zM54 36h2v2h-2zM60 36h4v2h-4zM8 38h4v2h-4zM14 38h2v2h-2zM18 38h4v2h-4zM24 38h2v2h-2zM28 38h10v2h-10zM42 38h8v2h-8zM54 38h2v2h-2zM18 40h2v2h-2zM22 40h10v2h-10zM46 40h4v2h-4zM52 40h2v2h-2zM4 42h4v2h-4zM14 42h2v2h-2zM20 42h6v2h-6zM30 42h2v2h-2zM36 42h6v2h-6zM46 42h4v2h-4zM6 44h12v2h-12zM22 44h4v2h-4zM30 44h12v2h-12zM48 44h2v2h-2zM56 44h2v2h-2zM60 44h4v2h-4zM0 46h2v2h-2zM4 46h12v2h-12zM22 46h2v2h-2zM28 46h2v2h-2zM42 46h8v2h-8zM56 46h8v2h-8zM4 48h4v2h-4zM10 48h4v2h-4zM22 48h2v2h-2zM28 48h2v2h-2zM38 48h2v2h-2zM44 48h8v2h-8zM56 48h2v2h-2zM8 50h10v2h-10zM24 50h2v2h-2zM36 50h4v2h-4zM42 50h2v2h-2zM46 50h14v2h-14zM2 52h4v2h-4zM10 52h4v2h-4zM18 52h8v2h-8zM38 52h6v2h-6zM48 52h12v2h-12zM62 52h2v2h-2zM4 54h2v2h-2zM12 54h6v2h-6zM20 54h4v2h-4zM32 54h4v2h-4zM38 54h6v2h-6zM46 54h6v2h-6zM56 54h4v2h-4zM4 56h2v2h-2zM12 56h6v2h-6zM28 56h8v2h-8zM40 56h6v2h-6zM48 56h4v2h-4zM56 56h4v2h-4zM8 58h6v2h-6zM16 58h4v2h-4zM26 58h8v2h-8zM40 58h4v2h-4zM48 58h6v2h-6zM58 58h6v2h-6zM6 60h2v2h-2zM16 60h4v2h-4zM38 60h2v2h-2zM42 60h6v2h-6zM52 60h2v2h-2zM60 60h2v2h-2zM0 62h8v2h-8zM12 62h2v2h-2zM16 62h4v2h-4zM36 62h6v2h-6zM48 62h6v2h-6zM58 62h2v2h-2z"/>
<path fill="#32c800" d="M36 0h2v2h-2zM60 0h2v2h-2zM4 2h2v2h-2zM54 2h2v2h-2zM60 2h2v2h-2zM20 4h2v2h-2zM10 6h2v2h-2zM36 6h2v2h-2zM8 8h4v2h-4zM40 8h2v2h-2zM56 8h4v2h-4zM56 10h2v2h-2zM10 12h2v2h-2zM54 12h4v2h-4zM62 14h2v2h-2zM62 16h2v2h-2zM26 24h2v2h-2zM32 24h2v2h-2zM8 26h2v2h-2zM26 26h2v2h-2zM46 26h2v2h-2zM52 26h2v2h-2zM8 28h2v2h-2zM22 28h4v2h-4zM22 32h2v2h-2zM48 34h6v2h-6zM22 36h2v2h-2zM26 36h2v2h-2zM40 36h2v2h-2zM56 36h2v2h-2zM42 40h2v2h-2zM44 42h2v2h-2zM52 42h4v2h-4zM4 44h2v2h-2zM20 48h2v2h-2zM24 48h2v2h-2zM62 48h2v2h-2zM28 52h4v2h-4zM2 56h2v2h-2zM36 58h2v2h-2zM46 58h2v2h-2zM54 58h2v2h-2zM28 60h2v2h-2zM8 62h2v2h-2zM62 62h2v2h-2z"/>
</pattern>
</defs>
<g clip-path="url(#gclip)">
<rect x="500" y="60" width="40" height="10" fill="url(#p9)"/>
<rect x="290" y="70" width="10" height="10" fill="url(#p4)"/>
<rect x="300" y="70" width="20" height="10" fill="url(#p5)"/>
<rect x="320" y="70" width="10" height="10" fill="url(#p4)"/>
<rect x="330" y="70" width="20" height="10" fill="url(#p5)"/>
<rect x="350" y="70" width="20" height="10" fill="url(#p6)"/>
<rect x="370" y="70" width="10" height="10" fill="url(#p5)"/>
<rect x="380" y="70" width="70" height="10" fill="url(#p1)"/>
<rect x="450" y="70" width="10" height="10" fill="url(#p2)"/>
<rect x="460" y="70" width="10" height="10" fill="url(#p3)"/>
<rect x="470" y="70" width="10" height="10" fill="url(#p6)"/>
<rect x="480" y="70" width="10" height="10" fill="url(#p5)"/>
<rect x="490" y="70" width="10" height="10" fill="url(#p6)"/>
<rect x="500" y="70" width="50" height="10" fill="url(#p9)"/>
<rect x="290" y="80" width="10" height="10" fill="url(#p6)"/>
<rect x="300" y="80" width="10" height="10" fill="url(#p5)"/>
<rect x="310" y="80" width="10" height="10" fill="url(#p4)"/>
<rect x="320" y="80" width="10" height="10" fill="url(#p3)"/>
<rect x="330" y="80" width="10" height="10" fill="url(#p4)"/>
<rect x="340" y="80" width="10" height="10" fill="url(#p5)"/>
<rect x="350" y="80" width="10" height="10" fill="url(#p7)"/>
<rect x="360" y="80" width="10" height="10" fill="url(#p8)"/>
<rect x="370" y="80" width="10" height="10" fill="url(#p6)"/>
<rect x="380" y="80" width="40" height="10" fill="url(#p1)"/>
<rect x="420" y="80" width="10" height="10" fill="url(#p2)"/>
<rect x="430" y="80" width="10" height="10" fill="url(#p3)"/>
<rect x="440" y="80" width="10" height="10" fill="url(#p4)"/>
<rect x="450" y="80" width="10" height="10" fill="url(#p2)"/>
<rect x="460" y="80" width="10" height="10" fill="url(#p6)"/>
<rect x="470" y="80" width="10" height="10" fill="url(#p5)"/>
<rect x="480" y="80" width="10" height="10" fill="url(#p4)"/>
<rect x="490" y="80" width="10" height="10" fill="url(#p7)"/>
<rect x="500" y="80" width="20" height="10" fill="url(#p3)"/>
<rect x="520" y="80" width="30" height="10" fill="url(#p9)"/>
<rect x="280" y="90" width="10" height="10" fill="url(#p4)"/>
<rect x="290" y="90" width="10" height="10" fill="url(#p7)"/>
<rect x="300" y="90" width="10" height="10" fill="url(#p5)"/>
<rect x="310" y="90" width="20" height="10" fill="url(#p4)"/>
<rect x="330" y="90" width="20" height="10" fill="url(#p3)"/>
<rect x="350" y="90" width="10" height="10" fill="url(#p6)"/>
<rect x="360" y="90" width="10" height="10" fill="url(#p8)"/>
<rect x="370" y="90" width="10" height="10" fill="url(#p6)"/>
<rect x="380" y="90" width="10" height="10" fill="url(#p4)"/>
<rect x="390" y="90" width="10" height="10" fill="url(#p2)"/>
<rect x="400" y="90" width="30" height="10" fill="url(#p1)"/>
<rect x="430" y="90" width="10" height="10" fill="url(#p3)"/>
<rect x="440" y="90" width="10" height="10" fill="url(#p4)"/>
<rect x="450" y="90" width="10" height="10" fill="url(#p3)"/>
<rect x="460" y="90" width="10" height="10" fill="url(#p5)"/>
<rect x="470" y="90" width="20" height="10" fill="url(#p4)"/>
<rect x="490" y="90" width="10" height="10" fill="url(#p6)"/>
<rect x="500" y="90" width="10" height="10" fill="url(#p2)"/>
<rect x="510" y="90" width="10" height="10" fill="url(#p3)"/>
<rect x="520" y="90" width="30" height="10" fill="url(#p9)"/>
<rect x="280" y="100" width="10" height="10" fill="url(#p4)"/>
<rect x="290" y="100" width="10" height="10" fill="url(#p5)"/>
<rect x="300" y="100" width="10" height="10" fill="url(#p7)"/>
<rect x="310" y="100" width="10" height="10" fill="url(#p4)"/>
<rect x="320" y="100" width="10" height="10" fill="url(#p3)"/>
<rect x="330" y="100" width="20" height="10" fill="url(#p2)"/>
<rect x="350" y="100" width="10" height="10" fill="url(#p4)"/>
<rect x="360" y="100" width="10" height="10" fill="url(#p7)"/>
<rect x="370" y="100" width="10" height="10" fill="url(#p6)"/>
<rect x="380" y="100" width="10" height="10" fill="url(#p3)"/>
<rect x="390" y="100" width="10" height="10" fill="url(#p2)"/>
<rect x="400" y="100" width="30" height="10" fill="url(#p1)"/>
<rect x="430" y="100" width="20" height="10" fill="url(#p4)"/>
<rect x="450" y="100" width="20" height="10" fill="url(#p2)"/>
<rect x="470" y="100" width="10" height="10" fill="url(#p3)"/>
<rect x="480" y="100" width="20" height="10" fill="url(#p4)"/>
<rect x="500" y="100" width="10" height="10" fill="url(#p5)"/>
<rect x="510" y="100" width="10" height="10" fill="url(#p6)"/>
<rect x="520" y="100" width="10" height="10" fill="url(#p8)"/>
<rect x="530" y="100" width="20" height="10" fill="url(#p7)"/>
<rect x="290" y="110" width="10" height="10" fill="url(#p4)"/>
<rect x="300" y="110" width="10" height="10" fill="url(#p6)"/>
<rect x="310" y="110" width="20" height="10" fill="url(#p3)"/>
<rect x="330" y="110" width="20" height="10" fill="url(#p2)"/>
<rect x="350" y="110" width="10" height="10" fill="url(#p3)"/>
<rect x="360" y="110" width="10" height="10" fill="url(#p5)"/>
<rect x="370" y="110" width="10" height="10" fill="url(#p4)"/>
<rect x="380" y="110" width="10" height="10" fill="url(#p2)"/>
<rect x="390" y="110" width="30" height="10" fill="url(#p1)"/>
<rect x="420" y="110" width="10" height="10" fill="url(#p2)"/>
<rect x="430" y="110" width="10" height="10" fill="url(#p4)"/>
<rect x="440" y="110" width="10" height="10" fill="url(#p3)"/>
<rect x="450" y="110" width="40" height="10" fill="url(#p2)"/>
<rect x="490" y="110" width="10" height="10" fill="url(#p3)"/>
<rect x="500" y="110" width="60" height="10" fill="url(#p8)"/>
<rect x="290" y="120" width="10" height="10" fill="url(#p2)"/>
<rect x="300" y="120" width="20" height="10" fill="url(#p4)"/>
<rect x="320" y="120" width="10" height="10" fill="url(#p3)"/>
<rect x="330" y="120" width="50" height="10" fill="url(#p2)"/>
<rect x="380" y="120" width="10" height="10" fill="url(#p3)"/>
<rect x="390" y="120" width="10" height="10" fill="url(#p2)"/>
<rect x="400" y="120" width="30" height="10" fill="url(#p1)"/>
<rect x="430" y="120" width="10" height="10" fill="url(#p4)"/>
<rect x="440" y="120" width="30" height="10" fill="url(#p3)"/>
<rect x="470" y="120" width="10" height="10" fill="url(#p5)"/>
<rect x="480" y="120" width="10" height="10" fill="url(#p6)"/>
<rect x="490" y="120" width="10" height="10" fill="url(#p7)"/>
<rect x="500" y="120" width="10" height="10" fill="url(#p8)"/>
<rect x="510" y="120" width="10" height="10" fill="url(#p9)"/>
<rect x="520" y="120" width="10" height="10" fill="url(#p8)"/>
<rect x="530" y="120" width="20" height="10" fill="url(#p7)"/>
<rect x="550" y="120" width="20" height="10" fill="url(#p6)"/>
<rect x="290" y="130" width="10" height="10" fill="url(#p2)"/>
<rect x="300" y="130" width="10" height="10" fill="url(#p3)"/>
<rect x="310" y="130" width="10" height="10" fill="url(#p4)"/>
<rect x="320" y="130" width="20" height="10" fill="url(#p3)"/>
<rect x="340" y="130" width="50" height="10" fill="url(#p2)"/>
<rect x="390" y="130" width="40" height="10" fill="url(#p1)"/>
<rect x="430" y="130" width="20" height="10" fill="url(#p2)"/>
<rect x="450" y="130" width="20" height="10" fill="url(#p4)"/>
<rect x="470" y="130" width="10" height="10" fill="url(#p3)"/>
<rect x="480" y="130" width="10" height="10" fill="url(#p6)"/>
<rect x="490" y="130" width="10" height="10" fill="url(#p7)"/>
<rect x="500" y="130" width="10" height="10" fill="url(#p6)"/>
<rect x="510" y="130" width="10" height="10" fill="url(#p7)"/>
<rect x="520" y="130" width="10" height="10" fill="url(#p6)"/>
<rect x="530" y="130" width="10" height="10" fill="url(#p7)"/>
<rect x="540" y="130" width="10" height="10" fill="url(#p6)"/>
<rect x="550" y="130" width="10" height="10" fill="url(#p5)"/>
<rect x="560" y="130" width="10" height="10" fill="url(#p7)"/>
<rect x="300" y="140" width="10" height="10" fill="url(#p2)"/>
<rect x="310" y="140" width="30" height="10" fill="url(#p3)"/>
<rect x="340" y="140" width="50" height="10" fill="url(#p2)"/>
<rect x="390" y="140" width="30" height="10" fill="url(#p1)"/>
<rect x="420" y="140" width="20" height="10" fill="url(#p3)"/>
<rect x="440" y="140" width="30" height="10" fill="url(#p2)"/>
<rect x="470" y="140" width="20" height="10" fill="url(#p3)"/>
<rect x="490" y="140" width="10" height="10" fill="url(#p5)"/>
<rect x="500" y="140" width="10" height="10" fill="url(#p6)"/>
<rect x="510" y="140" width="10" height="10" fill="url(#p5)"/>
<rect x="520" y="140" width="20" height="10" fill="url(#p6)"/>
<rect x="540" y="140" width="10" height="10" fill="url(#p4)"/>
<rect x="550" y="140" width="10" height="10" fill="url(#p6)"/>
<rect x="560" y="140" width="10" height="10" fill="url(#p8)"/>
<rect x="300" y="150" width="10" height="10" fill="url(#p1)"/>
<rect x="310" y="150" width="10" height="10" fill="url(#p3)"/>
<rect x="320" y="150" width="10" height="10" fill="url(#p4)"/>
<rect x="330" y="150" width="30" height="10" fill="url(#p3)"/>
<rect x="360" y="150" width="10" height="10" fill="url(#p2)"/>
<rect x="370" y="150" width="50" height="10" fill="url(#p1)"/>
<rect x="420" y="150" width="20" height="10" fill="url(#p4)"/>
<rect x="440" y="150" width="10" height="10" fill="url(#p2)"/>
<rect x="450" y="150" width="20" height="10" fill="url(#p1)"/>
<rect x="470" y="150" width="10" height="10" fill="url(#p2)"/>
<rect x="480" y="150" width="20" height="10" fill="url(#p3)"/>
<rect x="500" y="150" width="10" height="10" fill="url(#p6)"/>
<rect x="510" y="150" width="10" height="10" fill="url(#p5)"/>
<rect x="520" y="150" width="10" height="10" fill="url(#p6)"/>
<rect x="530" y="150" width="10" height="10" fill="url(#p5)"/>
<rect x="540" y="150" width="10" height="10" fill="url(#p4)"/>
<rect x="550" y="150" width="10" height="10" fill="url(#p5)"/>
<rect x="560" y="150" width="10" height="10" fill="url(#p7)"/>
<rect x="300" y="160" width="10" height="10" fill="url(#p2)"/>
<rect x="310" y="160" width="50" height="10" fill="url(#p3)"/>
<rect x="360" y="160" width="10" height="10" fill="url(#p2)"/>
<rect x="370" y="160" width="50" height="10" fill="url(#p1)"/>
<rect x="420" y="160" width="20" height="10" fill="url(#p4)"/>
<rect x="440" y="160" width="10" height="10" fill="url(#p1)"/>
<rect x="450" y="160" width="10" height="10" fill="url(#p2)"/>
<rect x="460" y="160" width="10" height="10" fill="url(#p4)"/>
<rect x="470" y="160" width="10" height="10" fill="url(#p3)"/>
<rect x="480" y="160" width="10" height="10" fill="url(#p4)"/>
<rect x="490" y="160" width="30" height="10" fill="url(#p5)"/>
<rect x="520" y="160" width="10" height="10" fill="url(#p6)"/>
<rect x="530" y="160" width="30" height="10" fill="url(#p5)"/>
<rect x="560" y="160" width="10" height="10" fill="url(#p6)"/>
<rect x="300" y="170" width="20" height="10" fill="url(#p2)"/>
<rect x="320" y="170" width="20" height="10" fill="url(#p3)"/>
<rect x="340" y="170" width="20" height="10" fill="url(#p2)"/>
<rect x="360" y="170" width="60" height="10" fill="url(#p1)"/>
<rect x="420" y="170" width="20" height="10" fill="url(#p2)"/>
<rect x="440" y="170" width="10" height="10" fill="url(#p1)"/>
<rect x="450" y="170" width="10" height="10" fill="url(#p2)"/>
<rect x="460" y="170" width="10" height="10" fill="url(#p5)"/>
<rect x="470" y="170" width="10" height="10" fill="url(#p3)"/>
<rect x="480" y="170" width="20" height="10" fill="url(#p4)"/>
<rect x="500" y="170" width="20" height="10" fill="url(#p5)"/>
<rect x="520" y="170" width="10" height="10" fill="url(#p6)"/>
<rect x="530" y="170" width="10" height="10" fill="url(#p5)"/>
<rect x="540" y="170" width="10" height="10" fill="url(#p4)"/>
<rect x="550" y="170" width="10" height="10" fill="url(#p5)"/>
<rect x="560" y="170" width="10" height="10" fill="url(#p6)"/>
<rect x="300" y="180" width="10" height="10" fill="url(#pp)"/>
<rect x="310" y="180" width="10" height="10" fill="url(#p5)"/>
<rect x="320" y="180" width="10" height="10" fill="url(#p4)"/>
<rect x="330" y="180" width="20" height="10" fill="url(#p3)"/>
<rect x="350" y="180" width="10" height="10" fill="url(#p2)"/>
<rect x="360" y="180" width="20" height="10" fill="url(#p1)"/>
<rect x="400" y="180" width="10" height="10" fill="url(#p1)"/>
<rect x="410" y="180" width="30" height="10" fill="url(#p2)"/>
<rect x="440" y="180" width="10" height="10" fill="url(#p1)"/>
<rect x="450" y="180" width="20" height="10" fill="url(#p2)"/>
<rect x="470" y="180" width="40" height="10" fill="url(#p3)"/>
<rect x="510" y="180" width="10" height="10" fill="url(#p4)"/>
<rect x="520" y="180" width="20" height="10" fill="url(#p3)"/>
<rect x="540" y="180" width="20" height="10" fill="url(#p4)"/>
<rect x="560" y="180" width="10" height="10" fill="url(#p5)"/>
<rect x="300" y="190" width="10" height="10" fill="url(#p3)"/>
<rect x="310" y="190" width="30" height="10" fill="url(#pp)"/>
<rect x="340" y="190" width="10" height="10" fill="url(#p3)"/>
<rect x="350" y="190" width="10" height="10" fill="url(#p1)"/>
<rect x="410" y="190" width="10" height="10" fill="url(#p1)"/>
<rect x="420" y="190" width="10" height="10" fill="url(#p3)"/>
<rect x="430" y="190" width="10" height="10" fill="url(#p5)"/>
<rect x="440" y="190" width="30" height="10" fill="url(#p6)"/>
<rect x="470" y="190" width="10" height="10" fill="url(#p5)"/>
<rect x="480" y="190" width="20" height="10" fill="url(#p4)"/>
<rect x="500" y="190" width="10" height="10" fill="url(#p3)"/>
<rect x="510" y="190" width="10" height="10" fill="url(#p2)"/>
<rect x="520" y="190" width="30" height="10" fill="url(#p3)"/>
<rect x="550" y="190" width="10" height="10" fill="url(#p4)"/>
<rect x="560" y="190" width="10" height="10" fill="url(#p3)"/>
<rect x="300" y="200" width="10" height="10" fill="url(#p3)"/>
<rect x="310" y="200" width="10" height="10" fill="url(#pp)"/>
<rect x="320" y="200" width="10" height="10" fill="url(#pq)"/>
<rect x="330" y="200" width="10" height="10" fill="url(#pp)"/>
<rect x="340" y="200" width="10" height="10" fill="url(#p2)"/>
<rect x="350" y="200" width="10" height="10" fill="url(#p1)"/>
<rect x="380" y="200" width="10" height="10" fill="url(#pa)"/>
<rect x="410" y="200" width="10" height="10" fill="url(#p2)"/>
<rect x="420" y="200" width="10" height="10" fill="url(#p5)"/>
<rect x="430" y="200" width="20" height="10" fill="url(#p7)"/>
<rect x="450" y="200" width="10" height="10" fill="url(#p8)"/>
<rect x="460" y="200" width="10" height="10" fill="url(#p7)"/>
<rect x="470" y="200" width="10" height="10" fill="url(#p5)"/>
<rect x="480" y="200" width="10" height="10" fill="url(#p4)"/>
<rect x="490" y="200" width="10" height="10" fill="url(#p3)"/>
<rect x="500" y="200" width="10" height="10" fill="url(#p2)"/>
<rect x="510" y="200" width="20" height="10" fill="url(#p3)"/>
<rect x="530" y="200" width="10" height="10" fill="url(#p4)"/>
<rect x="540" y="200" width="20" height="10" fill="url(#p3)"/>
<rect x="560" y="200" width="20" height="10" fill="url(#p2)"/>
<rect x="580" y="200" width="10" height="10" fill="url(#p3)"/>
<rect x="300" y="210" width="20" height="10" fill="url(#pq)"/>
<rect x="320" y="210" width="20" height="10" fill="url(#pp)"/>
<rect x="340" y="210" width="10" height="10" fill="url(#p1)"/>
<rect x="360" y="210" width="10" height="10" fill="url(#p1)"/>
<rect x="410" y="210" width="10" height="10" fill="url(#p1)"/>
<rect x="420" y="210" width="10" height="10" fill="url(#p4)"/>
<rect x="430" y="210" width="10" height="10" fill="url(#p6)"/>
<rect x="440" y="210" width="20" height="10" fill="url(#p7)"/>
<rect x="460" y="210" width="10" height="10" fill="url(#p6)"/>
<rect x="470" y="210" width="10" height="10" fill="url(#p5)"/>
<rect x="480" y="210" width="30" height="10" fill="url(#p3)"/>
<rect x="510" y="210" width="10" height="10" fill="url(#p4)"/>
<rect x="520" y="210" width="10" height="10" fill="url(#p3)"/>
<rect x="530" y="210" width="10" height="10" fill="url(#p5)"/>
<rect x="540" y="210" width="20" height="10" fill="url(#p3)"/>
<rect x="560" y="210" width="10" height="10" fill="url(#p2)"/>
<rect x="570" y="210" width="20" height="10" fill="url(#p4)"/>
<rect x="300" y="220" width="10" height="10" fill="url(#pq)"/>
<rect x="310" y="220" width="10" height="10" fill="url(#pb)"/>
<rect x="320" y="220" width="10" height="10" fill="url(#pq)"/>
<rect x="330" y="220" width="10" height="10" fill="url(#pb)"/>
<rect x="340" y="220" width="10" height="10" fill="url(#pp)"/>
<rect x="360" y="220" width="30" height="10" fill="url(#p1)"/>
<rect x="410" y="220" width="10" height="10" fill="url(#p1)"/>
<rect x="420" y="220" width="10" height="10" fill="url(#p2)"/>
<rect x="430" y="220" width="10" height="10" fill="url(#p4)"/>
<rect x="440" y="220" width="20" height="10" fill="url(#p5)"/>
<rect x="460" y="220" width="10" height="10" fill="url(#p4)"/>
<rect x="470" y="220" width="20" height="10" fill="url(#p3)"/>
<rect x="490" y="220" width="10" height="10" fill="url(#p2)"/>
<rect x="500" y="220" width="10" height="10" fill="url(#p1)"/>
<rect x="510" y="220" width="20" height="10" fill="url(#p2)"/>
<rect x="530" y="220" width="10" height="10" fill="url(#p4)"/>
<rect x="540" y="220" width="10" height="10" fill="url(#p2)"/>
<rect x="550" y="220" width="10" height="10" fill="url(#p1)"/>
<rect x="560" y="220" width="20" height="10" fill="url(#p3)"/>
<rect x="580" y="220" width="10" height="10" fill="url(#p1)"/>
<rect x="300" y="230" width="10" height="10" fill="url(#pb)"/>
<rect x="310" y="230" width="10" height="10" fill="url(#pa)"/>
<rect x="320" y="230" width="20" height="10" fill="url(#pb)"/>
<rect x="340" y="230" width="10" height="10" fill="url(#pa)"/>
<rect x="370" y="230" width="10" height="10" fill="url(#p2)"/>
<rect x="380" y="230" width="10" height="10" fill="url(#pq)"/>
<rect x="390" y="230" width="30" height="10" fill="url(#p2)"/>
<rect x="420" y="230" width="20" height="10" fill="url(#p1)"/>
<rect x="450" y="230" width="40" height="10" fill="url(#p1)"/>
<rect x="490" y="230" width="10" height="10" fill="url(#pa)"/>
<rect x="500" y="230" width="30" height="10" fill="url(#p1)"/>
<rect x="530" y="230" width="10" height="10" fill="url(#p2)"/>
<rect x="540" y="230" width="10" height="10" fill="url(#p3)"/>
<rect x="550" y="230" width="20" height="10" fill="url(#p2)"/>
<rect x="570" y="230" width="10" height="10" fill="url(#pp)"/>
<rect x="300" y="240" width="30" height="10" fill="url(#pb)"/>
<rect x="330" y="240" width="20" height="10" fill="url(#pa)"/>
<rect x="370" y="240" width="10" height="10" fill="url(#pa)"/>
<rect x="380" y="240" width="10" height="10" fill="url(#pq)"/>
<rect x="390" y="240" width="50" height="10" fill="url(#p1)"/>
<rect x="450" y="240" width="40" height="10" fill="url(#p1)"/>
<rect x="490" y="240" width="20" height="10" fill="url(#pa)"/>
<rect x="510" y="240" width="10" height="10" fill="url(#p1)"/>
<rect x="520" y="240" width="30" height="10" fill="url(#p2)"/>
<rect x="550" y="240" width="10" height="10" fill="url(#p1)"/>
<rect x="560" y="240" width="20" height="10" fill="url(#pn)"/>
<rect x="310" y="250" width="40" height="10" fill="url(#pa)"/>
<rect x="370" y="250" width="20" height="10" fill="url(#pa)"/>
<rect x="390" y="250" width="20" height="10" fill="url(#p2)"/>
<rect x="410" y="250" width="10" height="10" fill="url(#p1)"/>
<rect x="450" y="250" width="20" height="10" fill="url(#p1)"/>
<rect x="490" y="250" width="10" height="10" fill="url(#pa)"/>
<rect x="510" y="250" width="20" height="10" fill="url(#pa)"/>
<rect x="530" y="250" width="20" height="10" fill="url(#p2)"/>
<rect x="550" y="250" width="10" height="10" fill="url(#p1)"/>
<rect x="560" y="250" width="20" height="10" fill="url(#pn)"/>
<rect x="320" y="260" width="10" height="10" fill="url(#pa)"/>
<rect x="330" y="260" width="10" height="10" fill="url(#pb)"/>
<rect x="340" y="260" width="10" height="10" fill="url(#pa)"/>
<rect x="430" y="260" width="10" height="10" fill="url(#p1)"/>
<rect x="440" y="260" width="10" height="10" fill="url(#p4)"/>
<rect x="450" y="260" width="10" height="10" fill="url(#p3)"/>
<rect x="480" y="260" width="40" height="10" fill="url(#pa)"/>
<rect x="520" y="260" width="10" height="10" fill="url(#p1)"/>
<rect x="530" y="260" width="20" height="10" fill="url(#p2)"/>
<rect x="550" y="260" width="10" height="10" fill="url(#p1)"/>
<rect x="560" y="260" width="10" height="10" fill="url(#pn)"/>
<rect x="330" y="270" width="20" height="10" fill="url(#pb)"/>
<rect x="400" y="270" width="20" height="10" fill="url(#pa)"/>
<rect x="490" y="270" width="30" height="10" fill="url(#pb)"/>
<rect x="520" y="270" width="10" height="10" fill="url(#p1)"/>
<rect x="530" y="270" width="40" height="10" fill="url(#pb)"/>
<rect x="570" y="270" width="10" height="10" fill="url(#pa)"/>
<rect x="320" y="280" width="20" height="10" fill="url(#pa)"/>
<rect x="340" y="280" width="10" height="10" fill="url(#pb)"/>
<rect x="350" y="280" width="10" height="10" fill="url(#pa)"/>
<rect x="390" y="280" width="10" height="10" fill="url(#pa)"/>
<rect x="400" y="280" width="10" height="10" fill="url(#pb)"/>
<rect x="410" y="280" width="20" height="10" fill="url(#pa)"/>
<rect x="440" y="280" width="10" height="10" fill="url(#pa)"/>
<rect x="450" y="280" width="10" height="10" fill="url(#pp)"/>
<rect x="490" y="280" width="10" height="10" fill="url(#pb)"/>
<rect x="500" y="280" width="10" height="10" fill="url(#pd)"/>
<rect x="510" y="280" width="40" height="10" fill="url(#pb)"/>
<rect x="560" y="280" width="10" height="10" fill="url(#pd)"/>
<rect x="570" y="280" width="10" height="10" fill="url(#pb)"/>
<rect x="580" y="280" width="10" height="10" fill="url(#pa)"/>
<rect x="330" y="290" width="10" height="10" fill="url(#pa)"/>
<rect x="340" y="290" width="10" height="10" fill="url(#pb)"/>
<rect x="350" y="290" width="10" height="10" fill="url(#pa)"/>
<rect x="380" y="290" width="30" height="10" fill="url(#pa)"/>
<rect x="420" y="290" width="20" height="10" fill="url(#pa)"/>
<rect x="440" y="290" width="10" height="10" fill="url(#pb)"/>
<rect x="450" y="290" width="10" height="10" fill="url(#pa)"/>
<rect x="490" y="290" width="10" height="10" fill="url(#pb)"/>
<rect x="500" y="290" width="10" height="10" fill="url(#pd)"/>
<rect x="510" y="290" width="30" height="10" fill="url(#pb)"/>
<rect x="540" y="290" width="10" height="10" fill="url(#pa)"/>
<rect x="560" y="290" width="20" height="10" fill="url(#pb)"/>
<rect x="580" y="290" width="10" height="10" fill="url(#pa)"/>
<rect x="350" y="300" width="10" height="10" fill="url(#pa)"/>
<rect x="360" y="300" width="10" height="10" fill="url(#pb)"/>
<rect x="370" y="300" width="10" height="10" fill="url(#pa)"/>
<rect x="390" y="300" width="20" height="10" fill="url(#pa)"/>
<rect x="410" y="300" width="10" height="10" fill="url(#pb)"/>
<rect x="420" y="300" width="10" height="10" fill="url(#pp)"/>
<rect x="430" y="300" width="30" height="10" fill="url(#pb)"/>
<rect x="460" y="300" width="20" height="10" fill="url(#pa)"/>
<rect x="500" y="300" width="30" height="10" fill="url(#pb)"/>
<rect x="530" y="300" width="10" height="10" fill="url(#pd)"/>
<rect x="540" y="300" width="10" height="10" fill="url(#pb)"/>
<rect x="560" y="300" width="10" height="10" fill="url(#pb)"/>
<rect x="570" y="300" width="20" height="10" fill="url(#pg)"/>
<rect x="590" y="300" width="10" height="10" fill="url(#pa)"/>
<rect x="330" y="310" width="30" height="10" fill="url(#pa)"/>
<rect x="360" y="310" width="10" height="10" fill="url(#pb)"/>
<rect x="370" y="310" width="10" height="10" fill="url(#pa)"/>
<rect x="390" y="310" width="30" height="10" fill="url(#pa)"/>
<rect x="430" y="310" width="20" height="10" fill="url(#pb)"/>
<rect x="450" y="310" width="10" height="10" fill="url(#pa)"/>
<rect x="460" y="310" width="10" height="10" fill="url(#pb)"/>
<rect x="470" y="310" width="10" height="10" fill="url(#pa)"/>
<rect x="510" y="310" width="10" height="10" fill="url(#pa)"/>
<rect x="520" y="310" width="10" height="10" fill="url(#pb)"/>
<rect x="530" y="310" width="10" height="10" fill="url(#pd)"/>
<rect x="540" y="310" width="10" height="10" fill="url(#pb)"/>
<rect x="560" y="310" width="10" height="10" fill="url(#pb)"/>
<rect x="570" y="310" width="20" height="10" fill="url(#pg)"/>
<rect x="320" y="320" width="10" height="10" fill="url(#pa)"/>
<rect x="330" y="320" width="10" height="10" fill="url(#pb)"/>
<rect x="340" y="320" width="60" height="10" fill="url(#pa)"/>
<rect x="430" y="320" width="10" height="10" fill="url(#pa)"/>
<rect x="440" y="320" width="10" height="10" fill="url(#pb)"/>
<rect x="450" y="320" width="10" height="10" fill="url(#pa)"/>
<rect x="460" y="320" width="10" height="10" fill="url(#pb)"/>
<rect x="470" y="320" width="30" height="10" fill="url(#pa)"/>
<rect x="510" y="320" width="20" height="10" fill="url(#pa)"/>
<rect x="530" y="320" width="20" height="10" fill="url(#pb)"/>
<rect x="560" y="320" width="20" height="10" fill="url(#pg)"/>
<rect x="580" y="320" width="10" height="10" fill="url(#pj)"/>
<rect x="590" y="320" width="10" height="10" fill="url(#pb)"/>
<rect x="300" y="330" width="40" height="10" fill="url(#pb)"/>
<rect x="340" y="330" width="10" height="10" fill="url(#pa)"/>
<rect x="350" y="330" width="20" height="10" fill="url(#pb)"/>
<rect x="370" y="330" width="30" height="10" fill="url(#pa)"/>
<rect x="420" y="330" width="90" height="10" fill="url(#pa)"/>
<rect x="530" y="330" width="10" height="10" fill="url(#pb)"/>
<rect x="540" y="330" width="10" height="10" fill="url(#pa)"/>
<rect x="560" y="330" width="10" height="10" fill="url(#pg)"/>
<rect x="570" y="330" width="20" height="10" fill="url(#pj)"/>
<rect x="590" y="330" width="10" height="10" fill="url(#pb)"/>
<rect x="290" y="340" width="10" height="10" fill="url(#pb)"/>
<rect x="300" y="340" width="10" height="10" fill="url(#pd)"/>
<rect x="310" y="340" width="40" height="10" fill="url(#pb)"/>
<rect x="350" y="340" width="30" height="10" fill="url(#pd)"/>
<rect x="430" y="340" width="20" height="10" fill="url(#pa)"/>
<rect x="450" y="340" width="10" height="10" fill="url(#pb)"/>
<rect x="460" y="340" width="10" height="10" fill="url(#pa)"/>
<rect x="470" y="340" width="10" height="10" fill="url(#pb)"/>
<rect x="480" y="340" width="10" height="10" fill="url(#pa)"/>
<rect x="490" y="340" width="20" height="10" fill="url(#pb)"/>
<rect x="510" y="340" width="10" height="10" fill="url(#pa)"/>
<rect x="530" y="340" width="10" height="10" fill="url(#pa)"/>
<rect x="560" y="340" width="30" height="10" fill="url(#pj)"/>
<rect x="590" y="340" width="10" height="10" fill="url(#pb)"/>
<rect x="290" y="350" width="10" height="10" fill="url(#pd)"/>
<rect x="300" y="350" width="10" height="10" fill="url(#pe)"/>
<rect x="310" y="350" width="10" height="10" fill="url(#py)"/>
<rect x="320" y="350" width="10" height="10" fill="url(#pd)"/>
<rect x="330" y="350" width="10" height="10" fill="url(#pe)"/>
<rect x="340" y="350" width="10" height="10" fill="url(#py)"/>
<rect x="350" y="350" width="10" height="10" fill="url(#pe)"/>
<rect x="360" y="350" width="10" height="10" fill="url(#pf)"/>
<rect x="370" y="350" width="10" height="10" fill="url(#pe)"/>
<rect x="380" y="350" width="30" height="10" fill="url(#pa)"/>
<rect x="440" y="350" width="10" height="10" fill="url(#pb)"/>
<rect x="450" y="350" width="20" height="10" fill="url(#pa)"/>
<rect x="470" y="350" width="10" height="10" fill="url(#pb)"/>
<rect x="480" y="350" width="10" height="10" fill="url(#pa)"/>
<rect x="490" y="350" width="10" height="10" fill="url(#pb)"/>
<rect x="550" y="350" width="10" height="10" fill="url(#pa)"/>
<rect x="560" y="350" width="30" height="10" fill="url(#pj)"/>
<rect x="290" y="360" width="10" height="10" fill="url(#pe)"/>
<rect x="300" y="360" width="20" height="10" fill="url(#py)"/>
<rect x="320" y="360" width="10" height="10" fill="url(#pb)"/>
<rect x="330" y="360" width="10" height="10" fill="url(#pe)"/>
<rect x="340" y="360" width="10" height="10" fill="url(#py)"/>
<rect x="350" y="360" width="10" height="10" fill="url(#pe)"/>
<rect x="360" y="360" width="10" height="10" fill="url(#pf)"/>
<rect x="370" y="360" width="10" height="10" fill="url(#pe)"/>
<rect x="380" y="360" width="10" height="10" fill="url(#pb)"/>
<rect x="390" y="360" width="10" height="10" fill="url(#pn)"/>
<rect x="400" y="360" width="10" height="10" fill="url(#pa)"/>
<rect x="430" y="360" width="60" height="10" fill="url(#pa)"/>
<rect x="550" y="360" width="10" height="10" fill="url(#pa)"/>
<rect x="560" y="360" width="20" height="10" fill="url(#pj)"/>
<rect x="580" y="360" width="10" height="10" fill="url(#pe)"/>
<rect x="280" y="370" width="10" height="10" fill="url(#pd)"/>
<rect x="290" y="370" width="40" height="10" fill="url(#pe)"/>
<rect x="330" y="370" width="10" height="10" fill="url(#pd)"/>
<rect x="340" y="370" width="30" height="10" fill="url(#pe)"/>
<rect x="370" y="370" width="10" height="10" fill="url(#py)"/>
<rect x="380" y="370" width="10" height="10" fill="url(#pd)"/>
<rect x="390" y="370" width="10" height="10" fill="url(#pu)"/>
<rect x="400" y="370" width="10" height="10" fill="url(#pa)"/>
<rect x="420" y="370" width="10" height="10" fill="url(#pa)"/>
<rect x="430" y="370" width="10" height="10" fill="url(#pb)"/>
<rect x="440" y="370" width="40" height="10" fill="url(#pa)"/>
<rect x="560" y="370" width="20" height="10" fill="url(#pj)"/>
<rect x="580" y="370" width="10" height="10" fill="url(#pe)"/>
<rect x="280" y="380" width="30" height="10" fill="url(#pe)"/>
<rect x="310" y="380" width="20" height="10" fill="url(#pf)"/>
<rect x="330" y="380" width="10" height="10" fill="url(#pe)"/>
<rect x="340" y="380" width="10" height="10" fill="url(#pu)"/>
<rect x="350" y="380" width="40" height="10" fill="url(#pe)"/>
<rect x="390" y="380" width="10" height="10" fill="url(#pu)"/>
<rect x="400" y="380" width="10" height="10" fill="url(#pn)"/>
<rect x="410" y="380" width="10" height="10" fill="url(#pb)"/>
<rect x="420" y="380" width="10" height="10" fill="url(#pn)"/>
<rect x="430" y="380" width="60" height="10" fill="url(#pa)"/>
<rect x="560" y="380" width="30" height="10" fill="url(#pj)"/>
<rect x="590" y="380" width="10" height="10" fill="url(#pe)"/>
<rect x="280" y="390" width="20" height="10" fill="url(#pe)"/>
<rect x="300" y="390" width="10" height="10" fill="url(#pf)"/>
<rect x="310" y="390" width="40" height="10" fill="url(#pe)"/>
<rect x="350" y="390" width="10" height="10" fill="url(#pu)"/>
<rect x="360" y="390" width="30" height="10" fill="url(#pe)"/>
<rect x="390" y="390" width="20" height="10" fill="url(#pu)"/>
<rect x="410" y="390" width="10" height="10" fill="url(#pn)"/>
<rect x="420" y="390" width="80" height="10" fill="url(#pa)"/>
<rect x="560" y="390" width="20" height="10" fill="url(#pj)"/>
<rect x="580" y="390" width="20" height="10" fill="url(#pe)"/>
<rect x="270" y="400" width="10" height="10" fill="url(#pu)"/>
<rect x="280" y="400" width="10" height="10" fill="url(#pd)"/>
<rect x="290" y="400" width="20" height="10" fill="url(#pf)"/>
<rect x="310" y="400" width="10" height="10" fill="url(#pb)"/>
<rect x="320" y="400" width="10" height="10" fill="url(#pd)"/>
<rect x="330" y="400" width="10" height="10" fill="url(#pe)"/>
<rect x="340" y="400" width="10" height="10" fill="url(#pd)"/>
<rect x="350" y="400" width="30" height="10" fill="url(#pe)"/>
<rect x="380" y="400" width="10" height="10" fill="url(#pf)"/>
<rect x="390" y="400" width="10" height="10" fill="url(#pu)"/>
<rect x="400" y="400" width="20" height="10" fill="url(#po)"/>
<rect x="420" y="400" width="30" height="10" fill="url(#pa)"/>
<rect x="450" y="400" width="10" height="10" fill="url(#po)"/>
<rect x="460" y="400" width="10" height="10" fill="url(#pn)"/>
<rect x="470" y="400" width="30" height="10" fill="url(#pa)"/>
<rect x="500" y="400" width="10" height="10" fill="url(#pb)"/>
<rect x="520" y="400" width="20" height="10" fill="url(#pb)"/>
<rect x="560" y="400" width="20" height="10" fill="url(#pj)"/>
<rect x="580" y="400" width="10" height="10" fill="url(#pe)"/>
<rect x="270" y="410" width="10" height="10" fill="url(#pu)"/>
<rect x="280" y="410" width="10" height="10" fill="url(#pb)"/>
<rect x="290" y="410" width="10" height="10" fill="url(#pd)"/>
<rect x="300" y="410" width="10" height="10" fill="url(#pe)"/>
<rect x="310" y="410" width="10" height="10" fill="url(#pd)"/>
<rect x="320" y="410" width="20" height="10" fill="url(#pe)"/>
<rect x="340" y="410" width="10" height="10" fill="url(#pb)"/>
<rect x="350" y="410" width="10" height="10" fill="url(#pd)"/>
<rect x="360" y="410" width="10" height="10" fill="url(#pe)"/>
<rect x="370" y="410" width="10" height="10" fill="url(#pd)"/>
<rect x="380" y="410" width="10" height="10" fill="url(#pf)"/>
<rect x="390" y="410" width="10" height="10" fill="url(#pd)"/>
<rect x="400" y="410" width="20" height="10" fill="url(#po)"/>
<rect x="420" y="410" width="10" height="10" fill="url(#pn)"/>
<rect x="430" y="410" width="20" height="10" fill="url(#pa)"/>
<rect x="450" y="410" width="20" height="10" fill="url(#pn)"/>
<rect x="470" y="410" width="30" height="10" fill="url(#pa)"/>
<rect x="500" y="410" width="20" height="10" fill="url(#pb)"/>
<rect x="520" y="410" width="20" height="10" fill="url(#pd)"/>
<rect x="560" y="410" width="10" height="10" fill="url(#pj)"/>
<rect x="570" y="410" width="10" height="10" fill="url(#pe)"/>
<rect x="580" y="410" width="10" height="10" fill="url(#py)"/>
<rect x="260" y="420" width="10" height="10" fill="url(#pd)"/>
<rect x="270" y="420" width="10" height="10" fill="url(#pe)"/>
<rect x="280" y="420" width="10" height="10" fill="url(#py)"/>
<rect x="290" y="420" width="10" height="10" fill="url(#pd)"/>
<rect x="300" y="420" width="20" height="10" fill="url(#pe)"/>
<rect x="320" y="420" width="10" height="10" fill="url(#pf)"/>
<rect x="330" y="420" width="10" height="10" fill="url(#pl)"/>
<rect x="340" y="420" width="10" height="10" fill="url(#pf)"/>
<rect x="350" y="420" width="10" height="10" fill="url(#ph)"/>
<rect x="360" y="420" width="10" height="10" fill="url(#pf)"/>
<rect x="370" y="420" width="10" height="10" fill="url(#pd)"/>
<rect x="380" y="420" width="10" height="10" fill="url(#pf)"/>
<rect x="390" y="420" width="20" height="10" fill="url(#pu)"/>
<rect x="410" y="420" width="10" height="10" fill="url(#pd)"/>
<rect x="420" y="420" width="10" height="10" fill="url(#pu)"/>
<rect x="430" y="420" width="10" height="10" fill="url(#po)"/>
<rect x="440" y="420" width="10" height="10" fill="url(#py)"/>
<rect x="450" y="420" width="10" height="10" fill="url(#pu)"/>
<rect x="460" y="420" width="10" height="10" fill="url(#pd)"/>
<rect x="470" y="420" width="10" height="10" fill="url(#pb)"/>
<rect x="500" y="420" width="10" height="10" fill="url(#pb)"/>
<rect x="560" y="420" width="10" height="10" fill="url(#pj)"/>
<rect x="570" y="420" width="20" height="10" fill="url(#pe)"/>
<rect x="590" y="420" width="10" height="10" fill="url(#pd)"/>
<rect x="260" y="430" width="10" height="10" fill="url(#pd)"/>
<rect x="270" y="430" width="10" height="10" fill="url(#pe)"/>
<rect x="280" y="430" width="20" height="10" fill="url(#pb)"/>
<rect x="300" y="430" width="10" height="10" fill="url(#pe)"/>
<rect x="310" y="430" width="10" height="10" fill="url(#pb)"/>
<rect x="340" y="430" width="10" height="10" fill="url(#pb)"/>
<rect x="350" y="430" width="10" height="10" fill="url(#pf)"/>
<rect x="360" y="430" width="10" height="10" fill="url(#ph)"/>
<rect x="370" y="430" width="10" height="10" fill="url(#pe)"/>
<rect x="380" y="430" width="10" height="10" fill="url(#pf)"/>
<rect x="390" y="430" width="10" height="10" fill="url(#po)"/>
<rect x="400" y="430" width="10" height="10" fill="url(#pu)"/>
<rect x="410" y="430" width="20" height="10" fill="url(#po)"/>
<rect x="430" y="430" width="10" height="10" fill="url(#pu)"/>
<rect x="440" y="430" width="10" height="10" fill="url(#po)"/>
<rect x="450" y="430" width="10" height="10" fill="url(#pu)"/>
<rect x="460" y="430" width="30" height="10" fill="url(#pe)"/>
<rect x="500" y="430" width="10" height="10" fill="url(#pa)"/>
<rect x="560" y="430" width="10" height="10" fill="url(#pj)"/>
<rect x="570" y="430" width="10" height="10" fill="url(#pe)"/>
<rect x="580" y="430" width="10" height="10" fill="url(#py)"/>
<rect x="590" y="430" width="10" height="10" fill="url(#pd)"/>
<rect x="260" y="440" width="10" height="10" fill="url(#pu)"/>
<rect x="270" y="440" width="30" height="10" fill="url(#pe)"/>
<rect x="300" y="440" width="20" height="10" fill="url(#pf)"/>
<rect x="320" y="440" width="10" height="10" fill="url(#pd)"/>
<rect x="330" y="440" width="10" height="10" fill="url(#pb)"/>
<rect x="340" y="440" width="10" height="10" fill="url(#pf)"/>
<rect x="350" y="440" width="10" height="10" fill="url(#ph)"/>
<rect x="360" y="440" width="10" height="10" fill="url(#pf)"/>
<rect x="370" y="440" width="10" height="10" fill="url(#pd)"/>
<rect x="380" y="440" width="10" height="10" fill="url(#pf)"/>
<rect x="390" y="440" width="10" height="10" fill="url(#po)"/>
<rect x="400" y="440" width="10" height="10" fill="url(#pu)"/>
<rect x="410" y="440" width="10" height="10" fill="url(#po)"/>
<rect x="420" y="440" width="10" height="10" fill="url(#pu)"/>
<rect x="430" y="440" width="10" height="10" fill="url(#po)"/>
<rect x="440" y="440" width="10" height="10" fill="url(#pu)"/>
<rect x="450" y="440" width="10" height="10" fill="url(#po)"/>
<rect x="460" y="440" width="40" height="10" fill="url(#pe)"/>
<rect x="540" y="440" width="10" height="10" fill="url(#pa)"/>
<rect x="560" y="440" width="10" height="10" fill="url(#pe)"/>
<rect x="570" y="440" width="10" height="10" fill="url(#py)"/>
<rect x="580" y="440" width="10" height="10" fill="url(#pu)"/>
<rect x="590" y="440" width="10" height="10" fill="url(#pd)"/>
<rect x="260" y="450" width="10" height="10" fill="url(#pu)"/>
<rect x="270" y="450" width="20" height="10" fill="url(#pb)"/>
<rect x="290" y="450" width="10" height="10" fill="url(#pe)"/>
<rect x="300" y="450" width="10" height="10" fill="url(#pf)"/>
<rect x="310" y="450" width="10" height="10" fill="url(#pb)"/>
<rect x="320" y="450" width="20" height="10" fill="url(#pd)"/>
<rect x="340" y="450" width="30" height="10" fill="url(#pf)"/>
<rect x="370" y="450" width="10" height="10" fill="url(#pb)"/>
<rect x="380" y="450" width="10" height="10" fill="url(#pe)"/>
<rect x="390" y="450" width="10" height="10" fill="url(#pu)"/>
<rect x="400" y="450" width="10" height="10" fill="url(#pe)"/>
<rect x="410" y="450" width="10" height="10" fill="url(#pd)"/>
<rect x="420" y="450" width="20" height="10" fill="url(#pu)"/>
<rect x="440" y="450" width="20" height="10" fill="url(#po)"/>
<rect x="460" y="450" width="10" height="10" fill="url(#pu)"/>
<rect x="470" y="450" width="10" height="10" fill="url(#po)"/>
<rect x="480" y="450" width="10" height="10" fill="url(#pu)"/>
<rect x="490" y="450" width="10" height="10" fill="url(#pe)"/>
<rect x="500" y="450" width="20" height="10" fill="url(#py)"/>
<rect x="520" y="450" width="10" height="10" fill="url(#pd)"/>
<rect x="550" y="450" width="20" height="10" fill="url(#pd)"/>
<rect x="570" y="450" width="30" height="10" fill="url(#pb)"/>
<rect x="600" y="450" width="10" height="10" fill="url(#pa)"/>
<rect x="260" y="460" width="10" height="10" fill="url(#pe)"/>
<rect x="270" y="460" width="10" height="10" fill="url(#pb)"/>
<rect x="280" y="460" width="10" height="10" fill="url(#pd)"/>
<rect x="290" y="460" width="20" height="10" fill="url(#pe)"/>
<rect x="310" y="460" width="10" height="10" fill="url(#pd)"/>
<rect x="320" y="460" width="10" height="10" fill="url(#pk)"/>
<rect x="330" y="460" width="10" height="10" fill="url(#pe)"/>
<rect x="340" y="460" width="10" height="10" fill="url(#pf)"/>
<rect x="350" y="460" width="10" height="10" fill="url(#pd)"/>
<rect x="360" y="460" width="10" height="10" fill="url(#pf)"/>
<rect x="370" y="460" width="10" height="10" fill="url(#pb)"/>
<rect x="380" y="460" width="30" height="10" fill="url(#pe)"/>
<rect x="410" y="460" width="20" height="10" fill="url(#pu)"/>
<rect x="430" y="460" width="10" height="10" fill="url(#po)"/>
<rect x="440" y="460" width="10" height="10" fill="url(#pu)"/>
<rect x="450" y="460" width="10" height="10" fill="url(#pd)"/>
<rect x="460" y="460" width="10" height="10" fill="url(#po)"/>
<rect x="470" y="460" width="10" height="10" fill="url(#pu)"/>
<rect x="480" y="460" width="10" height="10" fill="url(#pk)"/>
<rect x="490" y="460" width="10" height="10" fill="url(#pu)"/>
<rect x="500" y="460" width="10" height="10" fill="url(#py)"/>
<rect x="510" y="460" width="30" height="10" fill="url(#pe)"/>
<rect x="550" y="460" width="20" height="10" fill="url(#pd)"/>
<rect x="570" y="460" width="10" height="10" fill="url(#pb)"/>
<rect x="580" y="460" width="50" height="10" fill="url(#pa)"/>
<rect x="260" y="470" width="10" height="10" fill="url(#pe)"/>
<rect x="270" y="470" width="10" height="10" fill="url(#pp)"/>
<rect x="280" y="470" width="10" height="10" fill="url(#pd)"/>
<rect x="290" y="470" width="20" height="10" fill="url(#pe)"/>
<rect x="310" y="470" width="10" height="10" fill="url(#pb)"/>
<rect x="320" y="470" width="20" height="10" fill="url(#pe)"/>
<rect x="340" y="470" width="10" height="10" fill="url(#pf)"/>
<rect x="350" y="470" width="10" height="10" fill="url(#pe)"/>
<rect x="360" y="470" width="10" height="10" fill="url(#pf)"/>
<rect x="370" y="470" width="40" height="10" fill="url(#pe)"/>
<rect x="410" y="470" width="10" height="10" fill="url(#pu)"/>
<rect x="420" y="470" width="10" height="10" fill="url(#pd)"/>
<rect x="430" y="470" width="10" height="10" fill="url(#po)"/>
<rect x="440" y="470" width="20" height="10" fill="url(#pu)"/>
<rect x="460" y="470" width="10" height="10" fill="url(#po)"/>
<rect x="470" y="470" width="10" height="10" fill="url(#pu)"/>
<rect x="480" y="470" width="10" height="10" fill="url(#pUK)"/>
<rect x="490" y="470" width="10" height="10" fill="url(#pd)"/>
<rect x="500" y="470" width="20" height="10" fill="url(#pe)"/>
<rect x="520" y="470" width="20" height="10" fill="url(#pf)"/>
<rect x="540" y="470" width="10" height="10" fill="url(#pe)"/>
<rect x="550" y="470" width="20" height="10" fill="url(#pd)"/>
<rect x="570" y="470" width="20" height="10" fill="url(#pa)"/>
<rect x="590" y="470" width="30" height="10" fill="url(#pb)"/>
<rect x="620" y="470" width="10" height="10" fill="url(#pn)"/>
<rect x="260" y="480" width="20" height="10" fill="url(#pe)"/>
<rect x="280" y="480" width="20" height="10" fill="url(#pk)"/>
<rect x="300" y="480" width="10" height="10" fill="url(#pd)"/>
<rect x="310" y="480" width="10" height="10" fill="url(#px)"/>
<rect x="320" y="480" width="30" height="10" fill="url(#pb)"/>
<rect x="350" y="480" width="10" height="10" fill="url(#pf)"/>
<rect x="360" y="480" width="10" height="10" fill="url(#pe)"/>
<rect x="370" y="480" width="10" height="10" fill="url(#pu)"/>
<rect x="380" y="480" width="10" height="10" fill="url(#pw)"/>
<rect x="390" y="480" width="10" height="10" fill="url(#pu)"/>
<rect x="400" y="480" width="10" height="10" fill="url(#pe)"/>
<rect x="410" y="480" width="10" height="10" fill="url(#po)"/>
<rect x="420" y="480" width="10" height="10" fill="url(#pu)"/>
<rect x="430" y="480" width="10" height="10" fill="url(#po)"/>
<rect x="440" y="480" width="40" height="10" fill="url(#pu)"/>
<rect x="480" y="480" width="10" height="10" fill="url(#pUK)"/>
<rect x="490" y="480" width="20" height="10" fill="url(#pd)"/>
<rect x="510" y="480" width="10" height="10" fill="url(#pe)"/>
<rect x="520" y="480" width="20" height="10" fill="url(#pf)"/>
<rect x="540" y="480" width="10" height="10" fill="url(#pe)"/>
<rect x="550" y="480" width="10" height="10" fill="url(#pb)"/>
<rect x="560" y="480" width="40" height="10" fill="url(#pa)"/>
<rect x="600" y="480" width="20" height="10" fill="url(#pb)"/>
<rect x="620" y="480" width="20" height="10" fill="url(#pn)"/>
<rect x="270" y="490" width="20" height="10" fill="url(#pe)"/>
<rect x="290" y="490" width="10" height="10" fill="url(#pk)"/>
<rect x="300" y="490" width="10" height="10" fill="url(#pb)"/>
<rect x="310" y="490" width="20" height="10" fill="url(#pe)"/>
<rect x="330" y="490" width="10" height="10" fill="url(#pb)"/>
<rect x="340" y="490" width="10" height="10" fill="url(#pd)"/>
<rect x="350" y="490" width="20" height="10" fill="url(#pu)"/>
<rect x="370" y="490" width="10" height="10" fill="url(#pw)"/>
<rect x="380" y="490" width="20" height="10" fill="url(#pu)"/>
<rect x="400" y="490" width="10" height="10" fill="url(#pe)"/>
<rect x="410" y="490" width="10" height="10" fill="url(#po)"/>
<rect x="420" y="490" width="10" height="10" fill="url(#pk)"/>
<rect x="430" y="490" width="10" height="10" fill="url(#pm)"/>
<rect x="440" y="490" width="10" height="10" fill="url(#po)"/>
<rect x="450" y="490" width="10" height="10" fill="url(#pr)"/>
<rect x="460" y="490" width="10" height="10" fill="url(#po)"/>
<rect x="470" y="490" width="10" height="10" fill="url(#pu)"/>
<rect x="480" y="490" width="10" height="10" fill="url(#pd)"/>
<rect x="490" y="490" width="20" height="10" fill="url(#pe)"/>
<rect x="510" y="490" width="10" height="10" fill="url(#pu)"/>
<rect x="520" y="490" width="10" height="10" fill="url(#pf)"/>
<rect x="530" y="490" width="10" height="10" fill="url(#pe)"/>
<rect x="540" y="490" width="10" height="10" fill="url(#pb)"/>
<rect x="550" y="490" width="50" height="10" fill="url(#pa)"/>
<rect x="600" y="490" width="20" height="10" fill="url(#pn)"/>
<rect x="620" y="490" width="10" height="10" fill="url(#po)"/>
<rect x="630" y="490" width="10" height="10" fill="url(#pn)"/>
<rect x="270" y="500" width="10" height="10" fill="url(#pu)"/>
<rect x="280" y="500" width="10" height="10" fill="url(#px)"/>
<rect x="290" y="500" width="10" height="10" fill="url(#pe)"/>
<rect x="300" y="500" width="10" height="10" fill="url(#pb)"/>
<rect x="310" y="500" width="10" height="10" fill="url(#pe)"/>
<rect x="320" y="500" width="10" height="10" fill="url(#pf)"/>
<rect x="330" y="500" width="10" height="10" fill="url(#px)"/>
<rect x="340" y="500" width="10" height="10" fill="url(#pu)"/>
<rect x="350" y="500" width="30" height="10" fill="url(#pw)"/>
<rect x="380" y="500" width="10" height="10" fill="url(#pu)"/>
<rect x="390" y="500" width="10" height="10" fill="url(#po)"/>
<rect x="400" y="500" width="10" height="10" fill="url(#pm)"/>
<rect x="410" y="500" width="10" height="10" fill="url(#po)"/>
<rect x="420" y="500" width="20" height="10" fill="url(#pk)"/>
<rect x="440" y="500" width="10" height="10" fill="url(#pu)"/>
<rect x="450" y="500" width="30" height="10" fill="url(#po)"/>
<rect x="480" y="500" width="10" height="10" fill="url(#pu)"/>
<rect x="490" y="500" width="20" height="10" fill="url(#pe)"/>
<rect x="510" y="500" width="10" height="10" fill="url(#px)"/>
<rect x="520" y="500" width="10" height="10" fill="url(#pe)"/>
<rect x="530" y="500" width="10" height="10" fill="url(#pb)"/>
<rect x="540" y="500" width="20" height="10" fill="url(#pa)"/>
<rect x="560" y="500" width="10" height="10" fill="url(#pb)"/>
<rect x="570" y="500" width="20" height="10" fill="url(#pa)"/>
<rect x="590" y="500" width="20" height="10" fill="url(#pb)"/>
<rect x="610" y="500" width="10" height="10" fill="url(#pa)"/>
<rect x="280" y="510" width="10" height="10" fill="url(#pu)"/>
<rect x="290" y="510" width="20" height="10" fill="url(#px)"/>
<rect x="310" y="510" width="10" height="10" fill="url(#pe)"/>
<rect x="320" y="510" width="10" height="10" fill="url(#pb)"/>
<rect x="330" y="510" width="20" height="10" fill="url(#pw)"/>
<rect x="350" y="510" width="10" height="10" fill="url(#pu)"/>
<rect x="360" y="510" width="10" height="10" fill="url(#pw)"/>
<rect x="370" y="510" width="10" height="10" fill="url(#pu)"/>
<rect x="380" y="510" width="10" height="10" fill="url(#pd)"/>
<rect x="390" y="510" width="10" height="10" fill="url(#pe)"/>
<rect x="400" y="510" width="10" height="10" fill="url(#py)"/>
<rect x="410" y="510" width="10" height="10" fill="url(#px)"/>
<rect x="420" y="510" width="10" height="10" fill="url(#pu)"/>
<rect x="430" y="510" width="10" height="10" fill="url(#px)"/>
<rect x="440" y="510" width="10" height="10" fill="url(#pu)"/>
<rect x="450" y="510" width="10" height="10" fill="url(#po)"/>
<rect x="460" y="510" width="10" height="10" fill="url(#pu)"/>
<rect x="470" y="510" width="30" height="10" fill="url(#px)"/>
<rect x="500" y="510" width="10" height="10" fill="url(#pr)"/>
<rect x="510" y="510" width="10" height="10" fill="url(#po)"/>
<rect x="520" y="510" width="10" height="10" fill="url(#pu)"/>
<rect x="530" y="510" width="20" height="10" fill="url(#pa)"/>
<rect x="550" y="510" width="10" height="10" fill="url(#pd)"/>
<rect x="560" y="510" width="10" height="10" fill="url(#pn)"/>
<rect x="570" y="510" width="10" height="10" fill="url(#py)"/>
<rect x="580" y="510" width="30" height="10" fill="url(#pa)"/>
<rect x="280" y="520" width="10" height="10" fill="url(#pb)"/>
<rect x="290" y="520" width="10" height="10" fill="url(#pe)"/>
<rect x="300" y="520" width="10" height="10" fill="url(#px)"/>
<rect x="310" y="520" width="10" height="10" fill="url(#pe)"/>
<rect x="320" y="520" width="10" height="10" fill="url(#pu)"/>
<rect x="330" y="520" width="10" height="10" fill="url(#pv)"/>
<rect x="340" y="520" width="10" height="10" fill="url(#pm)"/>
<rect x="350" y="520" width="20" height="10" fill="url(#pw)"/>
<rect x="370" y="520" width="10" height="10" fill="url(#pu)"/>
<rect x="380" y="520" width="10" height="10" fill="url(#pb)"/>
<rect x="390" y="520" width="10" height="10" fill="url(#py)"/>
<rect x="400" y="520" width="10" height="10" fill="url(#px)"/>
<rect x="410" y="520" width="10" height="10" fill="url(#py)"/>
<rect x="420" y="520" width="40" height="10" fill="url(#px)"/>
<rect x="460" y="520" width="20" height="10" fill="url(#pu)"/>
<rect x="480" y="520" width="10" height="10" fill="url(#po)"/>
<rect x="490" y="520" width="30" height="10" fill="url(#pr)"/>
<rect x="520" y="520" width="10" height="10" fill="url(#pm)"/>
<rect x="530" y="520" width="10" height="10" fill="url(#pn)"/>
<rect x="540" y="520" width="10" height="10" fill="url(#pa)"/>
<rect x="550" y="520" width="10" height="10" fill="url(#pn)"/>
<rect x="560" y="520" width="10" height="10" fill="url(#pa)"/>
<rect x="300" y="530" width="10" height="10" fill="url(#pv)"/>
<rect x="310" y="530" width="10" height="10" fill="url(#pb)"/>
<rect x="320" y="530" width="20" height="10" fill="url(#pv)"/>
<rect x="340" y="530" width="10" height="10" fill="url(#pb)"/>
<rect x="350" y="530" width="10" height="10" fill="url(#pw)"/>
<rect x="360" y="530" width="20" height="10" fill="url(#pu)"/>
<rect x="380" y="530" width="10" height="10" fill="url(#pe)"/>
<rect x="390" y="530" width="20" height="10" fill="url(#py)"/>
<rect x="410" y="530" width="30" height="10" fill="url(#px)"/>
<rect x="440" y="530" width="10" height="10" fill="url(#py)"/>
<rect x="450" y="530" width="10" height="10" fill="url(#px)"/>
<rect x="460" y="530" width="10" height="10" fill="url(#pu)"/>
<rect x="470" y="530" width="10" height="10" fill="url(#po)"/>
<rect x="480" y="530" width="10" height="10" fill="url(#pu)"/>
<rect x="490" y="530" width="20" height="10" fill="url(#pr)"/>
<rect x="510" y="530" width="10" height="10" fill="url(#pm)"/>
<rect x="520" y="530" width="10" height="10" fill="url(#pn)"/>
<rect x="300" y="540" width="20" height="10" fill="url(#pv)"/>
<rect x="320" y="540" width="10" height="10" fill="url(#pu)"/>
<rect x="330" y="540" width="10" height="10" fill="url(#pv)"/>
<rect x="340" y="540" width="10" height="10" fill="url(#pb)"/>
<rect x="350" y="540" width="10" height="10" fill="url(#pv)"/>
<rect x="360" y="540" width="10" height="10" fill="url(#pw)"/>
<rect x="370" y="540" width="10" height="10" fill="url(#pu)"/>
<rect x="380" y="540" width="20" height="10" fill="url(#pe)"/>
<rect x="400" y="540" width="30" height="10" fill="url(#px)"/>
<rect x="430" y="540" width="10" height="10" fill="url(#py)"/>
<rect x="440" y="540" width="30" height="10" fill="url(#px)"/>
<rect x="470" y="540" width="20" height="10" fill="url(#pu)"/>
<rect x="490" y="540" width="20" height="10" fill="url(#pm)"/>
<rect x="510" y="540" width="10" height="10" fill="url(#pn)"/>
<rect x="300" y="550" width="10" height="10" fill="url(#pv)"/>
<rect x="310" y="550" width="20" height="10" fill="url(#pu)"/>
<rect x="330" y="550" width="10" height="10" fill="url(#pv)"/>
<rect x="340" y="550" width="10" height="10" fill="url(#pu)"/>
<rect x="350" y="550" width="10" height="10" fill="url(#pb)"/>
<rect x="360" y="550" width="10" height="10" fill="url(#pw)"/>
<rect x="370" y="550" width="10" height="10" fill="url(#pv)"/>
<rect x="380" y="550" width="10" height="10" fill="url(#pd)"/>
<rect x="390" y="550" width="10" height="10" fill="url(#py)"/>
<rect x="400" y="550" width="10" height="10" fill="url(#pe)"/>
<rect x="410" y="550" width="30" height="10" fill="url(#px)"/>
<rect x="440" y="550" width="10" height="10" fill="url(#py)"/>
<rect x="450" y="550" width="20" height="10" fill="url(#px)"/>
<rect x="470" y="550" width="10" height="10" fill="url(#pu)"/>
<rect x="500" y="550" width="10" height="10" fill="url(#pu)"/>
<rect x="300" y="560" width="10" height="10" fill="url(#pn)"/>
<rect x="310" y="560" width="10" height="10" fill="url(#pb)"/>
<rect x="330" y="560" width="10" height="10" fill="url(#pb)"/>
<rect x="340" y="560" width="10" height="10" fill="url(#pv)"/>
<rect x="350" y="560" width="10" height="10" fill="url(#pu)"/>
<rect x="360" y="560" width="20" height="10" fill="url(#pw)"/>
<rect x="380" y="560" width="10" height="10" fill="url(#pv)"/>
<rect x="390" y="560" width="10" height="10" fill="url(#pu)"/>
<rect x="400" y="560" width="10" height="10" fill="url(#pe)"/>
<rect x="410" y="560" width="10" height="10" fill="url(#py)"/>
<rect x="420" y="560" width="20" height="10" fill="url(#px)"/>
<rect x="440" y="560" width="10" height="10" fill="url(#py)"/>
<rect x="450" y="560" width="10" height="10" fill="url(#pu)"/>
<rect x="270" y="570" width="30" height="10" fill="url(#pn)"/>
<rect x="300" y="570" width="10" height="10" fill="url(#pm)"/>
<rect x="310" y="570" width="10" height="10" fill="url(#pn)"/>
<rect x="320" y="570" width="10" height="10" fill="url(#pb)"/>
<rect x="330" y="570" width="30" height="10" fill="url(#pv)"/>
<rect x="360" y="570" width="10" height="10" fill="url(#pu)"/>
<rect x="370" y="570" width="10" height="10" fill="url(#pw)"/>
<rect x="380" y="570" width="10" height="10" fill="url(#pv)"/>
<rect x="390" y="570" width="10" height="10" fill="url(#py)"/>
<rect x="400" y="570" width="10" height="10" fill="url(#px)"/>
<rect x="410" y="570" width="10" height="10" fill="url(#py)"/>
<rect x="420" y="570" width="20" height="10" fill="url(#pu)"/>
<rect x="290" y="580" width="30" height="10" fill="url(#pn)"/>
<rect x="320" y="580" width="20" height="10" fill="url(#pv)"/>
<rect x="340" y="580" width="10" height="10" fill="url(#py)"/>
<rect x="350" y="580" width="10" height="10" fill="url(#pu)"/>
<rect x="360" y="580" width="10" height="10" fill="url(#pv)"/>
<rect x="370" y="580" width="10" height="10" fill="url(#pu)"/>
<rect x="380" y="580" width="10" height="10" fill="url(#pv)"/>
<rect x="390" y="580" width="10" height="10" fill="url(#pm)"/>
<rect x="340" y="590" width="20" height="10" fill="url(#py)"/>
<rect x="360" y="590" width="10" height="10" fill="url(#px)"/>
<rect x="370" y="590" width="10" height="10" fill="url(#pu)"/>
<rect x="380" y="590" width="10" height="10" fill="url(#pm)"/>
<rect x="350" y="600" width="10" height="10" fill="url(#py)"/>
<rect x="360" y="600" width="10" height="10" fill="url(#px)"/>
<rect x="370" y="600" width="10" height="10" fill="url(#py)"/>
<ellipse cx="400" cy="441" rx="11" ry="10.5" fill="url(#pUR)"/>
<ellipse cx="413" cy="444" rx="7" ry="4.5" fill="url(#pr)"/>
<ellipse cx="393" cy="452" rx="4" ry="4" fill="url(#pr)"/>
<ellipse cx="432" cy="448" rx="6" ry="3" fill="url(#pUR)"/>
<ellipse cx="405" cy="433" rx="6" ry="3" fill="url(#pr)"/>
<path d="M394.5 437 L397 434 L400 433.5 L404 434.5 L408 437 L409 441 L407.5 446 L404 447.5 L399 447 L396 445 L394 442 Z" fill="#c8c8c8" stroke="#fff" stroke-width="1.4"/><path d="M301 192 L309.3 191.3 L317.3 188 L324 185 L334.7 182 L342.7 180 L364 177 L392 174.7 L392 159 L397.3 153 L402 152 L401 148 L397.3 144 L398.7 138.7 L402.7 132 L406.7 126.7 L412 122 L416.7 120" fill="none" stroke="#000" stroke-width="1.1" stroke-linejoin="round" stroke-linecap="round"/>
<path d="M416.7 120 L414.7 117.3 L412 113.3 L406.7 109.3 L404 104 L404 97.3 L406.7 93.3 L410.7 89.3 L413.3 82.7 L414.7 76 L415.3 73" fill="none" stroke="#000" stroke-width="1.1" stroke-linejoin="round" stroke-linecap="round"/>
<path d="M416.7 120 L420 121.3 L421.3 126.7 L425.3 130.7 L430.7 133.3 L433.3 134.7 L433.3 129.3 L437.3 125.3 L442.7 121.3 L448 116 L454.7 114.7 L460 113.3 L461.3 110.7 L465.3 109.3 L470.7 106 L474.7 104.7 L476.7 108.8 L480 115 L482 112.5 L493 111 L495.7 108 L501.8 107.6 L512.8 105.7 L522.6 103.3 L527.5 101.5 L531 100" fill="none" stroke="#000" stroke-width="1.1" stroke-linejoin="round" stroke-linecap="round"/>
<path d="M316 262 L324 270 L332 280 L338 290 L342 300 L348 308 L354 316 L366 317 L374 314 L376 309 L384 310 L388 308 L388 302 L380 300 L376 294 L376 286 L378 276 L384 274 L392 274" fill="none" stroke="#000" stroke-width="1.1" stroke-linejoin="round" stroke-linecap="round"/>
<path d="M438 276 L440 286 L432 292 L430 300 L432 308 L438 316 L440 324 L444 330 L450 328 L448 320 L452 312 L460 308 L466 304" fill="none" stroke="#000" stroke-width="1.1" stroke-linejoin="round" stroke-linecap="round"/>
<path d="M408 378 L416 368 L424 362 L428 368 L440 372 L460 372 L470 371 L482 370" fill="none" stroke="#000" stroke-width="1.1" stroke-linejoin="round" stroke-linecap="round"/>
<path d="M470 372 L482 370.5 L483.7 381.5 L497 385.6 L515 395 L516.5 398 L524.7 399 L538 399" fill="none" stroke="#000" stroke-width="1.1" stroke-linejoin="round" stroke-linecap="round"/>
<path d="M470 421 L475.5 421 L489 415.7 L487.8 411.6 L483.7 402 L504 404.7 L512 400.6 L516.5 398" fill="none" stroke="#000" stroke-width="1.1" stroke-linejoin="round" stroke-linecap="round"/>
<path d="M551.8 265 L558 264.5 L565 265 L571 266" fill="none" stroke="#000" stroke-width="1.1" stroke-linejoin="round" stroke-linecap="round"/>
<path d="M544.4 488.9 L535.6 497.8 L528.9 506.7 L522.2 515.6 L513.3 520 L504.4 521" fill="none" stroke="#000" stroke-width="1.1" stroke-linejoin="round" stroke-linecap="round"/>
<path d="M544.4 488.9 L555.6 495.6 L564.4 500 L573.3 502.2 L582.2 504.4 L591 511 L593.3 517.8" fill="none" stroke="#000" stroke-width="1.1" stroke-linejoin="round" stroke-linecap="round"/>
<path d="M356 378 L360 376 L372 380 L380 376 L382 382 L388 388 L400 386 L408 380 L412 372 L418 366 L424 363 L428 368" fill="none" stroke="#000" stroke-width="1.1" stroke-linejoin="round" stroke-linecap="round"/>
<path d="M356 378 L358 384 L366 388 L374 392 L380 394 L378 398 L372 404 L364 410 L354 414 L344 422 L334 428 L332 430 L342 432 L344 436 L340 442 L334 446 L334 454 L332 462 L330 466 L322 464 L316 458 L310 454 L300 450 L294 444 L294 436 L292 426 L288 420 L280 418 L272 416" fill="none" stroke="#000" stroke-width="1.1" stroke-linejoin="round" stroke-linecap="round"/>
<path d="M334 466 L336 460 L346 460 L350 466 L352 472 L356 476 L354 484 L352 490 L356 496 L361 500 L369 502 L375 506 L379 510 L383 520 L383 532 L395 532 L401 538 L401 548 L409 552 L415 560 L413 568 L407 570 L403 577" fill="none" stroke="#000" stroke-width="1.1" stroke-linejoin="round" stroke-linecap="round"/>
<path d="M383 496 L395 504 L400 506 L413 508.7 L417 506 L430.7 504.7 L434.7 506 L437 512.7 L438.7 520.7 L440 524.7 L445 522 L453 521.3 L464 522 L472 524.7 L480 524 L490.7 523 L498.7 520.7 L501 518 L506.7 519 L513 518 L517 520.7 L522 519" fill="none" stroke="#000" stroke-width="1.1" stroke-linejoin="round" stroke-linecap="round"/>
<path d="M434.7 506 L436 492 L439 480.7 L445 469 L450.7 460.5 L456.5 449 L456.5 440 L462 434.5 L474 428.7 L479.7 420" fill="none" stroke="#000" stroke-width="1.1" stroke-linejoin="round" stroke-linecap="round"/>
<path d="M439.5 234 L443 238 L444 242 L442 245 L439 248 L438.5 251 L440 255 L443 258 L446 261 L449 263 L453 266 L453 271 L455 274" fill="none" stroke="#000" stroke-width="3.6" stroke-linejoin="round" stroke-linecap="round"/>
<path d="M449 263 L450 256" fill="none" stroke="#000" stroke-width="2.6" stroke-linejoin="round" stroke-linecap="round"/>
<path d="M446 261 L440 261 L436 261" fill="none" stroke="#000" stroke-width="3" stroke-linejoin="round" stroke-linecap="round"/>
<path d="M392 273 L400 273 L406 273 L410 267 L415 264 L420 262 L421 259 L423 265 L427 268 L430 272 L435 273 L438 274 L444 272 L450 270 L453 267" fill="none" stroke="#000" stroke-width="3.4" stroke-linejoin="round" stroke-linecap="round"/>
<path d="M439 275 L438.5 280 L438.5 285" fill="none" stroke="#000" stroke-width="3" stroke-linejoin="round" stroke-linecap="round"/>
<path d="M455 273 L459 277 L464 284 L469 290 L475 295 L481 298 L485 303 L489 307 L493 311 L497 311 L502 309.5 L508 309 L515 309 L520 308 L525 305" fill="none" stroke="#000" stroke-width="2.3" stroke-linejoin="round" stroke-linecap="round"/>
<path d="M455 275 L460 282 L465 288 L470 296 L475 303 L480 309 L485 313 L490 317 L495 320 L500 321 L505 319 L509 317 L513 319 L517 323 L521 327 L525 331 L528 335 L531 340 L533 345" fill="none" stroke="#000" stroke-width="2.3" stroke-linejoin="round" stroke-linecap="round"/>
<path d="M509 315 L515 319 L520 324 L525 329 L529 335 L532 341" fill="none" stroke="#000" stroke-width="2" stroke-linejoin="round" stroke-linecap="round"/>
<path d="M470 262.5 L470 268 L466 271 L468 275 L475 274 L476 279 L470 282 L465 284" fill="none" stroke="#000" stroke-width="4.5" stroke-linejoin="round" stroke-linecap="round"/>
<path d="M471 320 L479 318 L485 315" fill="none" stroke="#000" stroke-width="3.6" stroke-linejoin="round" stroke-linecap="round"/>
<path d="M489 315 L490 327 L491 329" fill="none" stroke="#000" stroke-width="3" stroke-linejoin="round" stroke-linecap="round"/>
<path d="M499 331 L505 329 L507 325" fill="none" stroke="#000" stroke-width="3" stroke-linejoin="round" stroke-linecap="round"/>
<path d="M551.8 265 L550.6 270 L549 275 L548 280 L546.8 285 L545.5 291.7 L546.8 296.8 L553 298 L555.6 300.6 L554.4 304.4 L550.6 308 L550.6 313 L551.8 318 L548 322 L543 324.6 L540.5 328.4 L543 333.4 L548 337 L553 338.5 L557 336 L559.4 338.5 L558 343.5 L555.6 351 L557 358.7 L559.4 366.3 L563 370.5 L561.7 384 L560 398 L559 411.6 L557.5 422.5 L557.5 432 L559 439 L563 437.5 L564.4 432" fill="none" stroke="#000" stroke-width="5" stroke-linejoin="round" stroke-linecap="round"/>
<path d="M500 322 L506 326 L512.6 328.4 L519 336 L524 341 L525.3 347 L522.8 355 L512.6 358.7 L505 360 L500 361" fill="none" stroke="#000" stroke-width="2.5" stroke-linejoin="round" stroke-linecap="round"/>
<path d="M510 317 L515 323 L520 328.4 L525.3 331 L529 336 L530 341 L527.8 346 L525.3 351" fill="none" stroke="#000" stroke-width="2" stroke-linejoin="round" stroke-linecap="round"/>
<path d="M531.6 344.8 L538 346 L541.7 343.5 L543 338.5" fill="none" stroke="#000" stroke-width="2.5" stroke-linejoin="round" stroke-linecap="round"/>
<path d="M478 372 L482 368 L490.5 363.7 L504 358 L515 355.5 L524.7 352.7 L529 350" fill="none" stroke="#000" stroke-width="3.6" stroke-linejoin="round" stroke-linecap="round"/>
<path d="M525 358.7 L538 355 L550.6 353.7 L555.6 351" fill="none" stroke="#000" stroke-width="2.5" stroke-linejoin="round" stroke-linecap="round"/>
<path d="M516.5 370.5 L524.7 367.8 L533 369 L538 372 L534 377 L528.8 374.6 L522 372" fill="none" stroke="#000" stroke-width="3.4" stroke-linejoin="round" stroke-linecap="round"/>
<path d="M533 361 L541 374.6 L546.6 382.8 L550.7 388.3 L552 391 L546.6 396.5 L541 398 L544 404.7 L545 411.6 L542.5 418.4 L538 424 L534 426.6 L531.6 432 L533 437.5 L530 443 L526 445.8 L522 443 L520.6 437.5 L511 436 L505.6 437.5 L504 429 L501.5 428 L500 434.8 L492 429 L490.5 428 L487.8 432 L478 428 L475.5 429" fill="none" stroke="#000" stroke-width="2.2" stroke-linejoin="round" stroke-linecap="round"/>
<path d="M546.6 382.8 L550.7 388.3 L552 391 L546.6 396.5" fill="none" stroke="#000" stroke-width="3.6" stroke-linejoin="round" stroke-linecap="round"/>
<path d="M545 411.6 L542.5 418.4 L538 424" fill="none" stroke="#000" stroke-width="3.2" stroke-linejoin="round" stroke-linecap="round"/>
<path d="M475.5 429 L483.7 437.5 L497 443 L511 448.5 L518 454 L527.5 459.4 L534 466 L537 470.4 L541 467.6 L546.6 462 L549 456.7 L552 448.5 L556 445.8 L557.5 443" fill="none" stroke="#000" stroke-width="2.2" stroke-linejoin="round" stroke-linecap="round"/>
<path d="M557.5 445.8 L552 452 L546.6 462 L544 473 L542.5 480" fill="none" stroke="#000" stroke-width="3.4" stroke-linejoin="round" stroke-linecap="round"/>
<rect x="335" y="297" width="3" height="3" fill="#323232"/>
<path d="M478 467 L490 465 L488 478 L482 492 L476 499 L471 497 L474 482 Z" fill="#323232"/>
</g>

<path d="M295.8 74.5 L316 73.8 L360 74 L400 73.5 L415 72 L420 75 L462 77 L470 74.6 L481 75 L485.9 82 L488.3 75.8 L494.4 74 L500.6 70.9 L502.4 64.8 L506.7 64.8 L507.9 67.2 L512.8 63.6 L514 60.5 L520 61.7 L525 62.9 L526.8 66 L533.6 66 L539 66 L540.3 68.4 L539.7 75.8 L537.2 78.2 L536.6 84.3 L536 90.5 L532.3 94 L530.5 100.2 L531 103.9 L533.6 106.3 L539.7 107.6 L543.3 111.2 L549.5 115 L552 121 L554.4 124.7 L561.7 124 L564.7 128.3 L566.6 133.2 L571.5 133.2 L569.6 138 L568.4 148 L569 152.8 L573.3 154 L573.3 157.7 L569.6 159 L570 165 L567 180 L570 189 L569 196 L560 197 L558 201 L563 202 L558 206 L562 208 L572 203 L580 204 L586 210 L585 219 L582 226 L578 235 L578 244 L581 251 L580 260 L572 265 L571 266 L576 276 L585 283 L592 288 L594 294 L599 301 L600 304 L596 307 L589 312 L588 330 L589 338 L591 354 L583 359 L582 366 L583 377 L592 381 L593 391 L590 400 L589 409 L586 417 L582 421 L585 428 L588 434 L593 439 L598 448 L601 455 L604 463 L609 466 L612 469 L616 471 L621 472 L627 479 L630 485 L639 485 L640 490 L635 493 L628 496 L624 504 L621 513 L618 518 L596 519 L572 519 L557 521 L547 524 L540 529 L530 535 L518 539 L506 543 L498 550 L491 555 L479 561 L469 567 L454 570 L440 573 L425 577 L407 580 L399 585 L391 592 L379 598 L369 604 L363 607 L359 606 L353 600 L343 593 L335 590 L315 586 L295 581 L274 578 L273 577 L279 576 L291 575 L304 574 L303 568 L302 562 L302 558 L304 555 L303 546 L301 534 L286 532 L285 528 L280 524 L279 508 L275 498 L273 484 L267 476 L264 460 L261 448 L262 440 L263 436 L266 428 L271 420 L274 410 L280 404 L284 396 L285 390 L287 380 L288 364 L292 354 L298 344 L301 335 L307 328 L318 325 L315 320 L316 316 L325 312 L324 300 L322 290 L320 280 L319 270 L317 264 L314 262 L313 250 L310 243 L301 240 L303 230 L308 227 L310 223 L306 218 L309 210 L307 200 L303 192 L301 186 L299.6 185 L301 178.7 L304 173.7 L302 166 L302.8 161 L300.3 153.5 L299.6 143.3 L302 139.5 L301.5 137.7 L295.8 134.5 L295.2 129.4 L297 125.7 L300.9 123.8 L295.2 120.6 L291.4 115.5 L289 110.5 L286.4 105.4 L289 101.6 L287 99 L290.2 94.7 L292 90.3 L294 84 L297.7 80.8 L296.5 78.9 Z" fill="none" stroke="#000" stroke-width="2.2" stroke-linejoin="round"/>
<rect x="470" y="665.6" width="66.5" height="1.3" fill="#000"/>
<rect x="470" y="671" width="28" height="14" fill="#960000"/>
<rect x="470" y="688" width="28" height="14" fill="#ff0000"/>
<rect x="470" y="705" width="28" height="14" fill="#ff8200"/>
<rect x="470" y="722" width="28" height="14" fill="#ffc864"/>
<rect x="470" y="739" width="28" height="14" fill="#ffff00"/>
<rect x="470" y="756" width="28" height="14" fill="#64ff00"/>
<rect x="470" y="773" width="28" height="14" fill="#32c800"/>
<rect x="470" y="790" width="28" height="14" fill="#009600"/>
<rect x="470" y="807" width="28" height="14" fill="#286400"/>
<rect x="470" y="835" width="28" height="14" fill="#3232ff"/>
<rect x="470" y="852" width="28" height="14" fill="#323232"/>
<rect x="470" y="869" width="28" height="14" fill="#00c8c8"/>
<rect x="470" y="886" width="28" height="14" fill="#c8c8c8"/>
<circle cx="701.4" cy="759" r="27.1" fill="none" stroke="#111" stroke-width="2.4"/>
<path d="M685.2 739.5 L697.2 766.5 M717.6 739.5 L705.6 766.5" stroke="#111" stroke-width="1.8" fill="none"/>
<path d="M689.6 738.6 L698.8 760.5 M713.2 738.6 L704 760.5" stroke="#111" stroke-width="1.3" fill="none"/>
<path d="M695.2 753.5 L701.4 756 L707.6 753.5 L708.2 766 L705 774.6 L697.8 774.6 L694.6 766 Z" fill="#111"/>
<ellipse cx="701.3" cy="769.6" rx="6.6" ry="5" fill="#111"/>
<path d="M695.6 756.6 L701.4 763.2 L707.2 756.6 M694.4 762.6 L701.4 770 L708.4 762.6" stroke="#fff" stroke-width="0.9" fill="none"/>
<path d="M700.9 748.4 Q699.1 752.4 699.3 754 Q700.9 756.6 702.5 754 Q702.7 752.4 700.9 748.4 Z" fill="#111"/>
<rect x="700.3" y="773" width="1.5" height="12.5" fill="#111"/>
<text font-family='"Liberation Sans", Arial, sans-serif' font-weight="bold" font-size="5.8" fill="#111"><textPath href="#motto" startOffset="9.6" textLength="20" lengthAdjust="spacing">FIAT</textPath></text>
<text font-family='"Liberation Sans", Arial, sans-serif' font-weight="bold" font-size="5.8" fill="#111"><textPath href="#motto" startOffset="40.2" textLength="24.3" lengthAdjust="spacing">PANIS</textPath></text>
<rect x="672.8" y="801" width="214.5" height="2" fill="#1a1a1a"/>
<text id="t_ghana" x="19.30" y="48.2" font-family='"Liberation Sans", Arial, sans-serif' font-weight="bold" font-size="30" fill="#000" textLength="93.16" lengthAdjust="spacing">Ghana</text>
<text id="t_mvhi" x="19.60" y="673.5" font-family='"Liberation Sans", Arial, sans-serif' font-weight="bold" font-size="18" fill="#000" textLength="310.26" lengthAdjust="spacing">Mean Vegetation Health Index (VHI)</text>
<text id="t_from" x="20.10" y="703" font-family='"Liberation Sans", Arial, sans-serif' font-weight="normal" font-size="18" fill="#000" textLength="34.80" lengthAdjust="spacing">from</text>
<text id="t_from2" x="75.60" y="703" font-family='"Liberation Sans", Arial, sans-serif' font-weight="normal" font-size="18" fill="#000" textLength="159.06" lengthAdjust="spacing">: start of SEASON 2</text>
<text id="t_to" x="20.10" y="733" font-family='"Liberation Sans", Arial, sans-serif' font-weight="normal" font-size="18" fill="#000" textLength="14.82" lengthAdjust="spacing">to</text>
<text id="t_to2" x="64.90" y="733" font-family='"Liberation Sans", Arial, sans-serif' font-weight="normal" font-size="18" fill="#000" textLength="205.94" lengthAdjust="spacing">: dekad 2 November 2025</text>
<text id="t_non" x="19.30" y="763" font-family='"Liberation Sans", Arial, sans-serif' font-weight="normal" font-size="18" fill="#000" textLength="313.08" lengthAdjust="spacing">NON-CROPLAND PIXELS EXCLUDED</text>
<text id="t_met" x="19.30" y="793" font-family='"Liberation Sans", Arial, sans-serif' font-weight="normal" font-size="18" fill="#000" textLength="133.34" lengthAdjust="spacing">METOP-AVHRR</text>
<text id="t_wgs" x="20.30" y="823" font-family='"Liberation Sans", Arial, sans-serif' font-weight="normal" font-size="18" fill="#000" textLength="230.54" lengthAdjust="spacing">WGS84, Geographic Lat/Lon</text>
<text id="t_lt" x="469.40" y="665" font-family='"Liberation Sans", Arial, sans-serif' font-weight="bold" font-size="14.5" fill="#000" textLength="68.27" lengthAdjust="spacing">Mean VHI</text>
<text id="t_F" x="678.20" y="761" font-family='"Liberation Sans", Arial, sans-serif' font-weight="bold" font-size="14.8" fill="#111">F</text>
<text id="t_A" x="696.80" y="748" font-family='"Liberation Sans", Arial, sans-serif' font-weight="bold" font-size="13.7" fill="#111">A</text>
<text id="t_O" x="713.40" y="760.6" font-family='"Liberation Sans", Arial, sans-serif' font-weight="bold" font-size="14.8" fill="#111">O</text>
<text id="t_fao1" x="737.80" y="748.3" font-family='"DejaVu Sans Condensed", "DejaVu Sans", sans-serif' font-weight="bold" font-size="14" fill="#1a1a1a" textLength="140.21" lengthAdjust="spacing">Food and Agriculture</text>
<text id="t_fao2" x="738.80" y="765.8" font-family='"DejaVu Sans Condensed", "DejaVu Sans", sans-serif' font-weight="bold" font-size="14" fill="#1a1a1a" textLength="128.94" lengthAdjust="spacing">Organization of the</text>
<text id="t_fao3" x="737.80" y="783.3" font-family='"DejaVu Sans Condensed", "DejaVu Sans", sans-serif' font-weight="bold" font-size="14" fill="#1a1a1a" textLength="100.38" lengthAdjust="spacing">United Nations</text>
<text id="t_g1" x="672.40" y="826.9" font-family='"DejaVu Sans Condensed", "DejaVu Sans", sans-serif' font-weight="normal" font-size="14" fill="#333" textLength="187.56" lengthAdjust="spacing">Global Information and Early</text>
<text id="t_g2" x="672.40" y="844.8" font-family='"DejaVu Sans Condensed", "DejaVu Sans", sans-serif' font-weight="normal" font-size="14" fill="#333" textLength="163.63" lengthAdjust="spacing">Warning System – GIEWS</text>
<text id="t_d1" x="14.50" y="919.8" font-family='"Liberation Sans", Arial, sans-serif' font-weight="normal" font-size="10.6" fill="#000" stroke="#000" stroke-width="0.12" textLength="839.47" lengthAdjust="spacing">Disclaimer: The boundaries and names shown and the designations used on this map do not imply the expression of any opinion whatsoever on the part of FAO</text>
<text id="t_d2" x="15.50" y="933.3" font-family='"Liberation Sans", Arial, sans-serif' font-weight="normal" font-size="10.6" fill="#000" stroke="#000" stroke-width="0.12" textLength="733.05" lengthAdjust="spacing">concerning the legal status of any country, territory, area or of its authorities, or concerning the delimitation of its frontiers and boundaries.</text>
<text id="t_l0" x="509.60" y="682" font-family='"Liberation Sans", Arial, sans-serif' font-weight="normal" font-size="10.4" fill="#000" textLength="29.99" lengthAdjust="spacing">&lt; 0.15</text>
<text id="t_l1" x="509.60" y="699" font-family='"Liberation Sans", Arial, sans-serif' font-weight="normal" font-size="10.4" fill="#000" textLength="50.89" lengthAdjust="spacing">0.15 - 0.25</text>
<text id="t_l2" x="509.60" y="716" font-family='"Liberation Sans", Arial, sans-serif' font-weight="normal" font-size="10.4" fill="#000" textLength="50.89" lengthAdjust="spacing">0.25 - 0.35</text>
<text id="t_l3" x="509.60" y="733" font-family='"Liberation Sans", Arial, sans-serif' font-weight="normal" font-size="10.4" fill="#000" textLength="50.89" lengthAdjust="spacing">0.35 - 0.45</text>
<text id="t_l4" x="509.60" y="750" font-family='"Liberation Sans", Arial, sans-serif' font-weight="normal" font-size="10.4" fill="#000" textLength="50.89" lengthAdjust="spacing">0.45 - 0.55</text>
<text id="t_l5" x="509.60" y="767" font-family='"Liberation Sans", Arial, sans-serif' font-weight="normal" font-size="10.4" fill="#000" textLength="50.89" lengthAdjust="spacing">0.55 - 0.65</text>
<text id="t_l6" x="509.60" y="784" font-family='"Liberation Sans", Arial, sans-serif' font-weight="normal" font-size="10.4" fill="#000" textLength="50.89" lengthAdjust="spacing">0.65 - 0.75</text>
<text id="t_l7" x="509.60" y="801" font-family='"Liberation Sans", Arial, sans-serif' font-weight="normal" font-size="10.4" fill="#000" textLength="50.89" lengthAdjust="spacing">0.75 - 0.85</text>
<text id="t_l8" x="509.60" y="818" font-family='"Liberation Sans", Arial, sans-serif' font-weight="normal" font-size="10.4" fill="#000" textLength="35.45" lengthAdjust="spacing">&gt;= 0.85</text>
<text id="t_m0" x="509.60" y="846" font-family='"Liberation Sans", Arial, sans-serif' font-weight="normal" font-size="10.4" fill="#000" textLength="51.17" lengthAdjust="spacing">off season</text>
<text id="t_m1" x="509.60" y="863" font-family='"Liberation Sans", Arial, sans-serif' font-weight="normal" font-size="10.4" fill="#000" textLength="35.87" lengthAdjust="spacing">no data</text>
<text id="t_m2" x="509.60" y="880" font-family='"Liberation Sans", Arial, sans-serif' font-weight="normal" font-size="10.4" fill="#000" textLength="60.03" lengthAdjust="spacing">no season 2</text>
<text id="t_m3" x="509.60" y="897" font-family='"Liberation Sans", Arial, sans-serif' font-weight="normal" font-size="10.4" fill="#000" textLength="58.71" lengthAdjust="spacing">no cropland</text>
<rect x="1" y="1" width="898" height="948" fill="none" stroke="#000" stroke-width="2"/>
</svg>
</body></html>
